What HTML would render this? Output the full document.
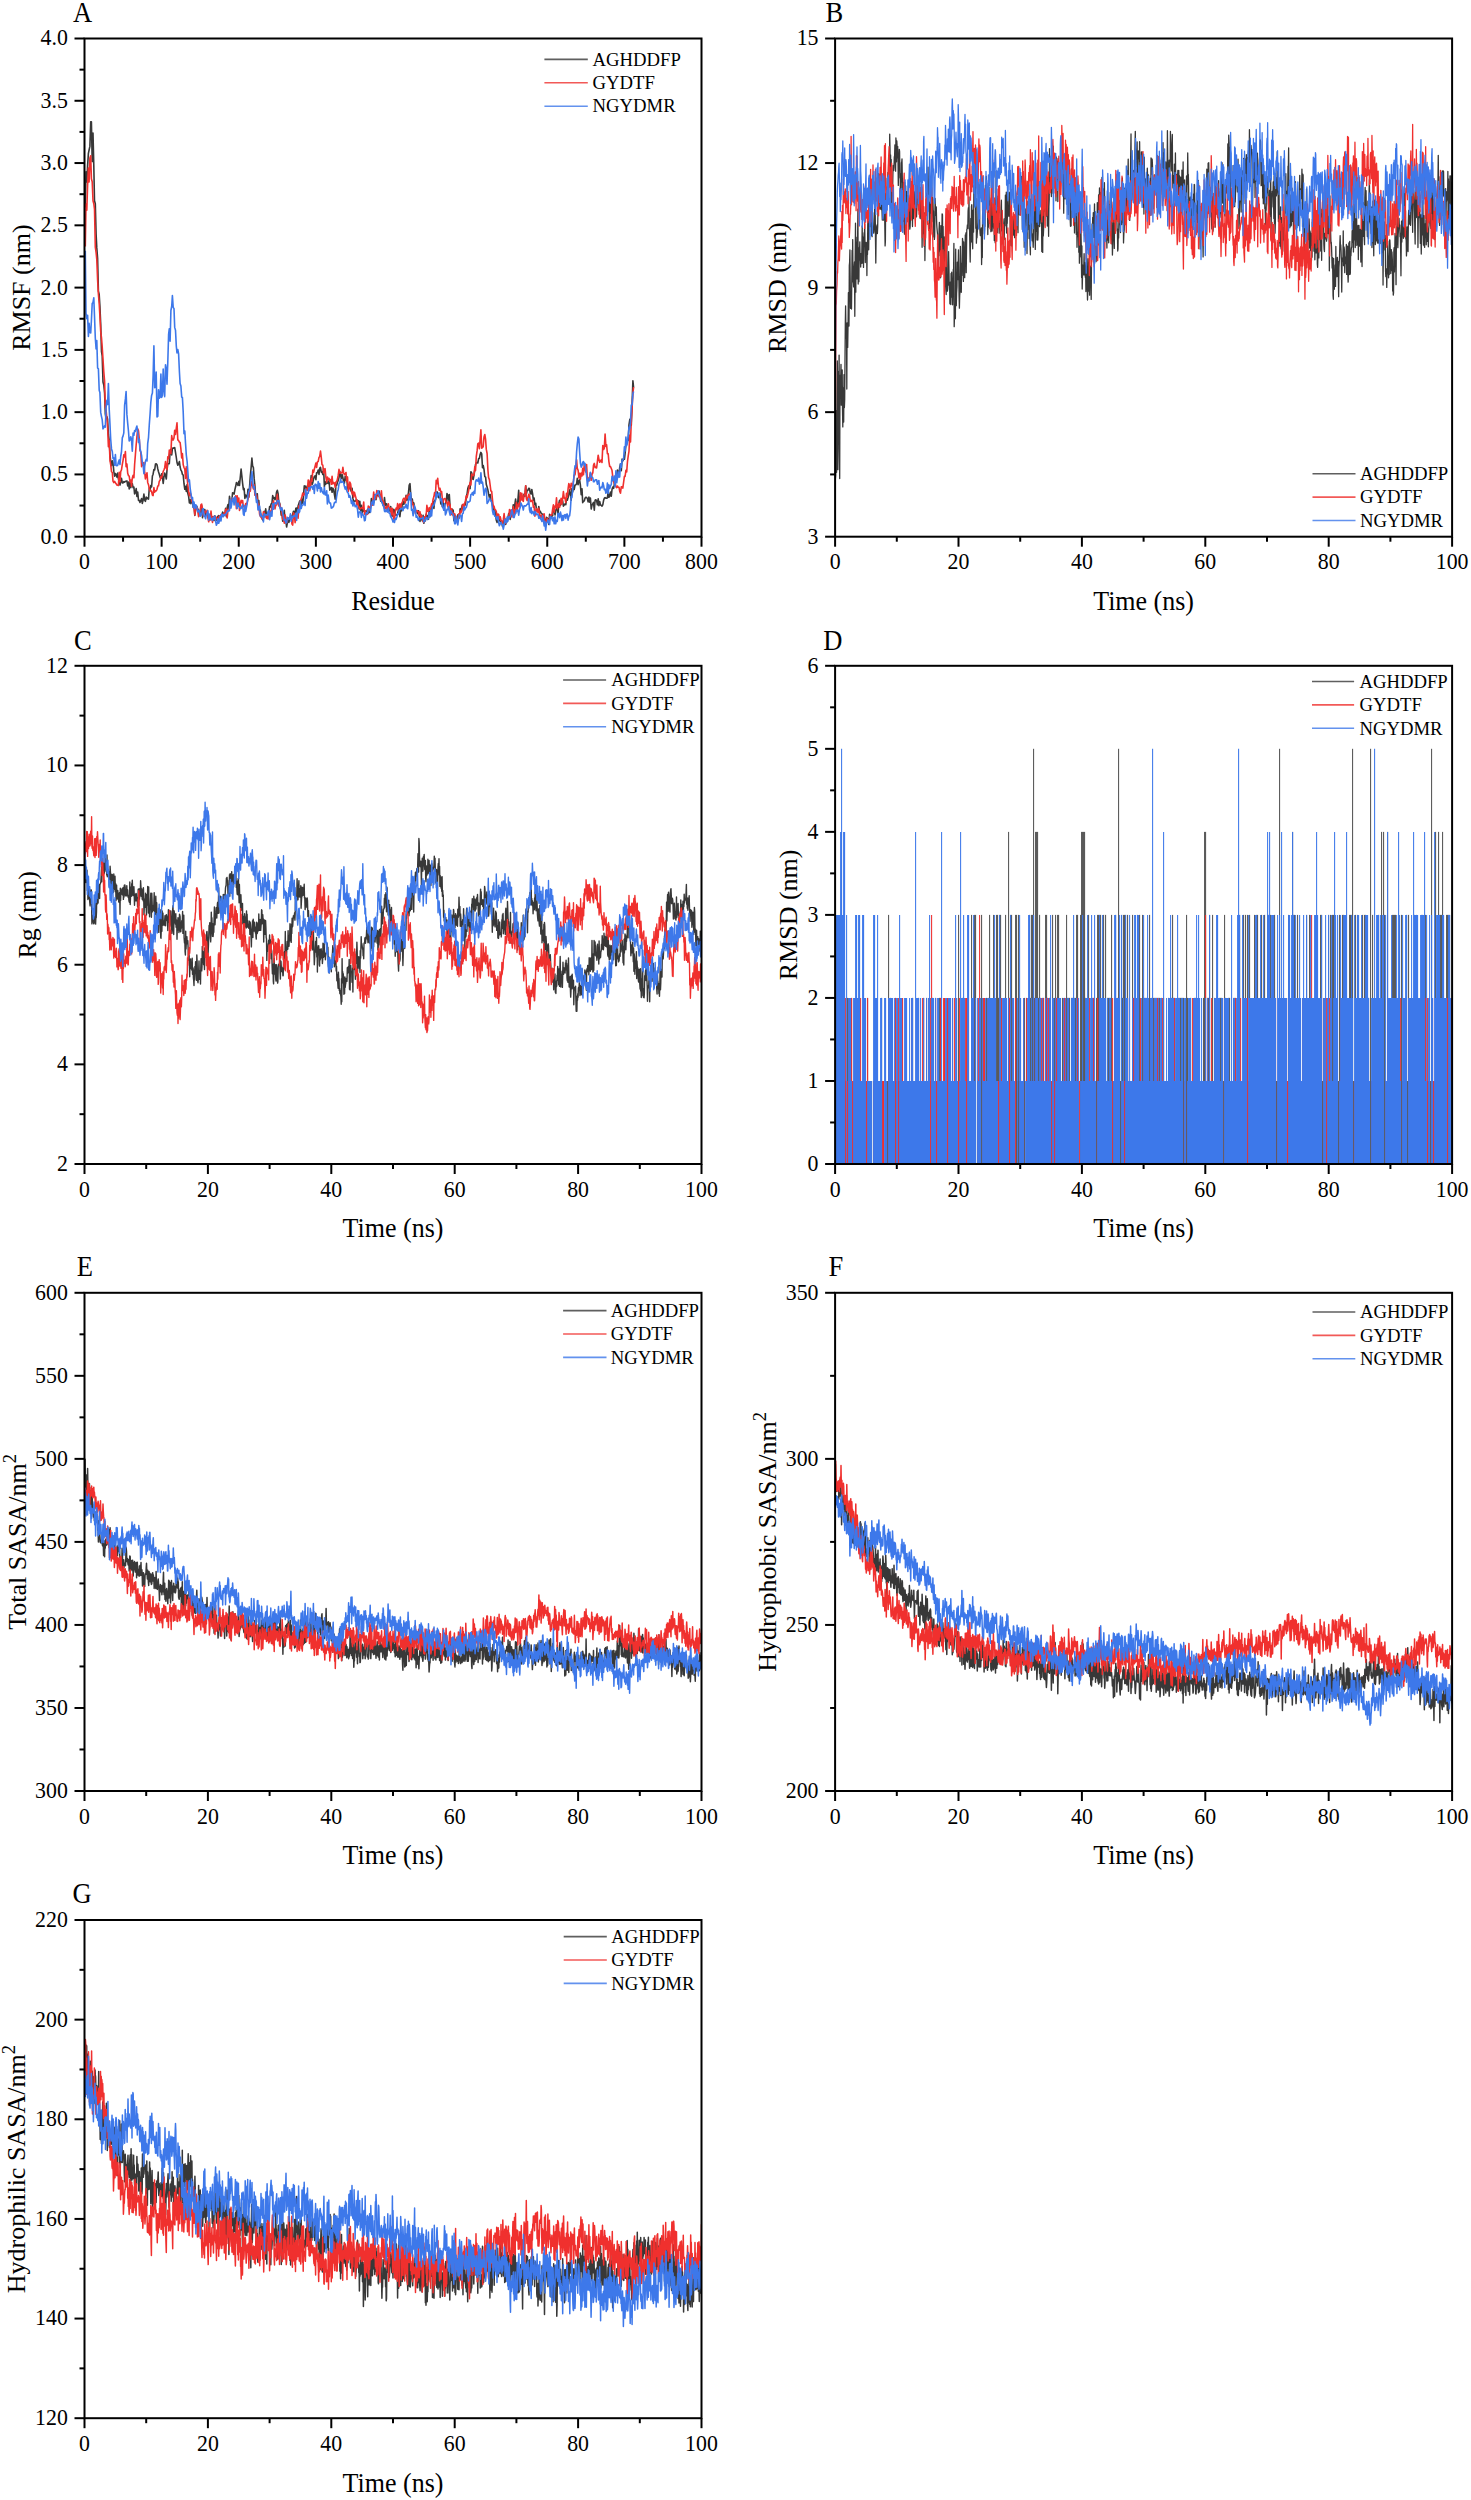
<!DOCTYPE html><html><head><meta charset="utf-8"><style>html,body{margin:0;padding:0;background:#fff;}svg{display:block;}</style></head><body><svg width="1471" height="2500" viewBox="0 0 1471 2500" font-family="Liberation Serif">
<rect width="1471" height="2500" fill="#ffffff"/>
<defs><clipPath id="cA"><rect x="84.5" y="38.5" width="617.0" height="498.2"/></clipPath><clipPath id="cB"><rect x="835.1" y="38.5" width="617.0" height="498.2"/></clipPath><clipPath id="cC"><rect x="84.5" y="665.8" width="617.0" height="498.2"/></clipPath><clipPath id="cD"><rect x="835.1" y="665.8" width="617.0" height="498.2"/></clipPath><clipPath id="cE"><rect x="84.5" y="1292.8" width="617.0" height="498.2"/></clipPath><clipPath id="cF"><rect x="835.1" y="1292.8" width="617.0" height="498.2"/></clipPath><clipPath id="cG"><rect x="84.5" y="1920.0" width="617.0" height="498.2"/></clipPath></defs>
<path d="M85.3 207.5l.7-35.8.8 10.2.8-16.3.8-12.2.7-3.4.8-3.6.8-24.5.7-.1.8 39.8.8-28.5.8 32.7.7 34.9.8 3.1.8 30.5.7 13.6.8 10.3.8 32.9.8 3.4.7 11.5.8 18.1.8 27.6.7 4.2.8 26.2.8 2.9.8 8.2.7 20.6.8 5 .8-2.1.7 2.5.8 15 .8 6.3.8 14.1.7 7.3.8 3.7.8-4.9.7 2.1.8 8.4.8 5 .8-2.7.7.9.8 2.7.8-4.1.7 6.1.8 1 .8 4.9.7-3.4.8-3.3.8 4.6.8 0 .7-1.3.8.6.8-.9.7-.1.8-.3.8 5.1.8-3.9.7 6.8.8-6.7.8 5.4.7-3.2.8-.8.8 4.1.8-.7.7 7 .8-1.7.8-3.7.7 7.9.8-4.5.8 8.4.8 0 .7 2.1.8-1.9.8-2.1.7 4.9.8-3.2.8-6.1.8 6 .7 1.3.8-4.3.8 1.7.7-.9.8 1.2.8-11.3.8 2.3.7-4.5.8 1.3.8-10.9.7-1.8.8-4.7.8.4.8-6 .7-.2.8 1 .8 4.2.7 2.9.8 2.5.8 2.9.8 1.2.7-4.5.8 2.7.8 6.9.7-6.4.8-4.1.8 2.5.8 3.5.7-9.1.8-6 .8-.2.7 0 .8-11.7.8-2.8.8 5.7.7-6.3.8-.7.8.4.7-.7.8 4.8.8 5.1.7 5 .8 2.7.8-1.1.8-2.5.7 5.4.8 3.1.8 1.3.7 2.9.8.7.8 8.7.8 5.6.7-2.9.8 5.1.8-6.9.7 8.7.8 2.9.8 6.8.8-3.3.7 4 .8-4.5.8 2 .7 6.2.8-2.6.8 10.7.8-5.2.7-4.8.8 1.7.8 2.1.7.8.8 4.5.8 0 .8-4.5.7-4.3.8 12 .8-8.1.7.3.8-.5.8 5.9.8-.5.7-1.3.8 3.7.8 1.1.7-.5.8-1.9.8-.8.8 1.6.7.3.8 2.7.8.6.7-4.7.8 3.9.8.6.8-2.3.7-1.5.8-.8.8 1.9.7.7.8-1.6.8-.3.8-4.2.7 2.6.8-1.7.8 1.4.7-6.1.8 8.4.8-9.2.8-3 .7 4.1.8-12.3.8 5.4.7-1.8.8 1.1.8-8.3.8.4.7 1 .8-4.5.8-3.3.7-3.7.8 1 .8 1.8.8-4 .7 4 .8-8.2.8-8.1.7 6.6.8 7.6.8 6.3.7-1.1.8 9.9.8-3.3.8.4.7 2.3.8-8.6.8 8.1.7-9.3.8-12 .8-8.1.8-9.9.7 7.9.8 1.7.8 11.3.7 6.8.8 10.1.8.8.8-2.9.7 10.9.8-4.1.8 10.3.7-.6.8 6.8.8.5.8 2.5.7-2.5.8-6.2.8 5.3.7-7.7.8 6.7.8 1.5.8-4.3.7.8.8-7.1.8.6.7-3.1.8-.5.8-7.9.8 3.2.7-1.3.8 2.3.8-1.8.7-5.7.8-2 .8 3.3.8 10.3.7-1 .8 4.7.8 7.5.7-3.4.8 9.6.8-6 .8-4.9.7 11.4.8-1.5.8 6.7.7-3.9.8-5 .8 4.3.8-3.6.7.1.8-.7.8-2.4.7-1.6.8-2.9.8.3.8 3.4.7-6.7.8-.2.8 6.5.7-8.7.8-2.4.8-2.4.7-.6.8 4 .8-5.2.8 4 .7-8.2.8-9.2.8 2.6.7-2.5.8 2.8.8-.2.8-1.6.7-5.2.8 2.5.8-1.5.7-7.3.8 9.3.8-2.1.8-3.8.7-2.4.8-.7.8 3.8.7-6.9.8.1.8-2.8.8 4.4.7-6.1.8-1 .8 4.8.7-.3.8 2.6.8-5.8.8 18.1.7-4.9.8 2.3.8-3.5.7 2.5.8.3.8-2.8.8 9.6.7-1.6.8-.9.8 4.6.7-4.2.8 1.4.8 4.8.8 4.8.7-14.6.8.7.8-2.9.7-1.9.8-2.8.8-6.3.8 4.1.7 3.1.8-4 .8 3.3.7 3.9.8 1.4.8-6.7.8 3.6.7-3.2.8 10.5.8 2.3.7-2.3.8-1.8.8 4.3.8 2 .7-3.5.8 10.1.8 3 .7-.3.8 0 .8-.8.8-.7.7 3.3.8-2.1.8 8.2.7-7.6.8 9.1.8-5.2.8 7.3.7-3.1.8 1.7.8-.5.7.1.8 1.9.8-1.3.7-1.9.8 3.8.8-2.7.8 1.8.7-5.9.8-7.9.8 2.8.7 3.2.8-2.4.8-7.3.8 2.9.7 1.9.8-3.8.8-1.7.7 1.3.8-4.4.8 3.5.8 6.5.7-1.7.8 3.3.8 1.6.7 2.3.8-9.1.8 7.8.8-1.5.7.3.8 5.1.8-1.5.7 1.2.8 2.2.8-4.5.8 6.8.7 2.8.8-3.1.8-3.9.7 1.7.8 3.8.8.5.8-.3.7-1.4.8-3.7.8-1.9.7 8.8.8-7.3.8 1.5.8-7.3.7-2.6.8 3.5.8-2.8.7-.2.8-6.2.8 4.9.8-3.4.7-3.3.8-8.3.8-1.5.7 10.6.8 6.6.8-1.8.8 5.5.7-1.7.8 7.3.8.2.7 1.4.8-.7.8 2.7.8-3.1.7 4.2.8 6.5.8-7 .7 4.3.8 2 .8-5.3.7 7.9.8-3.9.8 1.4.8-6.8.7 4.1.8-2.6.8 3.8.7-9.1.8 6.5.8-6.7.8-1.5.7-2.8.8-4.2.8 6.9.7-7.2.8-1.5.8-3.3.8-4.6.7.9.8 4.9.8-.6.7-3.6.8 10.6.8-2.2.8 5.1.7-4.8.8 7.7.8-4.9.7-1.6.8-1.7.8-8 .8 1.6.7 7.5.8-8.1.8 12.7.7 4.2.8.9.8-3.1.8 1.1.7 10.3.8-5.7.8 4.2.7-.7.8 1.6.8-5.2.8-.5.7 3.6.8-9.2.8 2.1.7-3.1.8-3.1.8 5.4.8-4.3.7-.1.8-2.1.8-6.4.7-2.7.8-5.9.8-2.7.8 2.3.7.4.8-16.9.8 1.2.7 5.8.8.7.8-4.2.8-5 .7-5.6.8-1.7.8-.3.7.4.8-4.2.8-.5.8-4.1.7-1.8.8 1.5.8 13.8.7-2.2.8 3.8.8 7.3.8.5.7 7.4.8 2.6.8 2.9.7 4 .8 3.5.8-3 .7 5.4.8 2.2.8 2.7.8 5.3.7 3.1.8-2.7.8 4.6.7 5.1.8 2.2.8-6 .8 3.7.7-.9.8 2.4.8.5.7.4.8 3.9.8-4.2.8-3.7.7 0 .8 6 .8-2 .7-.9.8-3.9.8-4.1.8.7.7 5.2.8-6.1.8-3.1.7 2.8.8-8.4.8 6.3.8-7 .7-5 .8 9.9.8-4.4.7-4.2.8-9.9.8 14.7.8-8.6.7-.2.8 1.3.8.4.7-2.1.8-1.8.8 2.3.8-10.7.7 8.1.8-3.4.8-.2.7-1.9.8.3.8 5 .8.3.7-4.4.8 4.3.8 6.5.7-2.3.8 6.9.8-1.6.8 6.7.7.6.8.7.8-4.8.7 4.6.8.1.8 2.1.8.4.7.9.8 0 .8 2.7.7 4.1.8.6.8-4.7.7.5.8 1.4.8 5.2.8-10.1.7 2.5.8.2.8-1.3.7.2.8-7.3.8-.8.8 7.2.7-3.7.8-2.6.8-4 .7 10.3.8-11.4.8-3.4.8 5.2.7-1.5.8-4.8.8 2.2.7 4.8.8-1.1.8-1.1.8.7.7-5.2.8.8.8-2.7.7-3.1.8-4.5.8 4.3.8 6.1.7-11.8.8 3.3.8-6.1.7 3.8.8-4.4.8-.2.8-1.1.7-5.4.8 6.2.8-3.7.7-1 .8 5.3.8 9.4.8-5.7.7 13.8.8-1.5.8-.3.7-2.6.8-1.1.8.3.8 1.1.7 3.3.8-4.8.8 5.1.7-4.2.8 11 .8-3.9.8-1.1.7-1.6.8 7.7.8-10 .7-.4.8.8.8 4.3.8-5.9.7 6.8.8-4.2.8 3.5.7.3.8.8.8-1.3.8-4.5.7-1.9.8-.9.8.7.7-.1.8-.2.8-6.1.7 5.5.8-1.1.8-4.1.8 4.1.7-6.7.8-2.4.8 1.3.7-3.8.8-6.7.8 1.2.8-3.3.7-5.8.8 4 .8-.1.7-6.2.8-3.8.8 6.9.8-11.7.7 1.9.8-1.6.8-.1.7-5.9.8-8 .8-1.4.8-4.5.7 1 .8-15.6.8-5.4.7-.5.8 6.3.8-21.7.8-22.7.7 6.7" fill="none" stroke="#383838" stroke-width="1.6" stroke-linejoin="round" clip-path="url(#cA)"/>
<path d="M85.3 246.5l.7-42.4.8 6.2.8-24.9.8-17.3.7 13.9.8-23.9.8-2.4.7 23 .8 3.1.8 18.9.8 3 .7 5.5.8 37.9.8 5.5.7 7 .8 20.4.8 14.3.8 9.3.7 12.3.8 15.5.8 6.4.7 9.1.8 12.5.8 12.5.8 9.3.7 25.6.8 3.4.8 8.5.7 8.5.8 19.5.8-6.4.8 20.3.7 4.1.8 7 .8.8.7 8.6.8 1.5.8-1.2.8 1.3.7 1 .8 1.3.8.2.7.3.8-13.3.8 9.4.7-9.8.8-2 .8-5.4.8-4.3.7-5.2.8 2.1.8-5.4.7 15 .8-2.6.8 9.2.8 2.5.7.5.8 5.7.8-1.8.7 6.2.8-8.1.8-2.9.8 2.4.7-12.9.8-10.2.8-10.1.7-7.8.8-7.8.8 2 .8 8.4.7 11.3.8 1.5.8 14.6.7-3.9.8 2.5.8-2.7.8 10.1.7 6.2.8-3.4.8-2.8.7 9.7.8 2.3.8 3.8.8 2.5.7-.7.8 1.3.8 3.5.7.5.8-8 .8 4.5.8-1.3.7.1.8-1.6.8-3.3.7-.2.8-4.6.8-.9.8-3.8.7 1.4.8-2.8.8-3.7.7-1.4.8-2.3.8-6.2.8 6.7.7 1.4.8-12.7.8 1.8.7-8.6.8 2.4.8 1.1.8-18 .7 4.2.8.2.8-2.1.7-7.5.8 4.1.8-6.5.7-5.2.8 17.1.8.6.8 1.6.7.3.8 6.5.8 9.1.7-4.5.8 11.1.8 2.9.8 1.7.7 9.3.8-11.6.8 10.7.7 7.2.8 6.5.8 4.5.8-2.7.7 1.4.8 6.1.8 1.8.7.1.8 4.5.8 7.9.8-7.4.7 1.5.8-1.3.8 4.7.7 4.3.8-2.4.8-4.5.8-5.1.7-.6.8 6.3.8 5.5.7-3.1.8-1.7.8.6.8 1.7.7-3.1.8 7.2.8 4.3.7-3.1.8 1.4.8-9.1.8 7.5.7 3.9.8-5.4.8-.8.7 3.1.8-.1.8-1.9.8 1.7.7 2.8.8-4.3.8-1.7.7 1 .8-2.2.8.2.8 1.7.7-.9.8-2.9.8 2.7.7-5.7.8-.9.8 9.1.8-7.7.7.3.8-2.1.8-4.2.7-.8.8-4.1.8-1 .8.1.7 4.1.8-1.1.8-5.5.7 12.9.8-13.1.8 7.6.8-5.2.7 12.3.8-6.5.8-3.6.7 2.5.8-2.3.8 6.3.7-.6.8.7.8-3.3.8.5.7-1.7.8-3.1.8-3.4.7-4.9.8.1.8-6.7.8-3.2.7 4.5.8 3.2.8-4 .7 10.3.8-.3.8 0 .8 4.7.7 5 .8-.4.8 10.1.7 2 .8.2.8 2.1.8-.7.7-6 .8.1.8 4.6.7-1.2.8 3 .8-3.9.8 4.5.7-8.5.8 5.3.8-4.7.7 4.1.8-9.6.8.8.8-5.6.7 4.3.8 3.8.8-4.1.7.1.8-10.7.8 9.2.8 2.5.7-2.2.8 3.1.8 1.4.7 5.1.8 6.1.8-.3.8 4 .7-8.3.8 2.7.8 5.3.7-3.4.8-.7.8-.5.8-.3.7-1.5.8 1.7.8 6 .7 1 .8-12.2.8 1.4.8 8.5.7-8.5.8 2.6.8-3 .7 4.3.8-12.3.8.7.7-4.9.8-2.8.8-2.7.8-3.2.7 2.4.8-1.8.8.9.7-5.9.8.6.8 1.3.8-10.4.7.1.8 10.6.8-4.5.7-7.6.8 2.6.8-11.2.8 2.2.7-3.1.8-3 .8-3.2.7 4.4.8-5.5.8-.4.8-4.1.7-.9.8-5.4.8 6.6.7 6.9.8.6.8 7.7.8-2.7.7-1.5.8 8.7.8 4.7.7-5.1.8 2.3.8-1 .8 2.9.7-1.7.8 4.8.8-8.1.7 7.7.8-1.4.8.4.8 4.5.7-5.3.8-.6.8-2.4.7-3.9.8-5.8.8 3.6.8-.5.7.5.8 0 .8-5.7.7 5.4.8 1.9.8-.8.8-1.3.7 8.9.8-4.4.8 14.2.7-3 .8-6.2.8 1.9.8 6.3.7 3.7.8-2.5.8 5.7.7-4.8.8 2.8.8 3 .8 6.8.7-4.2.8 5.5.8.9.7 1.6.8 0 .8-.9.8-.1.7 1 .8-6.7.8 12.2.7-3.5.8 4.3.8-2.5.7 1.8.8-8.2.8 1.7.8-.7.7-.3.8-4.3.8 2.7.7-4.6.8-8.5.8 6.8.8-.1.7-.4.8-7.8.8.8.7 4 .8 1.5.8-1.7.8 4.7.7-9 .8 8.8.8 1.2.7 1 .8 6.7.8 0 .8-2.2.7.2.8 5 .8-7.7.7 5 .8-1.2.8 1.6.8 5.4.7-6.5.8 5.8.8 5.1.7.4.8-7.9.8-3.5.8 1.5.7-6 .8 5.3.8-3.5.7-1.5.8 4.6.8-5 .8-.9.7-3.2.8-1.1.8-.1.7 4.8.8-5.6.8-1.9.8 2.5.7-3.1.8-.9.8.4.7 5.3.8.4.8 2.5.8 2.1.7 3.8.8.8.8 4 .7-1.1.8-1.8.8 1.1.8.5.7 3.4.8-3.5.8 6.2.7-2.6.8 1.9.8 4.2.7.7.8-5.6.8.5.8-2.2.7-9.7.8 5.8.8-.1.7-3.4.8 2.6.8-2.8.8-3.5.7.9.8-5.6.8-2.6.7-4.1.8 3.3.8-15.4.8 3.4.7-5.4.8 8.3.8 3.6.7-2 .8 3.9.8-.6.8 7.8.7 2.9.8-3.4.8-.3.7.2.8 3.9.8 0 .8 4.2.7-5.7.8 2.1.8 1.6.7 9.8.8-6 .8 6.3.8-2.1.7 1.7.8-.8.8 5.5.7 2 .8.4.8-1 .8-6.6.7 2.9.8-6.2.8 1.7.7-.9.8-6.2.8-1.2.8 4.2.7-5 .8-3 .8-4.7.7 2.1.8-3.5.8-3.5.8-5.3.7-3.2.8 2.6.8-10.8.7.9.8.7.8-1 .8-7.9.7 3.7.8-14.2.8-5.4.7-7 .8-.8.8 5.6.8-10.3.7-8.5.8 18.2.8-.6.7-.8.8-9.8.8-2.4.8 5 .7 9.9.8 4.1.8 16.2.7 7.9.8 2 .8 5.9.7 5.5.8.5.8 8.3.8 7.4.7-1.1.8 3.4.8.5.7 1.5.8 5.7.8-3.2.8.4.7 4.6.8-2.2.8 3.4.7 1 .8 2.1.8-3.4.8-6.4.7 6.7.8 3.2.8-3.3.7.4.8-3.3.8.7.8-8.4.7 4.5.8-3.9.8 6.8.7-2.2.8-8.1.8 9.8.8-6.9.7 3.8.8-10.8.8 7.7.7-4.8.8-1.8.8 3.4.8-14.3.7 7.4.8-6.9.8 6.6.7 1.5.8-6.6.8.1.8-9 .7 13.1.8 1.7.8-2.8.7-3.4.8.9.8 5.9.8.4.7-1.2.8-.1.8 7 .7-1.2.8 10 .8-4.4.8-3.2.7 2.4.8 1.6.8-4.2.7 6.7.8 3.1.8-3 .8.7.7 4.7.8-5.5.8-1.2.7 7.3.8 1.5.8-1.5.7-2.9.8 3.8.8-.8.8-1.6.7-3.6.8-1.2.8-.1.7-5.3.8-4.5.8 7.3.8-6.2.7 1.3.8-9.5.8 10.9.7-2.7.8-2.5.8 3.8.8-4.9.7-4.1.8 5.9.8-6.2.7-6.5.8 6.7.8-.1.8 4.4.7-9.2.8 3.9.8-8.6.7-5 .8 2.5.8 3.4.8-6.3.7 2.7.8-.3.8-4.9.7-5.4.8-.5.8-6.1.8-8.9.7 8.4.8 2 .8 7.8.7-4.8.8 6 .8-6.1.8 2.9.7-7.6.8 6.4.8-11.5.7 5 .8 3.7.8-7.4.8 15.5.7-2.1.8 3.1.8-4.6.7-3.8.8 7.6.8-6 .8-1.4.7-7.5.8-2 .8 4.2.7-.5.8.9.8-6.5.8-6.3.7 3.9.8 3.1.8-.7.7-1.7.8 2.7.8-17 .8 4 .7-1.3.8-14.1.8 12.4.7-1.7.8 8.8.8.2.7 7.8.8 4.9.8.1.8 1.9.7 1.8.8 6.5.8 4.7.7 1.9.8-1 .8 4.3.8.9.7-1.6.8 1.3.8-.1.7 3.9.8 2 .8-6.4.8.2.7 1.3.8-5.8.8-6.1.7.1.8-6 .8 1.5.8-10.6.7-5.2.8-5 .8-16 .7 6.8.8-21.2.8-12.5.8-15 .7-6" fill="none" stroke="#f0302e" stroke-width="1.6" stroke-linejoin="round" clip-path="url(#cA)"/>
<path d="M85.3 250.7l.7 62.5.8 5.4.8-3.3.8 21.1.7-13 .8 8.9.8.7.7-12.2.8-17.3.8-1 .8-4.6.7 18.1.8 22 .8 11 .7-8.4.8 27.4.8.9.8 21.3.7 2.2.8 20 .8 4.2.7 3 .8 9.3.8-1.3.8-1.7.7 1.2.8-19.4.8-7.3.7 4 .8-20.8.8 25.3.8 15.8.7 14.6.8 9.6.8 2.6.7 6.9.8-.5.8 7.4.8-10.8.7 11 .8.3.8-.4.7-3.2.8-2.3.8 4.6.7-8 .8-5 .8-13.6.8-2 .7-3 .8-27.5.8-6.5.7-7.3.8 22.8.8 9 .8 8.1.7 9.4.8-.9.8-3.3.7 2.9.8 11.7.8-18.2.8 2.2.7-4.8.8.9.8-3.3.7-2.1.8 5.8.8 10.7.8-3.4.7 9.3.8 3.2.8 4 .7 6.4.8 2.8.8 8.8.8-7.4.7-4.5.8-2.4.8 1.7.7-17.3.8-6 .8-13.2.8-11 .7-10.9.8-7.2.8-2.3.7-17 .8-30.2.8 41.9.8-.9.7-14.9.8 45 .8-.7.7-26.6.8 8.4.8-.8.8-23.3.7 23.5.8-2 .8-26.5.7 20.4.8 7.3.8-32 .8 4.5.7 15.1.8-22.3.8-27.6.7-5.7.8 12.6.8-30.8.8-4 .7-11 .8 11.8.8 1.3.7 18.8.8 2.9.8 15.8.7 6.8.8-3.4.8 4.4.8 17.6.7 12 .8 2.5.8 11.1.7.3.8 14.3.8 22 .8-2.6.7 11.8.8 12.1.8 6.3.7 9.7.8 10.8.8-1.9.8 8.7.7 4.6.8 5.5.8-1.2.7 9.6.8-5.1.8 6.6.8-3.8.7.7.8 3.2.8 3.3.7-1.7.8.2.8 5.8.8-2.9.7 1.5.8-5.7.8-.5.7 7.6.8-.2.8 2.7.8-4.3.7-1.2.8-2.5.8 9.3.7-6 .8 3.5.8 2 .8-.7.7 1.6.8-3.1.8 1.6.7-3 .8 5.2.8 4.1.8-2.1.7-4.4.8 4.5.8-2.8.7-4.3.8 4.8.8-7 .8.7.7 2.1.8-2.3.8.7.7-1 .8-.8.8-1.7.8-1.1.7.5.8-.7.8-10.8.7 8.4.8-4.3.8-5.8.8 1.2.7 5.9.8-8.2.8 1.3.7 7 .8 3.3.8-5.3.8 3 .7.7.8 1.9.8-.2.7-2 .8-1.9.8 9.5.7 1.3.8-9.9.8 5.9.8-4.3.7-3.2.8-8.7.8-4 .7-1 .8-5.3.8-6.7.8-6.6.7 9.2.8 7.2.8-1.6.7 4.7.8 4.5.8 6.9.8-2.5.7 10 .8-1.2.8-2.8.7 9.9.8-1.8.8 2.6.8-.4.7 5.7.8-8.1.8 2.1.7-1.4.8.2.8.3.8-3.7.7-1 .8 9.2.8-4.6.7-3.3.8 4.6.8-12.6.8 5.4.7-5.6.8-.5.8-.1.7 1.1.8-3.6.8.6.8-.1.7 5.2.8 2.6.8 1.7.7-2.6.8 4.7.8 4.5.8 3.3.7-.8.8 3.1.8.2.7-5.5.8 1.3.8.7.8-1.1.7-4.3.8 7.5.8-5 .7 1.2.8-1.5.8-.4.8.6.7-3.1.8 7.3.8-8.6.7-2.6.8 3.5.8-1.3.7-10.2.8 7.2.8-3 .8-.2.7-1.9.8-1.2.8 3.3.7-16 .8 8.7.8-5.1.8.2.7-5.5.8 1.6.8-2.1.7-.8.8.5.8 2.1.8-3.6.7 8 .8-9.2.8 0 .7 1.2.8 5.5.8-9.5.8 6.8.7-4.8.8 8.5.8-4.3.7 3.1.8 1.9.8 1.2.8-6.7.7 7.6.8.3.8-4.3.7 13.1.8-8.9.8 6.7.8 1.4.7-.1.8 5.1.8-.3.7-.6.8-1.2.8-3.4.8-.5.7.4.8-6.5.8-4.4.7-1.9.8-5.8.8-1.2.8-3.6.7 3.3.8-.4.8-.2.7.9.8 3.6.8 2.8.8-2.4.7 3.8.8 2 .8.7.7 4.1.8-1.6.8 2.3.8 5.4.7-2.8.8 5.4.8-4 .7 1.6.8 3.2.8-1.5.8.9.7 3 .8 8 .8-5.2.7.5.8-1 .8 5.9.8-4.2.7 1.7.8.5.8 5.4.7-.4.8-7.2.8-.7.7 1.1.8-5.1.8.9.8.5.7 2 .8-9.5.8 1.6.7-3.3.8 4.5.8-6 .8-4.8.7-.2.8-.3.8-.7.7-2.5.8 3.9.8 2 .8 1.8.7 3.2.8 1 .8 2.9.7 0 .8 5.7.8.5.8-2.1.7 2 .8.4.8-4 .7 5.1.8.3.8 3.4.8 1.1.7 1.4.8 2.6.8-1.7.7 2.2.8-4 .8.9.8-2.3.7-3.2.8.6.8-4.2.7-.6.8-.8.8-.5.8.9.7 1.4.8-3.8.8 1.2.7-1 .8-2.8.8 3.7.8.8.7-7 .8-5.5.8 3.5.7-6.8.8 17.4.8-1 .8 6.4.7-3 .8-6.8.8 2.3.7 9 .8-1.2.8 2.2.8 2.2.7-2.4.8 1 .8-.5.7.3.8-.5.8-1.1.7 4.8.8-.7.8-1.6.8-2.2.7.6.8 1.5.8-2.3.7-4.7.8 4.2.8-6.4.8 5.5.7-8.3.8-2.3.8.1.7-2.9.8-1.6.8-8.6.8 4.6.7-1.4.8-1.9.8-.5.7 4.3.8 3.3.8-1.9.8 7.4.7 1.8.8 2.2.8-6.5.7 11.2.8-1.9.8-3.7.8.4.7-3 .8 4.8.8 3.7.7-4.4.8 1.9.8.8.8 1.2.7 2.6.8 6.5.8-.1.7-7.4.8 4.3.8 4.3.8-6.3.7-3.6.8.7.8 0 .7 5.8.8-7.9.8-.4.8-6.4.7 3.1.8-1.7.8-.7.7-2.8.8-3.1.8.6.8-.6.7-.7.8-6.3.8-.3.7-1.7.8 2.6.8-4 .8 2.2.7-11.4.8-2.3.8 1.1.7.3.8-3 .8 6.1.8-1.5.7-10 .8 10.5.8-1.1.7 4.7.8 8.5.8-4 .8-3 .7.5.8 14.7.8-1.1.7-1.2.8-2.9.8 1.3.7 1 .8 1.7.8 8.5.8 3.7.7-3.7.8 5.5.8 0 .7 2 .8 1 .8-2.8.8 6.3.7 2.9.8-2.1.8-1.3.7 2 .8.4.8 4.4.8-3.7.7-6.1.8 2.8.8.8.7-5.8.8 4.1.8-4.4.8.9.7-1.2.8-2.5.8-4.2.7 2.1.8 5.5.8.1.8-3 .7-1.1.8-3.3.8 1.3.7-1.2.8 5 .8-5.6.8-2.4.7-4.2.8 2.2.8 1.5.7 3.3.8-4.3.8 0 .8.4.7-.9.8-1.1.8.2.7-5.5.8 11 .8 2.8.8-5 .7 6 .8-2.1.8.7.7 2.9.8-3.9.8 1.2.8 2.3.7-.6.8 0 .8 4.2.7-1.8.8 1.9.8 1 .8 2 .7-5.6.8 4.6.8 5.5.7-4.7.8 9 .8-7.1.7-.8.8-2.4.8 2.7.8 1.9.7-8 .8 1.9.8-1.3.7 3.7.8-3.1.8 6.1.8-7 .7 7 .8-3.4.8.9.7-7.9.8.3.8 4 .8-5.7.7 3 .8 5.6.8-5 .7 4.4.8-4.9.8-.4.8 3.7.7-4.1.8-.2.8 6 .7-3.8.8-.5.8-6.3.8-13 .7.9.8-7.9.8-7.8.7-9.2.8-6.6.8.9.8-15.1.7-7.9.8-6.8.8 2.1.7 12.4.8 11.7.8 3.9.8-1.5.7-3.2.8-.8.8 3.5.7-1.7.8 5.7.8 6.9.8 10 .7-5.7.8-2 .8 2.1.7-8.2.8 4.1.8.9.8.7.7 3.9.8-.1.8-1.7.7-.3.8.1.8 4.4.8-2.9.7-.8.8 9.8.8-2.7.7-.5.8.8.8-5.4.8 3 .7 4.1.8-.4.8 4.1.7-1.8.8-8.4.8 10.3.7-8.6.8 3.6.8-2.4.8-1.7.7-8 .8 4.3.8-1.7.7-2.9.8 10.8.8-16 .8 12 .7-4.6.8-6.3.8 5.2.7-.1.8-13.2.8 3.6.8-7 .7-.3.8-1.4.8-11.9.7 4.1.8-13.9.8 8.5.8-3.5.7-5.7.8-9.2.8 1.6.7-6.9.8-16.8.8 0 .8-11.3.7-2.2" fill="none" stroke="#3d78ea" stroke-width="1.6" stroke-linejoin="round" clip-path="url(#cA)"/>
<g stroke="#000" stroke-width="2" fill="#000"><line x1="84.50" y1="536.70" x2="84.50" y2="546.70"/>
<text stroke="none" transform="translate(84.50,569.30) scale(0.93,1)" text-anchor="middle" font-size="23.5">0</text>
<line x1="123.06" y1="536.70" x2="123.06" y2="541.70"/>
<line x1="161.62" y1="536.70" x2="161.62" y2="546.70"/>
<text stroke="none" transform="translate(161.62,569.30) scale(0.93,1)" text-anchor="middle" font-size="23.5">100</text>
<line x1="200.19" y1="536.70" x2="200.19" y2="541.70"/>
<line x1="238.75" y1="536.70" x2="238.75" y2="546.70"/>
<text stroke="none" transform="translate(238.75,569.30) scale(0.93,1)" text-anchor="middle" font-size="23.5">200</text>
<line x1="277.31" y1="536.70" x2="277.31" y2="541.70"/>
<line x1="315.88" y1="536.70" x2="315.88" y2="546.70"/>
<text stroke="none" transform="translate(315.88,569.30) scale(0.93,1)" text-anchor="middle" font-size="23.5">300</text>
<line x1="354.44" y1="536.70" x2="354.44" y2="541.70"/>
<line x1="393.00" y1="536.70" x2="393.00" y2="546.70"/>
<text stroke="none" transform="translate(393.00,569.30) scale(0.93,1)" text-anchor="middle" font-size="23.5">400</text>
<line x1="431.56" y1="536.70" x2="431.56" y2="541.70"/>
<line x1="470.12" y1="536.70" x2="470.12" y2="546.70"/>
<text stroke="none" transform="translate(470.12,569.30) scale(0.93,1)" text-anchor="middle" font-size="23.5">500</text>
<line x1="508.69" y1="536.70" x2="508.69" y2="541.70"/>
<line x1="547.25" y1="536.70" x2="547.25" y2="546.70"/>
<text stroke="none" transform="translate(547.25,569.30) scale(0.93,1)" text-anchor="middle" font-size="23.5">600</text>
<line x1="585.81" y1="536.70" x2="585.81" y2="541.70"/>
<line x1="624.38" y1="536.70" x2="624.38" y2="546.70"/>
<text stroke="none" transform="translate(624.38,569.30) scale(0.93,1)" text-anchor="middle" font-size="23.5">700</text>
<line x1="662.94" y1="536.70" x2="662.94" y2="541.70"/>
<line x1="701.50" y1="536.70" x2="701.50" y2="546.70"/>
<text stroke="none" transform="translate(701.50,569.30) scale(0.93,1)" text-anchor="middle" font-size="23.5">800</text>
<line x1="74.50" y1="536.70" x2="84.50" y2="536.70"/>
<text stroke="none" transform="translate(67.90,543.60) scale(0.93,1)" text-anchor="end" font-size="23.5">0.0</text>
<line x1="79.50" y1="505.56" x2="84.50" y2="505.56"/>
<line x1="74.50" y1="474.43" x2="84.50" y2="474.43"/>
<text stroke="none" transform="translate(67.90,481.33) scale(0.93,1)" text-anchor="end" font-size="23.5">0.5</text>
<line x1="79.50" y1="443.29" x2="84.50" y2="443.29"/>
<line x1="74.50" y1="412.15" x2="84.50" y2="412.15"/>
<text stroke="none" transform="translate(67.90,419.05) scale(0.93,1)" text-anchor="end" font-size="23.5">1.0</text>
<line x1="79.50" y1="381.01" x2="84.50" y2="381.01"/>
<line x1="74.50" y1="349.88" x2="84.50" y2="349.88"/>
<text stroke="none" transform="translate(67.90,356.78) scale(0.93,1)" text-anchor="end" font-size="23.5">1.5</text>
<line x1="79.50" y1="318.74" x2="84.50" y2="318.74"/>
<line x1="74.50" y1="287.60" x2="84.50" y2="287.60"/>
<text stroke="none" transform="translate(67.90,294.50) scale(0.93,1)" text-anchor="end" font-size="23.5">2.0</text>
<line x1="79.50" y1="256.46" x2="84.50" y2="256.46"/>
<line x1="74.50" y1="225.33" x2="84.50" y2="225.33"/>
<text stroke="none" transform="translate(67.90,232.23) scale(0.93,1)" text-anchor="end" font-size="23.5">2.5</text>
<line x1="79.50" y1="194.19" x2="84.50" y2="194.19"/>
<line x1="74.50" y1="163.05" x2="84.50" y2="163.05"/>
<text stroke="none" transform="translate(67.90,169.95) scale(0.93,1)" text-anchor="end" font-size="23.5">3.0</text>
<line x1="79.50" y1="131.91" x2="84.50" y2="131.91"/>
<line x1="74.50" y1="100.78" x2="84.50" y2="100.78"/>
<text stroke="none" transform="translate(67.90,107.68) scale(0.93,1)" text-anchor="end" font-size="23.5">3.5</text>
<line x1="79.50" y1="69.64" x2="84.50" y2="69.64"/>
<line x1="74.50" y1="38.50" x2="84.50" y2="38.50"/>
<text stroke="none" transform="translate(67.90,45.40) scale(0.93,1)" text-anchor="end" font-size="23.5">4.0</text>
<rect x="84.50" y="38.50" width="617.00" height="498.20" fill="none"/>
<text stroke="none" transform="translate(393.00,610.00) scale(0.945,1)" text-anchor="middle" font-size="27.5">Residue</text>
<text stroke="none" transform="translate(29.90,287.60) rotate(-90)" text-anchor="middle" font-size="26">RMSF (nm)</text></g>
<line x1="544.4" y1="59.40" x2="587.8" y2="59.40" stroke="#383838" stroke-width="1.6" opacity="0.8"/>
<text x="592.6" y="65.60" font-size="18.7">AGHDDFP</text>
<line x1="544.4" y1="82.80" x2="587.8" y2="82.80" stroke="#f0302e" stroke-width="1.6" opacity="0.8"/>
<text x="592.6" y="89.00" font-size="18.7">GYDTF</text>
<line x1="544.4" y1="106.20" x2="587.8" y2="106.20" stroke="#3d78ea" stroke-width="1.6" opacity="0.8"/>
<text x="592.6" y="112.40" font-size="18.7">NGYDMR</text>
<text transform="translate(72.9,22.4) scale(0.9,1)" font-size="29.5">A</text>
<path d="M835.1 478.6l.3 0 .3-3.5.3-32.3.3-32.5.3 62 .4-77.8.3-33.5.3 25.5.3 83.2.3-21.6.3-76.8.3 35.7.3-51.9.3 65.2.3 58.3.3-102.6.3-.9.4 3.3.3-14.1.3 40.9.3-25.3.3 24.6.3-34.5.3 39.6.3 17.3.3-38.9.3 20 .3 14 .3-47.4.4 33 .3-8.4.3-37.6.3-36.9.3-18.7.3 22.5.3 9.6.3-9.9.3 60.9.3-66.3.3 10.9.3 13.7.4-26.4.3-28.3.3 17.8.3 15.6.3-60.6.3-2.9.3-12.6.3 29.3.3 29 .3-10.7.3-5.6.4 17 .3-30.4.3-28.1.3 22.1.3-33 .3 42.5.3-1.1.3 5.9.3-8.9.3-11.7.3-4.3.3 54.3.4-58.2.3-34.9.3 69 .3-55.1.3 30.7.3-25.6.3 36.7.3-28.8.3-11.5.3-29.5.3 74.9.3-33.5.4 31.2.3-34.1.3 6.1.3-11.9.3 18.4.3-2.7.3 9.5.3-8.6.3-5.1.3 10 .3-15.7.3-21.8.4 37.3.3-22.4.3-3.4.3 30.1.3-28.2.3-6.5.3 5.2.3-14.1.3 21 .3 17.7.3-20.1.4 9 .3-8.9.3 2.8.3 30.3.3-29.6.3 8.6.3-35.9.3 29.6.3-13 .3 14.5.3-25.2.3-3.7.4 1.1.3-.8.3 5.5.3-36.8.3 25.2.3 3.8.3 16.7.3-13.6.3 14.7.3-11.5.3-12.6.3 13.2.4 4.7.3 2.6.3-1.8.3-4.2.3-12.3.3-20 .3 15.2.3 30.3.3 22.8.3-25.7.3-8 .3-2.8.4-1.7.3 8.6.3-6.7.3-18.6.3 4 .3-38.6.3 10.6.3 5.2.3 5.1.3 14.6.3-27.1.3 21.6.4-27.7.3 33.6.3-16.2.3 1.4.3 16.6.3 8.8.3-16.5.3 15.4.3-3.6.3 4.7.3-47.2.4 16.8.3-15 .3 49.8.3 21.4.3-4.6.3-43.6.3-4.2.3 4.7.3 3.4.3.2.3-23.4.3 16.8.4-22.8.3 29.2.3-31.6.3-14.2.3 11.1.3 14.1.3-46.9.3 14 .3 22.9.3-16.1.3 23.1.3-18.5.4 45.2.3 1.6.3-12.2.3 2.2.3-16.4.3-14.4.3 4.6.3.4.3-3.2.3-10.6.3-.4.3-11.5.4 11.6.3 14.8.3-33.2.3 4.9.3 18.9.3-20.9.3 5.3.3 11.6.3-11.5.3 11.2.3 27.9.4-30.2.3 3.8.3-9.7.3 2.4.3 26.2.3-4.3.3 30.8.3-11.9.3 5.9.3-35.7.3-.3.3-3.4.4 23 .3.7.3 38.8.3-6.6.3-20.4.3-12.1.3 49 .3 2.8.3-51.6.3 11.3.3 13.3.3-21.4.4 27.2.3 9 .3-30.4.3 16.7.3 11.9.3-16.8.3-7.8.3 19.3.3 5.1.3 2.6.3-18.4.3 15.3.4 9.6.3-1.7.3-8.3.3-19 .3 7.5.3 9.5.3-4.6.3-18 .3 16.9.3 15.1.3-23.3.4-17.7.3 33.1.3-25.8.3-1 .3 3.5.3 9.9.3-13.4.3 13.9.3-20.4.3 16.9.3 12 .3 2.7.4-9.5.3-3.9.3-14 .3-14.3.3 2.7.3 12.5.3 3.9.3-2.6.3 12.8.3-11.8.3 13.3.3 12.6.4-6.5.3-4.5.3-7.1.3-3.4.3-10.3.3 60.5.3-24.3.3-5.6.3 16.2.3-22.5.3 11.6.3 11.5.4 12.2.3-33.6.3 47.8.3-22.9.3 0 .3-19.3.3-19.5.3.3.3-6.4.3 4.7.3-16.5.3 16.7.4-30.6.3 15.5.3 23.6.3-4.2.3 2.5.3 14.4.3 21.2.3-17.7.3-35.8.3 26.6.3-16.2.4-6.3.3-16.2.3 47.2.3-8.4.3-15.7.3 2 .3 10.5.3 1.3.3 25.5.3-16.2.3 18.7.3-3.2.4-37.7.3 7.9.3 9 .3-1.3.3-7.2.3 15 .3 5.3.3 3.4.3 3.1.3 26.7.3 7.8.3-16.1.4 3.6.3-26.5.3-6.9.3 25.1.3 4.2.3-15.7.3 41.9.3-52.1.3 40.1.3-25.6.3 5.9.3-32.3.4.9.3 38.7.3-26.9.3 21 .3 22.7.3-3.8.3-29.6.3 38 .3-6.3.3-1.4.3 16.7.4 6.4.3 4.3.3-30.4.3-36.2.3 56.3.3 6.9.3-2.1.3-6.2.3-2.2.3-29 .3 13.8.3 19.9.4.1.3 18.4.3-18.8.3-3.1.3 22.7.3-31.1.3 23.5.3-24.8.3 14.3.3 2.4.3 15.9.3-14.1.4-21.2.3.4.3-26.6.3 83.4.3-9.7.3-12.3.3 1 .3 13 .3-69.6.3 47.5.3 9.1.3-12.4.4-7.1.3-24.1.3 8 .3 9.6.3-14.9.3-15 .3 25.9.3 19.9.3 12.6.3-12.8.3-3.2.4-45.8.3 20.9.3-3.9.3 28.9.3-29.2.3 12.3.3-16.1.3-20.8.3 2.4.3 20.3.3 20.2.3-39.4.4 17.6.3 16.5.3 1.6.3-22.6.3-20.2.3 15.7.3-17.8.3 39.9.3-21.2.3-22.1.3-.3.3-4.2.4 3.5.3-17.4.3-3.3.3 13.2.3-23.9.3 31.9.3 1.7.3 18.7.3 12.8.3-27.3.3-16.5.3 23.8.4-35.5.3-1.9.3 8.5.3 29.3.3 6.3.3-38.4.3 16.9.3 4.7.3-46.3.3 19.8.3.6.4-2.6.3-31.9.3 7.1.3 49.6.3-29.8.3 44.7.3-9.2.3 3.8.3-5.6.3-5.1.3-5 .3-23.3.4 16.6.3-31.2.3.6.3 16.1.3 26.6.3 5.6.3 2.5.3-1.8.3-.9.3-4.9.3 36.5.3-18.3.4 11.3.3-42.8.3-5 .3-7 .3-17.8.3 16 .3 18.8.3 14.2.3-7.1.3-.4.3-30.5.3-10.8.4 3.1.3-11.8.3 12.7.3 14.1.3-5.9.3 6.6.3 30.7.3-24 .3 16.6.3-5.7.3-34.2.4 32.2.3-18.7.3 6.9.3 11.8.3 4.8.3 7.3.3-2.9.3-56.7.3 55.9.3 3.1.3-5.5.3-27.4.4-1.5.3 12 .3 19.7.3-11.7.3 24 .3-40.8.3 18.1.3 24.9.3-32.5.3 21.3.3-60.5.3 57.6.4-5 .3-27.6.3 36.6.3-24.9.3-4.8.3-4.4.3 27.2.3-5.1.3 12.5.3-8 .3-3.4.3 4.5.4-8.1.3 1.3.3-13.2.3-6.1.3 30.7.3-11.4.3 23.3.3-20 .3-3.9.3 3.7.3 29.2.3-22.7.4 10.5.3-11.5.3-9.6.3 7.3.3-30.6.3 12.1.3 7.7.3-22.9.3 40.9.3-10.2.3.6.4-16.9.3-13.8.3 21.9.3-1.1.3 2.8.3-.2.3-11.1.3-12.8.3 18.4.3 23.5.3 5.8.3 5.6.4-3 .3-25.9.3 29.4.3-12.5.3-10.9.3 12.7.3-13.7.3 13.5.3-14.6.3-3.5.3 5.5.3 15.2.4-9 .3-6.9.3 8.9.3-37.8.3 22 .3 15 .3-27.5.3 9.2.3-.7.3-7.8.3 29.6.3-31.9.4 4.1.3-15.5.3 24.8.3-7.3.3 8.2.3-9.4.3-20.7.3 19.4.3-19.6.3-8.4.3 2.7.4 2.7.3 47.7.3-14.7.3-9.9.3 27.3.3-4.7.3-33.4.3 53.2.3-10.7.3-4 .3-6 .3-6.2.4-11.4.3 6.5.3 1.1.3-10.7.3 47.7.3-29.8.3 6 .3-28.6.3 3.1.3 16.8.3-21.7.3 39.1.4-13.5.3 8.2.3 12.3.3 9.3.3-55.7.3 25 .3.7.3-16.8.3 28 .3 4.8.3-7 .3 4.1.4 9.4.3-9.9.3-20.3.3-.8.3-3.4.3-14 .3 24.5.3 26 .3-24.5.3 15.1.3-47.3.4 38.7.3-3.3.3-31.8.3 43.7.3.1.3-7.3.3-48.3.3 27.2.3-7.5.3 19.1.3 3.3.3-10.9.4-.7.3 3.7.3-8.2.3 13.1.3-7.7.3 35.6.3-14.6.3-4.1.3 19.6.3-48.1.3 31.6.3-6.6.4-35.8.3 18.2.3-4.7.3-31.9.3 27.2.3-15.7.3 28.2.3-27.6.3 28.9.3-31.3.3-5.4.3 46.6.4-48.3.3 25.3.3 7.2.3 26.1.3-30.2.3-6.4.3-51.1.3 24 .3-13.1.3 11.4.3-5.5.3 23.5.4 7.6.3-6.4.3 3.2.3-10.9.3-3.6.3-13.5.3-19.2.3 9.1.3 25.2.3 7.8.3-10.9.4 4.5.3-8.1.3-2.7.3-14.9.3 44.7.3-43.6.3 10.2.3-6.3.3 23.3.3-13.6.3 30.7.3-43 .4 9.2.3-3.8.3 11 .3 1.7.3 3.2.3-6.9.3.9.3-13.5.3 16.4.3-6.2.3-9.9.3 3.5.4-12.5.3 21.6.3 8.3.3-14.2.3 3.8.3 42.1.3-28.5.3 4.5.3-19.5.3 10.2.3 19 .3-14 .4-24.5.3 7.5.3 26.5.3-26.2.3 17.3.3 3.8.3-7.2.3 21 .3 11.3.3-25.6.3-2.9.4.7.3-2.5.3 2.6.3 32.8.3 6.8.3-10.2.3 9.8.3-56.9.3 37.2.3-24.2.3 24 .3-2.3.4-15.5.3 9.1.3 17.1.3-10 .3-12.1.3 40.6.3-24.4.3-4.3.3 4.4.3-23.4.3 32.1.3 17.1.4-22.6.3 35.5.3-12.9.3-.1.3-2.2.3 4.5.3-25 .3 40.7.3-30.7.3 41.6.3-19.3.3 13 .4-24.4.3 15.1.3-15.7.3 16.9.3 28.7.3-31.6.3 43.1.3-12.5.3-11.4.3 9.9.3-.7.4-8.8.3-11.8.3 21.2.3-12.6.3 3.3.3 11.7.3-10.5.3 24.7.3-19.1.3-18.8.3 17 .3 13.3.4 16.1.3-8.7.3-32.6.3 5.2.3 27.1.3-16.1.3 1.2.3 19.1.3-27 .3-2.1.3 3.8.3 4.7.4 24.8.3-39.3.3-12.5.3-23.8.3 5.8.3-12.2.3 12.7.3-17.4.3 24.7.3-3.5.3-12.9.3-17.1.4 36.7.3 2.4.3-9.7.3 14 .3 14.3.3-5.8.3-10.9.3-13.1.3-29.1.3 13.2.3 11.8.4-7.7.3-25.2.3 6.8.3.5.3-14.2.3 9.5.3 15.9.3-20.8.3 8.3.3 16.7.3 1.7.3-29.4.4-12.5.3 4.6.3 17.6.3 1.5.3-12 .3 4.8.3 10.6.3-2.6.3-19.1.3 23.9.3 19.9.3-11.4.4 18 .3-19.2.3 22.1.3-3.8.3 15.8.3-23.5.3-19.2.3 34.9.3-23.5.3-4.1.3 30.2.3-13 .4-6.4.3-18.9.3.5.3-12.5.3 0 .3 17.5.3-16.3.3 39.9.3 10.3.3-21.2.3 32.4.4-12.8.3-8.8.3-4.2.3-29.2.3 32.5.3 15.8.3-38.2.3 7.5.3 3.5.3-21.4.3 15.1.3-15.6.4 20 .3-4.2.3 16 .3-2.3.3 22.2.3-2 .3-19.3.3 8.3.3-17.6.3-6 .3-14.1.3 18 .4 6.8.3 7.4.3-37.2.3 21.5.3-2.8.3 10.6.3-32.5.3-14.3.3 7.6.3 37.4.3-28.2.3 48.3.4-10.4.3-2.6.3-41.8.3 14.8.3-8.4.3-3.8.3 23.2.3-3.4.3-8.6.3 3.8.3-35.1.3 18.1.4-2.3.3-13.6.3-13.7.3 41.4.3-13.5.3 12.1.3-.3.3 21.6.3-9.8.3-19.3.3-30.6.4-26.8.3 59.4.3-21.1.3 28 .3-8.1.3-18.9.3 0 .3 11.7.3-14.4.3 16 .3-2.7.3 13.3.4-27.1.3-24.4.3-14.3.3 33.7.3-11.4.3-3.2.3 16.1.3-14.1.3-10.6.3 35.6.3-26.3.3 7.4.4-7.6.3 3.9.3 3.9.3 16.9.3-33.9.3 26.3.3-6.2.3 22.8.3 15.4.3-16.7.3-31.5.3 11.2.4-11.2.3 18.3.3 2.7.3 26.2.3 8.2.3-18.6.3 25.5.3-57 .3 19.9.3 6.7.3 10.5.4-15.3.3 9.3.3 24 .3-12.7.3-14.3.3-9.4.3-7.6.3 9.2.3 2.2.3 13.9.3-18.5.3 15.5.4-5.1.3 8 .3-10.4.3 7 .3-11.9.3 36.9.3-57.1.3 16.5.3-15.6.3.1.3.9.3 6.7.4 30.2.3 0 .3 12 .3-13.3.3-13.2.3-7.4.3 7.4.3 3.7.3 5.7.3-2.4.3-11.6.3 1.8.4 3.6.3 15.6.3-43.2.3 39.6.3-18.7.3-.5.3 17.3.3-2.7.3 9.7.3-10.7.3-21.7.4-3.3.3 17.2.3 12.8.3-12.1.3-16.1.3-8.7.3 5.3.3 22 .3 6.3.3 9.9.3-58.4.3 32 .4-22 .3 34.8.3-17.3.3.7.3 13.9.3 1.1.3 9.9.3-33.9.3 14 .3-11.7.3 5.5.3 16.2.4-55.1.3 26.3.3 12.2.3 2.8.3 22.9.3-21.5.3-13.3.3 30.2.3-17.9.3-3.6.3-37.3.3 13.4.4 16.7.3-4.8.3 14.1.3-28.2.3-8.3.3 44.5.3 9 .3-12.5.3 14 .3-7.1.3 4.3.3-22.5.4 7.7.3 23.1.3-42 .3 27.5.3 19.8.3-11.8.3 8.8.3-22.9.3.7.3 7.9.3-12.5.4 10.8.3 13.3.3-24.1.3 21.1.3-15.8.3 29.6.3-26.3.3-1.2.3-.7.3 10.3.3-2.4.3 27.8.4-42.7.3 29.2.3-25.1.3 14.4.3-26.7.3 31.4.3-12.8.3 1.2.3 23.3.3-25.1.3 25.2.3-1.4.4-.3.3-6.9.3 23.1.3-43.6.3 22.3.3-16.2.3 2.1.3-31.3.3 21.8.3-.5.3 12.6.3 30.4.4-19.1.3 10.6.3 10.4.3-22.2.3 26 .3-22.9.3 10 .3-12.8.3 6.1.3 24.4.3-21.9.4-6.1.3 13.5.3 15.9.3-35.2.3 10.7.3-20.1.3.2.3 36.7.3-6.5.3 12.3.3-10.5.3-7.1.4 3.2.3-7.7.3 14.4.3-19.4.3 30 .3-46.6.3-3.2.3 3.3.3 35.9.3-20.4.3 2.1.3 18.4.4 29.4.3-34.2.3-5.1.3-3.3.3 14.1.3 2.6.3-14.2.3-5.9.3 21 .3 14.5.3 18.4.3-35.8.4-2.5.3-5.5.3-19.7.3 9.6.3-3.9.3-.7.3-1.8.3 5.3.3-3.9.3 20.2.3-49 .4 29.8.3-16.2.3 24.3.3-43.9.3 25.8.3-26.4.3 21.4.3 6.5.3 26 .3-26.2.3 16.3.3-7.5.4-11.9.3 7 .3 25.7.3 9 .3-4.1.3-40 .3 36.4.3 9.9.3-4.3.3-14.3.3.7.3 10 .4-4.5.3-7.5.3 15.8.3-27.6.3-20.4.3 18.1.3 16.8.3-3.2.3-2.9.3-3.5.3.7.3-.3.4 5.6.3-29.6.3 22.5.3-7 .3 17.9.3-22.2.3 11.3.3 9.3.3-.6.3 5.4.3-45.6.4-.3.3-8.7.3 16.2.3 24.1.3-25.2.3 6.2.3 8.9.3 18.6.3-26.3.3 9.2.3 21.4.3.3.4-23.6.3-4.8.3 1.5.3-.3.3 4.1.3-19.9.3 10.5.3-5.8.3-34 .3 33.6.3 7 .3-49.3.4 7.4.3 37.6.3-25.4.3 4.6.3-12.1.3 40.8.3 28.5.3-20.8.3 13.8.3-11.2.3 4.3.3-12 .4 17.2.3-42.4.3 14 .3-11.9.3 7.8.3 7.3.3 24 .3-7 .3 2.5.3-9.2.3-24.7.4.8.3 1.5.3 4.5.3 10.3.3 6.6.3-13.8.3-18.9.3 24.6.3 11.1.3 33.5.3-5.1.3-17.4.4-9.3.3-12.7.3 1.8.3-7.2.3 33.5.3-30.9.3-6.9.3 4.6.3-8 .3 23.7.3-17.2.3 11.7.4-30.6.3 22.8.3-3 .3-1 .3-4.3.3 30.6.3-14.8.3-30 .3 21.7.3-25.8.3 30.7.3-26.2.4 24.4.3-26 .3 19.5.3-23.1.3-3.5.3.8.3 22.8.3-44.3.3 22.4.3 9.9.3 1.6.3-15.8.4-2.3.3 5.1.3-1.1.3 7.1.3 23.7.3 30.7.3-27.5.3-31.4.3 9.9.3 20.7.3-31.1.4 25.2.3-26.9.3 47.5.3-19.7.3-2.6.3-10.9.3 4.8.3 12.5.3-6.1.3-7.5.3-14.8.3 21.7.4-7.7.3 5.9.3-1.4.3 2.4.3-13.6.3-3.9.3-13.1.3-3.6.3 1.7.3 23 .3 21.2.3-5 .4 4.6.3-30 .3 4.6.3 38.2.3-28.6.3 34.3.3-29.7.3 2.6.3 6.4.3 2 .3 23.3.3-1.2.4 17.9.3-16.9.3 2.5.3-15.2.3-5 .3-14.2.3 16.2.3-10.4.3 7 .3 14.1.3 3.2.4 18 .3-8.9.3-25.1.3 26 .3-2.7.3-30.4.3-4.8.3 54.4.3-19.1.3-20.3.3 13.4.3-15.6.4 2.6.3 2 .3-14 .3 17.9.3 18.8.3-42.9.3 48 .3-12.6.3 22.1.3-10.8.3-45.1.3 7.4.4 11.1.3-1.8.3-4.1.3-38.3.3 17.4.3 9.6.3 17.7.3 25.3.3-19.7.3-20.9.3 61.8.3-17.6.4 21 .3-21.4.3-18 .3 40.1.3 1.9.3-31.1.3 17.8.3-11.5.3 6.7.3 20.5.3-14.1.4 2.9.3-19.2.3-2 .3 12.8.3-10.8.3-3.8.3-40.6.3 28.8.3-31.5.3 39.4.3-16.9.3-4.8.4 33.5.3-20 .3-17.5.3-21.3.3 2.7.3-20.8.3 37.4.3-3.3.3 13.2.3 32.5.3-33 .3 30.4.4 1 .3-2.2.3 1.2.3-13.8.3-23.3.3 28.9.3 4.4.3-12.1.3.6.3 27.6.3-32.1.3-1.6.4 17.2.3-11 .3-17.3.3-11.1.3 13 .3 34.6.3-23.7.3 13.4.3 6 .3-2.4.3-19.3.3 20.2.4 2.1.3-21.5.3 11.8.3-4.7.3-18.5.3-17.3.3 22.7.3 15.4.3-23.1.3-1.4.3 9.6.4-9.8.3-19.5.3 18.9.3 38.5.3-52.5.3 1.4.3 29.4.3 12 .3 21.3.3 7.4.3 7.4.3-27.4.4-5.9.3-11.7.3-6 .3 10 .3-23 .3 35.2.3 34.8.3-16.7.3 13.7.3-25 .3 8.6.3-7 .4-13.8.3 6.4.3 22.9.3-17.1.3 1.3.3 18.3.3-17.5.3 8 .3 19.7.3-13.9.3 10.4.3-35.2.4 24 .3-17.4.3-1 .3 4.6.3 18.9.3-15 .3-10.4.3 34 .3-13.8.3-10.4.3 9.3.4 8 .3-5.6.3-2.8.3-33.6.3 53.3.3 3.2.3-12.5.3 1.9.3-8.8.3 9.9.3-47.3.3 29 .4-4.1.3 1.5.3-29.6.3 43.7.3-20.8.3-16.7.3 46.7.3-51.2.3 12 .3-19.1.3 5.5.3 16.3.4-14.2.3 34.3.3 5.6.3 2 .3-18.1.3 5.8.3-5.1.3 2.5.3-22.7.3 18.6.3 8.7.3-3.2.4-20.2.3-13.5.3 14.7.3 14.6.3-14.9.3-2.3.3 2.2.3 52.2.3-44.4.3-30.5.3 30 .4 6.2.3 11.1.3-1.1.3 5.1.3 9.5.3 11.4.3-10.8.3 14.5.3 23.8.3 3.7.3-40.9.3 31 .4-.2.3-16.3.3.2.3-8.1.3 21.4.3-40 .3 30.8.3-1.1.3-14.2.3 7.4.3-12 .3 19.3.4-15.1.3 16.5.3 18.7.3-28.9.3-5.6.3-5 .3-13.5.3-8.1.3 9.9.3-.7.3 5.3.3 10.3.4 31.7.3-29.1.3-5.1.3 3.1.3-3.5.3-26.5.3 34.7.3-19.1.3.9.3 3.2.3 22 .4-15.7.3.6.3 6.1.3-5.4.3-13.8.3 29.9.3-17.6.3-10.7.3.2.3 28.7.3 7.1.3-10 .4-29.3.3 31.7.3-28.3.3-4.9.3 33.1.3-1.4.3-21.6.3 4.4.3-6.7.3-2 .3.1.3-16.6.4 11.7.3-18.6.3-.2.3 28.4.3-38.6.3-9.9.3-14.4.3 50.8.3-13 .3 20.8.3-8.7.3-20.4.4 16.4.3-35.2.3 45.7.3-1 .3-15.4.3 2.1.3-5.6.3 34.1.3-27.2.3-7.1.3 7.8.4 13.1.3-7.5.3-9.2.3 11.8.3 20.7.3-5.3.3-43.3.3 15.9.3 37.3.3-36.9.3-10.3.3 17 .4-33.8.3 11.8.3 6.6.3 18.1.3 5.6.3-46.7.3-10.5.3 18.9.3 7.4.3-23.1.3 21 .3 2 .4 7.1.3 15.6.3-9.3.3-25.9.3 36.3.3 1.2.3-19.4.3-30.4.3-9.3.3 42 .3-28.7.3 29.5.4 2.4.3 8.6.3.5.3-27 .3 40.6.3-9.3.3 4.3.3-41.4.3 37.5.3-3 .3 20.2.3-33.4.4-22.3.3 12.1.3-2.9.3 35.2.3-29.8.3 6.9.3 19.3.3-2.3.3-1.6.3-28.1.3 34.1.4-11.2.3 3.1.3-.9.3 9.2.3-4.5.3-14.4.3-21.3.3 27.8.3-11.3.3-23.1.3 47.1.3-6.6.4 1.3.3-2.2.3-22.1.3 38.8.3-10.3.3 42.7.3-39 .3-14.5.3 7.9.3-13.4.3-4.2.3 28.2.4-14.6.3 35.6.3 5.6.3-.7.3-7 .3 18.4.3-16 .3 2.5.3-32.8.3 11.2.3 7.6.3 17.9.4-19.6.3 16.4.3-34.6.3 0 .3 6.4.3 10.7.3 16.5.3-15.2.3-8.8.3 21.1.3-18.8.4 7.7.3 31.5.3-24.5.3 28.5.3-2.3.3-41.7.3-3.5.3 24.3.3-18.6.3-19.9.3 9.8.3 6.8.4 34.7.3-37.4.3-20.6.3 8.8.3-24.9.3 30.6.3 6.5.3-13 .3-4.3.3-5.1.3-6.9.3 8.5.4-1.9.3 11.8.3-3.7.3 17.8.3 24.9.3-32.9.3-21.7.3 20.9.3-14.3.3-7.3.3-9.2.3 17.9.4 9.1.3-28.8.3-15.7.3-6.5.3 49.4.3-8.8.3 8.4.3-25.7.3 28.3.3-1.7.3 18.7.4-8.3.3-20.6.3 19.2.3-15.3.3 20.7.3-29.9.3-11.2.3 11.8.3 1.9.3-20.2.3 17.6.3-3 .4 6.8.3-7.8.3-27.3.3 5.3.3-12.2.3 18.6.3 9.8.3 20.5.3-29.9.3-22.3.3 8.1.3 4.4.4 11.7.3 10.3.3 17.1.3 12.3.3-40 .3-30.6.3 37.3.3 6.9.3-17.8.3 7.4.3-6.8.3-7.9.4 55.1.3-27.5.3-11.3.3-9.6.3 18.4.3-.2.3-7.5.3 13.4.3 20.1.3-28.6.3 21.5.3 17.8.4-21.4.3-18.3.3 20.4.3-10.5.3-23.9.3 22.1.3 22.6.3-9.4.3-20.1.3 30.2.3 1.5.4-23.4.3 13.7.3-.2.3-17.8.3 25.2.3-15 .3-26 .3 37.6.3-12.9.3 12.9.3-10.3.3 15.7.4-18.7.3-2.9.3-29.4.3 4.7.3 7.8.3-3.5.3 18.6.3 5 .3-41 .3 19.2.3-10.6.3 10.4.4 23.3.3-32.7.3-9.8.3 6.4.3 9.8.3 19.5.3-28.8.3 9 .3 36.5.3-16.5.3-7.8.3 11.4.4-12.7.3-15.8.3-3 .3-2.6.3-6 .3 6.5.3-11.2.3-26.6.3 32.1.3 21.9.3 9.4.4 6.7.3-23.8.3-24.9.3 15.9.3-12.7.3-7.2.3 36 .3-.8.3 1.7.3-38.8.3 26.7.3-18.1.4-8.6.3.7.3 24.5.3-6.8.3 1.7.3 3.2.3-3.5.3 5.8.3-7.8.3 34 .3-22 .3.5.4-9.5.3 8.2.3-1.3.3-27.1.3 48.5.3-41.1.3 19.9.3 18.8.3-35.9.3 15.4.3-21 .3 39.7.4-30 .3-9.9.3 45 .3-34.2.3-4.2.3 21.3" fill="none" stroke="#383838" stroke-width="1.3" stroke-linejoin="round" clip-path="url(#cB)"/>
<path d="M835.1 466.7l.3-50.8.3-54.3.3-55.9.3-2.4.3-12.4.4-6.6.3-12.8.3 1.5.3-10.7.3-3.8.3-10.6.3-11.9.3 3.8.3 21 .3-9.2.3-3.8.3-3.3.4-8.8.3-7.2.3 9.5.3 11 .3-37.7.3 31.3.3-37.3.3 15.1.3-11.2.3-30.2.3 23.3.3-5.5.4-4.8.3 0 .3 11.1.3-14.3.3 10 .3 14.7.3-15.1.3 9.1.3-.4.3-7.8.3-22.1.3 36.7.4-22.6.3 10.9.3 20.6.3-3.6.3 18.2.3-5.7.3-6.2.3-11.5.3.2.3-10.1.3-67.8.4 68.5.3-28.9.3-5.5.3 14 .3 4.8.3 12.3.3.6.3-20 .3 19.9.3-7.1.3 8.8.3-25.3.4-6.6.3 10.7.3-4.2.3 32.4.3-55.1.3.5.3.1.3 37.9.3 7.1.3-12.8.3 22.8.3-29.6.4 23.7.3 20.7.3-23.7.3 10.3.3-12 .3 3.1.3-19.8.3 22.6.3 5.2.3-1 .3 8.7.3-20 .4 7.7.3-4 .3-3.5.3 1.7.3-.8.3-1.5.3 6.3.3 23.1.3-22.7.3-19.7.3 36.2.4-15.4.3 5.5.3 4.7.3 1.2.3-7.5.3 6.9.3 5.2.3-12.9.3 4.1.3-17.6.3 23.6.3-1.2.4 4.1.3.3.3-33.7.3-20.2.3 28.2.3 24.4.3-39.6.3-3.1.3 29.2.3-3.1.3-17 .3-23.3.4 32 .3-1.9.3-13.2.3 5.4.3 11.1.3-4.2.3-9.2.3-15.5.3 31.8.3-1 .3-15.4.3 10.1.4-13.6.3 30.1.3-33.3.3 16.4.3 16.6.3 4.6.3-18.7.3-.3.3-22.7.3 10.7.3-17.3.3 28 .4-20.1.3-18.5.3 20.8.3 24.7.3-25.4.3 21 .3-18.5.3 7.6.3-12.7.3 2.6.3-14 .4 9 .3-26.4.3 40 .3-12.9.3-29 .3 44 .3 14.5.3 8.7.3 10.4.3-34.5.3 19 .3-25.5.4 9.7.3-19 .3-11.2.3-7.1.3-6.1.3 35.9.3 5.1.3-20.5.3 38.3.3-5.2.3-11 .3-1.1.4-25 .3 7 .3 21.5.3-7.3.3 2.3.3 19.6.3-21 .3 32.7.3-4.3.3-10.1.3 11.8.3 22.5.4-13 .3 27.7.3-25.6.3-5.8.3 14.8.3 2.8.3-2.6.3-10.5.3-27.8.3 10.5.3 27 .4-25.4.3 28.3.3-15 .3-8 .3-24.3.3-1.3.3 41.8.3-9.4.3-.6.3 1.7.3-5.5.3 13.4.4-31.1.3 28 .3-27.6.3 15.1.3-25.7.3-10.6.3-6 .3 44.1.3-25.6.3 8.1.3 32 .3 7.4.4 22.3.3-42.9.3-7.7.3 10.8.3-5 .3-3.2.3-16.6.3 44.3.3-34 .3 4.4.3-1.4.3-6.9.4-7.2.3-2.1.3-15.3.3 24.2.3 8.7.3 8.5.3-38.7.3 12.6.3-28.7.3 37.8.3 4.9.4-7.4.3-15.9.3 14.6.3 9.6.3-3.8.3 4.1.3 10.2.3 7.1.3-16.4.3-21.7.3-4.1.3-27.5.4 19.8.3 12.8.3 8.8.3-6.3.3-1.1.3 19.5.3-5.9.3 10 .3-23.1.3 26 .3-5.9.3-9.6.4-14.4.3 8 .3-11.2.3 6.8.3 28.9.3 17.8.3-22.5.3 4.7.3-35.1.3 27.3.3-.9.3-4.4.4 39 .3-18.1.3-13.8.3 13.3.3 12.1.3-38 .3-4.8.3 14.1.3-7.6.3 12.5.3-22.8.3 31.7.4-4 .3 4.9.3 5.2.3-6.5.3 25 .3-17.3.3-2 .3 20.5.3-18.8.3 3.8.3-15.5.4 3.6.3-35.4.3 30 .3 16.3.3-1.2.3 14 .3 15.3.3-14.8.3 22 .3-17.2.3 27.6.3 2.5.4 14.9.3-5.3.3-33.4.3 14.7.3 26.6.3 1.1.3 17.3.3-32.8.3-37.1.3-13.4.3 21 .3 22.5.4 1.8.3-1.8.3-11.2.3 10.3.3-9.4.3-17.1.3 7.4.3 18.2.3-28.9.3-9.1.3 25.3.3 10.4.4-4.4.3-4.1.3-15.8.3 11.5.3.5.3 22.7.3 29.9.3-35 .3-27.8.3-1.1.3-23.7.4-18.4.3 58.1.3-28.9.3 10.4.3-43.4.3 6.4.3-.7.3 8.9.3 15.6.3 10 .3-41.3.3 20 .4 3.6.3 1.1.3 5.2.3-35.2.3 6.6.3-8.4.3 5.8.3 6.1.3-22.1.3 8.6.3-.1.3-7.3.4 20.8.3 2.8.3-5.3.3-29.6.3 24.4.3 3.2.3-1.3.3-5.8.3 14.2.3-.7.3-23 .3 19.3.4.8.3-1.6.3 2.6.3 29.3.3-36.9.3-14.1.3 4.1.3-1.3.3 25.4.3-39.3.3 23 .4-18.1.3 11 .3 12.4.3-6.3.3 7.2.3-13.7.3 3.2.3 2.8.3 9.2.3-4.9.3-21.7.3 25.2.4-25.1.3 12 .3-11.1.3 2 .3-5.5.3 4.1.3.5.3-10.2.3-13.1.3 36.4.3-2.2.3 1.3.4-11.2.3 21 .3-21 .3-12.9.3-1.2.3 15.5.3-39.2.3 18 .3 21.2.3 16 .3-22.2.3-3.4.4 3.5.3 13.6.3-25.6.3 21 .3-39.2.3-16.3.3 32.5.3 14.8.3-6.1.3-21 .3-3.5.4 37.9.3-18.9.3-22.3.3 22.1.3 4.1.3-21.6.3 26.5.3 11.9.3-21.5.3 4.2.3 23 .3-16.2.4-21.9.3-16.8.3 23 .3-11.9.3-4.7.3 2.7.3 11.5.3 14.8.3 7.7.3.9.3-11.2.3 8.6.4 7.1.3 24 .3-20.5.3-15.1.3 43.6.3-29.6.3.2.3 26.4.3-11.6.3-16 .3 18.8.3 5.3.4-15.6.3 11.9.3-3 .3-22.7.3 8.1.3 4 .3 17.2.3 4.7.3-1.6.3 3.4.3-5.7.4 9.9.3-17.5.3 22.9.3-28.3.3 1.1.3-3.7.3 1.3.3-13.9.3 18.7.3 11.3.3-13.3.3-42.2.4 28.6.3-14.4.3 48.7.3-17.9.3 29.6.3-29.2.3-7.3.3 21.2.3-13.8.3 45.7.3-35.4.3-1.6.4 27.2.3-22 .3-11.8.3 6.9.3-25.4.3 38.6.3-41.3.3 4.3.3 12.2.3-17 .3 36.7.3-8.4.4 29.3.3 17.2.3 7.5.3-30.9.3 6.8.3-.5.3-32.9.3 17.7.3 23.4.3-15.7.3-11.3.3 35.6.4 2.2.3-15.4.3 10.1.3 8.5.3-27.5.3 19 .3-5.4.3 18.6.3-6 .3 19.9.3-10.7.4-38.1.3-7.5.3 39.7.3-15.7.3-10.6.3 22.9.3-7.7.3-16.5.3 17.3.3-28.5.3-22.1.3 4.4.4-21.5.3 22.8.3 38.7.3 8.5.3-35.2.3-7.7.3.7.3-4.7.3 4.4.3-2.8.3 4.7.3 10 .4-12.9.3.1.3-18.2.3 52.2.3-20.3.3 5.5.3-30.3.3-14.2.3 3.7.3-27.9.3 18.4.3-4.6.4-14 .3 23.8.3 4.3.3 15.1.3-11.1.3 5 .3 11.6.3-32.3.3 26.4.3-3.9.3-14.9.4-10.6.3 19 .3-38 .3 41.9.3-31.5.3 19.2.3 3.1.3 12 .3-18.8.3-7.1.3-19.8.3 7.2.4 31.4.3-17.5.3 10.9.3 21.3.3-21.5.3 6.5.3-16.8.3 4.7.3 10.4.3-14.7.3-9.5.3 11.3.4-15.1.3-3.2.3 15.3.3-31 .3 26.7.3 12.4.3 23.1.3 4.2.3-21.6.3-41.7.3 27.3.3-8.2.4-1.6.3-9.4.3 27.5.3-.4.3 3.1.3 19.8.3-20 .3-18 .3-.2.3-9.5.3 21.7.4 17.1.3-8.4.3 7.7.3-13.9.3-27.1.3 41.6.3-15.3.3-50.5.3 67.9.3-1.7.3-19.2.3-1.2.4 5 .3 4 .3-28.4.3 33.9.3 12.2.3 13.4.3-24.8.3-27.1.3 23.4.3 22.1.3-6.4.3-16 .4-10.3.3 26.1.3-15.6.3 31.5.3 2.7.3-45.8.3-9.2.3 14.5.3 6.3.3-23.7.3 46 .3-5.7.4-6.8.3-20.7.3-10.6.3 17.1.3-6.5.3 3.3.3 7.6.3-6.4.3.3.3 5.3.3-15.3.3-2.8.4-10.9.3 25.3.3-13.6.3-22.8.3-7.3.3-5.6.3 15.4.3 19.7.3-22.2.3 18.6.3 16.4.4-33.7.3 39.3.3-26.3.3.1.3 29.8.3-15.6.3-14 .3-7.8.3 19.4.3-10.2.3-3 .3 12.5.4-14 .3-7.7.3 17.8.3 4 .3 31.1.3-22.4.3.7.3-25 .3 32 .3-9.4.3-10.8.3-48.8.4 13.9.3 4.8.3 17.6.3-28.3.3 40.2.3-19.1.3 12.6.3-.1.3 13.2.3-6.6.3 23 .3-56.4.4 30.2.3-25.9.3 15 .3 6.1.3 24.3.3-42.7.3 12.8.3 2.9.3-8.3.3 19.1.3-1 .4-12.9.3 3.4.3 19.3.3 19.4.3-11.2.3-2.3.3 9.7.3-28.2.3 9.8.3-22.3.3 29.4.3-6.7.4-25.2.3 39.5.3 30.9.3-46.6.3 4.7.3-13.6.3 21.6.3-3.4.3-10.3.3 5.1.3 11.5.3 7.9.4 7.1.3-10.9.3-15.5.3 10.3.3-17.2.3 6.8.3 20.1.3-12.9.3 14.9.3 40.1.3-33.5.3-1.9.4 1.8.3-17.4.3-1.3.3 3.2.3 36.7.3-21 .3-.8.3-34.9.3-9.2.3 29.8.3-9.2.4 10.5.3 18.4.3 19.5.3-44.4.3 31.9.3 10.1.3 7.4.3 5.9.3 12.5.3.1.3-46.9.3-.2.4 30.4.3 7.1.3-22.8.3-1.4.3 7.9.3 7.7.3 34.5.3-22.9.3-15.4.3-.1.3 19.8.3-26.9.4 36.7.3-30.9.3 10.5.3-9.8.3 8.5.3 2.4.3 7.8.3 6.7.3-8.4.3 7.8.3 5.5.3-17.8.4-10.4.3.3.3 0 .3-4.9.3 4.8.3-11.9.3-10.9.3 22.6.3 15.3.3 6.8.3-4.5.4-41.5.3 30.2.3-14.8.3-26.5.3-8.4.3 21.4.3 13.5.3.4.3-16.9.3-33.9.3 17.1.3 6.5.4 6.7.3 20.2.3-32.9.3-6.1.3 15.7.3 9.4.3-5 .3 27.4.3-18.6.3 37.8.3-23 .3-25.9.4 30.4.3-1.1.3-16.9.3 16.2.3-22.2.3-11.9.3-2.6.3 9.9.3 8.4.3-9.3.3-8.9.3 23.6.4-2.7.3 10.6.3-11.6.3 2.5.3 10.4.3 9.7.3-28.6.3-6.4.3 11.1.3-5.6.3 7.4.4-15.6.3-3.8.3 14 .3-19 .3 25 .3-18.1.3 9.1.3 2.1.3 15.1.3 3.1.3-62.8.3 43.6.4-39.7.3 21.4.3-7.5.3 33 .3-37 .3-.3.3-3.7.3 34.2.3 8.3.3-4.3.3-12 .3 8.4.4-27.6.3 20.8.3 12.4.3-2.1.3 1.3.3-23.4.3-20.2.3 22.6.3-10.6.3 10.5.3 10.9.3-3.3.4-13.9.3 16.8.3 2.8.3-2.5.3 15.2.3-27.3.3 9.6.3 15.6.3 10 .3-19.8.3 2.5.3-2.6.4-8.6.3-20.7.3 19.1.3 12 .3-30.1.3 35.4.3-5.8.3-9 .3-9.1.3 21 .3-36 .4 32.8.3-4.2.3-11.4.3-20.4.3 8.3.3 6.9.3-20.3.3 12.9.3-5.3.3-7.1.3 29.8.3-14.6.4 27.9.3-28.7.3-1.5.3-8.6.3 35.6.3-43.9.3 43.8.3-12 .3-3.4.3 33.3.3-7.5.3-14.4.4-8 .3-16.8.3 17.7.3-6.3.3-15.4.3 6.6.3 13.6.3-11.4.3 12.4.3-6.7.3-7.3.3-13.1.4-.1.3.2.3 3.8.3-26.4.3 19 .3 21.8.3 10.5.3.7.3-21.4.3 8.8.3 16.9.4-8.5.3 33.8.3-40.8.3-9 .3 7.1.3 9.6.3-8 .3 20.2.3 15.7.3-33.6.3 18.9.3-5.1.4-7.3.3 23.8.3-43 .3 16.2.3 5.6.3.6.3 11.1.3-14.1.3 6.2.3 6.9.3-21.7.3-21.6.4 16.3.3 3.4.3 12.5.3-8.4.3 18.3.3-31.1.3-6.4.3 18.9.3-2.7.3-13.9.3 3.2.3-6 .4 32.5.3-27.8.3 13.9.3 25.6.3-33.9.3 2.8.3-31.6.3 24.6.3-.8.3 8.1.3-14.7.4 7.1.3-15.9.3-.6.3 3.9.3 3.6.3 12 .3.7.3 13.4.3 7.8.3-18.5.3.6.3 12.1.4-30.2.3 25.5.3-3.7.3-6.5.3 0 .3 20.5.3-5.3.3-3.8.3-26.4.3 18.2.3 1.1.3 21.4.4-8.2.3-4.1.3-1.3.3-20.1.3 8.6.3 34.4.3 9.1.3-19.6.3 16.6.3-29.5.3-9.8.3-12 .4 31.8.3-14 .3 41.4.3-10.1.3-12.4.3 7.7.3-14.8.3 20.9.3-21.7.3 6.2.3 23.8.3-29.7.4 2.1.3-14 .3 12.3.3 1.3.3-.1.3-30.4.3 22.8.3 36.4.3 10.4.3-2.6.3-1.9.4-14.8.3-21.2.3-6 .3-6.2.3-4.5.3 54.2.3-23.5.3-18.8.3 32.3.3-16.3.3-24.8.3 19.4.4-23 .3 19.9.3 17.5.3-1.5.3 27 .3 19.1.3-44.2.3-9.6.3-7.7.3 10.8.3 18 .3-13.3.4 6.7.3 6.9.3-17 .3-5.7.3 31.7.3-8.6.3-15.4.3-2.1.3 13.5.3-21.6.3-7.2.3 18.3.4-2.2.3-19 .3 29.1.3-11.3.3 16.3.3-6.7.3-12.3.3 32.3.3-12.2.3 11.5.3 6.6.4-29.2.3 15.2.3 17.9.3-18 .3-3.3.3 5.5.3 14.3.3-29.6.3.3.3-6.2.3 8.6.3-17.2.4 21.7.3-5.3.3.4.3-.8.3-5.5.3 9.1.3-18.3.3 34.5.3-15 .3-17.7.3-30.1.3 24.5.4-.1.3-2.5.3 31.5.3-2 .3-33.6.3 14.3.3-13 .3 25.3.3-12.9.3-7.8.3 35.9.3-13.4.4-9.3.3-42.8.3 28.8.3-.3.3-18.2.3 27.1.3-3.9.3 23.1.3-23.5.3 17.3.3 3.9.4-23 .3 6.3.3-23.3.3-3.8.3-10.2.3 33.2.3-21.7.3 17.4.3 23 .3-22.1.3-18.6.3 18.7.4 1.7.3-56.2.3 13.4.3 30.8.3 11 .3 23.7.3-2.5.3-7.2.3 1.2.3-32.7.3 27 .3-8.4.4-6.4.3 21.7.3-21 .3 0 .3-9.6.3 7 .3-16.4.3 27.2.3-8.5.3 10.6.3 1.2.3-34.4.4 40.9.3 4.3.3 7.8.3-5.7.3-13.1.3 8.5.3-4.1.3 16.2.3-1.1.3 19.4.3-18 .4-31.5.3 19 .3-20.3.3 11.4.3-5.4.3 30.9.3-10.6.3 5.8.3-6.2.3-8.2.3 6.3.3-16 .4 30.3.3 11.9.3-25.6.3 12.9.3-33.3.3 14.9.3-41.9.3 28.3.3 11.7.3-9.5.3 13.8.3-16.3.4 2.9.3 26.5.3-2.1.3-13.7.3 8.9.3-16.7.3 15.6.3-12.8.3-8.9.3-22.5.3 7.1.3-10 .4 51.9.3 8.1.3-8.9.3 25.3.3 3.9.3-11.7.3-12.4.3-2.8.3 18.9.3-22 .3 9 .4-2.2.3-21.8.3 21 .3 11.6.3-38.4.3 24 .3 1.5.3-3.6.3 4.5.3-9.4.3 7 .3-11.3.4 2.5.3-2.5.3-2.5.3-1.9.3-2.3.3-3.2.3 1.8.3-2.4.3 7.3.3-13 .3-1.4.3 38.1.4-32.2.3 36.8.3 4.4.3 5.2.3-44.1.3 7.4.3 20.6.3-18.9.3-27.4.3 8.5.3 31.7.3-11.3.4 11.5.3 10.8.3-25.7.3 16.5.3-14.3.3 23.9.3-27.7.3-9.3.3-13.5.3 42 .3-11.9.3-25.9.4 33.8.3-18.7.3 1.3.3-20.5.3 11.1.3-7 .3 2.2.3 13.9.3-8.5.3-5.2.3 23.3.4 10 .3-15.4.3-17.5.3 15.8.3 5.8.3-21.1.3-9.2.3-11.8.3 6.2.3 22.5.3-20.6.3 51.4.4-40 .3-.2.3-9.1.3 9 .3-2.5.3 12.2.3-6 .3.8.3 32 .3-13.7.3-.4.3-9.7.4 3 .3-.6.3 7.7.3-19.6.3 17.3.3 7.1.3-7.9.3 16 .3-14.4.3-4.3.3 2.3.3 7.2.4-6.3.3 3.3.3-.4.3-16.7.3.8.3 7.4.3 31 .3-1.8.3 3.2.3-27 .3-29.8.4 12.7.3 18.4.3-12.7.3 10.6.3-1.8.3 1.2.3 14.5.3 1.3.3-7.4.3 8.6.3 25.3.3-45.1.4 27.1.3-21.3.3-3.5.3 14.8.3-14.8.3 17.8.3-9.6.3 20.2.3-13.9.3 3.7.3 15.3.3-9.9.4 10.9.3-4.8.3 4.3.3-18.3.3 26.1.3 1.5.3-13.9.3-11.4.3-.9.3-22.5.3 22.5.3-26.4.4 14.2.3-8.8.3-.3.3 10.4.3-7.3.3 29.2.3 4.4.3-12.6.3 10 .3-13.8.3-46.3.4 21.2.3 10.7.3-15 .3 20.2.3 33 .3 2.9.3-22.5.3-2 .3-16.7.3-10.1.3 62.8.3-52.2.4 10.9.3-21.7.3 46.5.3-23.5.3 27.2.3 0 .3 2.5.3-4.9.3 14.2.3-14.9.3-5.3.3-7.2.4 7.7.3-12.2.3 20.3.3 1.2.3-17.7.3-14.4.3 23 .3.5.3-23.6.3 2.2.3 17.8.3-16.7.4-35 .3 66.6.3-10 .3 5.6.3-18.3.3 23.1.3-18.4.3-16.7.3 12 .3 13.9.3-1.9.3-22.9.4 12.5.3 42.7.3-43.6.3 21.1.3 10.4.3-26.3.3 17.2.3-23.7.3 2.1.3 16.9.3-19 .4-12.6.3 41.1.3-28.4.3 19.2.3-.5.3-5.4.3-7.9.3-19.2.3 22.8.3.9.3 3.4.3 38.9.4-54.9.3 33.1.3-5.5.3-25.8.3-7.6.3 29.3.3-7.7.3-56.1.3 11.9.3 29.3.3 17.3.3 18.8.4-22.3.3-6.1.3-2.2.3 18.4.3-10.7.3 7.9.3-1.8.3 6.5.3-15.4.3-9.3.3 2.4.3-29.4.4 21.2.3-6.5.3 13 .3-31.4.3-25.9.3-.2.3 17.7.3 35.9.3-46.8.3 19 .3 13.9.4 18.8.3-37.3.3 18.3.3-12.5.3-4 .3-14.6.3 41.3.3-9.6.3-14.2.3 36.6.3-39.3.3 5.4.4-22.5.3 17.4.3-14.6.3 26.3.3 14.8.3-14 .3-7.4.3 20.5.3-1.9.3-28 .3-22.6.3 20.9.4 18.4.3 1.8.3-6.5.3-4 .3-13.5.3-21.1.3 23.9.3 30.7.3-47.3.3 33 .3.3.3 15.2.4-28.3.3-19 .3-35.3.3 19.5.3 16.3.3-14.6.3 35.7.3 5.8.3 37.9.3-33.1.3 1 .4-4.3.3-10.7.3-2.3.3 2.1.3 22.5.3-37.9.3 2.9.3-2.3.3 15.6.3-19.2.3-6 .3-14.4.4 6.1.3 9.9.3-18.3.3 26.1.3-33.9.3 18.4.3 24.8.3-26.5.3 5 .3-10.8.3 7.6.3 8.3.4 38.5.3-47.9.3-8.9.3 57.9.3-11 .3-49.4.3 17.7.3-5.2.3 8 .3 6.4.3-2.2.3-16.5.4 8.6.3 16.1.3-14.1.3-12 .3 42 .3-49.4.3-8.2.3 41.7.3-34.8.3-5.5.3-6.4.4.5.3 26.5.3 4.9.3 5 .3-8.2.3 25.9.3-34.5.3-2 .3-33.5.3.1.3 33.9.3-33 .4 76.2.3-25.8.3-3 .3-.9.3 9.1.3-13.9.3-14.2.3 1.9.3.3.3 46.2.3-13.3.3-.7.4-11.3.3-25.3.3 5 .3-12 .3 48.9.3-12.1.3-30 .3 14.2.3-34.6.3 28.3.3-11.6.3 32.6.4-32.9.3 2.7.3 11.8.3 10 .3-5.5.3 18.6.3 3.1.3-6.3.3-1.8.3 6.5.3-20.5.4 20.6.3-1.4.3-7.1.3 10.8.3-8.9.3-9.6.3 47.6.3-49.3.3 17.8.3-46.1.3 43.5.3-25.4.4 14.4.3-40.6.3 25.9.3 11.6.3-12.5.3-14 .3 21.9.3-7.9.3 4.4.3-3.4.3 1.7.3 14.5.4-29.6.3 19.7.3-2.8.3-34.7.3 29.1.3 6.5.3 1.6.3-4.5.3 13.7.3-15.1.3 13.9.3-29 .4-2 .3 2.6.3 12.8.3 10.8.3-43.2.3 19.1.3 24.6.3 13.1.3-41.4.3 54.9.3 7.4.3-19.2.4-32.2.3-5 .3 21.7.3-10.7.3 18 .3-21.8.3 17.8.3-18.6.3 8.2.3 6.3.3 30.7.4-10.9.3-26.4.3 28.5.3 14.8.3.1.3-17.8.3 12.6.3-5.2.3 9.9.3 1 .3-24.7.3 14.4.4 13.8.3-14.4.3 22.9.3-27.6.3-2.2.3 6.6.3 4 .3 33.4.3-33.7.3 1.3.3 1 .3 7.8.4-16.5.3-.9.3 23.1.3 14.1.3-4.6.3 14.5.3-22.7.3 20.4.3-32.9.3-5.8.3 18.1.3 6.4.4 4.5.3-9.6.3.7.3-9.9.3 10.2.3-22 .3-10.2.3 24.3.3 6.7.3 9.3.3-13.9.4 8.4.3-25.5.3 30.9.3-6.8.3-14.9.3 4.7.3-16.2.3 26.3.3-23.3.3 20.1.3-17.9.3-7.8.4 36.1.3-54.8.3 24.8.3-8.9.3 20.6.3-11.1.3 17.1.3 4.1.3-30.8.3 7.7.3-23.3.3 6.3.4 22.4.3 2.5.3-9 .3-21.2.3-9.1.3 19.5.3-2 .3 9.2.3 4 .3 1.2.3-4.8.3 20.4.4-5 .3-7.1.3 19.3.3-20.3.3 4.9.3 10.6.3 14.6.3-39.2.3-9.5.3 4.1.3-2.5.4-9.2.3 8.8.3 10.4.3-13.8.3-22 .3 17.9.3-6.8.3-9.8.3 9.6.3-7.8.3 20.2.3-14.7.4-12.8.3-8.8.3 24.2.3-12.6.3 1.6.3-1.2.3 3 .3-41.4.3 78.5.3-13.7.3-7.1.3-6.7.4-2.2.3-14.5.3 22.7.3 6.1.3-.6.3-2.1.3 14.3.3-49.7.3 29 .3-15.4.3 10.8.3 18.5.4 6.6.3 16.4.3.2.3-23.6.3 10.9.3-13.3.3 6.8.3 15 .3-15.3.3 6.4.3-5.7.3-3.8.4-2.9.3-13 .3-1.7.3-23.2.3 23.1.3-22.5.3 36.8.3.6.3-4.7.3 13.3.3-35.6.4 24.1.3 31.1.3-71.7.3 52.4.3-8.1.3 17.4.3-4.8.3 22.2.3 6.1.3-35.5.3-13.1.3 31.9.4 7.4.3-19.9.3 18.4.3-17.2.3 7.9.3-.3.3-15.4.3 7.3.3 41.8.3.9.3-31.5.3 17.9.4-11.9.3 17.6.3-14.5.3 12 .3 3.2.3-33.1.3-26.9.3 10.8.3 39.1.3 18.2.3-39.2.3.8.4 9.6.3 5.1.3-27 .3 17.7.3-8.7.3-20 .3 11.3.3 14.8.3-6.5.3.4.3 17.1.4-7.3.3-3.7.3 7.9.3-48.9.3 18.7.3 15.6.3 19.5.3-20.5.3.9.3-9.5.3 4.2.3 7 .4 18.2.3-23.2.3 20.6.3 3.8.3-11.1.3 34 .3-20.5.3-9.9.3 20.1.3 5.1.3 14 .3-14.1.4-15.4.3-5.5.3-11.2.3 26 .3 3 .3-18 .3 7.7.3-2.1.3-5.9.3-3.6.3 4.7.3 5.2.4 6.4.3-12.8.3 12.9.3 3.3.3-4.7.3-24.3" fill="none" stroke="#f0302e" stroke-width="1.3" stroke-linejoin="round" clip-path="url(#cB)"/>
<path d="M835.1 465.1l.3-92.6.3-77.5.3-27.4.3-17.9.3-26.3.4-16.1.3-15.2.3-7.1.3-3.6.3-6.2.3-2.5.3-6.3.3-3.2.3 15.5.3 17.9.3-13.7.3 28.6.4-12.4.3.6.3-8.9.3-13.4.3-22.9.3-2.2.3 8.8.3-20.1.3 17.9.3 35.6.3-18.6.3 8.6.4-16.9.3-19.6.3 27.2.3-1.7.3 2.9.3-16.7.3 2.3.3 8.5.3 21.2.3-.5.3 8.7.3-25.2.4 4.1.3 6.3.3-25.4.3 4 .3 18.9.3-38.1.3 20.3.3 23.1.3 15.8.3-48.5.3 10.8.4 18.3.3-3.5.3-12.2.3 3 .3 6.6.3 22.6.3-26.7.3-39.5.3 23.5.3 47.7.3-19.9.3-8.4.4-2.5.3 23.7.3-19.7.3-4.8.3-6.3.3-2.3.3-18.7.3 35 .3-13.5.3 6 .3 19.8.3-7.2.4 6.5.3 11 .3 20.9.3-22.5.3-28 .3-29.5.3 25.6.3 6.2.3 13.6.3 3.9.3 9.2.3 23.3.4-5.2.3-2 .3 0 .3-36.2.3 21.7.3-17.7.3.5.3 33.5.3-24.6.3 4.2.3-13.7.4-23.8.3 47.1.3-16.7.3 10.7.3-2.4.3-14.4.3 19.3.3-19.9.3 16.6.3-25.7.3-1.5.3-1.8.4 47.6.3 16.6.3-34.1.3 5.4.3-21.4.3 6.2.3.7.3.1.3 26 .3 13.3.3-60.1.3 28.4.4-21.6.3 14.2.3-25.1.3 24 .3 13 .3-3.1.3 1.1.3-4.3.3 12.4.3-46.7.3 28.6.3-14.8.4-3.6.3 28.2.3-39.9.3-3.2.3 18.6.3 12.4.3-8.2.3 10.6.3 5.9.3-2.3.3-24.3.3 30.5.4-25.1.3 13.9.3-11.9.3 21.1.3-16 .3-14.6.3 18 .3 27.5.3-2.2.3-3.2.3-37.8.4 7.5.3 14.7.3 15.2.3-6.1.3-6.7.3 8.2.3 4.1.3-3.6.3-11.4.3-7.6.3 19.8.3-32.9.4 11.5.3 15.7.3-29.2.3 22.7.3 1.3.3 5.3.3-4.2.3 15.8.3-28.5.3 17.1.3 2.8.3-4 .4 9.4.3 10 .3-19.8.3 4.8.3-3.1.3-17.7.3 41.6.3-22.5.3 45.7.3-32 .3 20.5.3-9 .4-7.9.3-21.2.3 36.7.3-18.4.3-8.4.3-4.3.3-2.5.3 20 .3 10.8.3 12.3.3-11.4.4-17.5.3 19.5.3-40.7.3 18.1.3-28 .3 3.2.3 3.9.3 2.8.3 26.3.3-19.3.3-16.9.3 42.4.4-40.2.3 41.7.3-15.7.3 2.7.3-16.6.3 10.6.3-11.9.3-.8.3-5.5.3-15.4.3 16.9.3 27.3.4-17.6.3-3.6.3 8.3.3 5.6.3-14 .3 5.8.3-28.6.3 17.7.3-14.2.3 1.7.3-10.2.3-10.7.4 23.3.3-10 .3-12.3.3-14.7.3 6.8.3 13.9.3-13.5.3 3.3.3-.8.3 14.9.3-14.7.4 8.4.3-12.8.3 28.4.3-18.4.3-2 .3 5.4.3 22.2.3 2.9.3 4.3.3 8.9.3-15.1.3-29.2.4 14.7.3 6.6.3-16.3.3 17.8.3 7.8.3 9.5.3-21.8.3-5 .3-5.9.3-3.2.3 24 .3-14.3.4 4 .3-17.8.3-7.5.3 24.3.3 19.2.3-29.9.3 12.8.3-13.8.3-8.7.3 20.1.3-39 .3-4.6.4 44.3.3-1.6.3 1.9.3.3.3-7.4.3 23.2.3-12.9.3 3.7.3-21 .3-18 .3 42.9.3 28.7.4-23.8.3 14.8.3-16.4.3 2.8.3-15.9.3-25.3.3 24.1.3-.4.3 22.8.3-22.3.3-2.1.4-19.3.3 11.3.3 25.5.3-23.2.3-17.3.3 5.4.3 7.9.3-.2.3 7.3.3 24 .3-9.6.3 12.8.4-24.7.3-9.3.3-18.3.3 7.8.3 13.8.3-13.2.3-5.2.3-6.9.3-19.7.3 8.9.3 1 .3 39.7.4-11.7.3-10.2.3 2.4.3-14.5.3 18.7.3 16.5.3-8.7.3 13.4.3-15.5.3-8.1.3 7.2.3 1.6.4-4.6.3 27.2.3-29.1.3 18.3.3-8.3.3-2.8.3-3.2.3-1.2.3-19.7.3 7.7.3-27.4.4 13.4.3 20.5.3-13.3.3 10.4.3 8.9.3-26.2.3 4.2.3 8.3.3-22.4.3 8.6.3 10.7.3 3.7.4-31.9.3-3.4.3 6.7.3 29.2.3-8 .3 15.1.3-20.3.3-4.3.3-26.7.3-9.6.3 10.1.3 20.1.4-18.4.3 14.2.3-10.9.3 16.8.3 32.5.3-2.3.3-1.8.3-14.2.3-3.4.3-9.4.3 11.1.3 4.4.4 5.3.3 3.8.3-13.3.3 3.5.3-42.4.3 11.3.3 24.9.3 26.6.3-32.3.3-12.9.3 49.3.4-29.3.3 7.2.3 14.6.3-30.4.3 33.7.3-7.5.3 6.3.3-9.2.3 5.7.3-17.5.3-6.4.3 14.6.4-6.6.3-7.2.3-13.9.3-11.3.3 15.3.3-5.5.3 27.1.3 3 .3 22.5.3-13.6.3-.3.3 6.2.4-49.1.3 19.2.3 9.9.3-3.1.3-17.8.3-5.2.3 32.6.3 7.8.3-27.6.3 1 .3 24.4.3-23.1.4 12.2.3 6.4.3-.7.3 9.2.3 10 .3-22.7.3 11.7.3 15 .3 13.9.3-4.8.3-24.1.4 43.4.3-3.5.3-3.5.3 1.2.3 4.2.3-40.8.3 4.8.3-21.9.3 6.7.3 29.3.3 29.2.3-31 .4 46.7.3-29.3.3-.7.3 20 .3-39.4.3 16.3.3 2.1.3-22.2.3 18.7.3 7.3.3-13.6.3-5.8.4 12.1.3 5.3.3 24.2.3-39.1.3-8.2.3 27.9.3 8 .3 26.5.3-10.5.3-27.7.3 5.9.3 2.2.4-37.4.3 20.5.3-11.8.3 9.1.3 7.4.3 14.1.3-23.8.3 5.2.3-17.3.3 34.7.3-32.3.4 8.5.3-37.1.3-10.8.3 6 .3-6.2.3 41.6.3 8.3.3-.4.3-15.1.3 3.9.3 3.3.3-35.7.4 59.4.3-29 .3 18.7.3-29.8.3 14.4.3-8.5.3-12.4.3-6.7.3 1.4.3 11.8.3 9.9.3 37.2.4-39.1.3 15.7.3-10.7.3 2.5.3-5.6.3-4.7.3 9.3.3-.5.3 1.5.3-1.4.3-22.6.3 6.4.4 13.5.3-14.6.3 3.1.3 9.8.3-35.4.3 10.8.3-7.9.3 7 .3-6.2.3-2.4.3 27.6.3-5.8.4-2.3.3-.2.3 6.4.3 11.6.3-45.4.3 26.6.3 13.4.3-6.9.3 21.7.3-.1.3-5 .4 13.1.3 7.4.3-11 .3-19 .3 12.9.3-20.8.3 14 .3-20.8.3 34.2.3-20 .3 29.1.3-5.6.4 4.8.3 5.9.3-16.6.3-22.5.3 9.6.3 3.5.3 20 .3 4.3.3-29.1.3 33.8.3-8 .3 11.4.4-5.3.3 4.8.3-25.1.3 22.7.3 7.2.3-10.1.3 5.7.3 14.9.3-28.9.3 7.7.3-1.6.3-14.9.4 2.7.3 7.2.3 6.8.3 9.6.3-46 .3 1 .3 26.5.3-23.1.3 32.1.3-19.4.3 21.3.4 6.2.3 14.4.3 4.3.3-29.3.3 15.5.3 16.7.3-.6.3 7.3.3-44.1.3 16.7.3 41.4.3-26.2.4 21.4.3-6.9.3-4.5.3-12.7.3 5.9.3-24.9.3-1.3.3 7.8.3-1.1.3-7.3.3-8.8.3 1.8.4 25.9.3-39.7.3 25.8.3 35.9.3-9.4.3-13.4.3 0 .3-10.7.3-18.2.3 18.1.3 7.3.3 1.7.4 7.2.3-44 .3 10.6.3-22.4.3 11 .3 10.8.3-28.9.3-15.3.3 13.8.3 23 .3 18.6.4-18.8.3 35.1.3-8.4.3-1.5.3 7.4.3-17.7.3 22.6.3-13.2.3-25.1.3 24.4.3-29 .3 13.6.4 11.6.3-4.2.3-23.6.3 4.2.3-3.7.3-42.1.3 18.1.3 24.2.3-13.5.3-3.4.3-1.7.3 21.7.4-30.3.3 33.1.3-32.5.3 9.1.3 21.6.3-20.9.3-12.7.3-6.8.3 31.5.3-9.7.3 7.6.3-20.7.4 8.8.3 1.2.3-7.5.3.7.3 5.5.3 1.5.3-3 .3-1.3.3 3.8.3 14.7.3-20.7.3 9 .4-37.6.3 13.1.3 6.8.3 27.8.3-8.9.3 21.2.3-.5.3 35.9.3-57.4.3-5.8.3 12.3.4 4.6.3-11.5.3-4.7.3-6.9.3 17.7.3 9.9.3-.7.3 7.7.3-5.5.3 8 .3-2.8.3-7.8.4-17 .3.1.3 8.9.3-9.2.3 14.5.3 3.6.3-35.9.3-7.1.3-2.1.3 33.1.3-6.6.3 20.2.4-5.3.3-6.8.3 25.8.3-26 .3-7.2.3-3.5.3 8.1.3-14 .3 15.8.3 28.5.3-17.9.3 11.3.4-20.4.3 18.8.3 14.8.3-15.3.3 29.9.3-24.6.3-20.3.3-5.6.3-3 .3 22 .3 32.2.4-30.2.3 8.5.3-12.5.3 4.2.3-6 .3-3 .3 22.2.3-27.2.3 34.7.3-3.5.3 10.7.3-38.9.4-.4.3 18.3.3 20.9.3-30.2.3 9.1.3 3 .3-6.6.3 29.1.3-16.5.3 7.2.3-12.5.3-5.7.4-35.5.3 56.9.3-21.1.3 18.6.3-27.5.3 18.6.3 5 .3 2.3.3-26.7.3 17.4.3.4.3-3.1.4-7.9.3 41.4.3-27.6.3 4.7.3 7.4.3-44.8.3-23.6.3 35.1.3 37.3.3-11.5.3 20.3.4-5.1.3 16.5.3-7.8.3-30.7.3 28.4.3-7.8.3-6.4.3 14.4.3 41.3.3-49 .3-28.4.3 57.5.4-21.2.3.7.3-13.3.3 19 .3 15.8.3-14.6.3 7.7.3-5.5.3-36.9.3 23 .3 6.1.3 8.8.4-4.7.3-8 .3 7.1.3 22.3.3-6.8.3-28.7.3 11.7.3 8.8.3 11 .3 3.5.3 24.1.3-32.7.4 12.6.3-40.8.3-10.7.3 15.9.3 17.5.3-7.9.3-10.3.3 28.7.3-34.4.3-7.6.3 11.5.4 6.2.3 11.7.3-32.2.3 28.4.3.7.3 17.9.3-23.1.3-.4.3 35.9.3-40.1.3-15.8.3 14.3.4-4.6.3-18.6.3-35.3.3 9.1.3 50 .3 29.5.3-18 .3-13.6.3-15.8.3-8.4.3-6.4.3 45.1.4-11.9.3 4.8.3.1.3-22 .3 2.4.3-24.1.3 8.8.3-26.2.3 9.6.3 31.7.3 11.2.3 9.7.4-24.6.3 19.5.3-25.4.3 11.7.3-42.5.3 38.4.3-18.6.3 2.9.3-9.9.3 10.5.3-18.1.4 4 .3 4.1.3 1.7.3 27.8.3 2.3.3-21.7.3 8.4.3-19.6.3 3.5.3 21 .3-24.5.3-5.7.4 6.7.3-1 .3-15.4.3 8.6.3 8.7.3-18.5.3 3.8.3 9.3.3 4.8.3-2.3.3-13.2.3 23.6.4 3.5.3 31.8.3-39.7.3-1 .3 7 .3-.2.3 14.7.3-30.1.3 25.3.3-23.3.3 47.9.3-48.1.4 6.5.3-1 .3 7 .3 14.9.3-20.6.3.4.3-7.3.3 13.9.3-31.5.3.5.3 11 .3 8.1.4 4.1.3 10 .3-24.4.3 21.8.3-19.9.3 29.5.3-3.8.3 8.5.3-28.4.3 24.1.3-9.8.4-10.8.3 12.7.3-30.7.3-5.2.3-12.7.3 14.2.3-4.6.3 41.8.3.8.3-29.4.3 2.2.3-2.4.4 3.8.3-12.5.3-10.2.3-15.9.3 22 .3 5 .3 28.3.3-20.9.3 32.3.3-8.1.3-23.5.3 6.8.4 4.7.3-19.5.3 9.2.3 4 .3 24.6.3-19.2.3-21.7.3 11.1.3-18.3.3 3.3.3 37.4.3 3.8.4 7.7.3-9.9.3-32.2.3 5.3.3 15 .3-31.4.3 20 .3 4.8.3 9.2.3 16.7.3-4.1.4 8.8.3-18.2.3-11 .3-7.9.3 39.8.3-9.4.3 18.3.3-19.7.3-14 .3 0 .3-11.4.3 22.5.4-15.6.3 27.2.3-15.2.3 7.3.3-16.9.3 13.3.3 16.3.3-26.2.3 9.7.3-8.6.3-22.3.3 19.2.4 35.1.3-41.3.3.3.3 9.1.3-12.8.3 3.5.3 5 .3-1.7.3 11.1.3-5.2.3-24.7.3 26.7.4-43.2.3-6.7.3 74.6.3-26.5.3 13.9.3-27.9.3 36 .3-28.2.3 30.2.3-63 .3 23 .4 11.3.3 29.9.3 2.4.3-24.1.3-33.7.3 8 .3-37.1.3 40 .3-2.4.3 30.2.3 11.7.3-16.3.4-22 .3 24.7.3-45.5.3-2.3.3 38.7.3 10.8.3-28.9.3 13.5.3-3 .3 8.7.3-5.5.3 3.3.4 4.5.3 34.9.3-33.7.3 6.8.3-20.1.3 18.6.3-29.7.3 18.2.3-10.2.3 4.1.3-6.2.3 26.3.4 4.7.3-13.2.3 4.2.3 26.5.3-12.6.3.3.3-4.8.3.1.3-21.1.3 21.3.3-8.1.3 2.8.4-8.8.3-18.8.3 19.1.3 14.2.3-11 .3-2.3.3 13.2.3-3.7.3-16.6.3 19 .3 1 .4 5.4.3-14.4.3 16.6.3-3.3.3-2.7.3 4.4.3-23 .3 4.3.3 8 .3-14.6.3 16.1.3-16 .4 25.2.3-12.1.3-4.4.3 20 .3-24.4.3 16.1.3-22.7.3 14.1.3 12 .3-16.9.3-7.1.3 47.8.4-25.1.3-5.9.3 5.1.3-7.5.3-7.5.3 17.9.3-11.6.3 12.2.3 26.4.3-29.3.3 19.6.3-15.2.4 14.4.3-15.1.3-.2.3 6 .3-10.6.3.7.3-15.5.3 1.1.3-9.7.3 18.5.3 16.8.4 6.3.3-24.6.3 28.4.3-11.5.3 1.8.3-3.2.3 3.8.3-17.3.3 34.2.3-19 .3 14.8.3-27 .4-13.2.3 7.2.3-15.6.3-13.3.3 2.2.3 26.7.3-18.5.3 54.8.3-20.9.3-11.7.3.2.3-17.5.4 36.3.3 13.6.3-15.4.3 38.6.3-34.7.3-2.3.3-10.9.3 19.3.3-10.1.3-30.3.3 39.3.3-28.7.4 2.2.3-28.9.3 25.7.3-2.4.3 13.1.3 44.8.3-56.5.3-17.1.3-4.1.3 53.9.3-34.4.4 11.4.3 2.1.3-28.7.3-4.2.3-5.1.3 31.7.3 1.1.3-19 .3 21.8.3 8.7.3-12.4.3.2.4-7.6.3-28.3.3 31.1.3-3.8.3-17.9.3 17.2.3-22.9.3.2.3 6.2.3-8.6.3 7.8.3 5.8.4 20.3.3-9 .3-18.2.3-7.3.3 8 .3 7.1.3-5.6.3-13.4.3 12.8.3 14.2.3-8.8.3 24.3.4-11.4.3 5 .3 13.9.3-8.4.3 18.3.3-37.4.3 5.8.3-22.5.3 39.4.3-28.4.3-21.1.4 10.2.3-5.8.3 6.3.3 11.1.3-8.2.3-10.7.3 17.3.3-15.1.3 32.6.3 13.9.3-22.8.3 7.7.4-18.7.3 5 .3.2.3-10.6.3 9.8.3-2.8.3-10 .3 26.8.3-27 .3-4.2.3 33.4.3-7.5.4-17.7.3 21.7.3 17.4.3-51.1.3-6.3.3-24.2.3 17.5.3 3 .3 28.4.3 5.2.3-14.9.3 19.4.4 5.9.3-9.1.3-22.2.3 40.4.3-.7.3-8.2.3-50.4.3 9.3.3-8.2.3 30.5.3-9.5.4 16 .3-30.1.3 17.7.3 13.4.3-24.9.3 6.9.3-4 .3 44 .3-13 .3-5.5.3-21.3.3-3.1.4 35.1.3 0 .3-10.9.3-19.5.3-2.3.3 5.7.3-23.4.3 26.7.3-.8.3 4.4.3 55.6.3-24.7.4-51.3.3 5.4.3 6.1.3-19.9.3 16 .3 29.9.3 2.3.3-25 .3 37.2.3-23.6.3 9.9.3-16.3.4 8.3.3-29.9.3 3.2.3-22.4.3 41.4.3-19.2.3.6.3 27.8.3-14.3.3 9.3.3-48.3.3 44.9.4 2.3.3 6.2.3 25.9.3-14.2.3 3.2.3-18.6.3-38.3.3 28.7.3-39.7.3 23.3.3-16.1.4 10.1.3-12.9.3 4.8.3 32.3.3-4 .3-30.7.3-15.9.3 29.5.3 27.5.3 20.7.3-11.8.3-19 .4 17.1.3-25.5.3-2.8.3 11.4.3 7.3.3-19.4.3-41.2.3 32 .3-3.9.3-1.1.3 11.3.3-4.5.4 3.7.3-28.1.3 41.2.3-18.9.3 17.6.3-13.9.3 13.8.3-7 .3 12.5.3 6.1.3-5.8.3-6.5.4 31 .3-21.9.3-2 .3 17.2.3-51.3.3-6.6.3 31.1.3-46.5.3 30.7.3 34 .3-4.1.4-11.6.3-.5.3-12 .3 22.7.3-21.4.3 14.7.3-2.5.3-2.9.3 10 .3-39.6.3 4.3.3 22 .4-36.8.3 29 .3-18.1.3 34.1.3-7.1.3 2 .3 4.5.3 11.4.3-11.3.3-.4.3 14.8.3-27.7.4.1.3-3.9.3 12.9.3-9.3.3-10.1.3 19.1.3 11.5.3 8.8.3-26.9.3 31.4.3-10.7.3-5.8.4 1 .3 7 .3-1.6.3-28.1.3 17.1.3 14.1.3-6.9.3 29.9.3-16.6.3 4.3.3-9.3.4-29.9.3 1.9.3 14.6.3-24.8.3 11.2.3 19 .3 17.3.3 4.8.3 2.7.3 9.2.3.6.3-20.8.4 5.1.3 2.8.3 1.3.3 15.4.3-32.3.3 44 .3-35.6.3 28 .3-42.9.3 5.6.3 4.5.3-27.1.4 14.8.3 34.4.3-13.4.3-22.8.3 26.2.3-.6.3 8.4.3-18.6.3 18.8.3-4.7.3-4.8.3-5 .4-19.9.3 23.1.3 24.8.3-40.8.3 22.6.3-10.2.3 10.7.3 32.2.3-36.8.3 25.9.3-32 .3-13.9.4 18.5.3 5.2.3-1.4.3 3.4.3 17.2.3 6 .3-26.2.3-14.2.3 16.9.3-5.2.3 13.4.4-.5.3 2.8.3-7.6.3 1.6.3 24.5.3-19.9.3-4.9.3-28.5.3 33.5.3-8.1.3 19.3.3-14.8.4-11.2.3 23.9.3 16.1.3-16.9.3-12.9.3-25.1.3 20.3.3 10.5.3 14.6.3-19.2.3.9.3-3.1.4-6.4.3-7.8.3-10.5.3 25.5.3-15.4.3-3.7.3 8 .3 1.6.3-23.7.3-2 .3 23.8.3 26.3.4-34.7.3-18.4.3-16.2.3 11.6.3-10.8.3.8.3 40.3.3-18.9.3-.3.3-27.3.3 1.7.4 29.3.3 6.8.3-8.4.3-2.1.3-4.8.3 2.7.3 6.4.3-11.8.3 41.3.3-32.6.3-7.1.3-.1.4 50.8.3-25.4.3-1 .3-25.6.3 20.3.3-9.2.3-.1.3-1.1.3-10.8.3 28.1.3-15.2.3 24.2.4-9.9.3-6 .3 28.5.3-34.1.3-17.2.3 2.4.3 3.8.3 7.4.3 24.8.3-15.2.3 11.3.3-16.6.4-18.6.3 27.7.3-11.8.3 11.9.3-10.1.3-7.7.3 22.2.3 26 .3-30.1.3-34.2.3 11.1.4-19.2.3 18.1.3 8 .3-7.5.3 19.4.3-10.2.3 14.9.3-12.6.3-5.1.3 4.5.3 24 .3 4.1.4-10.1.3-11.7.3-23.6.3 14.1.3 18.9.3-21 .3 30.4.3-17.2.3 13 .3-8.6.3-8.8.3 15.8.4-20.4.3-18.1.3 17.4.3 7.3.3 6.8.3 15.7.3-21.4.3-3.4.3 17.9.3.3.3-16 .3-18.3.4 47.8.3-6.5.3.4.3-5.7.3 9.8.3-17.4.3 14.7.3-27 .3 21.1.3-9.7.3-33.4.4 28.2.3-17.1.3-25.7.3 28.4.3.4.3-25.7.3 49.7.3.7.3-12.5.3 26.1.3-14.9.3 7 .4-23.4.3-12.9.3-8.6.3 24.6.3 19.6.3-17 .3 2.7.3 19 .3.7.3-6.9.3 10.1.3 10.8.4-23.3.3 14.7.3-34.5.3 17.2.3-31.5.3 21.8.3 1.9.3 4 .3 13 .3-16.4.3-20 .3 33.8.4 7.8.3-8.3.3-27.6.3 9.8.3 2.4.3-14.6.3 18.6.3-30.5.3 50.5.3-42.7.3 34.3.4-19.4.3 4 .3-6.5.3 7.5.3 19.2.3-24.2.3-15.3.3 32.4.3-10.1.3-3.7.3 13.2.3-30.2.4 43.8.3-5.7.3-9.3.3 5.5.3 0 .3-4.3.3 6.7.3 2.7.3.1.3 14.1.3-17.3.3-6.6.4 7.6.3 6.7.3-.7.3-2.6.3 26.7.3-43.5.3 8.8.3-16.4.3 11.7.3-9.6.3 19.9.3-19 .4-1.5.3 50.9.3-9.3.3-19.6.3-8 .3 33.3.3-28.1.3 5.3.3-25.1.3 17.5.3-5.4.3 1.6.4 7.9.3-.4.3-8.1.3 8.3.3-19.4.3 5.5.3 18.8.3-18.8.3 6.6.3 3.7.3-7.4.4 23.1.3-13.9.3 9.3.3 16.4.3-15.9.3 19.9.3 10.7.3-45.8.3 3.9.3-17.8.3 15.8.3 26.7.4 6.2.3 22.6.3-54.3.3 7 .3 16.4.3 4.4.3-48.1.3 43 .3 4.7.3-40.1.3 4.8.3 8 .4-21.3.3-20.4.3-4.1.3 10.2.3 20 .3-.9.3-22.9.3 15.7.3 11.8.3 35.7.3-8.7.3-41.7.4 38 .3-30 .3-18.4.3 20.3.3 3.6.3 2.2.3-20.5.3 3.1.3-18.3.3 21.1.3 15.3.4-8.4.3-18 .3 20.5.3-29.6.3-2.8.3 15.7.3-18.3.3 11.3.3-1.5.3 5.9.3 27.4.3-54.7.4 12.3.3-17.1.3.9.3 20 .3 11.6.3 8.4.3-19.4.3 43.5.3-4.9.3-17 .3 17.8.3 10.5.4-8.7.3-37.4.3 13.8.3-27.1.3 5.3.3-5.1.3 8.2.3-.2.3 1.5.3 53.2.3-1.9.3-7.5.4 16.8.3-32.9.3-6.6.3 6.1.3-5.4.3-21.4.3 16 .3 2.9.3-24.2.3 12.6.3 8 .4-1 .3-1.3.3 15.2.3-3.5.3 1.4.3-12.7.3 11.2.3-3.2.3 23.8.3 3.5.3-34.9.3 32 .4-11 .3 4.3.3-22.3.3-19 .3-2 .3 34.1.3-15.8.3 11.1.3 1.1.3-20.5.3 9.4.3 12.1.4-22.9.3-3.5.3 10.6.3-6.2.3-3.8.3 24 .3-26.3.3 20.7.3-.6.3-13.7.3 5.1.3 18.9.4-18.1.3 27.2.3-13 .3-14.9.3-12.1.3 25.2.3-18.2.3 35.8.3-55.9.3 11.3.3-23.1.3 50.7.4-16.5.3 43.2.3-23 .3-4.1.3-17.9.3-8.4.3 33.6.3 6.9.3-30.6.3-.1.3-9.5.4-8.7.3 22.4.3 18.9.3-14.7.3-3.5.3-13.7.3 13 .3-15.2.3 19.2.3 6.6.3 11.7.3-32.9.4 46 .3-39.2.3 35.1.3-34.7.3-4.3.3 28.2.3-14.8.3-8.1.3 21.8.3-31.2.3-11.2.3-5.9.4 43.4.3-29.7.3 15.2.3 14 .3 6.5.3-19.4.3 31.6.3-16.5.3-4.8.3-4.8.3 12.1.3-15.7.4 17.1.3 9.5.3 24 .3-5.1.3-26.9.3 10 .3 5.3.3-26.5.3-6.6.3 36.8.3-9.4.4-10.5.3 13.8.3-21.9.3 9.7.3-14.6.3 30.1.3 18 .3-37.5.3-23.4.3 23.5.3 19.3.3-13 .4 25.2.3 5.4.3 3 .3-19.3.3-6.5.3-20.6.3 27.1.3-.6.3 8.8.3 6.5.3-10.5.3 2.6.4 3.4.3 8.9.3 32.5.3-32.8.3-15.9.3 13.9.3-8.2.3 2.9.3-12.6.3.6.3-12 .3 31.5.4-29.9.3 14.6.3 24.3.3-35 .3 41 .3 30.2" fill="none" stroke="#3d78ea" stroke-width="1.3" stroke-linejoin="round" clip-path="url(#cB)"/>
<g stroke="#000" stroke-width="2" fill="#000"><line x1="835.10" y1="536.70" x2="835.10" y2="546.70"/>
<text stroke="none" transform="translate(835.10,569.30) scale(0.93,1)" text-anchor="middle" font-size="23.5">0</text>
<line x1="896.80" y1="536.70" x2="896.80" y2="541.70"/>
<line x1="958.50" y1="536.70" x2="958.50" y2="546.70"/>
<text stroke="none" transform="translate(958.50,569.30) scale(0.93,1)" text-anchor="middle" font-size="23.5">20</text>
<line x1="1020.20" y1="536.70" x2="1020.20" y2="541.70"/>
<line x1="1081.90" y1="536.70" x2="1081.90" y2="546.70"/>
<text stroke="none" transform="translate(1081.90,569.30) scale(0.93,1)" text-anchor="middle" font-size="23.5">40</text>
<line x1="1143.60" y1="536.70" x2="1143.60" y2="541.70"/>
<line x1="1205.30" y1="536.70" x2="1205.30" y2="546.70"/>
<text stroke="none" transform="translate(1205.30,569.30) scale(0.93,1)" text-anchor="middle" font-size="23.5">60</text>
<line x1="1267.00" y1="536.70" x2="1267.00" y2="541.70"/>
<line x1="1328.70" y1="536.70" x2="1328.70" y2="546.70"/>
<text stroke="none" transform="translate(1328.70,569.30) scale(0.93,1)" text-anchor="middle" font-size="23.5">80</text>
<line x1="1390.40" y1="536.70" x2="1390.40" y2="541.70"/>
<line x1="1452.10" y1="536.70" x2="1452.10" y2="546.70"/>
<text stroke="none" transform="translate(1452.10,569.30) scale(0.93,1)" text-anchor="middle" font-size="23.5">100</text>
<line x1="825.10" y1="536.70" x2="835.10" y2="536.70"/>
<text stroke="none" transform="translate(818.50,543.60) scale(0.93,1)" text-anchor="end" font-size="23.5">3</text>
<line x1="830.10" y1="474.43" x2="835.10" y2="474.43"/>
<line x1="825.10" y1="412.15" x2="835.10" y2="412.15"/>
<text stroke="none" transform="translate(818.50,419.05) scale(0.93,1)" text-anchor="end" font-size="23.5">6</text>
<line x1="830.10" y1="349.88" x2="835.10" y2="349.88"/>
<line x1="825.10" y1="287.60" x2="835.10" y2="287.60"/>
<text stroke="none" transform="translate(818.50,294.50) scale(0.93,1)" text-anchor="end" font-size="23.5">9</text>
<line x1="830.10" y1="225.33" x2="835.10" y2="225.33"/>
<line x1="825.10" y1="163.05" x2="835.10" y2="163.05"/>
<text stroke="none" transform="translate(818.50,169.95) scale(0.93,1)" text-anchor="end" font-size="23.5">12</text>
<line x1="830.10" y1="100.78" x2="835.10" y2="100.78"/>
<line x1="825.10" y1="38.50" x2="835.10" y2="38.50"/>
<text stroke="none" transform="translate(818.50,45.40) scale(0.93,1)" text-anchor="end" font-size="23.5">15</text>
<rect x="835.10" y="38.50" width="617.00" height="498.20" fill="none"/>
<text stroke="none" transform="translate(1143.60,610.00) scale(0.945,1)" text-anchor="middle" font-size="27.5">Time (ns)</text>
<text stroke="none" transform="translate(786.10,287.60) rotate(-90)" text-anchor="middle" font-size="26">RMSD (nm)</text></g>
<line x1="1312.5" y1="473.70" x2="1355.5" y2="473.70" stroke="#383838" stroke-width="1.6" opacity="0.8"/>
<text x="1360.0" y="479.90" font-size="18.7">AGHDDFP</text>
<line x1="1312.5" y1="497.10" x2="1355.5" y2="497.10" stroke="#f0302e" stroke-width="1.6" opacity="0.8"/>
<text x="1360.0" y="503.30" font-size="18.7">GYDTF</text>
<line x1="1312.5" y1="520.50" x2="1355.5" y2="520.50" stroke="#3d78ea" stroke-width="1.6" opacity="0.8"/>
<text x="1360.0" y="526.70" font-size="18.7">NGYDMR</text>
<text transform="translate(825.4,22.4) scale(0.9,1)" font-size="29.5">B</text>
<path d="M84.5 874.5l.3.8.3-13.7.3 4.8.3 16.2.3-.5.4-2.2.3-4.3.3-5.5.3 20.3.3-13.5.3 22.6.3-19.1.3 16.5.3 1.4.3-8 .3 6 .3 5.5.4 4.1.3-14.7.3-1.3.3 9.2.3-9.1.3 15.2.3 18.7.3-2.2.3-3.7.3-.9.3-2 .3 6.4.4 2.4.3-7.3.3 6.3.3-24 .3 1.5.3 7.1.3 16.6.3-7.8.3 1.4.3-5.7.3-20 .3 12.2.4-4.5.3-5.2.3 8.5.3-17.3.3 7.3.3-2.6.3-5.7.3 13.8.3-13.5.3-1.1.3-.6.4-1.7.3-6.8.3-7.8.3 14.7.3-13.9.3-7.9.3 11.4.3-2.8.3-.9.3-4.9.3 2.9.3 8.1.4-4.4.3 2 .3-13 .3 3.2.3 8.1.3-6.9.3 3.4.3 8.9.3-20 .3 21.7.3-4.6.3-1.7.4 4.1.3-3.3.3 3.7.3 9.7.3 2 .3-7.9.3-12.5.3 5.2.3 4.3.3-1.8.3 23.1.3-17.4.4 5.7.3-10.8.3 1.8.3 12.2.3 4 .3-.5.3-18 .3 15.5.3-8.5.3-.7.3-4.1.4 15.6.3-8.1.3 17.1.3-10.9.3-4.8.3 13.7.3.2.3-.9.3-7.6.3 6.5.3-1.8.3 6.8.4-7.1.3-2.1.3 2.6.3 18.8.3-26 .3 12.2.3-9 .3 2.7.3-4.3.3-.1.3-1.1.3 6.1.4.4.3-7.7.3 12 .3-4.2.3 1.8.3-11.7.3.7.3-1 .3 2.4.3 8.4.3-5.3.3 3.7.4 1.7.3-10.3.3 9.3.3-3.7.3-1.2.3 6.9.3.3.3-1.7.3 4.9.3 1.5.3.4.3-20.3.4 22.5.3-7.4.3-10 .3.3.3 8.8.3-12.4.3 2 .3-5.6.3 8.8.3 6.6.3-7 .4 2.9.3-4.9.3 7.6.3 11 .3-11 .3 3.4.3 1.4.3 1.8.3-7.4.3.4.3 6.9.3-2.9.4 0 .3 9.1.3-2.5.3-15.2.3 3.8.3 12.4.3-16.6.3 10.4.3-3.1.3-6.5.3 5.5.3-14.3.4 7 .3 8.6.3-2.4.3-5 .3 10.3.3-1.5.3-5.6.3 8.5.3-12.9.3 7.7.3 19.3.3-8.8.4-6.9.3 8.2.3-4.2.3-9.8.3 10.8.3 3.8.3 7.2.3-20.4.3 7.3.3 3.1.3-18.7.4 11.5.3 15.1.3-26.1.3 21.4.3.7.3 7.8.3-9.9.3 2.3.3-7.4.3-8.5.3 10.1.3 13.9.4-24 .3 8.3.3 10.3.3-6.2.3 5 .3 0 .3-1.3.3-6.9.3-9.8.3 12.9.3 9 .3-16.5.4 15.1.3-16.9.3 10.7.3 18.1.3-22.3.3 14.4.3-.3.3-1.4.3 2.4.3 3.7.3 1.6.3 9.2.4-15.2.3-3 .3.9.3-5.4.3 7.1.3 20.6.3.9.3-10.5.3-14.3.3 17.7.3-20.3.4 14.4.3-12.4.3 8.9.3 2.4.3-.4.3 1.7.3-4.8.3-.4.3-4.6.3 5.3.3 4.7.3-7.8.4-3.2.3.5.3 3.9.3 1.6.3-3.4.3 13.2.3-6.2.3-14.5.3 12.4.3-3.8.3-6.1.3-1.9.4 15.7.3-2.1.3-6.7.3-6.3.3 10.6.3-2 .3 13.8.3-11.7.3-3.4.3-8.7.3-3.9.3 25.1.4 3.7.3-23.9.3 1.4.3 10.9.3-5.9.3-.4.3 7.5.3-10.4.3 13.6.3-3.7.3-3.3.3 18.9.4-16.3.3 1.3.3-6.4.3 12.2.3-11.1.3 13.7.3-6.5.3-11.8.3.7.3 1.7.3 14.9.4.2.3-7.1.3 3.4.3-7.5.3 4.5.3-3.2.3-10.5.3 22 .3-6.3.3-7.8.3-4.1.3 22.8.4 4.9.3-4.1.3 13.2.3 3 .3-23.7.3 17.6.3-5.9.3-2.8.3-3.6.3 7.1.3-1.4.3-1.5.4 9.4.3 10 .3-5.9.3.5.3 9.9.3 12.1.3-12.7.3-1 .3-4.1.3 8.9.3.7.3-.2.4 1.8.3-11.9.3 15.9.3-2.3.3-4 .3 9.7.3 3.1.3 4.8.3-15.5.3 9.9.3-13.5.4 2.8.3-7.5.3 5.8.3 6.7.3 6.1.3-25.4.3 5.8.3 15.7.3 4.7.3 1.6.3-3.3.3-5.7.4-12.7.3 16.5.3 1.8.3-5.7.3-3.1.3 13.6.3-16 .3-9.3.3 10.8.3 1.3.3-4.1.3-20.4.4 15.4.3-6.3.3 4.7.3 4.4.3-13.5.3 11.4.3 7.1.3-21.7.3 2.8.3 1.4.3-9.2.3-3.2.4.5.3-8.3.3-.3.3 6.3.3 6.8.3 10.5.3-3.8.3-7.4.3-9.1.3-9.4.3 1.2.4-4.1.3 3.6.3 12.1.3 3.6.3-9.1.3-20.7.3 15 .3-9.3.3 10.8.3 7.8.3-12.8.3 12.9.4-5 .3.7.3-14.6.3-10.7.3 17.2.3.7.3-6.1.3-4.3.3-2 .3-4.6.3 8.8.3 1.4.4-10.6.3-4.6.3-.5.3 11.1.3-8.6.3-17.1.3 25.4.3-12.4.3 0 .3-.8.3.6.3-4.3.4 1.7.3.5.3 3.6.3.8.3 1 .3 3.1.3-1.5.3-3 .3-8 .3 2.9.3-2.7.4 18.5.3-14.3.3 2.3.3-7.5.3-5.5.3-2.1.3.1.3-7.9.3-.3.3-.5.3 3.6.3-.6.4 14.6.3.8.3-7.9.3.3.3-2.4.3-11.1.3 21.5.3-22.6.3.8.3 3.5.3 9.4.3 5.3.4-21 .3 9.2.3-1.8.3-4 .3 1.4.3 9 .3-8.6.3-2.3.3 3.8.3-1.5.3 3.4.3-12.8.4 8.3.3-6 .3 8.8.3 8.9.3-5 .3 7.5.3 4.3.3-13.2.3 13.8.3-16.1.3-.4.4 13.7.3 10.8.3-18.3.3 12.2.3-1.8.3 6 .3 9 .3-15.2.3 8.1.3 6.1.3 1.5.3-3 .4-3.9.3 20.3.3-7.4.3.6.3 11.3.3-12 .3 1.4.3-3.9.3 3.3.3 9.8.3-9.9.3 5.5.4 5.6.3-17.2.3 8.3.3-4.9.3 12.8.3-6.6.3 6.4.3-2.5.3 3.2.3.8.3-1.8.3-5.5.4 13.3.3-12.1.3 3.4.3 4 .3 9.4.3 7.8.3-16.3.3 4.6.3-11 .3-3.6.3 16.9.3-18.4.4 5.8.3 6.2.3 0 .3-8.8.3 5.1.3-.6.3 6.2.3-3.4.3 7.4.3 2.1.3-16.9.4 10.1.3 1.2.3-2 .3-6.4.3-2.5.3 8.2.3-16.8.3 12.9.3 3.5.3-10.8.3.3.3-.4.4 10.9.3-4.1.3-3.6.3-12.9.3.5.3 13.4.3-1.4.3-7.6.3 7.4.3-3.2.3 23.2.3-14 .4 1.4.3-9.5.3 14.4.3-2.7.3-11.1.3 6.9.3 10 .3 1.3.3 21.6.3-13.4.3 2 .3 2.3.4-7 .3-1.4.3-2.8.3 1.9.3 3 .3-10 .3 10.6.3-6.1.3 3.1.3.5.3 15.6.4-9 .3 1.6.3 14.2.3 8.3.3-5.9.3-3.4.3 16.6.3 2.7.3-19.6.3-6 .3 15.8.3-7.6.4-1.6.3 9.5.3 5.5.3 1.2.3-16.3.3 2.6.3 4.6.3 4.5.3 6.7.3-1.6.3-14.3.3-2.8.4-.2.3.9.3-.8.3-6.1.3 14.6.3 6.3.3-18.2.3.4.3 5.7.3 4.5.3-4.2.3 3.9.4-1.1.3 5.7.3-.2.3-11.4.3-11.6.3 12 .3-13.2.3 13.2.3-9 .3-24.1.3 27.3.4-10.8.3 12 .3-6.1.3-7.2.3-5.3.3 7.2.3.6.3-18.6.3 11.7.3-3.7.3 7.7.3-8 .4-3.6.3-10.9.3 16.9.3-1.6.3-10.5.3 13.8.3-18.1.3 9.1.3-15.1.3 8.6.3-.8.3-5.2.4-5.1.3 1.6.3-2.2.3 2.5.3-4.9.3 7.3.3-6.8.3-16.7.3.4.3 5.7.3-2.4.3.5.4-22 .3 11.1.3-1.8.3 11.7.3-9.2.3-3.4.3-6.5.3 16.2.3-8.5.3 8.7.3-8.3.3 4.8.4-7.8.3 22.5.3-6 .3-5.6.3-9.4.3 8.7.3-7.3.3-.9.3 7.5.3-4.9.3-1.7.4-4.5.3 13.8.3.5.3 11.1.3-3.9.3-7.7.3 2.1.3-.1.3 5.5.3 2 .3-9.6.3 2.9.4 15.8.3-3.5.3-2.5.3 10.6.3-2.6.3 13 .3-10 .3-1.5.3 17.9.3-5.9.3-1.3.3 4.1.4-18.8.3 4.6.3 13.7.3 15.5.3-9.1.3-2.1.3-7.4.3 12.3.3 9.6.3 11.6.3-5.5.3-6.4.4-2.9.3-8.6.3 10.6.3-1.9.3-12.6.3 19.5.3-11.4.3 26.4.3-24.2.3 7 .3-3.8.4-5.4.3 5.2.3 14.1.3 1.1.3-16.6.3 10.4.3-2.1.3.4.3-9.4.3 1.8.3 5.1.3-2 .4 9.9.3-4.4.3-16 .3 10.4.3 3.7.3-8.5.3-5.1.3 12.7.3-3.7.3 1.6.3 5.5.3-5.1.4-1.2.3-.1.3-3.8.3 1.7.3-7.4.3 12.3.3-8.8.3 13.1.3 6.5.3-9.9.3 15.9.3-11.9.4 1.6.3 4.6.3.9.3.4.3-4.1.3 7.4.3-8.5.3 3.1.3-11.2.3-3 .3-6.4.4 11.6.3-.2.3-9 .3 6.8.3 11.7.3-4.1.3 0 .3-1.9.3 1.8.3-.8.3 9.2.3-4.8.4 14.7.3-6.6.3 4.8.3 4.5.3 4.8.3-16.2.3 6.2.3.2.3 12 .3-2 .3 5.1.3-3.2.4 3.4.3 3.1.3 7.3.3-25.4.3 22.9.3-43.1.3 24.4.3-11.4.3 10.6.3-8.5.3 6.1.3 14.5.4-5.2.3 4.4.3-16.6.3 10.5.3-2.8.3-1.4.3-4.8.3 1.8.3.2.3.9.3-13.5.4 5.6.3-1 .3-5.8.3.8.3 1.7.3-9.7.3 29.9.3-19.3.3 20 .3-22.3.3-2.6.3 5.5.4 1.7.3-.9.3 10.9.3-2.6.3-11.6.3 23.9.3-30.8.3 1.1.3 1.4.3-3.4.3 9.3.3-18 .4 18.9.3 8.7.3-22.8.3-.9.3 7.8.3-7.7.3-13.3.3 8.6.3 22.3.3-12.2.3-3.9.3 2 .4-2.3.3 11.4.3-9 .3 8 .3 5.3.3-21.9.3 7.6.3-9.9.3-11.5.3 9.8.3-3.1.4 2.7.3 3 .3-1.2.3 7.8.3-7.2.3 10.1.3-14.8.3-1.2.3.4.3-4.8.3-.8.3 5.8.4-4.5.3.3.3-5.7.3-6 .3 5.9.3-2.8.3 8.8.3 3.5.3-1.2.3-5.6.3 4.9.3-12.5.4 14.6.3-7.9.3 2.2.3 5.4.3 8 .3-15.5.3-8.1.3 12.9.3 8.1.3-20.1.3 15.3.3 7.2.4-16.1.3 12.4.3-16.2.3 10.8.3-2.9.3-1.6.3 5.1.3-6.7.3-5.5.3 4.4.3-1.2.3 1 .4 8.4.3.9.3-12.9.3 19.7.3-1.8.3-11.5.3-5.5.3 7 .3-8.7.3 12.1.3 3.2.4-16.2.3 10.9.3-7.1.3-8 .3-18.4.3 7.7.3 2 .3 7.9.3-10.9.3 5.9.3-9.4.3-.5.4-.1.3-10.4.3 9 .3-12.6.3 8 .3-1.7.3-8.4.3 8.7.3 10.4.3-24.5.3.8.3 16 .4-2.3.3 13.4.3-6.4.3-8.5.3 14.3.3-6.6.3-3.2.3 15.1.3 7.5.3-14.5.3-3.1.3 4.3.4-6.6.3 21.4.3 4.7.3-7.3.3 6.5.3-2.1.3 2.7.3-13.1.3 4 .3 19.9.3-17.8.4 9.4.3 20.5.3-8.7.3 3.1.3-4.3.3-1.7.3 7.3.3-4.2.3-6.5.3 5.2.3 10.1.3 7.5.4 7.1.3-17.9.3 1.6.3-1.9.3 8.3.3-2.3.3-26.9.3 10.1.3 9.5.3-8.6.3-1.9.3-1.7.4 8.5.3 3.9.3 13.7.3-10.3.3-19.6.3-13.3.3 12.2.3 11 .3 3 .3-23.8.3 5.5.3.2.4-.1.3-19 .3 6.9.3-10.8.3-5.2.3-5.4.3 16.1.3-1.3.3-9.8.3 2.3.3 11.6.4-6.1.3.7.3-2.1.3 2.5.3-2.9.3-6.2.3-10.4.3-.1.3 18.3.3-18.5.3 2.1.3 1.1.4-6.5.3 4.9.3 19.6.3-21.1.3 0 .3-11.2.3 4.4.3-7.4.3-4.7.3 8.5.3-6.1.3 1.6.4-7.4.3 1.7.3 2.6.3-7.4.3-12 .3 16.2.3 2.3.3-33.6.3 3.7.3 14.2.3 9.6.3-3.4.4 4.1.3-5.6.3 7 .3 16.4.3-17.3.3-4.1.3-4.8.3 12.2.3.7.3-6 .3-8.9.3 7.4.4-9.3.3 10.2.3 5 .3-1.7.3-7.5.3 17.8.3 3.6.3-7.1.3-8.8.3 9.4.3-8.1.4 6.7.3-14.6.3 9.9.3-.6.3 4.5.3-12.7.3 13.5.3-5.7.3-2.9.3 9.2.3-4.9.3 15.9.4-20.4.3-1.7.3.6.3 16.8.3-1.4.3-11 .3 1.3.3-2.5.3 1.1.3-3.8.3-8.4.3 10.8.4-8.8.3 11.3.3 13.5.3-8 .3 4 .3-9.4.3 2.1.3 16.2.3 2.6.3-12.4.3-10.4.3-4.1.4 5 .3-9.7.3 16.3.3-8.6.3 19.9.3-10.9.3 6.9.3 3 .3 2.7.3-11 .3 14.1.4-14.6.3 19.7.3-5.9.3 5.3.3-.5.3 22 .3-7 .3 10.8.3-3.4.3 6.3.3-6.3.3 4.5.4-4.7.3 12.5.3-2.7.3-3.8.3-3.5.3 12.6.3 13.3.3-2.5.3-2.3.3-4.4.3-3.9.3-4.2.4 8.9.3-4.2.3-15.2.3 7.8.3 15.3.3-11.8.3 2.4.3-6.1.3-10.6.3 2.9.3 1.9.3 3.4.4 2.4.3-16.2.3 1.4.3 10.2.3-1.5.3-3.9.3 12.1.3-8.1.3-6 .3 11.1.3-9.7.4 6.1.3 4.3.3-9.5.3 10.3.3-16.9.3 7.4.3.5.3-4.7.3-15.4.3 9 .3 9.4.3-9.1.4 19.8.3-12.3.3 5 .3 6.4.3-.3.3 10.2.3-13.8.3 2.6.3-4.3.3 1.3.3 3.6.3-15.8.4 20.5.3 8.2.3-6.6.3 17.9.3-24.2.3 10.7.3 1.7.3-1.3.3-21.9.3-5.7.3 23.3.3-18.7.4 3.7.3 1.9.3 7.6.3-9.9.3-.6.3 12.5.3 12.5.3-26.1.3 3.2.3-6.3.3 18.8.4-15.8.3 16.5.3-26.6.3 2.3.3-7.6.3 7.9.3-.2.3.1.3 14.6.3-24.9.3 7.8.3 2 .4-6.8.3 11.7.3-1.8.3-3.1.3 3 .3-10.4.3 4.7.3-6.3.3 8.3.3-10.9.3 7.8.3 3.1.4 10.7.3-13.1.3 10.6.3-9 .3 6.8.3 3.5.3-17.5.3-8.3.3 15.7.3-13.1.3 12.7.3-1.4.4-3.3.3 1.2.3 5.5.3-3.4.3-3.1.3 16.8.3-4.9.3-13.8.3-11.6.3 2.2.3 5.7.4 7.6.3 2.5.3-9.2.3 6.3.3-9.5.3 11.1.3-8.2.3 8.1.3 7.3.3-9.4.3 15.2.3-2.9.4-12.5.3 5.6.3-8.6.3 8.9.3-10.1.3 8.8.3.3.3 6.2.3-9.2.3 13.8.3 15.9.3-15.9.4 9.6.3-1 .3-16.9.3 11.8.3 3.9.3-4.3.3 5.7.3 1.7.3-10.2.3-5.4.3 11.7.3-10.3.4 17.7.3-4.4.3 4.1.3-4.7.3 12.7.3-18.3.3 18.6.3-4.3.3 1.1.3-6.9.3-6.4.3 11.1.4 1.2.3-.5.3-1.3.3 4.5.3-9 .3-8.2.3 2.4.3-7.4.3 13.6.3-14.8.3 20.2.4-4.9.3-4.9.3-2.7.3 2.5.3.3.3 10.6.3-22.8.3-3.6.3 11.4.3 5.7.3-1 .3 5.1.4-28 .3 8.8.3 9.2.3 4 .3-1.8.3 7.2.3-2.4.3 14.2.3-13.7.3 13.3.3-27.8.3 30.7.4-4.9.3.9.3-7.2.3.5.3-1.6.3 0 .3-7 .3-.2.3 14.9.3-15.9.3 21.1.3-11.7.4-5.8.3 11.2.3-6.8.3 7.6.3-.7.3-6.1.3-1 .3-.9.3-5.8.3 26.2.3-26.9.4 12.5.3 4 .3 2.3.3 4.8.3-7.9.3 4 .3 8.9.3-19.1.3-1.2.3 2.5.3-11.1.3 10.8.4-.9.3 1.5.3 1.6.3 1.2.3-21.7.3 25.4.3-15 .3 13.7.3-8 .3-4.7.3-1.9.3-7 .4-.7.3-7.7.3 3.7.3 4.9.3-6.8.3 1.4.3 20.2.3-21.6.3 1.2.3-10.9.3 2.3.3-6.3.4 1.3.3 3 .3-9.3.3 3.5.3 8.7.3-6.7.3-10.5.3 17 .3-5.9.3 7 .3-4.9.4 3.2.3 10 .3-9.6.3-.2.3-1.7.3 7.5.3-11.9.3 4.1.3-9.8.3 14.5.3 2 .3 2 .4-.8.3-14.2.3 8 .3 10.4.3 3.9.3 2.9.3-10.6.3-1.3.3 8.9.3 5.2.3 3 .3-20.7.4 17.8.3-.5.3 11.4.3-15.5.3 3.8.3-10.8.3 31.1.3-8.9.3 2.3.3-6 .3.8.3 10.1.4-16.8.3 29.5.3-31.2.3 4 .3 23.1.3-6.5.3 5.3.3-12 .3 5 .3 20.7.3-15.8.3 10.2.4-10.5.3-1.6.3-.6.3 1.8.3 7.9.3 9 .3 2 .3-.7.3-6 .3-3.2.3 7.2.4 6.9.3 4.2.3 1.4.3 5.4.3 2.4.3-13.5.3 3 .3-2.8.3 7.8.3 13.2.3-11.4.3 3 .4 2.6.3-10 .3 18.3.3-8 .3 9.3.3-12.4.3 5.5.3-1.1.3-10.3.3 5.1.3-14 .3 3.7.4 5.6.3 9.1.3-8.8.3-7.4.3 17.8.3-16.2.3-13.8.3 22.5.3 8.1.3-10.2.3-2.4.3 3.3.4-6.4.3 16.1.3-12.1.3-13.1.3 10.7.3 1.4.3-6.6.3 2.1.3-.1.3-1.7.3 5 .4-10.1.3 4.1.3-6.8.3 9.7.3-6.4.3 14.4.3 2.8.3-15.1.3 16.6.3-14.5.3-9.8.3 17.3.4 11.8.3-6.5.3-3 .3-.9.3 13 .3 7.5.3-6.2.3-15.3.3 3.8.3 9.5.3-14.8.3 7.7.4 1 .3 5.4.3-7.9.3 24.5.3-12.4.3-4.9.3 2 .3.3.3-.1.3-3.5.3 14.1.3 10.9.4-14 .3 14.1.3-15.3.3 4.4.3-6.8.3 3.7.3-9.3.3-.8.3 3.1.3-7.6.3 2.9.4 9.9.3-9.9.3 4.7.3-4.8.3 2.8.3 6.5.3-20.1.3-5.8.3 5.4.3 12.4.3 2 .3-1.9.4-2.8.3-8.4.3 4 .3-2.3.3-7.4.3 1.3.3 14.2.3-13.3.3 12.8.3 5.3.3-19 .3-2.6.4 3.2.3-6.4.3 0 .3 5.1.3-3.3.3 7.6.3-17 .3 4.7.3 1.9.3-1.8.3 8.6.3-13 .4-.2.3 11.5.3-1.5.3-27.5.3 25.4.3-6.6.3 12.7.3-.2.3-18.1.3 16.5.3-29.8.4 9.1.3 5.6.3-13.2.3 10.4.3-6.5.3 10.2.3-3.4.3 2.5.3 5.2.3-3.1.3-13.1.3 9.2.4-3.1.3 3.9.3 10 .3-23.2.3 9.3.3 8.5.3-3.9.3.8.3 1.6.3-6.3.3.2.3-6.9.4 5.4.3-13.9.3 3.9.3 3.8.3 1.5.3 4.8.3-3.8.3-12.6.3 10.3.3 1.6.3-8.7.3 9 .4.8.3-9.1.3.9.3-4.7.3 13.6.3-12.2.3 9.1.3 10.7.3 1.4.3-18.3.3 19.2.3-1.4.4 4.4.3-.2.3-14.6.3 14 .3-11.6.3 7.5.3-5.2.3-4 .3 7.2.3-3.2.3 6 .4-1.1.3-10.7.3 2.8.3 12.9.3-11.8.3-8.4.3 8.5.3-11.7.3 6.4.3 4.9.3 18.2.3-6.6.4 6.3.3-21.6.3 10.3.3-7.4.3 1.7.3 10.5.3-1 .3 3.9.3-6 .3 5 .3-5.3.3-1.9.4 2.5.3-15.7.3 11.4.3 0 .3-2.5.3-4.4.3 3 .3-7.5.3 7.5.3 3.4.3 11.3.3-16.4.4 18.8.3-25.9.3 13.8.3-8.6.3-10.4.3 7.8.3-6.9.3 14.8.3-11.2.3 2.9.3-3.9.4-2.2.3-11.4.3 3.5.3 10.3.3-17.3.3 5.6.3-2.3.3 1.3.3-5 .3 18.1.3-10 .3 13.2.4 14.4.3-4.5.3-6.2.3 7.9.3-2 .3 1.4.3-9.8.3 8.5.3 10.7.3-13.6.3 23.1.3-17.4.4 4.6.3 15.9.3-12.5.3 6.6.3-2.4.3-6.3.3-8.1.3 26.9.3-17.6.3 5.4.3 2.6.3-.9.4 12 .3 2 .3-6.7.3-5.8.3 4.5.3 9.7.3 5.3.3-20.4.3 22.3.3-4.2.3 10.9.4-19 .3 3.3.3-12.9.3-9.4.3 36.2.3-7.4.3 9 .3-1.5.3 1.8.3-4.9.3-17.1.3 3.6.4-6.9.3-3.1.3 11.2.3-1.5.3-10.4.3 9.4.3 8.6.3 14.6.3-13.4.3-1.8.3 1 .3.9.4-13.2.3 6.8.3 20.3.3-17.7.3 4.3.3-21.6.3-.9.3 8.1.3-4.9.3 5.7.3 6.6.3-12.8.4 2.4.3 1.8.3-9.3.3 13 .3-8.6.3 7.5.3 3.8.3 0 .3 4.7.3-9.8.3 4.9.4 1 .3 1.4.3 8.2.3 4.4.3-20.2.3 6.9.3 1.1.3 7.1.3-5.4.3 10.1.3-1.6.3 4.3.4-15.3.3-17 .3 25.7.3-6.9.3-13.3.3 7.1.3-4.4.3 4.9.3-23.8.3 4.2.3-.3.3 1.7.4-7.1.3-6.3.3 3.2.3-12.7.3-.6.3-6.2.3 1.4.3.6.3 3.9.3-14.1.3-18.8.3 18.8.4-15.5.3-11.1.3.2.3 16.6.3-19 .3 4.2.3 4.7.3-2.8.3 12.6.3 1.2.3-18.7.3-2.9.4-1.8.3 6.8.3 8.1.3-3.4.3-2 .3.5.3 1.8.3 6.2.3 12.3.3-7.7.3-6.1.4-1.9.3 6.2.3 9.3.3-2.4.3-4.7.3 8.4.3-6.6.3-16.5.3 20.6.3-2 .3-8.7.3 1.8.4-5.2.3 10.7.3 1.4.3.6.3 9.6.3-3 .3-7 .3-4.1.3 6.6.3-18.4.3 13.8.3-7.7.4-1.6.3 9.9.3 7.2.3-10.3.3-9.9.3 13.6.3-11.3.3 3 .3-12.5.3 8.7.3-2.5.3.2.4-1.9.3-.2.3-6.4.3-7.5.3 19.7.3-6.7.3 10.8.3-3.7.3 5.7.3-10.5.3-1.9.4 2.6.3-4.7.3 11.9.3 6.9.3 6.6.3-9.5.3-2 .3 1.3.3.6.3-.8.3 16.5.3-8.9.4-.6.3-5.7.3 12.4.3-.9.3 11 .3-17.3.3-9.9.3 4.2.3 20.1.3.7.3-3.2.3 16.7.4-15.3.3-.2.3 11.1.3 5 .3 2.3.3-12.2.3 8.6.3-5.6.3-1 .3 3.8.3 1.1.3.9.4 6.7.3-20 .3 0 .3 14.7.3-4.4.3 11" fill="none" stroke="#383838" stroke-width="1.4" stroke-linejoin="round" clip-path="url(#cC)"/>
<path d="M84.5 861.8l.3-1.9.3-12.3.3 6.1.3-9.8.3-2.4.4 10.1.3-20.1.3 14.5.3-14.2.3 24.6.3-19.6.3 10.7.3 1 .3-8.5.3-5.7.3 7.1.3 4.6.4-.4.3-8.5.3-5.9.3 12.5.3-2.8.3-24.1.3 29.4.3 2.2.3-12.5.3 14.4.3-3.8.3 4.5.4 4.8.3-6.5.3 6.5.3-17.1.3 18.8.3-11.7.3-7.4.3 6.3.3 10.7.3-9.5.3-9.5.3 4.6.4-9.4.3 5.7.3 6 .3 5 .3 8.9.3-9.1.3-1.8.3-2.2.3 7.7.3-11.8.3 20 .4-4.3.3-8.5.3 17.4.3-4.3.3 15.1.3-16.5.3-.5.3 12.8.3.9.3 20 .3-18.6.3 8 .4-1 .3 14.7.3-.7.3 15.2.3 2.4.3-17.2.3 8.4.3 16.1.3-5.8.3 2.5.3 18 .3-10 .4 4.7.3-1.5.3.8.3 11.7.3-.9.3 11.2.3-9.8.3-8.2.3 5.6.3 1.1.3 10.9.3-10.3.4.2.3 5.1.3 1 .3-8.2.3.7.3 11.9.3 8 .3-8.6.3-10.3.3 17.2.3-3.5.4 3.6.3 1 .3-5.8.3-3.6.3 3.4.3 15.4.3-8.8.3 5.2.3 1.4.3 5.1.3-1 .3-17.2.4-2.8.3 7.5.3 9.7.3-18.3.3 8.4.3 3.2.3 8.9.3-1.9.3-6.4.3-.5.3 20.2.3-11.5.4 14.3.3-23.2.3 9.2.3-14.6.3 9.5.3-2.2.3-.1.3-.9.3 6.7.3-3.6.3-6.9.3 5.6.4 1.3.3-14.4.3-14.4.3 11.1.3 15.4.3 4.1.3-.6.3-12.7.3-.5.3 1.7.3 2.7.3-11.5.4 1.1.3-5.9.3-1.2.3 7.8.3 3.8.3 4.2.3-7.8.3-5 .3-15.6.3-2.1.3 12.5.4-19.3.3 16.5.3-4.2.3-3.2.3 4.7.3-4.6.3-3 .3-9.3.3 2.4.3 7.8.3-14.6.3 5.8.4-2.2.3-1.1.3 1.6.3-13.6.3 2.8.3-11.6.3 21 .3 10.7.3-1 .3 0 .3 24 .3-10.3.4-6 .3 2.3.3-8 .3 6.5.3-21.2.3 20 .3-8.6.3 17 .3-11 .3-3.5.3 9.9.3-1.2.4-17.5.3 9.2.3-1.1.3 10.9.3-17.5.3 20.5.3-5 .3 2.2.3-7.4.3 11.8.3-5.2.4 6.1.3-3.1.3 7.4.3 2 .3-3.5.3 6.8.3-9.2.3-8.2.3 10.7.3 2.3.3 10.9.3 5.8.4-10 .3-8.1.3 9.3.3 10.8.3-4.9.3-2.6.3-5.2.3 10.7.3-7 .3 9.3.3 12.8.3-22.7.4 15.4.3-14.4.3 5.1.3 17.5.3 1 .3-11.7.3 1.9.3-5.7.3-.2.3 22.8.3-2 .3-16.9.4-5.9.3 10.1.3 1.1.3-8.2.3 9.5.3 21 .3-8 .3-9.1.3-2.4.3 8.8.3-5.4.4 10.9.3-15.9.3 22.6.3-18.2.3 2.5.3-11.1.3-1.2.3-.4.3 3.9.3-9.4.3-16 .3 11.4.4 16.5.3-8.7.3-7.4.3 2.6.3-8 .3 1.7.3-5 .3.4.3 3.1.3-15.7.3-3.5.3-21.7.4 14.3.3 14.8.3-9.4.3 7.7.3 24.8.3-2.2.3 3.2.3 6.7.3-4.9.3 6.2.3-6.9.3 17.5.4-6.6.3 11.4.3-15.6.3 6.1.3 2.5.3 11.1.3 3.8.3 13.5.3-13.6.3-4.1.3 12.4.3 9.7.4 2.5.3-11.2.3 19.4.3-16.5.3 11.3.3-15.1.3 2.9.3-1.5.3-4.4.3 19.4.3-7.3.4-14.1.3-.8.3 9.4.3-9.2.3-22.3.3 15.3.3-5.1.3 1.1.3.4.3-1 .3 9.5.3-14.8.4-.5.3 9.2.3 3.9.3-2.6.3-11.2.3 9.7.3-9.6.3.8.3-6.4.3 2.9.3-19.2.3 7.6.4-8.7.3-5.9.3 4.4.3-7.5.3 3.4.3 2.2.3-5 .3-16.7.3 9 .3-4.8.3 1.6.3-3.8.4-6.3.3 6.4.3-3 .3 10.1.3-9.2.3-2.9.3.2.3-3.1.3-3.3.3-2.8.3.9.4-7 .3-1.6.3-12.4.3 1.4.3-12.4.3-.9.3.5.3 1.1.3 5.1.3-3.4.3 3.4.3-1.3.4.7.3 3.1.3 17.7.3 5 .3-14.3.3 7.1.3-13.7.3 22.1.3 5.8.3 4.3.3 3.8.3 1.8.4.4.3 13.1.3-18.2.3-1.7.3 15.2.3-12.3.3 8.5.3-5.8.3-.8.3 22.6.3-17.5.3 16.2.4 9.5.3-23.9.3 4.9.3 22.3.3 6.6.3-9.9.3-12.1.3 9 .3 2.8.3 4 .3-12.1.4 13 .3-6.8.3-7 .3 17.4.3 16.4.3-16.4.3 12.2.3-14.5.3.4.3 11.3.3 7.3.3-5.5.4-4.5.3.9.3-13.7.3 4.4.3 11.6.3 11.2.3-7.7.3 13.2.3-9 .3-.9.3-6.8.3 2.3.4 3.3.3-17.1.3 7 .3-13 .3-12.3.3 12.4.3-13.7.3 13.1.3.6.3-11 .3 17.8.3-19 .4-8.8.3-1.5.3-10.6.3-1.8.3-.6.3-1.4.3.1.3-6.9.3 11.9.3-11.3.3 3.6.4-3.2.3 5.5.3-2.9.3 9.7.3-10.6.3 12.7.3-14.3.3 4.7.3 1 .3-1.5.3-4.3.3-2.5.4-1.7.3 3 .3.5.3-3.8.3-5.3.3 7.3.3-4.8.3-10.9.3 7.4.3 11.7.3-19.9.3 12.8.4-1.5.3-6.9.3-5.1.3.1.3 16 .3-3.2.3 16.4.3-12.7.3 4.6.3-11.1.3-.2.3-7.7.4 4.5.3 16.6.3-5.6.3-10.9.3 27.6.3-18.7.3-5.8.3 8.6.3.8.3.2.3 10.6.4-11.4.3 15 .3-5.7.3 3.9.3 3.5.3-5.1.3-25.8.3 19.5.3-13.6.3 32.5.3-12 .3 6.4.4 4.9.3-1.8.3-11.3.3-9.4.3 13.8.3 13.6.3-15.4.3-11.9.3 17.3.3-5.5.3 3.9.3 4.2.4 10.1.3-4.2.3-4.9.3 3.4.3 5.7.3-.4.3-4.1.3 6.9.3 8.7.3-12.5.3-15.3.3 39.5.4-4.9.3-2.5.3 6.2.3-4.9.3-3.6.3-3.4.3-2.3.3 14.4.3-4.3.3-9.6.3 6.4.3 3.2.4-1 .3 6.3.3-5.7.3-16.7.3 20.9.3.3.3 1.2.3-11.5.3 15.1.3-9.1.3-1.7.4-2.1.3 8.7.3-2.8.3 9.5.3 4.2.3 5.7.3-13.4.3 4.5.3-7 .3 20.7.3-15.4.3 6.7.4-5.1.3.3.3-19.1.3 11.4.3-4.4.3 3.1.3-1.7.3-16 .3 11.5.3 7.5.3-6.7.3 9.2.4-.3.3 7.1.3 12.8.3-8.4.3-11.6.3-11 .3 3.9.3 14.3.3-17.7.3 1 .3 4 .3 1.1.4-3.5.3.8.3 8.8.3-34.9.3 16.9.3 1.4.3-16 .3-3.1.3 3.4.3-.5.3 5.7.4-11.3.3 2.6.3-9.7.3 2.6.3.3.3-1.1.3 7.9.3-5.2.3 23.5.3-8 .3-.3.3-3.5.4-5.8.3-2.4.3.7.3 12.3.3-6.2.3 10.5.3-15.9.3 10.1.3-8.8.3-1.2.3-5.2.3 13.7.4-4.3.3-8.1.3 25.2.3-15 .3 6.2.3-.1.3 1.6.3-11 .3 5.4.3-1.6.3-6 .3 10.7.4-11 .3 6.7.3 8.3.3-6.6.3 14.2.3-1.5.3-6 .3 9.7.3-4.5.3 6.1.3-12.5.4-6.5.3 1.9.3 4.5.3-1.5.3 6 .3 9.4.3-3.6.3-7.4.3 8.4.3 9.1.3-4.6.3-3.6.4 7.2.3 8.6.3-1.6.3 8.1.3-14.5.3-2.3.3 8.7.3 13.6.3-11.7.3 3.9.3.7.3-1.8.4-7.2.3-7.8.3 2 .3 4 .3-5.9.3.5.3-6 .3-7.3.3 2.8.3.1.3 1.5.3 1.9.4-1.3.3-2.4.3-3.3.3-.7.3-12.8.3 7.8.3-22.8.3 10.1.3 14.1.3-8.2.3 14.5.3-16.9.4 18.6.3-13.7.3 21.3.3-22.2.3 21.7.3-16.6.3-3.7.3 1.9.3-.9.3 7.7.3.7.4-.8.3-10.9.3 9.6.3-10.4.3 7.5.3 1.8.3-15 .3 0 .3 9.4.3 30.2.3-18.9.3 4.4.4-2.2.3 4.2.3-2.5.3-2.8.3-3.9.3 1.5.3-16.6.3 4.5.3-11.9.3 12.5.3-5.5.3 3.6.4-12.7.3-.3.3 4.4.3-8.5.3-3 .3-1.9.3-10.1.3 14.8.3-8.7.3-13.7.3-1.5.3 15.3.4-7.2.3-5.2.3-4.3.3 11.2.3-17.6.3-1.4.3-6.2.3-6.6.3 24 .3-15.5.3-2.9.4-4.5.3-2.3.3 14.6.3 12.2.3-8.9.3-5.6.3-21.6.3 26.8.3-5.1.3 22.1.3-2 .3-17 .4 3.9.3-6.9.3 14.1.3-15.9.3-7.6.3 7.3.3-5.8.3 6 .3 20.2.3 8.7.3-21.9.3 8.7.4 7.6.3-6.7.3 3.4.3-1.2.3 3.2.3-1.3.3.3.3-14.3.3-5.5.3 17.2.3-3.6.3 1.8.4 2.9.3-.9.3-1.9.3 21.2.3 5.1.3-4.5.3-16.9.3-2.1.3 17.3.3-3.7.3 11.7.4-5.8.3 6.3.3-6 .3 10.8.3 1 .3 4.8.3-6 .3 3.5.3 1.5.3 10.5.3-4.8.3 7.3.4-7.5.3-9.5.3 15.5.3-3.2.3-6.1.3-.3.3-6.9.3-.3.3-4.1.3 17 .3-12.2.3.3.4-2 .3 5.2.3-13.6.3 4.3.3-1.9.3 4.9.3-8.5.3-2.1.3 12.3.3-4.9.3 8.1.3-4.2.4-8.1.3 12.2.3-3 .3-6.9.3 6 .3-16.1.3 16.3.3-7.5.3 2.8.3-5 .3 22.6.4-25.6.3 6.6.3-3.6.3 1.3.3 6.4.3-4.1.3 12 .3-2.2.3 6.5.3-20.1.3 30.3.3-1.2.4-13.5.3 6.1.3-28.3.3 7.9.3 11 .3 19.3.3-13.1.3 16.9.3-12.3.3 11 .3-7.1.3-11.6.4 14.5.3-9.1.3 20.5.3-8.2.3 9.1.3-4.1.3 1.5.3-4 .3 19.1.3-6.1.3 3.4.3-11.6.4 10.2.3-1.6.3 8.2.3-7.3.3-1.5.3 16.8.3-3 .3-20.9.3 16.3.3-21.1.3 11.9.4-2.6.3-1.3.3 23.7.3.2.3-15.3.3-15.8.3 32 .3-17.6.3 2.5.3-2.4.3 5.6.3 3.9.4-14.4.3-6.1.3 2.6.3 29.9.3-22.6.3 8.6.3 1.4.3-16.3.3 2.1.3-.1.3 17.5.3-20.7.4 13.3.3-1.8.3.6.3-1.8.3-2.6.3 1.7.3-26.6.3 9.5.3-12.6.3 18.2.3-11.2.3 9.5.4 4.2.3-3.4.3-5 .3 15.4.3-.7.3-21.3.3 7.4.3-3.6.3 7.9.3 6.5.3-13.9.3 6.5.4 2.1.3-22.6.3 20.2.3-14 .3-8.1.3-2 .3 8.1.3.4.3 1 .3-5.2.3 5.8.4-21.5.3 15.9.3-5.9.3-5.3.3-5.5.3 23.1.3-25.1.3 3 .3-3.5.3 10.7.3-18.2.3 10.2.4-16.3.3-3.1.3 5.3.3 25.4.3-18.1.3-7.7.3 8.3.3-5.7.3 5.2.3 13.3.3-9.1.3-.2.4.3.3-6.6.3 5.2.3-12.7.3 4.3.3 7.7.3 4.2.3-12.3.3 1.3.3-3.5.3 11.5.3 1.7.4 0 .3-13.7.3 1.5.3 6.5.3-.1.3-13.8.3.2.3.7.3 12.7.3-9.1.3 19 .4-5.7.3-2.7.3-6.8.3 16.1.3-3.3.3-.5.3 4.9.3-2.7.3-1.3.3-1.4.3 6.7.3 2.1.4-1.7.3-.3.3 21.8.3-21.4.3-.9.3-.1.3-3.8.3.2.3-4.8.3-6.4.3 3.5.3-9.3.4-2 .3-6.2.3 3.2.3 2.4.3-2.3.3 8.2.3-16.4.3-2.2.3 5.8.3-7.2.3 2.5.3-5.2.4-2.6.3-1.3.3 10 .3-.2.3 2.3.3 4.9.3-.6.3 2.1.3 23.9.3-4.9.3 3.1.4-13.3.3 1.8.3 1.5.3-5.6.3 12.5.3 6.2.3 6.2.3-13.6.3 8.2.3 1.5.3 24 .3-26.9.4 10.1.3-2.3.3 13.1.3 12.6.3-7 .3 13.6.3.3.3 4.8.3-2.8.3 6.3.3 12.2.3-9.6.4-7.1.3 7.1.3 5.9.3 5.4.3-10.1.3-14.8.3 27.2.3-1 .3-4.2.3 4 .3-20.8.3 17.7.4-9.3.3 15.4.3-23.7.3 8.2.3 11.3.3-1.6.3 2.4.3 18.6.3-8.9.3 4.3.3-13.9.3 1 .4 10.4.3-19.5.3 19.6.3 6.4.3 5.7.3-13.2.3 15.2.3-8.9.3-2.9.3 14.5.3-1.2.4-1 .3-12.2.3-1.4.3 3.6.3 3.6.3-6.6.3-22.4.3 11.8.3 5.5.3-.1.3-12.2.3 17.3.4-14.9.3-6.1.3 14.2.3-20.3.3 9.8.3-4.1.3 5 .3 4.8.3 14.8.3-23.7.3-1.3.3 7.2.4-13.7.3.9.3 0 .3-10.1.3 7.2.3-12.4.3-2 .3 4.7.3-10.3.3 4.9.3 5.4.3-15.5.4 8.4.3-2.8.3-19.7.3 2.8.3 6.1.3-5 .3 7.1.3-4.5.3 4.8.3-17.2.3 3 .4.5.3-10.9.3-8.4.3 1 .3 10 .3-1.5.3 14.2.3-11.5.3-1.2.3 1 .3 13.2.3-10.5.4 10.1.3-19.1.3.1.3 12.1.3-9 .3 23.9.3-8.6.3.1.3-12.4.3-10.6.3 4.9.3 14.2.4 8 .3-7 .3-3.5.3-5.6.3 15 .3-15.4.3 17.9.3-13.3.3 26.9.3-17 .3 13.9.3-9.3.4 1.8.3-9.7.3-1.1.3-3.3.3 15.6.3-18.9.3 24 .3-5.1.3-17.8.3 19 .3 4.9.4-6.8.3 10.8.3-10.6.3 14.9.3-12.3.3 6.6.3 4.6.3-7.9.3 11.1.3-14.7.3.3.3-.2.4-.4.3 5.3.3 8.4.3-1.9.3-17.4.3-4.2.3 4.9.3-5.7.3 12.8.3-19.1.3 16.5.3-7.8.4-5.5.3 9.5.3 1.1.3-4.9.3.5.3-5.7.3-2.9.3 15 .3-19.1.3 2.5.3-4.7.3 7.2.4 1.4.3-3.9.3-5.3.3-3.2.3 2.5.3 2.3.3-1.1.3-11.1.3 15.5.3 11.1.3-4.5.4-7.5.3.2.3 10.9.3 2.7.3-7.7.3 16.4.3-15.1.3-2.8.3 5.8.3 23.8.3-23.9.3-9.4.4 16.7.3 5.7.3-1 .3-3.3.3-2.3.3 6.9.3 4.6.3-13.1.3 11.7.3 12.9.3-6.1.3-12.7.4-1.1.3-1.6.3-2.9.3 11.9.3-4.1.3 11.3.3.9.3-4.1.3-17.4.3-13.2.3 15.4.3.2.4 11.8.3-12.3.3 1.9.3-17.2.3 5 .3 4.2.3 9.6.3-4.7.3 3.4.3-3.5.3-4.3.4 11.1.3-17.3.3 10.2.3 3.6.3.9.3-4.8.3 11.6.3-12.9.3 13.5.3-2.8.3 10 .3-11.6.4-.5.3-1.8.3 3.8.3-6.6.3 3.2.3 3.4.3 11.2.3-1.7.3.7.3 1.1.3-6.2.3 1.4.4.3.3-1.2.3 6.7.3 6.2.3-13.4.3 3.7.3 21.9.3-21.1.3 10.8.3-7.6.3 19.2.3-12.5.4-.1.3-5.5.3 4.9.3 13.8.3-22 .3 20 .3-2 .3 8.9.3-9.4.3 2.9.3-5.9.3-19.3.4 5.8.3 8.1.3-5.3.3-3.6.3-1.2.3-12.9.3 11.6.3-3.8.3-.4.3-2.5.3-8.2.4-1 .3-2.7.3-1.6.3-1.7.3-5.6.3-10.1.3.1.3 7.2.3-6.2.3 5.3.3-14.4.3 4.8.4-13.8.3 17.4.3-9.1.3 12.4.3-2.8.3-3.1.3 9 .3-1 .3-8.4.3 4.9.3-3.6.3 2.7.4 5.5.3-5.8.3 3.4.3 4.9.3 2.1.3-6.8.3 2.5.3-15 .3.2.3 6.3.3-22.6.3 24.6.4 11.7.3-12.1.3-11.7.3 10.5.3 2.4.3.6.3 1.5.3 12.5.3-10.3.3 3.4.3-6.8.4 4.2.3-2.7.3-7.4.3 12.4.3 8.8.3.2.3-8.1.3 2.3.3-17.5.3 23.3.3 6.5.3-9 .4-2.2.3-5.2.3 2 .3 8.3.3 1.7.3 16.6.3 7.8.3-10.4.3 3.7.3-2.2.3-4.9.3 4.1.4-1.1.3 4.4.3 6.2.3 12.3.3-5.5.3 2.4.3 6 .3-5.9.3 5.9.3 1.7.3 5.7.3-17.4.4 10.2.3 11.9.3 1.4.3-5.5.3-8 .3-5.8.3 6.7.3-.6.3-4.5.3 1.4.3-5.3.4-1.8.3-3.1.3 13.9.3-17.3.3 1.8.3 19.4.3 0 .3-7.8.3-8.2.3-7.9.3-12.2.3-3.7.4 6.5.3 2.2.3-13.2.3 6.6.3-1.1.3 5.9.3 3.6.3-11.6.3.3.3 2.6.3 3.6.3-6.4.4 3.2.3-6.2.3 2.9.3 6.3.3-16.8.3 4.8.3 12.2.3-2.4.3 1.4.3-3 .3-5.9.3-3 .4-9.8.3 24.8.3-12.6.3 16.7.3-20.9.3 4.7.3 3 .3 21.9.3-19.2.3-3 .3 5.6.3-12.7.4 1.5.3 9.5.3 4.5.3 6.8.3 10.9.3-25.8.3 0 .3 6.3.3-.9.3-3 .3 10 .4 9.8.3 3.1.3-15.3.3 12.8.3-1.4.3-12.6.3 6 .3-4.2.3 8.8.3-2.5.3-4 .3-1.8.4-16.3.3 11.6.3-17.3.3 6 .3.2.3-.6.3-5.9.3 5.8.3-1.9.3-4.4.3-3.4.3-1.8.4-1.9.3-11.8.3 12.3.3-10.8.3-2 .3 9.7.3-7 .3-4.8.3-4.2.3 23.1.3-19 .3 14.7.4-.6.3-3.9.3 4.8.3-8.8.3-2.8.3-17.4.3.1.3-3 .3-12.2.3 5.8.3 20 .4-.4.3-7.6.3 2.5.3-6 .3 3.2.3 4.5.3-12.4.3 1.4.3-1 .3.3.3 15.2.3-14.4.4-4.2.3-.9.3 9.7.3 3.7.3 3.5.3 2.9.3 6.2.3-12.4.3 5.4.3-11.8.3 2.7.3-3.2.4 5.2.3 11.8.3-23.9.3 28.2.3-11 .3-2.1.3 6.2.3-2.7.3 6.5.3-9.5.3-5 .3 7 .4-15.5.3 13.2.3 11.9.3-8.1.3-15.6.3 24.3.3-9.4.3-7.5.3-6.2.3 1.7.3 0 .4 7.1.3 8.7.3-26.1.3 17.5.3-2.4.3 6.3.3-12.1.3 21.4.3-14.3.3 4.5.3-9.8.3-7.2.4 13.1.3-22.2.3 14.6.3-19.2.3 7 .3-1.4.3-3.5.3 2.5.3-13.8.3 6.3.3-1.3.3 13.8.4 2.4.3-14.4.3-1.9.3 5.5.3 2.1.3 8 .3-12.5.3-3.4.3 8 .3 10.4.3-13.2.3-1.4.4 6.4.3-5.7.3 7.2.3-4.2.3.6.3 5.5.3.4.3 2.5.3 1.8.3-3.5.3-21 .4.5.3 11.5.3 2.8.3-12.8.3 18.4.3-7.2.3-.7.3 9.4.3-15.1.3 11.6.3 7.9.3 3.3.4-2.7.3-1.8.3 2.9.3 8.8.3-9.7.3 7.7.3-7.1.3-19.6.3 15.9.3 5.5.3 5.6.3 2.6.4 3.3.3-3.2.3 9.1.3-5.1.3 2.9.3 7.2.3-8.4.3-8.9.3 9.3.3 2.1.3-5.2.3.9.4 5.4.3-2.6.3-5.5.3 18.6.3-9.7.3 4.3.3-4.8.3.1.3-2.1.3 16 .3-17.1.3 2 .4 12.3.3-10.4.3 9.1.3-2.5.3-1.3.3 8 .3 0 .3-2.8.3-4.2.3-1.1.3-2.3.4 11.6.3 8.8.3-17.7.3-.4.3 3.9.3-2.4.3 1.1.3 1.1.3 1.6.3-9.4.3 5.6.3 4.6.4-7.7.3-4.2.3 4 .3 6.9.3-7.8.3 16.3.3.4.3-8.8.3-11.5.3 3.2.3 3.7.3 2.6.4 7.5.3-4.8.3.2.3-2.5.3 0 .3 5.3.3-8.1.3-4 .3-8.4.3 8.3.3-3.8.3 2.1.4 3.4.3-2.2.3-3.5.3 4.8.3-2.3.3-7.2.3-1.6.3 11.4.3-5.3.3-12.9.3 5 .4-.4.3 6.5.3-13 .3 12.9.3 5.2.3-13.7.3-18.3.3 22.4.3 1.4.3-8.8.3-3.9.3 1.9.4-.5.3 4.9.3-6.7.3-2.8.3 10.6.3-4.1.3 6.2.3-9.2.3-4.1.3 1.3.3-5.6.3 18.1.4-11.8.3-9.2.3 5.5.3 1.1.3 8.5.3 11 .3-11.4.3 14 .3-20.1.3-.9.3 23.1.3-10.6.4-4.7.3 4.7.3 7.6.3-.4.3-10.7.3 13.4.3 12.2.3-2.2.3-1.9.3-12.4.3 7.3.4 19.1.3-11.6.3 3.2.3-.6.3-4.6.3-2.2.3 1.5.3-2.4.3 13.9.3-4.8.3 15.2.3-8.2.4 17.6.3-18.3.3-9.3.3 5.7.3 15.4.3-10.6.3-2.1.3 15.9.3 2.1.3.7.3-13.8.3 12.1.4 1.2.3 1.6.3-18.1.3 17 .3-3.2.3 1.6.3-2.1.3-6.8.3-1 .3 2.9.3-4.9.3-11.4.4 7.4.3-1.7.3 10.7.3-15.1.3-9.2.3 17 .3-6.1.3 2.3.3-2.9.3-4 .3-9.3.4-1.1.3 12.9.3-16.2.3 7.8.3 9.2.3 1.9.3-13 .3 7.6.3-6.9.3-1.4.3-11.7.3 8.8.4-9 .3 12.6.3-14.4.3-2.2.3 8.4.3-15.3.3 10.7.3 4.5.3 9.4.3-20.4.3 12.1.3-5.4.4 1.5.3 5.7.3 2.3.3-4.4.3 4 .3 7.1.3-6.1.3-6.7.3 18.1.3 3.2.3 1.5.3-11.6.4-.8.3.1.3 2 .3 3.8.3 16 .3-12.8.3 4.8.3 14.3.3-10 .3-1.7.3 8.1.3-3.7.4 2.8.3 3.7.3-1.5.3 3.9.3 6.9.3 8.3.3-15.3.3 15.7.3-19.7.3-4.4.3-11.8.4 2.4.3 6.9.3-.3.3 2.5.3-9.3.3 3 .3-9.8.3-.6.3 14.1.3-6 .3 1.3.3 6.3.4-13.3.3-1.5.3-18.1.3 7.2.3 1 .3-12.4.3 9 .3-8.9.3 2.2.3-2.7.3-5.5.3-.1.4 15.5.3-12.8.3 25.7.3-17.4.3 11 .3 5.9.3-2 .3 8.4.3-4.6.3 22.5.3-6 .3-16.7.4 7.6.3 9.9.3-1.3.3 6.5.3-4.3.3-2.6.3 5.3.3 2.5.3 1.1.3-5 .3-2.2.4-2.6.3 9.3.3 1.1.3 22.2.3-6.9.3 20.2.3-9.2.3-1.2.3-5.5.3-4.2.3 2.3.3 5.4.4-7 .3-5.9.3 15.4.3-14.8.3 7.7.3-15.2.3-.1.3-8.5.3 9.9.3 11 .3-18.6.3 23.7.4-5.1.3 6.6.3-9 .3-13.4.3 8.2.3 13.6.3 5.9.3-17.7.3-1 .3-.1.3 1.4.3 5.1.4-4.1.3 8 .3-17.9.3 7 .3-6.9.3 8.2" fill="none" stroke="#f0302e" stroke-width="1.4" stroke-linejoin="round" clip-path="url(#cC)"/>
<path d="M84.5 852.9l.3-.7.3 11.9.3 4 .3-8.2.3 18.8.4-11.8.3 7.6.3-1.9.3 21.9.3-19.5.3 3.5.3 3.1.3-5.2.3 11.2.3 4.3.3 4.2.3-9.5.4 7.7.3.7.3 2.9.3-3.6.3-1.9.3 11.1.3-11.9.3 18.1.3-1.4.3 1.1.3 6 .3 3.6.4-1.8.3-22.2.3 20.8.3-9.4.3-3.2.3-11.2.3 1.8.3 2.3.3 6.3.3-22 .3 10.2.3 8 .4-19.4.3 8.4.3 5 .3-17.3.3-2.8.3 7.3.3-11.8.3-7.1.3 5.8.3-6.3.3-9.5.4 7.7.3.8.3.8.3-14.3.3 15.3.3-12.6.3 2.9.3 1.9.3-20 .3 0 .3 28.8.3-10.2.4-1.8.3 4.2.3 3 .3-10 .3-5 .3 22.3.3 5.4.3-8.1.3 10 .3 1.6.3-11.1.3-2.4.4 11.1.3-1.8.3 17.6.3.8.3-2.5.3-4.8.3 19.8.3-16.2.3.3.3 10.1.3 7.7.3-14.8.4 5.8.3-11.4.3 10.1.3-2.4.3 15.1.3-5 .3 1.2.3 22.1.3-13 .3 2.9.3-15.2.4 24.9.3-19.9.3 14.6.3 8.1.3-5.3.3 7.8.3-7.7.3 23.4.3-3.9.3-13.5.3-2.5.3 5.5.4 9.3.3-.5.3 9.4.3 5 .3-6.9.3 15.9.3-22 .3 6.2.3 11.7.3 1.8.3-12.6.3-3.4.4 23.6.3-17.2.3 3.2.3-23.3.3-2.8.3 21.4.3.3.3 1.3.3-20.5.3 3.8.3 0 .3 14.6.4-9.4.3-14.1.3 5.7.3 8.6.3-7.7.3 1.5.3 2.4.3-14.4.3-3.7.3 14.9.3 4.1.3 4.6.4-3.7.3-1.6.3 20.5.3-14.9.3 1.5.3 1.5.3 8.9.3-5.4.3-13 .3 2.7.3 8.9.4-2.5.3.6.3-4.9.3-4.3.3-3.5.3 1.9.3 4.3.3-.2.3 8 .3-9.9.3 8.6.3 0 .4-8.3.3-5 .3 18.7.3 2.6.3-6.1.3-7.1.3 7.2.3 5.2.3.6.3 4.1.3-5.5.3-17.2.4 17.7.3-2 .3-3.2.3 1.2.3-3 .3-14.8.3 27.1.3-2.8.3-3.3.3 5.6.3 8.2.3-13.6.4-5.2.3 10.3.3-3.7.3 4.6.3 4.4.3 6.4.3-15.5.3 2.4.3 14.7.3-17.7.3 1.9.4-9.9.3 4.6.3 22.8.3-7.9.3 3.6.3 4.7.3-7.5.3-5.7.3-4.8.3-18.9.3 28.8.3-21 .4 4.8.3-11.2.3 14.9.3 6.2.3-13.4.3-.1.3-16.8.3-.9.3 14.3.3-26.4.3 15.5.3 13.9.4-7.6.3-4.4.3-5.6.3-8.4.3 9.9.3-12 .3 19.3.3-13.7.3-2.6.3-8.3.3 15.9.3-6.4.4-13.9.3 14.2.3-5.2.3 2.7.3.3.3 1 .3 1.6.3-4.7.3-4.5.3-9.5.3 6.3.4-6 .3.3.3-2.4.3-5.7.3-10 .3 14 .3 8.1.3-6.2.3-8.8.3 1.5.3-8.9.3-9.9.4 3.9.3-6.4.3-1.7.3 9.2.3 6.2.3-4.3.3 11.1.3-13.7.3 2 .3 1 .3 1.5.3-9.6.4-2.3.3 13.1.3-14.3.3 18.1.3-4.7.3-4.2.3 7.7.3-4.5.3 7.8.3-16.9.3 11.9.3 23.9.4-11.1.3-5.6.3 9.8.3-12.4.3 13.6.3-15.4.3 7 .3-9.2.3 10.7.3 2.2.3-2 .3 1.8.4 3.3.3-7.3.3-2.9.3 10.7.3 11.1.3-17.9.3 8.7.3-6.5.3 13.1.3-8.1.3 4 .4 4.9.3-21.5.3 17 .3.9.3 2.8.3-5.5.3-16.1.3-5.2.3 3.5.3 1.9.3 1.7.3 7.5.4-.8.3-11.9.3-10.5.3 3.8.3 1.1.3 9.2.3-2.9.3-3.9.3 3.3.3.5.3-4 .3-14.4.4 13.6.3-22.8.3 11.2.3-10.6.3-2.3.3-4 .3 9.2.3 17.3.3-10.8.3-9.3.3-14.6.3 9.9.4-2.1.3-1.4.3-11.9.3 3 .3-13.3.3 18.2.3 7.3.3-15.7.3 2.1.3-7.7.3 10.6.4-9.9.3 18.3.3-10.7.3-3.5.3-4.6.3 4.2.3 2.8.3-10.5.3 7.5.3 4.3.3-7.9.3 26.2.4-29 .3 6.7.3.6.3 3.8.3-4.4.3 2.3.3-16.8.3 29.3.3-5.9.3-16.8.3 8.5.3-10.1.4-1 .3 3 .3-9.1.3 23.8.3-14.6.3-17.2.3 15.2.3-.9.3-23.4.3 14.2.3 4.6.3-9.9.4 1 .3 2.3.3-6.9.3 11.8.3 10.8.3-19.3.3.7.3 2.8.3 1.5.3 16.7.3-.3.4 12.8.3-11.8.3 9.5.3-7.8.3 9.9.3 6.7.3 5.2.3 6.6.3-3.4.3-27.9.3 38.4.3 4.9.4 2.9.3-20.1.3 8.5.3 6.3.3-9.2.3 6.7.3 2.1.3-2.4.3 13.7.3 6.2.3-7.4.3 4.2.4-6.3.3 11.3.3-1.6.3-.2.3-5.7.3 10.7.3.8.3 11.2.3-9.2.3 11.6.3-3.1.3-1.3.4 14.9.3-21.3.3 11.4.3-13.4.3 5.2.3 16.1.3.9.3 10.2.3-14.6.3-14.7.3 6.7.4-10.5.3 17 .3-4.4.3-3.5.3 8.9.3-10 .3-8.8.3 1.4.3 10.4.3-7.6.3-5.1.3 14.3.4 12.2.3-5.3.3-20.7.3 2.5.3-11.5.3 2.3.3 3.7.3-9.2.3-3 .3 7.8.3 6.1.3-3.5.4 1.8.3-9.3.3 13.4.3 2.6.3.9.3-10.6.3-3.3.3 1.4.3-3.6.3.2.3-17.2.3 4.6.4 12.7.3-19.8.3 10.4.3-7.2.3 3.3.3-11.7.3.3.3 8.5.3 4.3.3-7.8.3 5.7.4 9.3.3-9.4.3-6.2.3 3.1.3-19.8.3 17.4.3 6.2.3-12.4.3-2.4.3-1.1.3 3.4.3 5.5.4-15.5.3 1.6.3 6.3.3-15.5.3 3 .3 3.9.3 11.1.3-24.2.3.9.3 8.6.3-3.3.3 10.5.4.4.3-12.6.3 24.3.3-3.9.3-11.4.3 15.5.3-4.9.3 2.3.3-3.5.3 9.4.3-1.9.3-5.3.4 3.2.3-3 .3-5.8.3 10.9.3.6.3 4.7.3 1.4.3-18.9.3-2.3.3 6.6.3 1.1.3 17.2.4-12.7.3 9.6.3 4 .3.4.3-3 .3 8.6.3-15.2.3-.4.3-5.6.3 6.3.3-6.2.4 15.5.3 3.5.3-3 .3-.3.3 19.5.3-22.3.3 7.7.3 1.6.3-11.7.3 6.7.3 7.3.3-4.7.4 8 .3 8.3.3-8.2.3 7 .3-3 .3-9 .3 6.6.3-12.2.3 9.9.3 8.7.3 4 .3-12.5.4-1.4.3-12.8.3 6.2.3-5.2.3 12.2.3-2 .3 7.5.3 7.5.3-17.1.3-.7.3 7.5.3-3.6.4-12.9.3 17.1.3-8.1.3 9.5.3-10.9.3 10.3.3 17.8.3-9.2.3-.2.3-7.9.3 7.3.4-9.6.3 5.7.3 6.4.3-8.8.3.2.3 5.8.3-7.5.3 5.8.3-.2.3 7.1.3-22.4.3.5.4 13.2.3 2.9.3.6.3-5.5.3-16.5.3-12.8.3 26.2.3-19.2.3 12.5.3-18.7.3-7.7.3 13.9.4-3.8.3-7.6.3 8.2.3 11.2.3-14.1.3 15.1.3-15.1.3 5 .3-5.4.3 4.5.3 1.5.3 4.8.4-1.7.3-3.4.3 4.4.3-18.4.3 42.4.3-9.7.3 6.7.3-1.4.3-2.9.3.4.3 1.1.4 11.8.3-11.8.3 5.6.3-4.7.3 16.9.3 11.6.3-23.9.3 3.7.3-1.5.3-8 .3-4.7.3 8.9.4-10.8.3-3.7.3 12.7.3 5.1.3-25 .3 9.5.3 7.3.3-20.4.3 1.4.3 3.3.3 6.5.3 3.4.4 9.6.3-2.9.3-.6.3-11.4.3 9.5.3 9.1.3-11.3.3 21.8.3.8.3-10.9.3-2 .3 11.4.4 11.4.3-.1.3 5.1.3-3.2.3-5.8.3-7.3.3 9.7.3-10.4.3 9.9.3-2.2.3 19.6.3-3 .4 1.7.3-2 .3-4.8.3 9.3.3 5.3.3.9.3.8.3-22.6.3 7.6.3-17.4.3 15.5.4-7.1.3 2.5.3-.3.3-3 .3 11.1.3-5.3.3 3.4.3 6.7.3-2.4.3-.4.3 9.4.3-18.9.4 10.2.3 3.5.3-.1.3-18.6.3 10.8.3-1.2.3.1.3 8.5.3-8.2.3-12.5.3-.5.3 7.3.4 5.2.3 3.9.3-12 .3 11.6.3-3.8.3-15.9.3 10.2.3 9 .3-5.1.3-2.9.3 6.4.3-1.8.4 5.7.3-10.5.3 6.8.3-9.8.3-3 .3 8.5.3 6.4.3 4.9.3-1.3.3-5.6.3-1.4.4 3.5.3 6.9.3-5.1.3-16.7.3 17.9.3.7.3-7 .3-12.5.3 9.1.3 2.3.3 7.2.3-13.4.4 9.3.3-3.5.3 3.7.3-8 .3 12.2.3 1.2.3-5.4.3 13.1.3-9.7.3-6.1.3 2.3.3 8.9.4 5.8.3 1.1.3 8.2.3-10.7.3 11.7.3-3.5.3 11.9.3 3.6.3 6.1.3-10.8.3-3.7.3 15.2.4-15.4.3 10.9.3.2.3-3 .3-5.8.3 9.2.3-7.7.3-1.7.3 1.2.3 6.4.3-13.9.4 9.5.3.4.3-10.6.3 3.2.3-13.8.3 13.3.3-16.1.3.1.3-7.3.3-6.9.3 2.6.3-5.8.4-3.2.3 12.7.3-17.1.3 2.4.3-4.2.3-13.4.3 12.6.3-12.8.3-9 .3 16.7.3-11.9.3 5.3.4-8.9.3-3.4.3-9.6.3-8.5.3 3.8.3 9.2.3.6.3 1 .3-7.1.3.6.3 21.5.3-32.6.4 19.5.3 7.2.3 7.3.3-2.2.3-4.4.3 9.5.3-10.4.3 11.2.3-5 .3-14.7.3 10.5.4 12 .3.2.3-5.5.3-4.9.3-3.5.3 19 .3-3.2.3-4.9.3 4.6.3-11.2.3 2.1.3 20 .4-15.6.3 16.3.3-8 .3 3.1.3-5.6.3 4.2.3 4.9.3-8.1.3 4.4.3 7.8.3-20.7.3-3.7.4 22.8.3-21.8.3 7.3.3-3 .3 16.4.3-9.3.3-2.9.3-8.8.3-.1.3-8.7.3 12.3.3-1.3.4 2.6.3-8.8.3-6.9.3-4.9.3-1.8.3-1.1.3 7.4.3-2.5.3-4.7.3-1.3.3 8.3.4 6.8.3-6.7.3-24.6.3 22 .3 4.9.3 9.6.3 4.8.3-3.8.3-6.3.3 19.1.3-1.7.3-4 .4 13.6.3-4.8.3 5.8.3 3.9.3 2.6.3-1 .3.4.3 4.3.3-9.9.3-1 .3 2.2.3 8.3.4 2.6.3-14.6.3 22.8.3 19.6.3 8.5.3-10.6.3-4.2.3-1.7.3 1.5.3 6 .3-31.6.3 9.6.4 19 .3-21 .3 1.6.3-21.3.3 9.5.3 5.5.3 2.7.3-19.2.3 17.6.3-1.8.3-10 .3-1.1.4-.6.3-8.8.3 2.8.3-22.6.3 8.1.3-6.8.3-2.5.3 6.4.3 2 .3 9.2.3-5.9.4 9.2.3-6.5.3-10.6.3-8.9.3-12.2.3.8.3-1.6.3 8.8.3-3 .3 1.7.3-14.6.3 15.1.4-12.7.3 2.6.3 9.5.3-9.7.3 12.6.3-2.9.3-2.1.3 11.7.3-4 .3 6.7.3-1.2.3 5.8.4 5.6.3 3.5.3 3.1.3 4.8.3 2.1.3 11.3.3 9.3.3 3.5.3-12.4.3 2.6.3-7.7.3 6.2.4-7.7.3 2.9.3 6.6.3-.9.3 18.3.3-13.4.3-1.6.3-3.7.3-5.9.3 12.9.3 2.3.4-10.4.3 4.3.3-3.1.3 21 .3-12.2.3-11.8.3 12.7.3-16.5.3 9.4.3 17.3.3-15.3.3 2.2.4 11.4.3-18.6.3 9.7.3-1 .3 14.5.3-9.6.3-4.6.3.2.3-12.6.3-.9.3-4.6.3 10.5.4-15.8.3 24.8.3-8.3.3 1.5.3-17.5.3 31.7.3-21.5.3 11.1.3.2.3 9.3.3-22.7.3-3.5.4-6.3.3-.8.3-7.8.3 5.4.3-8.2.3-12.1.3-5.4.3 24.9.3-13.4.3-3.3.3-5.8.4 18.4.3-4.7.3-7.5.3-7.5.3-3 .3 13.5.3-17.7.3-8.9.3 13.6.3-5.2.3 13.3.3-15.8.4 10.4.3-5.9.3 13.9.3-15.1.3-3.5.3 16.1.3-9.8.3 8.1.3-.3.3 2.5.3-5.3.3-2 .4-.8.3-6.7.3-9.8.3 13.3.3 8.9.3 7.2.3 2.6.3-8.3.3-3.6.3 1.3.3 12.3.3-10.6.4-1.1.3-4.9.3 8.8.3-3.1.3-4.5.3 3.5.3-10.2.3 14.5.3-15.7.3 27.4.3-8.5.3-4.6.4-12.4.3 8.4.3-3.2.3 2.3.3 2.4.3.3.3.3.3 12.4.3-10.9.3 1 .3-8.7.4-5.6.3 12.1.3-4.5.3 2.6.3-1.1.3-10.1.3 9.6.3-15.5.3 19.2.3-16 .3 4.2.3-4.1.4 7.4.3-13.8.3-8.5.3 21.5.3-5.9.3-4.3.3 15.8.3-9.7.3-6.1.3 12.1.3-13.3.3-2.2.4.3.3 4.6.3-.9.3 6.7.3 8.3.3-1.4.3 12.2.3-4.3.3-12 .3 9.7.3 20.8.3-9.6.4-1.1.3-1 .3 1.6.3 11 .3 1.6.3-6 .3 7.4.3 11.4.3-2.9.3.3.3 10.3.4-1.9.3-8.2.3 16.3.3-4.7.3 1.9.3 2.8.3-14.1.3 9.6.3-18.3.3-5.7.3.8.3 14.9.4-5.5.3 4.5.3-.1.3-5 .3 7 .3-8.4.3 7.9.3-1.7.3-2.7.3 3.5.3-18.2.3-2 .4 18.6.3-11.4.3 19.1.3-11.5.3-13.1.3 13.3.3-4.8.3 4 .3 8.6.3-6.5.3 2.4.3 8.7.4 1 .3-5.6.3-12.7.3 7.9.3 1.1.3 4.4.3 5.7.3-8.2.3 15.9.3-15.4.3 12.1.4 3 .3.9.3-4.6.3 13.5.3 11.1.3-23.6.3 8.8.3 8.5.3 4.2.3-8.8.3 11.6.3-9.4.4 1.7.3-1.5.3-5.7.3-.5.3-23.5.3 17.3.3-5.9.3-12 .3 9.1.3-2.3.3 6.8.3-5.3.4-12.8.3-3.3.3-4.1.3 5 .3 2.1.3-.9.3-3.9.3 1.4.3 9.8.3-12.4.3-2.6.3-5.6.4 6.4.3-1.7.3.8.3 4.9.3-2.3.3 1.5.3-10.4.3 3.8.3 10.3.3-3.2.3-5 .4 7.7.3 2.3.3 10.3.3-5.6.3-3 .3-1.1.3 5.8.3-18.9.3 15.2.3.2.3 7.9.3-4.6.4 14.8.3-15.7.3-.5.3-6.4.3 11 .3-14.6.3-5 .3 14.9.3-4.4.3 8.4.3-6 .3 4.3.4 7.5.3-1 .3-20.5.3 14.3.3-9.8.3 12.1.3-6.4.3-15.4.3 14.6.3-8.6.3 7.9.3 5 .4-9.5.3-.2.3 4.4.3-15 .3 11.9.3-8.2.3 2.6.3 6.6.3-14 .3 7.7.3-17.5.4 9.7.3-1.8.3 1.2.3 10.7.3-10.8.3.2.3 8.7.3-15.8.3-7.5.3-15.1.3 16.4.3 10.3.4-13.7.3 6.4.3 2.2.3 3 .3-7.9.3 7.6.3 11.5.3-10.5.3 16.1.3-28.4.3-.8.3 9.1.4-13.6.3 2.7.3 7.5.3-13.5.3 17.3.3-1.2.3-.1.3-.3.3.9.3-5.3.3 2.2.3-22.2.4 15.9.3 15.5.3 2.1.3-12.7.3-1.7.3 7.5.3-14.7.3-.6.3 12.6.3-8 .3-.9.3-1.5.4 1.5.3 6.3.3 7.3.3-13 .3-7.5.3 4.9.3 1.6.3-1 .3 11.5.3-18.1.3 6.6.4-6.2.3 9.3.3 5.4.3-7.3.3-14.9.3 16.3.3-.9.3-2.5.3-2.7.3 11 .3 3.3.3-10.1.4 9 .3-3.1.3-6.8.3-10 .3 13.1.3-2.9.3 7.6.3-13.2.3.3.3 4.5.3 4.7.3 3.2.4 9.2.3-16.7.3 15.7.3 4.3.3-8.3.3 5.3.3 8.4.3-14.2.3 7.1.3 4.1.3 10.5.3 12.5.4-9 .3-10.5.3 6.5.3 2.9.3 9.1.3-8.2.3-11.1.3 16.2.3-3.8.3 2.1.3-4.7.4 8.9.3-3.8.3 9.5.3 8.1.3-7.4.3-1.5.3 9.4.3 1.8.3.2.3-8.1.3 2.6.3-8.2.4-3.1.3-3.6.3 10.6.3 9.6.3-11.7.3-11.5.3-8.8.3 11.1.3-.5.3-.9.3-1.6.3 13.7.4-11.8.3-5.1.3-11.3.3 10.4.3-20.4.3 2.9.3-.8.3 2.3.3 1.2.3-2.8.3-3.8.3 10.4.4-12.8.3 4.3.3 5.8.3-22.3.3-9 .3-.9.3 16.2.3-4.3.3-9.1.3.2.3-12.9.4 10.2.3-.2.3-1.1.3 12.2.3-8.2.3 4.3.3-8.4.3 21.4.3-12.8.3 12.9.3-8.4.3-5.1.4-3.3.3 23.4.3-9.7.3-1.6.3-3 .3 15 .3-6.3.3-.9.3 9.7.3-.1.3-16.7.3 10.7.4-5.7.3 22.2.3-15.9.3-6.6.3 17.8.3-14.9.3 26.3.3-19.3.3 14.7.3-28.6.3 24.8.3-1.9.4 1.4.3-11.3.3 11.1.3-6.6.3 4.1.3-9.5.3-9 .3 17.6.3-17.9.3 2.2.3-2.4.3 2.1.4 5.4.3-2.8.3 13.1.3-27.1.3 25.6.3-9.7.3 2 .3-3.8.3 8.9.3-14.7.3 11 .4 0 .3-1.9.3-8.4.3 10.6.3-1.9.3 8.4.3-10.8.3 10.1.3-3.2.3 8.8.3 2.8.3-4.2.4-4.7.3 3.4.3-1.1.3 12.2.3-5.2.3 10.6.3 14.5.3-23.5.3-2.2.3.2.3 19.5.3-7.6.4-4.5.3-3.2.3 18.4.3-1.5.3-1.8.3 6.6.3-11.4.3 8.1.3-10 .3 2.6.3 3.7.3-4.8.4 7.6.3-6.6.3-2.5.3 10.6.3 6.5.3 4.5.3-6.8.3 3.2.3-21 .3 13.2.3-1.4.4-2.4.3 13.8.3-4.3.3-8.9.3 10.8.3-21.9.3 15.1.3-4.7.3 10 .3-2.9.3-4.4.3-16.3.4 8.8.3 13.5.3-21.4.3 23.8.3-9.3.3 10.2.3 4.8.3-30.9.3 25.6.3 1 .3-5.5.3 4.8.4 5.4.3-17.7.3-8 .3 21.3.3 16.1.3 4.2.3 2.4.3-2.9.3 6.7.3 1.7.3.5.3 2.2.4-10.2.3 15 .3-10.1.3-.7.3 11.1.3-23 .3 1.5.3 19.1.3-22.5.3 24.8.3-6.3.4-9.4.3 9.5.3-10.8.3 15.6.3 1.9.3 2.8.3-7.4.3-9.6.3 4.1.3 22.9.3 2.9.3-16.6.4 4.7.3-3.6.3-5.9.3-2.7.3 2.9.3-1.5.3 5.9.3 6 .3-4.8.3 6.8.3-.9.3-5.9.4 7.8.3 11.6.3-12.4.3-7.1.3 3.6.3-2.9.3 9 .3-.1.3-16.4.3 2.4.3 4.5.3-7.7.4 12.3.3 9 .3.8.3 3.2.3 5.2.3-15.5.3-13.4.3 3.9.3 18.5.3-5.6.3-5.3.4-.9.3-14.4.3 8.6.3 11 .3-18.3.3 4.8.3-5.1.3 12.1.3 2.7.3-17.7.3 10.7.3 2 .4-7.1.3 5.4.3-5.8.3-1.8.3 18.1.3-13.7.3 1.9.3-2.9.3 2 .3 11.4.3-3.4.3 2.3.4-14.4.3 7.3.3-.5.3-6.7.3-1 .3-2.3.3 15 .3-17.9.3 12.5.3-13.3.3 10.1.3-11.4.4 1.8.3 14.1.3-2.2.3-.8.3 4.7.3 12.3.3.4.3-11.8.3 8.9.3-8.5.3 7.5.3-19.4.4-13 .3.6.3 5.8.3 3.1.3 12.4.3-20.2.3 11.2.3 3.4.3-12.3.3-12 .3 2.6.4 8 .3-11.6.3-12.9.3-2.7.3 6.9.3-2.3.3 9.7.3 1.7.3-28.2.3 14.3.3 10.1.3-12.8.4 4.4.3 6.5.3-3.4.3-6.3.3 10.8.3-4.6.3-6.9.3-7.8.3 14.6.3-8.5.3-10.6.3-9.5.4 11.2.3-9 .3 22.2.3-12.4.3-4.2.3 2.8.3-3 .3-3.1.3-.5.3-.3.3 15.1.3-26.4.4 3.3.3 4.9.3-1.2.3-10.1.3 9 .3-3.5.3 4.9.3-9.1.3 5.6.3 13.2.3-18.7.4 18.1.3 1.6.3-3.6.3 3.9.3-9.2.3 6.1.3.9.3-6.9.3 3.5.3 11.2.3 10.1.3-13.1.4 10.1.3-10.7.3-11.8.3 4.6.3 19.4.3-20.8.3 22.1.3-3.2.3.4.3 2.3.3-12.4.3 15.8.4-.5.3 3.2.3-3.2.3-4.6.3 3.2.3-7.9.3-5 .3 11.5.3.9.3 3.9.3-10.4.3 7.2.4 5.8.3 1.7.3 5.2.3 1.3.3-4.6.3 3.7.3-9.9.3 2.6.3-.5.3-.9.3 1.7.4-6.3.3 3.9.3 11.3.3 13.5.3-20.4.3 21.7.3-9.2.3-5.2.3-.6.3 10.5.3-4.2.3 2.2.4-.7.3 4.4.3-6.1.3 3 .3-12.4.3 12.9.3-1.5.3 9.9.3-10.6.3 7.1.3-7.9.3 16.4.4-8.1.3.5.3 3.4.3 3.1.3 12.4.3-25.9.3 21.8.3-10.2.3-3.4.3-14.3.3 18.6.3-20.8.4 10.7.3 7.4.3-2.1.3 16.7.3-3.4.3 1.9.3-16.3.3 11.4.3-20.8.3 14.3.3-5.8.4 11.5.3 3 .3-1.1.3-3 .3-10.6.3 2.4.3-6 .3 5.6.3-.4.3-16.8.3 8.9.3-6.8.4 3.4.3 1.8.3-5.1.3 12.8.3-14.8.3-4.1.3 3.7.3-6.3.3 1.7.3 2 .3-7.3.3-2.2.4 7.5.3-.8.3-11.5.3 8.1.3-6.1.3-8.6.3 11.1.3-.6.3 8.3.3-4.3.3-2.7.3 4.2.4 1.1.3-4.7.3 12.7.3-6.7.3-19.7.3 21.9.3-12.6.3 1.2.3.1.3-12.4.3-1.1.3 11.9.4 7.6.3-4.3.3-16.2.3 19.8.3-19 .3 4.8.3-4.1.3 12.8.3-4.3.3 10.6.3-3.5.4-7.1.3-13.9.3 20.6.3-6.5.3-1.9.3 11.5.3-1.3.3 4.2.3-24.3.3 6.9.3 7.6.3 1.7.4-7.2.3-12.9.3 16.9.3-11.7.3 11.2.3-14.5.3 2 .3.6.3 11.2.3-7.3.3-12.2.3 1 .4 9.5.3-5.4.3-4.2.3 16.2.3-15.1.3-7.5.3-1.7.3 8.1.3 1.6.3.2.3-6.5.3 17 .4-3.4.3-6.4.3 4.9.3 4.6.3-2.6.3 2.2.3-6.5.3 4 .3-4.5.3-5.1.3 14.5.4-19.2.3 27.6.3-3.2.3 3.9.3 1.6.3-10.6.3 3.4.3 1.8.3 4.2.3-8.9.3 11 .3 5.9.4-9.7.3-9.2.3 14 .3 7.5.3-.7.3-3.5.3-2.3.3-3.3.3 21.2.3-15.3.3 3.4.3 0 .4-5.1.3 14.5.3-3.8.3.7.3-17.2.3 14.5.3-2.8.3 2.3.3-5.6.3-3.7.3 1.4.3-1.8.4 1.9.3-5.5.3 15.2.3-15.1.3 6.1.3-11.5" fill="none" stroke="#3d78ea" stroke-width="1.4" stroke-linejoin="round" clip-path="url(#cC)"/>
<g stroke="#000" stroke-width="2" fill="#000"><line x1="84.50" y1="1164.00" x2="84.50" y2="1174.00"/>
<text stroke="none" transform="translate(84.50,1196.60) scale(0.93,1)" text-anchor="middle" font-size="23.5">0</text>
<line x1="146.20" y1="1164.00" x2="146.20" y2="1169.00"/>
<line x1="207.90" y1="1164.00" x2="207.90" y2="1174.00"/>
<text stroke="none" transform="translate(207.90,1196.60) scale(0.93,1)" text-anchor="middle" font-size="23.5">20</text>
<line x1="269.60" y1="1164.00" x2="269.60" y2="1169.00"/>
<line x1="331.30" y1="1164.00" x2="331.30" y2="1174.00"/>
<text stroke="none" transform="translate(331.30,1196.60) scale(0.93,1)" text-anchor="middle" font-size="23.5">40</text>
<line x1="393.00" y1="1164.00" x2="393.00" y2="1169.00"/>
<line x1="454.70" y1="1164.00" x2="454.70" y2="1174.00"/>
<text stroke="none" transform="translate(454.70,1196.60) scale(0.93,1)" text-anchor="middle" font-size="23.5">60</text>
<line x1="516.40" y1="1164.00" x2="516.40" y2="1169.00"/>
<line x1="578.10" y1="1164.00" x2="578.10" y2="1174.00"/>
<text stroke="none" transform="translate(578.10,1196.60) scale(0.93,1)" text-anchor="middle" font-size="23.5">80</text>
<line x1="639.80" y1="1164.00" x2="639.80" y2="1169.00"/>
<line x1="701.50" y1="1164.00" x2="701.50" y2="1174.00"/>
<text stroke="none" transform="translate(701.50,1196.60) scale(0.93,1)" text-anchor="middle" font-size="23.5">100</text>
<line x1="74.50" y1="1164.00" x2="84.50" y2="1164.00"/>
<text stroke="none" transform="translate(67.90,1170.90) scale(0.93,1)" text-anchor="end" font-size="23.5">2</text>
<line x1="79.50" y1="1114.18" x2="84.50" y2="1114.18"/>
<line x1="74.50" y1="1064.36" x2="84.50" y2="1064.36"/>
<text stroke="none" transform="translate(67.90,1071.26) scale(0.93,1)" text-anchor="end" font-size="23.5">4</text>
<line x1="79.50" y1="1014.54" x2="84.50" y2="1014.54"/>
<line x1="74.50" y1="964.72" x2="84.50" y2="964.72"/>
<text stroke="none" transform="translate(67.90,971.62) scale(0.93,1)" text-anchor="end" font-size="23.5">6</text>
<line x1="79.50" y1="914.90" x2="84.50" y2="914.90"/>
<line x1="74.50" y1="865.08" x2="84.50" y2="865.08"/>
<text stroke="none" transform="translate(67.90,871.98) scale(0.93,1)" text-anchor="end" font-size="23.5">8</text>
<line x1="79.50" y1="815.26" x2="84.50" y2="815.26"/>
<line x1="74.50" y1="765.44" x2="84.50" y2="765.44"/>
<text stroke="none" transform="translate(67.90,772.34) scale(0.93,1)" text-anchor="end" font-size="23.5">10</text>
<line x1="79.50" y1="715.62" x2="84.50" y2="715.62"/>
<line x1="74.50" y1="665.80" x2="84.50" y2="665.80"/>
<text stroke="none" transform="translate(67.90,672.70) scale(0.93,1)" text-anchor="end" font-size="23.5">12</text>
<rect x="84.50" y="665.80" width="617.00" height="498.20" fill="none"/>
<text stroke="none" transform="translate(393.00,1237.30) scale(0.945,1)" text-anchor="middle" font-size="27.5">Time (ns)</text>
<text stroke="none" transform="translate(35.60,914.90) rotate(-90)" text-anchor="middle" font-size="26">Rg (nm)</text></g>
<line x1="563.1" y1="680.00" x2="606.1" y2="680.00" stroke="#383838" stroke-width="1.6" opacity="0.8"/>
<text x="611.3000000000001" y="686.20" font-size="18.7">AGHDDFP</text>
<line x1="563.1" y1="703.40" x2="606.1" y2="703.40" stroke="#f0302e" stroke-width="1.6" opacity="0.8"/>
<text x="611.3000000000001" y="709.60" font-size="18.7">GYDTF</text>
<line x1="563.1" y1="726.80" x2="606.1" y2="726.80" stroke="#3d78ea" stroke-width="1.6" opacity="0.8"/>
<text x="611.3000000000001" y="733.00" font-size="18.7">NGYDMR</text>
<text transform="translate(73.9,649.6) scale(0.9,1)" font-size="29.5">C</text>
<path d="M835.6 1164.0V1081.0M837.6 1164.0V1081.0M838.6 1164.0V1081.0M839.6 1164.0V1081.0M840.6 1164.0V1081.0M842.6 1164.0V1081.0M843.6 1164.0V1081.0M844.6 1164.0V1081.0M845.6 1164.0V1081.0M846.6 1164.0V1081.0M847.6 1164.0V997.9M848.6 1164.0V1081.0M849.6 1164.0V1081.0M851.6 1164.0V997.9M852.6 1164.0V1081.0M853.6 1164.0V1081.0M854.6 1164.0V1081.0M855.6 1164.0V997.9M857.6 1164.0V1081.0M858.6 1164.0V1081.0M859.6 1164.0V997.9M860.6 1164.0V1081.0M861.6 1164.0V1081.0M862.6 1164.0V1081.0M863.6 1164.0V1081.0M864.6 1164.0V1081.0M865.6 1164.0V1081.0M866.6 1164.0V1081.0M867.6 1164.0V997.9M868.6 1164.0V1081.0M869.6 1164.0V1081.0M870.6 1164.0V1081.0M871.6 1164.0V1081.0M873.6 1164.0V1081.0M874.6 1164.0V1081.0M875.6 1164.0V1081.0M876.6 1164.0V1081.0M877.6 1164.0V1081.0M878.6 1164.0V1081.0M880.6 1164.0V1081.0M881.6 1164.0V997.9M882.6 1164.0V1081.0M883.6 1164.0V1081.0M885.6 1164.0V1081.0M886.6 1164.0V1081.0M887.6 1164.0V1081.0M888.6 1164.0V914.9M889.6 1164.0V1081.0M890.6 1164.0V997.9M891.6 1164.0V1081.0M893.6 1164.0V1081.0M894.6 1164.0V1081.0M895.6 1164.0V997.9M896.6 1164.0V1081.0M897.6 1164.0V1081.0M898.6 1164.0V1081.0M899.6 1164.0V1081.0M900.6 1164.0V1081.0M901.6 1164.0V1081.0M902.6 1164.0V1081.0M903.6 1164.0V1081.0M905.6 1164.0V1081.0M906.6 1164.0V1081.0M907.6 1164.0V1081.0M908.6 1164.0V1081.0M909.6 1164.0V1081.0M910.6 1164.0V1081.0M911.6 1164.0V1081.0M912.6 1164.0V997.9M913.6 1164.0V1081.0M914.6 1164.0V1081.0M915.6 1164.0V1081.0M916.6 1164.0V1081.0M917.6 1164.0V1081.0M918.6 1164.0V997.9M919.6 1164.0V1081.0M920.6 1164.0V1081.0M921.6 1164.0V1081.0M922.6 1164.0V1081.0M923.6 1164.0V997.9M924.6 1164.0V1081.0M925.6 1164.0V1081.0M926.6 1164.0V997.9M927.6 1164.0V1081.0M929.6 1164.0V1081.0M930.6 1164.0V1081.0M931.6 1164.0V997.9M932.6 1164.0V997.9M933.6 1164.0V1081.0M934.6 1164.0V1081.0M935.6 1164.0V997.9M937.6 1164.0V1081.0M938.6 1164.0V1081.0M939.6 1164.0V997.9M940.6 1164.0V997.9M941.6 1164.0V1081.0M942.6 1164.0V1081.0M943.6 1164.0V1081.0M945.6 1164.0V1081.0M946.6 1164.0V1081.0M948.6 1164.0V1081.0M949.6 1164.0V1081.0M950.6 1164.0V1081.0M952.6 1164.0V1081.0M953.6 1164.0V1081.0M954.6 1164.0V1081.0M955.6 1164.0V1081.0M956.6 1164.0V1081.0M957.6 1164.0V1081.0M958.6 1164.0V914.9M959.6 1164.0V1081.0M960.6 1164.0V1081.0M961.6 1164.0V1081.0M962.6 1164.0V997.9M963.6 1164.0V997.9M964.6 1164.0V1081.0M966.6 1164.0V1081.0M967.6 1164.0V1081.0M968.6 1164.0V1081.0M969.6 1164.0V1081.0M970.6 1164.0V1081.0M971.6 1164.0V914.9M972.6 1164.0V1081.0M974.6 1164.0V914.9M975.6 1164.0V914.9M977.6 1164.0V1081.0M978.6 1164.0V1081.0M979.6 1164.0V1081.0M980.6 1164.0V1081.0M981.6 1164.0V914.9M982.6 1164.0V1081.0M983.6 1164.0V1081.0M986.6 1164.0V997.9M987.6 1164.0V1081.0M988.6 1164.0V997.9M989.6 1164.0V914.9M992.6 1164.0V1081.0M993.6 1164.0V914.9M994.6 1164.0V1081.0M995.6 1164.0V1081.0M996.6 1164.0V914.9M997.6 1164.0V914.9M998.6 1164.0V997.9M999.6 1164.0V914.9M1000.6 1164.0V914.9M1001.6 1164.0V1081.0M1002.6 1164.0V1081.0M1003.6 1164.0V1081.0M1004.6 1164.0V997.9M1005.6 1164.0V914.9M1006.6 1164.0V1081.0M1008.6 1164.0V831.9M1009.6 1164.0V997.9M1010.6 1164.0V914.9M1011.6 1164.0V914.9M1012.6 1164.0V1081.0M1013.6 1164.0V1081.0M1014.6 1164.0V1081.0M1015.6 1164.0V914.9M1016.6 1164.0V914.9M1017.6 1164.0V1081.0M1018.6 1164.0V914.9M1019.6 1164.0V1081.0M1020.6 1164.0V1081.0M1021.6 1164.0V1081.0M1022.6 1164.0V1081.0M1023.6 1164.0V1081.0M1024.6 1164.0V997.9M1026.6 1164.0V997.9M1028.6 1164.0V997.9M1029.6 1164.0V914.9M1030.6 1164.0V997.9M1031.6 1164.0V914.9M1032.6 1164.0V914.9M1033.6 1164.0V748.8M1034.6 1164.0V997.9M1035.6 1164.0V831.9M1036.6 1164.0V831.9M1037.6 1164.0V831.9M1038.6 1164.0V997.9M1039.6 1164.0V914.9M1040.6 1164.0V997.9M1042.6 1164.0V997.9M1043.6 1164.0V997.9M1044.6 1164.0V1081.0M1045.6 1164.0V914.9M1046.6 1164.0V914.9M1047.6 1164.0V997.9M1048.6 1164.0V1081.0M1049.6 1164.0V997.9M1050.6 1164.0V1081.0M1051.6 1164.0V1081.0M1052.6 1164.0V914.9M1054.6 1164.0V997.9M1055.6 1164.0V914.9M1056.6 1164.0V997.9M1057.6 1164.0V914.9M1058.6 1164.0V914.9M1060.6 1164.0V1081.0M1062.6 1164.0V997.9M1063.6 1164.0V1081.0M1064.6 1164.0V997.9M1065.6 1164.0V1081.0M1066.6 1164.0V914.9M1067.6 1164.0V997.9M1068.6 1164.0V997.9M1069.6 1164.0V997.9M1070.6 1164.0V1081.0M1071.6 1164.0V997.9M1072.6 1164.0V997.9M1073.6 1164.0V997.9M1074.6 1164.0V997.9M1075.6 1164.0V997.9M1076.6 1164.0V914.9M1077.6 1164.0V914.9M1078.6 1164.0V1081.0M1080.6 1164.0V914.9M1081.6 1164.0V831.9M1082.6 1164.0V831.9M1083.6 1164.0V831.9M1084.6 1164.0V831.9M1085.6 1164.0V997.9M1086.6 1164.0V1081.0M1088.6 1164.0V914.9M1089.6 1164.0V1081.0M1090.6 1164.0V1081.0M1091.6 1164.0V1081.0M1092.6 1164.0V997.9M1093.6 1164.0V997.9M1094.6 1164.0V1081.0M1095.6 1164.0V1081.0M1096.6 1164.0V997.9M1097.6 1164.0V914.9M1098.6 1164.0V914.9M1099.6 1164.0V914.9M1100.6 1164.0V914.9M1101.6 1164.0V1081.0M1102.6 1164.0V997.9M1103.6 1164.0V914.9M1104.6 1164.0V1081.0M1105.6 1164.0V914.9M1107.6 1164.0V997.9M1108.6 1164.0V997.9M1109.6 1164.0V997.9M1110.6 1164.0V997.9M1111.6 1164.0V914.9M1112.6 1164.0V1081.0M1113.6 1164.0V1081.0M1114.6 1164.0V997.9M1115.6 1164.0V914.9M1116.6 1164.0V1081.0M1117.6 1164.0V997.9M1118.6 1164.0V748.8M1119.6 1164.0V997.9M1120.6 1164.0V1081.0M1121.6 1164.0V914.9M1122.6 1164.0V997.9M1123.6 1164.0V914.9M1124.6 1164.0V914.9M1125.6 1164.0V914.9M1126.6 1164.0V1081.0M1127.6 1164.0V914.9M1130.6 1164.0V1081.0M1131.6 1164.0V1081.0M1132.6 1164.0V914.9M1133.6 1164.0V997.9M1134.6 1164.0V1081.0M1135.6 1164.0V997.9M1136.6 1164.0V1081.0M1137.6 1164.0V914.9M1139.6 1164.0V914.9M1140.6 1164.0V1081.0M1141.6 1164.0V1081.0M1142.6 1164.0V914.9M1143.6 1164.0V997.9M1144.6 1164.0V997.9M1145.6 1164.0V997.9M1146.6 1164.0V997.9M1147.6 1164.0V1081.0M1148.6 1164.0V1081.0M1149.6 1164.0V914.9M1150.6 1164.0V1081.0M1151.6 1164.0V997.9M1152.6 1164.0V1081.0M1153.6 1164.0V997.9M1154.6 1164.0V997.9M1155.6 1164.0V997.9M1156.6 1164.0V997.9M1157.6 1164.0V997.9M1158.6 1164.0V997.9M1159.6 1164.0V997.9M1160.6 1164.0V1081.0M1161.6 1164.0V997.9M1163.6 1164.0V997.9M1164.6 1164.0V1081.0M1165.6 1164.0V1081.0M1167.6 1164.0V1081.0M1168.6 1164.0V997.9M1169.6 1164.0V1081.0M1170.6 1164.0V1081.0M1171.6 1164.0V997.9M1172.6 1164.0V914.9M1173.6 1164.0V997.9M1174.6 1164.0V997.9M1175.6 1164.0V1081.0M1176.6 1164.0V1081.0M1177.6 1164.0V1081.0M1178.6 1164.0V997.9M1179.6 1164.0V997.9M1180.6 1164.0V997.9M1181.6 1164.0V997.9M1182.6 1164.0V997.9M1183.6 1164.0V997.9M1185.6 1164.0V1081.0M1186.6 1164.0V914.9M1187.6 1164.0V997.9M1189.6 1164.0V1081.0M1190.6 1164.0V997.9M1192.6 1164.0V1081.0M1193.6 1164.0V1081.0M1194.6 1164.0V997.9M1195.6 1164.0V997.9M1196.6 1164.0V997.9M1197.6 1164.0V1081.0M1199.6 1164.0V1081.0M1200.6 1164.0V1081.0M1201.6 1164.0V1081.0M1202.6 1164.0V1081.0M1203.6 1164.0V997.9M1204.6 1164.0V831.9M1205.6 1164.0V831.9M1206.6 1164.0V1081.0M1207.6 1164.0V997.9M1208.6 1164.0V997.9M1209.6 1164.0V914.9M1210.6 1164.0V1081.0M1211.6 1164.0V1081.0M1212.6 1164.0V914.9M1214.6 1164.0V997.9M1215.6 1164.0V1081.0M1216.6 1164.0V997.9M1217.6 1164.0V1081.0M1219.6 1164.0V997.9M1220.6 1164.0V997.9M1221.6 1164.0V997.9M1223.6 1164.0V1081.0M1224.6 1164.0V914.9M1225.6 1164.0V997.9M1227.6 1164.0V1081.0M1228.6 1164.0V997.9M1229.6 1164.0V997.9M1230.6 1164.0V1081.0M1231.6 1164.0V1081.0M1232.6 1164.0V1081.0M1233.6 1164.0V997.9M1234.6 1164.0V997.9M1235.6 1164.0V997.9M1236.6 1164.0V1081.0M1237.6 1164.0V1081.0M1239.6 1164.0V914.9M1240.6 1164.0V1081.0M1242.6 1164.0V1081.0M1243.6 1164.0V914.9M1244.6 1164.0V1081.0M1245.6 1164.0V914.9M1247.6 1164.0V914.9M1248.6 1164.0V1081.0M1249.6 1164.0V914.9M1250.6 1164.0V1081.0M1251.6 1164.0V1081.0M1252.6 1164.0V1081.0M1253.6 1164.0V1081.0M1254.6 1164.0V914.9M1255.6 1164.0V1081.0M1256.6 1164.0V914.9M1257.6 1164.0V914.9M1258.6 1164.0V1081.0M1259.6 1164.0V1081.0M1261.6 1164.0V914.9M1262.6 1164.0V1081.0M1263.6 1164.0V1081.0M1264.6 1164.0V914.9M1265.6 1164.0V1081.0M1266.6 1164.0V1081.0M1267.6 1164.0V914.9M1268.6 1164.0V914.9M1269.6 1164.0V1081.0M1270.6 1164.0V914.9M1271.6 1164.0V1081.0M1272.6 1164.0V997.9M1274.6 1164.0V914.9M1275.6 1164.0V1081.0M1276.6 1164.0V1081.0M1277.6 1164.0V1081.0M1278.6 1164.0V1081.0M1279.6 1164.0V748.8M1280.6 1164.0V1081.0M1281.6 1164.0V1081.0M1282.6 1164.0V1081.0M1283.6 1164.0V1081.0M1284.6 1164.0V1081.0M1285.6 1164.0V1081.0M1286.6 1164.0V1081.0M1287.6 1164.0V1081.0M1288.6 1164.0V914.9M1289.6 1164.0V1081.0M1290.6 1164.0V1081.0M1292.6 1164.0V831.9M1293.6 1164.0V914.9M1294.6 1164.0V914.9M1295.6 1164.0V1081.0M1297.6 1164.0V914.9M1298.6 1164.0V1081.0M1300.6 1164.0V1081.0M1301.6 1164.0V1081.0M1302.6 1164.0V1081.0M1304.6 1164.0V1081.0M1305.6 1164.0V1081.0M1306.6 1164.0V914.9M1307.6 1164.0V1081.0M1308.6 1164.0V1081.0M1309.6 1164.0V914.9M1311.6 1164.0V1081.0M1313.6 1164.0V1081.0M1314.6 1164.0V1081.0M1316.6 1164.0V914.9M1318.6 1164.0V1081.0M1319.6 1164.0V1081.0M1320.6 1164.0V914.9M1321.6 1164.0V914.9M1322.6 1164.0V1081.0M1323.6 1164.0V1081.0M1324.6 1164.0V1081.0M1326.6 1164.0V1081.0M1328.6 1164.0V914.9M1329.6 1164.0V1081.0M1330.6 1164.0V914.9M1331.6 1164.0V1081.0M1332.6 1164.0V914.9M1333.6 1164.0V914.9M1334.6 1164.0V914.9M1335.6 1164.0V1081.0M1336.6 1164.0V1081.0M1337.6 1164.0V1081.0M1338.6 1164.0V1081.0M1339.6 1164.0V914.9M1340.6 1164.0V1081.0M1342.6 1164.0V914.9M1343.6 1164.0V914.9M1344.6 1164.0V1081.0M1345.6 1164.0V1081.0M1346.6 1164.0V1081.0M1348.6 1164.0V1081.0M1349.6 1164.0V914.9M1350.6 1164.0V914.9M1351.6 1164.0V914.9M1352.6 1164.0V748.8M1353.6 1164.0V1081.0M1354.6 1164.0V1081.0M1355.6 1164.0V914.9M1357.6 1164.0V914.9M1358.6 1164.0V1081.0M1359.6 1164.0V1081.0M1360.6 1164.0V1081.0M1361.6 1164.0V1081.0M1362.6 1164.0V914.9M1363.6 1164.0V1081.0M1364.6 1164.0V914.9M1365.6 1164.0V914.9M1366.6 1164.0V1081.0M1367.6 1164.0V1081.0M1368.6 1164.0V997.9M1369.6 1164.0V1081.0M1370.6 1164.0V748.8M1371.6 1164.0V1081.0M1372.6 1164.0V914.9M1373.6 1164.0V1081.0M1374.6 1164.0V1081.0M1376.6 1164.0V1081.0M1377.6 1164.0V1081.0M1378.6 1164.0V914.9M1379.6 1164.0V1081.0M1380.6 1164.0V1081.0M1381.6 1164.0V831.9M1382.6 1164.0V1081.0M1383.6 1164.0V831.9M1384.6 1164.0V914.9M1385.6 1164.0V1081.0M1386.6 1164.0V1081.0M1387.6 1164.0V831.9M1388.6 1164.0V1081.0M1391.6 1164.0V1081.0M1392.6 1164.0V914.9M1393.6 1164.0V914.9M1394.6 1164.0V914.9M1395.6 1164.0V914.9M1396.6 1164.0V1081.0M1397.6 1164.0V1081.0M1398.6 1164.0V1081.0M1399.6 1164.0V1081.0M1401.6 1164.0V914.9M1402.6 1164.0V1081.0M1403.6 1164.0V1081.0M1404.6 1164.0V1081.0M1405.6 1164.0V1081.0M1406.6 1164.0V914.9M1407.6 1164.0V1081.0M1408.6 1164.0V914.9M1409.6 1164.0V1081.0M1410.6 1164.0V1081.0M1411.6 1164.0V1081.0M1412.6 1164.0V1081.0M1413.6 1164.0V1081.0M1414.6 1164.0V914.9M1415.6 1164.0V1081.0M1416.6 1164.0V914.9M1417.6 1164.0V997.9M1419.6 1164.0V1081.0M1420.6 1164.0V1081.0M1421.6 1164.0V914.9M1422.6 1164.0V914.9M1423.6 1164.0V1081.0M1424.6 1164.0V1081.0M1425.6 1164.0V914.9M1426.6 1164.0V1081.0M1427.6 1164.0V1081.0M1428.6 1164.0V1081.0M1429.6 1164.0V1081.0M1430.6 1164.0V1081.0M1431.6 1164.0V748.8M1432.6 1164.0V1081.0M1433.6 1164.0V1081.0M1434.6 1164.0V1081.0M1435.6 1164.0V831.9M1436.6 1164.0V1081.0M1437.6 1164.0V1081.0M1438.6 1164.0V831.9M1439.6 1164.0V914.9M1440.6 1164.0V914.9M1441.6 1164.0V914.9M1442.6 1164.0V831.9M1443.6 1164.0V1081.0M1444.6 1164.0V1081.0M1445.6 1164.0V1081.0M1446.6 1164.0V914.9M1447.6 1164.0V914.9M1448.6 1164.0V914.9M1449.6 1164.0V914.9M1450.6 1164.0V1081.0M1451.6 1164.0V1081.0" stroke="#383838" stroke-width="0.9" fill="none"/>
<path d="M835.6 1164.0V1081.0M836.6 1164.0V1081.0M839.6 1164.0V1081.0M841.6 1164.0V1081.0M842.6 1164.0V1081.0M844.6 1164.0V1081.0M845.6 1164.0V997.9M846.6 1164.0V1081.0M847.6 1164.0V1081.0M848.6 1164.0V997.9M850.6 1164.0V997.9M851.6 1164.0V997.9M852.6 1164.0V1081.0M853.6 1164.0V1081.0M854.6 1164.0V997.9M855.6 1164.0V1081.0M856.6 1164.0V997.9M860.6 1164.0V997.9M862.6 1164.0V1081.0M863.6 1164.0V997.9M864.6 1164.0V1081.0M865.6 1164.0V1081.0M866.6 1164.0V1081.0M867.6 1164.0V997.9M868.6 1164.0V1081.0M873.6 1164.0V1081.0M875.6 1164.0V1081.0M877.6 1164.0V1081.0M879.6 1164.0V1081.0M881.6 1164.0V1081.0M882.6 1164.0V1081.0M883.6 1164.0V1081.0M886.6 1164.0V1081.0M888.6 1164.0V997.9M890.6 1164.0V1081.0M891.6 1164.0V997.9M895.6 1164.0V997.9M896.6 1164.0V1081.0M898.6 1164.0V997.9M899.6 1164.0V1081.0M900.6 1164.0V1081.0M901.6 1164.0V997.9M902.6 1164.0V997.9M909.6 1164.0V1081.0M910.6 1164.0V1081.0M911.6 1164.0V997.9M913.6 1164.0V1081.0M914.6 1164.0V1081.0M916.6 1164.0V997.9M917.6 1164.0V1081.0M919.6 1164.0V1081.0M921.6 1164.0V1081.0M922.6 1164.0V997.9M923.6 1164.0V997.9M927.6 1164.0V1081.0M928.6 1164.0V997.9M929.6 1164.0V1081.0M930.6 1164.0V997.9M931.6 1164.0V914.9M932.6 1164.0V1081.0M934.6 1164.0V1081.0M935.6 1164.0V997.9M936.6 1164.0V1081.0M937.6 1164.0V1081.0M940.6 1164.0V997.9M943.6 1164.0V997.9M944.6 1164.0V997.9M946.6 1164.0V997.9M947.6 1164.0V997.9M948.6 1164.0V997.9M952.6 1164.0V997.9M954.6 1164.0V997.9M956.6 1164.0V997.9M957.6 1164.0V1081.0M958.6 1164.0V1081.0M959.6 1164.0V997.9M961.6 1164.0V1081.0M962.6 1164.0V997.9M965.6 1164.0V997.9M966.6 1164.0V997.9M967.6 1164.0V997.9M968.6 1164.0V1081.0M970.6 1164.0V1081.0M971.6 1164.0V1081.0M972.6 1164.0V1081.0M973.6 1164.0V997.9M974.6 1164.0V1081.0M977.6 1164.0V1081.0M978.6 1164.0V997.9M979.6 1164.0V914.9M982.6 1164.0V997.9M983.6 1164.0V997.9M984.6 1164.0V997.9M987.6 1164.0V997.9M988.6 1164.0V997.9M989.6 1164.0V1081.0M991.6 1164.0V1081.0M992.6 1164.0V997.9M994.6 1164.0V1081.0M996.6 1164.0V1081.0M997.6 1164.0V1081.0M998.6 1164.0V1081.0M999.6 1164.0V997.9M1000.6 1164.0V997.9M1001.6 1164.0V997.9M1003.6 1164.0V997.9M1004.6 1164.0V1081.0M1005.6 1164.0V1081.0M1008.6 1164.0V997.9M1009.6 1164.0V997.9M1010.6 1164.0V1081.0M1012.6 1164.0V997.9M1014.6 1164.0V1081.0M1015.6 1164.0V997.9M1019.6 1164.0V1081.0M1021.6 1164.0V1081.0M1023.6 1164.0V997.9M1026.6 1164.0V997.9M1027.6 1164.0V1081.0M1028.6 1164.0V997.9M1030.6 1164.0V1081.0M1032.6 1164.0V1081.0M1033.6 1164.0V997.9M1035.6 1164.0V997.9M1038.6 1164.0V1081.0M1039.6 1164.0V1081.0M1041.6 1164.0V997.9M1043.6 1164.0V997.9M1045.6 1164.0V997.9M1046.6 1164.0V997.9M1048.6 1164.0V997.9M1051.6 1164.0V1081.0M1054.6 1164.0V1081.0M1055.6 1164.0V997.9M1056.6 1164.0V997.9M1058.6 1164.0V997.9M1059.6 1164.0V1081.0M1060.6 1164.0V1081.0M1061.6 1164.0V1081.0M1062.6 1164.0V1081.0M1063.6 1164.0V997.9M1064.6 1164.0V997.9M1065.6 1164.0V997.9M1066.6 1164.0V1081.0M1067.6 1164.0V1081.0M1068.6 1164.0V1081.0M1070.6 1164.0V1081.0M1076.6 1164.0V1081.0M1077.6 1164.0V997.9M1079.6 1164.0V1081.0M1084.6 1164.0V1081.0M1085.6 1164.0V1081.0M1087.6 1164.0V1081.0M1089.6 1164.0V997.9M1093.6 1164.0V997.9M1094.6 1164.0V1081.0M1095.6 1164.0V1081.0M1097.6 1164.0V997.9M1098.6 1164.0V1081.0M1100.6 1164.0V997.9M1102.6 1164.0V997.9M1104.6 1164.0V997.9M1105.6 1164.0V1081.0M1107.6 1164.0V1081.0M1108.6 1164.0V1081.0M1110.6 1164.0V997.9M1112.6 1164.0V997.9M1114.6 1164.0V997.9M1115.6 1164.0V997.9M1116.6 1164.0V1081.0M1121.6 1164.0V1081.0M1122.6 1164.0V1081.0M1124.6 1164.0V1081.0M1125.6 1164.0V1081.0M1126.6 1164.0V1081.0M1127.6 1164.0V997.9M1128.6 1164.0V1081.0M1130.6 1164.0V1081.0M1133.6 1164.0V997.9M1134.6 1164.0V997.9M1135.6 1164.0V997.9M1137.6 1164.0V1081.0M1138.6 1164.0V1081.0M1140.6 1164.0V997.9M1142.6 1164.0V1081.0M1143.6 1164.0V997.9M1145.6 1164.0V997.9M1147.6 1164.0V1081.0M1150.6 1164.0V997.9M1151.6 1164.0V1081.0M1152.6 1164.0V997.9M1154.6 1164.0V997.9M1155.6 1164.0V1081.0M1156.6 1164.0V1081.0M1157.6 1164.0V997.9M1158.6 1164.0V997.9M1160.6 1164.0V1081.0M1161.6 1164.0V1081.0M1162.6 1164.0V997.9M1163.6 1164.0V1081.0M1167.6 1164.0V1081.0M1171.6 1164.0V1081.0M1174.6 1164.0V997.9M1175.6 1164.0V1081.0M1176.6 1164.0V1081.0M1177.6 1164.0V1081.0M1180.6 1164.0V1081.0M1182.6 1164.0V1081.0M1184.6 1164.0V1081.0M1185.6 1164.0V1081.0M1189.6 1164.0V997.9M1192.6 1164.0V997.9M1193.6 1164.0V997.9M1196.6 1164.0V1081.0M1197.6 1164.0V1081.0M1199.6 1164.0V1081.0M1200.6 1164.0V1081.0M1202.6 1164.0V1081.0M1203.6 1164.0V1081.0M1204.6 1164.0V1081.0M1205.6 1164.0V914.9M1206.6 1164.0V1081.0M1207.6 1164.0V997.9M1208.6 1164.0V1081.0M1211.6 1164.0V997.9M1212.6 1164.0V1081.0M1214.6 1164.0V1081.0M1215.6 1164.0V997.9M1216.6 1164.0V1081.0M1217.6 1164.0V1081.0M1218.6 1164.0V1081.0M1221.6 1164.0V1081.0M1222.6 1164.0V997.9M1226.6 1164.0V1081.0M1228.6 1164.0V1081.0M1229.6 1164.0V1081.0M1230.6 1164.0V1081.0M1231.6 1164.0V1081.0M1233.6 1164.0V1081.0M1234.6 1164.0V997.9M1235.6 1164.0V997.9M1237.6 1164.0V997.9M1238.6 1164.0V1081.0M1239.6 1164.0V1081.0M1240.6 1164.0V997.9M1241.6 1164.0V1081.0M1243.6 1164.0V997.9M1245.6 1164.0V997.9M1247.6 1164.0V997.9M1248.6 1164.0V1081.0M1250.6 1164.0V1081.0M1253.6 1164.0V997.9M1258.6 1164.0V1081.0M1261.6 1164.0V1081.0M1262.6 1164.0V1081.0M1263.6 1164.0V997.9M1265.6 1164.0V997.9M1269.6 1164.0V997.9M1270.6 1164.0V1081.0M1271.6 1164.0V997.9M1272.6 1164.0V1081.0M1274.6 1164.0V1081.0M1275.6 1164.0V997.9M1279.6 1164.0V1081.0M1281.6 1164.0V1081.0M1285.6 1164.0V1081.0M1286.6 1164.0V997.9M1287.6 1164.0V1081.0M1288.6 1164.0V1081.0M1289.6 1164.0V1081.0M1290.6 1164.0V1081.0M1292.6 1164.0V997.9M1293.6 1164.0V1081.0M1294.6 1164.0V1081.0M1296.6 1164.0V1081.0M1298.6 1164.0V997.9M1301.6 1164.0V1081.0M1302.6 1164.0V997.9M1303.6 1164.0V1081.0M1304.6 1164.0V997.9M1306.6 1164.0V1081.0M1307.6 1164.0V1081.0M1308.6 1164.0V997.9M1309.6 1164.0V1081.0M1310.6 1164.0V997.9M1311.6 1164.0V914.9M1312.6 1164.0V1081.0M1314.6 1164.0V1081.0M1315.6 1164.0V1081.0M1316.6 1164.0V997.9M1320.6 1164.0V1081.0M1321.6 1164.0V997.9M1323.6 1164.0V997.9M1324.6 1164.0V1081.0M1326.6 1164.0V997.9M1327.6 1164.0V997.9M1329.6 1164.0V997.9M1330.6 1164.0V997.9M1331.6 1164.0V1081.0M1332.6 1164.0V1081.0M1333.6 1164.0V1081.0M1334.6 1164.0V1081.0M1339.6 1164.0V1081.0M1340.6 1164.0V997.9M1341.6 1164.0V997.9M1342.6 1164.0V997.9M1343.6 1164.0V1081.0M1344.6 1164.0V1081.0M1346.6 1164.0V997.9M1347.6 1164.0V997.9M1349.6 1164.0V997.9M1350.6 1164.0V997.9M1352.6 1164.0V1081.0M1354.6 1164.0V1081.0M1355.6 1164.0V997.9M1356.6 1164.0V1081.0M1357.6 1164.0V997.9M1364.6 1164.0V997.9M1367.6 1164.0V1081.0M1371.6 1164.0V1081.0M1372.6 1164.0V997.9M1373.6 1164.0V1081.0M1374.6 1164.0V997.9M1375.6 1164.0V997.9M1376.6 1164.0V997.9M1377.6 1164.0V1081.0M1379.6 1164.0V1081.0M1380.6 1164.0V1081.0M1381.6 1164.0V997.9M1385.6 1164.0V1081.0M1386.6 1164.0V1081.0M1387.6 1164.0V997.9M1388.6 1164.0V1081.0M1389.6 1164.0V997.9M1390.6 1164.0V1081.0M1392.6 1164.0V1081.0M1395.6 1164.0V997.9M1396.6 1164.0V997.9M1398.6 1164.0V1081.0M1399.6 1164.0V1081.0M1400.6 1164.0V997.9M1403.6 1164.0V997.9M1408.6 1164.0V997.9M1409.6 1164.0V1081.0M1410.6 1164.0V1081.0M1411.6 1164.0V997.9M1412.6 1164.0V1081.0M1414.6 1164.0V997.9M1415.6 1164.0V1081.0M1418.6 1164.0V997.9M1419.6 1164.0V997.9M1420.6 1164.0V997.9M1421.6 1164.0V1081.0M1422.6 1164.0V997.9M1423.6 1164.0V1081.0M1424.6 1164.0V997.9M1425.6 1164.0V997.9M1426.6 1164.0V1081.0M1427.6 1164.0V997.9M1429.6 1164.0V1081.0M1431.6 1164.0V1081.0M1432.6 1164.0V997.9M1433.6 1164.0V1081.0M1434.6 1164.0V1081.0M1436.6 1164.0V997.9M1437.6 1164.0V1081.0M1438.6 1164.0V997.9M1440.6 1164.0V1081.0M1444.6 1164.0V997.9M1447.6 1164.0V997.9M1449.6 1164.0V997.9M1450.6 1164.0V1081.0M1451.6 1164.0V997.9" stroke="#f0302e" stroke-width="1.05" fill="none"/>
<path d="M835.6 1164.0V914.9M836.6 1164.0V914.9M837.6 1164.0V914.9M838.6 1164.0V914.9M839.6 1164.0V914.9M840.6 1164.0V831.9M841.6 1164.0V748.8M842.6 1164.0V914.9M843.6 1164.0V831.9M844.6 1164.0V831.9M846.6 1164.0V914.9M848.6 1164.0V997.9M849.6 1164.0V997.9M850.6 1164.0V997.9M851.6 1164.0V1081.0M853.6 1164.0V997.9M854.6 1164.0V997.9M855.6 1164.0V914.9M856.6 1164.0V914.9M857.6 1164.0V997.9M858.6 1164.0V914.9M859.6 1164.0V914.9M860.6 1164.0V1081.0M861.6 1164.0V1081.0M862.6 1164.0V914.9M863.6 1164.0V914.9M864.6 1164.0V997.9M865.6 1164.0V997.9M867.6 1164.0V1081.0M868.6 1164.0V1081.0M869.6 1164.0V1081.0M870.6 1164.0V1081.0M871.6 1164.0V1081.0M873.6 1164.0V914.9M874.6 1164.0V914.9M875.6 1164.0V997.9M876.6 1164.0V997.9M877.6 1164.0V914.9M878.6 1164.0V1081.0M879.6 1164.0V1081.0M880.6 1164.0V997.9M881.6 1164.0V997.9M884.6 1164.0V997.9M885.6 1164.0V997.9M886.6 1164.0V1081.0M888.6 1164.0V997.9M889.6 1164.0V997.9M890.6 1164.0V997.9M891.6 1164.0V997.9M892.6 1164.0V997.9M893.6 1164.0V1081.0M894.6 1164.0V997.9M896.6 1164.0V997.9M897.6 1164.0V997.9M899.6 1164.0V914.9M900.6 1164.0V997.9M901.6 1164.0V997.9M902.6 1164.0V1081.0M903.6 1164.0V1081.0M904.6 1164.0V997.9M905.6 1164.0V997.9M906.6 1164.0V997.9M907.6 1164.0V1081.0M908.6 1164.0V1081.0M909.6 1164.0V997.9M910.6 1164.0V1081.0M911.6 1164.0V997.9M912.6 1164.0V997.9M913.6 1164.0V1081.0M914.6 1164.0V1081.0M915.6 1164.0V831.9M916.6 1164.0V997.9M917.6 1164.0V997.9M918.6 1164.0V997.9M919.6 1164.0V1081.0M920.6 1164.0V997.9M921.6 1164.0V1081.0M922.6 1164.0V1081.0M923.6 1164.0V997.9M924.6 1164.0V1081.0M925.6 1164.0V1081.0M926.6 1164.0V997.9M927.6 1164.0V1081.0M928.6 1164.0V997.9M929.6 1164.0V914.9M931.6 1164.0V997.9M932.6 1164.0V997.9M933.6 1164.0V997.9M934.6 1164.0V1081.0M935.6 1164.0V997.9M937.6 1164.0V997.9M938.6 1164.0V997.9M939.6 1164.0V1081.0M940.6 1164.0V1081.0M941.6 1164.0V831.9M942.6 1164.0V1081.0M943.6 1164.0V1081.0M944.6 1164.0V1081.0M945.6 1164.0V997.9M946.6 1164.0V997.9M948.6 1164.0V997.9M949.6 1164.0V997.9M950.6 1164.0V997.9M951.6 1164.0V1081.0M952.6 1164.0V997.9M953.6 1164.0V1081.0M954.6 1164.0V1081.0M955.6 1164.0V914.9M956.6 1164.0V997.9M957.6 1164.0V1081.0M959.6 1164.0V1081.0M960.6 1164.0V831.9M961.6 1164.0V997.9M962.6 1164.0V997.9M963.6 1164.0V914.9M964.6 1164.0V997.9M965.6 1164.0V1081.0M967.6 1164.0V914.9M968.6 1164.0V914.9M969.6 1164.0V1081.0M970.6 1164.0V1081.0M971.6 1164.0V997.9M972.6 1164.0V997.9M973.6 1164.0V914.9M974.6 1164.0V1081.0M975.6 1164.0V997.9M977.6 1164.0V997.9M978.6 1164.0V1081.0M979.6 1164.0V997.9M980.6 1164.0V997.9M982.6 1164.0V997.9M983.6 1164.0V1081.0M984.6 1164.0V1081.0M985.6 1164.0V997.9M986.6 1164.0V1081.0M987.6 1164.0V997.9M988.6 1164.0V997.9M989.6 1164.0V997.9M990.6 1164.0V997.9M991.6 1164.0V997.9M992.6 1164.0V997.9M993.6 1164.0V997.9M994.6 1164.0V914.9M995.6 1164.0V997.9M996.6 1164.0V1081.0M997.6 1164.0V1081.0M999.6 1164.0V914.9M1000.6 1164.0V997.9M1001.6 1164.0V1081.0M1002.6 1164.0V997.9M1003.6 1164.0V997.9M1004.6 1164.0V997.9M1005.6 1164.0V997.9M1006.6 1164.0V997.9M1007.6 1164.0V1081.0M1008.6 1164.0V997.9M1010.6 1164.0V914.9M1011.6 1164.0V1081.0M1012.6 1164.0V997.9M1013.6 1164.0V997.9M1014.6 1164.0V1081.0M1017.6 1164.0V997.9M1019.6 1164.0V914.9M1020.6 1164.0V997.9M1021.6 1164.0V1081.0M1022.6 1164.0V1081.0M1023.6 1164.0V997.9M1025.6 1164.0V1081.0M1026.6 1164.0V1081.0M1027.6 1164.0V997.9M1028.6 1164.0V914.9M1029.6 1164.0V914.9M1030.6 1164.0V1081.0M1031.6 1164.0V997.9M1032.6 1164.0V1081.0M1033.6 1164.0V914.9M1034.6 1164.0V1081.0M1035.6 1164.0V997.9M1036.6 1164.0V997.9M1037.6 1164.0V997.9M1038.6 1164.0V1081.0M1039.6 1164.0V997.9M1040.6 1164.0V997.9M1041.6 1164.0V1081.0M1042.6 1164.0V997.9M1043.6 1164.0V1081.0M1044.6 1164.0V1081.0M1045.6 1164.0V997.9M1046.6 1164.0V1081.0M1047.6 1164.0V997.9M1048.6 1164.0V1081.0M1049.6 1164.0V997.9M1050.6 1164.0V914.9M1052.6 1164.0V997.9M1053.6 1164.0V997.9M1055.6 1164.0V997.9M1056.6 1164.0V1081.0M1057.6 1164.0V997.9M1058.6 1164.0V997.9M1059.6 1164.0V997.9M1060.6 1164.0V997.9M1061.6 1164.0V1081.0M1062.6 1164.0V1081.0M1063.6 1164.0V997.9M1064.6 1164.0V1081.0M1065.6 1164.0V997.9M1066.6 1164.0V1081.0M1067.6 1164.0V997.9M1068.6 1164.0V997.9M1069.6 1164.0V1081.0M1070.6 1164.0V1081.0M1071.6 1164.0V997.9M1072.6 1164.0V997.9M1073.6 1164.0V914.9M1074.6 1164.0V997.9M1075.6 1164.0V1081.0M1076.6 1164.0V997.9M1077.6 1164.0V1081.0M1078.6 1164.0V997.9M1080.6 1164.0V1081.0M1081.6 1164.0V1081.0M1082.6 1164.0V914.9M1083.6 1164.0V1081.0M1084.6 1164.0V1081.0M1085.6 1164.0V997.9M1086.6 1164.0V997.9M1087.6 1164.0V914.9M1088.6 1164.0V997.9M1089.6 1164.0V1081.0M1090.6 1164.0V997.9M1091.6 1164.0V914.9M1092.6 1164.0V997.9M1093.6 1164.0V1081.0M1094.6 1164.0V914.9M1095.6 1164.0V1081.0M1097.6 1164.0V1081.0M1098.6 1164.0V1081.0M1099.6 1164.0V914.9M1100.6 1164.0V997.9M1101.6 1164.0V997.9M1102.6 1164.0V914.9M1103.6 1164.0V997.9M1104.6 1164.0V997.9M1105.6 1164.0V997.9M1106.6 1164.0V1081.0M1107.6 1164.0V997.9M1108.6 1164.0V1081.0M1109.6 1164.0V997.9M1110.6 1164.0V997.9M1111.6 1164.0V1081.0M1113.6 1164.0V1081.0M1114.6 1164.0V914.9M1115.6 1164.0V914.9M1116.6 1164.0V997.9M1117.6 1164.0V997.9M1118.6 1164.0V997.9M1119.6 1164.0V914.9M1121.6 1164.0V914.9M1122.6 1164.0V1081.0M1123.6 1164.0V997.9M1125.6 1164.0V914.9M1126.6 1164.0V997.9M1127.6 1164.0V997.9M1128.6 1164.0V1081.0M1129.6 1164.0V914.9M1130.6 1164.0V1081.0M1131.6 1164.0V1081.0M1132.6 1164.0V997.9M1133.6 1164.0V1081.0M1134.6 1164.0V914.9M1135.6 1164.0V914.9M1136.6 1164.0V997.9M1137.6 1164.0V914.9M1138.6 1164.0V914.9M1139.6 1164.0V1081.0M1140.6 1164.0V1081.0M1141.6 1164.0V997.9M1142.6 1164.0V1081.0M1143.6 1164.0V914.9M1144.6 1164.0V997.9M1145.6 1164.0V997.9M1146.6 1164.0V997.9M1147.6 1164.0V914.9M1148.6 1164.0V997.9M1149.6 1164.0V1081.0M1150.6 1164.0V997.9M1151.6 1164.0V997.9M1152.6 1164.0V748.8M1153.6 1164.0V1081.0M1154.6 1164.0V997.9M1155.6 1164.0V997.9M1156.6 1164.0V997.9M1157.6 1164.0V1081.0M1158.6 1164.0V997.9M1159.6 1164.0V1081.0M1160.6 1164.0V997.9M1161.6 1164.0V997.9M1162.6 1164.0V1081.0M1163.6 1164.0V831.9M1164.6 1164.0V1081.0M1165.6 1164.0V1081.0M1166.6 1164.0V997.9M1167.6 1164.0V1081.0M1168.6 1164.0V997.9M1169.6 1164.0V997.9M1170.6 1164.0V914.9M1171.6 1164.0V997.9M1172.6 1164.0V997.9M1173.6 1164.0V997.9M1174.6 1164.0V1081.0M1175.6 1164.0V997.9M1176.6 1164.0V997.9M1177.6 1164.0V914.9M1178.6 1164.0V997.9M1179.6 1164.0V997.9M1180.6 1164.0V1081.0M1181.6 1164.0V997.9M1182.6 1164.0V997.9M1184.6 1164.0V997.9M1185.6 1164.0V997.9M1187.6 1164.0V1081.0M1188.6 1164.0V997.9M1189.6 1164.0V997.9M1190.6 1164.0V997.9M1191.6 1164.0V1081.0M1192.6 1164.0V1081.0M1193.6 1164.0V997.9M1194.6 1164.0V997.9M1195.6 1164.0V997.9M1196.6 1164.0V914.9M1197.6 1164.0V997.9M1198.6 1164.0V914.9M1199.6 1164.0V997.9M1200.6 1164.0V1081.0M1201.6 1164.0V997.9M1202.6 1164.0V1081.0M1203.6 1164.0V1081.0M1204.6 1164.0V1081.0M1205.6 1164.0V997.9M1206.6 1164.0V1081.0M1207.6 1164.0V997.9M1208.6 1164.0V1081.0M1209.6 1164.0V914.9M1210.6 1164.0V1081.0M1211.6 1164.0V1081.0M1212.6 1164.0V1081.0M1213.6 1164.0V1081.0M1214.6 1164.0V997.9M1215.6 1164.0V997.9M1216.6 1164.0V914.9M1217.6 1164.0V914.9M1218.6 1164.0V997.9M1219.6 1164.0V997.9M1220.6 1164.0V1081.0M1221.6 1164.0V997.9M1222.6 1164.0V997.9M1224.6 1164.0V997.9M1225.6 1164.0V997.9M1226.6 1164.0V997.9M1227.6 1164.0V997.9M1228.6 1164.0V997.9M1229.6 1164.0V1081.0M1230.6 1164.0V1081.0M1231.6 1164.0V914.9M1232.6 1164.0V1081.0M1233.6 1164.0V997.9M1234.6 1164.0V997.9M1235.6 1164.0V1081.0M1236.6 1164.0V997.9M1237.6 1164.0V914.9M1238.6 1164.0V748.8M1239.6 1164.0V914.9M1240.6 1164.0V1081.0M1241.6 1164.0V1081.0M1242.6 1164.0V914.9M1243.6 1164.0V997.9M1244.6 1164.0V997.9M1245.6 1164.0V997.9M1246.6 1164.0V997.9M1248.6 1164.0V914.9M1249.6 1164.0V997.9M1250.6 1164.0V997.9M1251.6 1164.0V997.9M1252.6 1164.0V997.9M1253.6 1164.0V997.9M1254.6 1164.0V997.9M1255.6 1164.0V914.9M1256.6 1164.0V914.9M1257.6 1164.0V997.9M1258.6 1164.0V997.9M1259.6 1164.0V997.9M1260.6 1164.0V914.9M1261.6 1164.0V997.9M1262.6 1164.0V997.9M1263.6 1164.0V914.9M1264.6 1164.0V997.9M1265.6 1164.0V997.9M1266.6 1164.0V997.9M1267.6 1164.0V831.9M1268.6 1164.0V914.9M1269.6 1164.0V831.9M1270.6 1164.0V997.9M1271.6 1164.0V914.9M1272.6 1164.0V914.9M1273.6 1164.0V914.9M1274.6 1164.0V997.9M1275.6 1164.0V997.9M1277.6 1164.0V914.9M1278.6 1164.0V997.9M1279.6 1164.0V914.9M1280.6 1164.0V997.9M1281.6 1164.0V831.9M1282.6 1164.0V997.9M1283.6 1164.0V914.9M1284.6 1164.0V997.9M1285.6 1164.0V997.9M1286.6 1164.0V997.9M1288.6 1164.0V914.9M1289.6 1164.0V914.9M1290.6 1164.0V997.9M1291.6 1164.0V914.9M1292.6 1164.0V831.9M1293.6 1164.0V914.9M1294.6 1164.0V997.9M1295.6 1164.0V914.9M1296.6 1164.0V997.9M1297.6 1164.0V997.9M1298.6 1164.0V997.9M1299.6 1164.0V914.9M1300.6 1164.0V997.9M1301.6 1164.0V1081.0M1302.6 1164.0V997.9M1303.6 1164.0V914.9M1304.6 1164.0V997.9M1305.6 1164.0V997.9M1306.6 1164.0V914.9M1307.6 1164.0V997.9M1308.6 1164.0V997.9M1309.6 1164.0V997.9M1310.6 1164.0V914.9M1311.6 1164.0V997.9M1312.6 1164.0V997.9M1313.6 1164.0V997.9M1314.6 1164.0V914.9M1315.6 1164.0V914.9M1316.6 1164.0V831.9M1317.6 1164.0V914.9M1318.6 1164.0V997.9M1319.6 1164.0V997.9M1320.6 1164.0V997.9M1321.6 1164.0V914.9M1323.6 1164.0V997.9M1324.6 1164.0V997.9M1325.6 1164.0V914.9M1327.6 1164.0V997.9M1328.6 1164.0V914.9M1329.6 1164.0V1081.0M1330.6 1164.0V997.9M1331.6 1164.0V914.9M1332.6 1164.0V1081.0M1333.6 1164.0V997.9M1334.6 1164.0V831.9M1335.6 1164.0V914.9M1336.6 1164.0V997.9M1337.6 1164.0V914.9M1339.6 1164.0V1081.0M1340.6 1164.0V914.9M1341.6 1164.0V997.9M1342.6 1164.0V997.9M1343.6 1164.0V914.9M1344.6 1164.0V914.9M1345.6 1164.0V914.9M1346.6 1164.0V831.9M1347.6 1164.0V997.9M1348.6 1164.0V997.9M1349.6 1164.0V997.9M1350.6 1164.0V997.9M1351.6 1164.0V914.9M1352.6 1164.0V997.9M1354.6 1164.0V914.9M1355.6 1164.0V997.9M1356.6 1164.0V997.9M1357.6 1164.0V914.9M1358.6 1164.0V914.9M1359.6 1164.0V997.9M1360.6 1164.0V997.9M1361.6 1164.0V914.9M1362.6 1164.0V997.9M1363.6 1164.0V997.9M1364.6 1164.0V997.9M1365.6 1164.0V914.9M1366.6 1164.0V914.9M1367.6 1164.0V914.9M1368.6 1164.0V997.9M1369.6 1164.0V1081.0M1371.6 1164.0V997.9M1372.6 1164.0V997.9M1373.6 1164.0V997.9M1374.6 1164.0V748.8M1375.6 1164.0V997.9M1376.6 1164.0V914.9M1377.6 1164.0V914.9M1378.6 1164.0V914.9M1379.6 1164.0V997.9M1380.6 1164.0V914.9M1381.6 1164.0V997.9M1382.6 1164.0V914.9M1383.6 1164.0V914.9M1385.6 1164.0V914.9M1386.6 1164.0V1081.0M1387.6 1164.0V831.9M1388.6 1164.0V997.9M1389.6 1164.0V997.9M1390.6 1164.0V997.9M1391.6 1164.0V914.9M1392.6 1164.0V997.9M1393.6 1164.0V997.9M1394.6 1164.0V997.9M1395.6 1164.0V997.9M1396.6 1164.0V914.9M1397.6 1164.0V997.9M1398.6 1164.0V831.9M1399.6 1164.0V914.9M1400.6 1164.0V1081.0M1402.6 1164.0V914.9M1403.6 1164.0V997.9M1404.6 1164.0V997.9M1405.6 1164.0V914.9M1406.6 1164.0V914.9M1408.6 1164.0V997.9M1409.6 1164.0V997.9M1410.6 1164.0V997.9M1411.6 1164.0V914.9M1412.6 1164.0V997.9M1413.6 1164.0V831.9M1414.6 1164.0V914.9M1415.6 1164.0V914.9M1416.6 1164.0V914.9M1417.6 1164.0V914.9M1418.6 1164.0V997.9M1419.6 1164.0V997.9M1420.6 1164.0V914.9M1421.6 1164.0V914.9M1422.6 1164.0V914.9M1423.6 1164.0V914.9M1424.6 1164.0V831.9M1425.6 1164.0V1081.0M1426.6 1164.0V914.9M1428.6 1164.0V997.9M1429.6 1164.0V914.9M1431.6 1164.0V914.9M1432.6 1164.0V997.9M1434.6 1164.0V831.9M1435.6 1164.0V997.9M1436.6 1164.0V914.9M1437.6 1164.0V914.9M1438.6 1164.0V914.9M1439.6 1164.0V914.9M1440.6 1164.0V997.9M1441.6 1164.0V997.9M1442.6 1164.0V914.9M1443.6 1164.0V914.9M1444.6 1164.0V997.9M1445.6 1164.0V997.9M1446.6 1164.0V997.9M1448.6 1164.0V914.9M1449.6 1164.0V914.9M1450.6 1164.0V997.9M1451.6 1164.0V1081.0" stroke="#3d78ea" stroke-width="1.05" fill="none"/>
<g stroke="#000" stroke-width="2" fill="#000"><line x1="835.10" y1="1164.00" x2="835.10" y2="1174.00"/>
<text stroke="none" transform="translate(835.10,1196.60) scale(0.93,1)" text-anchor="middle" font-size="23.5">0</text>
<line x1="896.80" y1="1164.00" x2="896.80" y2="1169.00"/>
<line x1="958.50" y1="1164.00" x2="958.50" y2="1174.00"/>
<text stroke="none" transform="translate(958.50,1196.60) scale(0.93,1)" text-anchor="middle" font-size="23.5">20</text>
<line x1="1020.20" y1="1164.00" x2="1020.20" y2="1169.00"/>
<line x1="1081.90" y1="1164.00" x2="1081.90" y2="1174.00"/>
<text stroke="none" transform="translate(1081.90,1196.60) scale(0.93,1)" text-anchor="middle" font-size="23.5">40</text>
<line x1="1143.60" y1="1164.00" x2="1143.60" y2="1169.00"/>
<line x1="1205.30" y1="1164.00" x2="1205.30" y2="1174.00"/>
<text stroke="none" transform="translate(1205.30,1196.60) scale(0.93,1)" text-anchor="middle" font-size="23.5">60</text>
<line x1="1267.00" y1="1164.00" x2="1267.00" y2="1169.00"/>
<line x1="1328.70" y1="1164.00" x2="1328.70" y2="1174.00"/>
<text stroke="none" transform="translate(1328.70,1196.60) scale(0.93,1)" text-anchor="middle" font-size="23.5">80</text>
<line x1="1390.40" y1="1164.00" x2="1390.40" y2="1169.00"/>
<line x1="1452.10" y1="1164.00" x2="1452.10" y2="1174.00"/>
<text stroke="none" transform="translate(1452.10,1196.60) scale(0.93,1)" text-anchor="middle" font-size="23.5">100</text>
<line x1="825.10" y1="1164.00" x2="835.10" y2="1164.00"/>
<text stroke="none" transform="translate(818.50,1170.90) scale(0.93,1)" text-anchor="end" font-size="23.5">0</text>
<line x1="830.10" y1="1122.48" x2="835.10" y2="1122.48"/>
<line x1="825.10" y1="1080.97" x2="835.10" y2="1080.97"/>
<text stroke="none" transform="translate(818.50,1087.87) scale(0.93,1)" text-anchor="end" font-size="23.5">1</text>
<line x1="830.10" y1="1039.45" x2="835.10" y2="1039.45"/>
<line x1="825.10" y1="997.93" x2="835.10" y2="997.93"/>
<text stroke="none" transform="translate(818.50,1004.83) scale(0.93,1)" text-anchor="end" font-size="23.5">2</text>
<line x1="830.10" y1="956.42" x2="835.10" y2="956.42"/>
<line x1="825.10" y1="914.90" x2="835.10" y2="914.90"/>
<text stroke="none" transform="translate(818.50,921.80) scale(0.93,1)" text-anchor="end" font-size="23.5">3</text>
<line x1="830.10" y1="873.38" x2="835.10" y2="873.38"/>
<line x1="825.10" y1="831.87" x2="835.10" y2="831.87"/>
<text stroke="none" transform="translate(818.50,838.77) scale(0.93,1)" text-anchor="end" font-size="23.5">4</text>
<line x1="830.10" y1="790.35" x2="835.10" y2="790.35"/>
<line x1="825.10" y1="748.83" x2="835.10" y2="748.83"/>
<text stroke="none" transform="translate(818.50,755.73) scale(0.93,1)" text-anchor="end" font-size="23.5">5</text>
<line x1="830.10" y1="707.32" x2="835.10" y2="707.32"/>
<line x1="825.10" y1="665.80" x2="835.10" y2="665.80"/>
<text stroke="none" transform="translate(818.50,672.70) scale(0.93,1)" text-anchor="end" font-size="23.5">6</text>
<rect x="835.10" y="665.80" width="617.00" height="498.20" fill="none"/>
<text stroke="none" transform="translate(1143.60,1237.30) scale(0.945,1)" text-anchor="middle" font-size="27.5">Time (ns)</text>
<text stroke="none" transform="translate(796.50,914.90) rotate(-90)" text-anchor="middle" font-size="26">RMSD (nm)</text></g>
<line x1="1312.0" y1="681.50" x2="1354.1" y2="681.50" stroke="#383838" stroke-width="1.6" opacity="0.8"/>
<text x="1359.5" y="687.70" font-size="18.7">AGHDDFP</text>
<line x1="1312.0" y1="704.90" x2="1354.1" y2="704.90" stroke="#f0302e" stroke-width="1.6" opacity="0.8"/>
<text x="1359.5" y="711.10" font-size="18.7">GYDTF</text>
<line x1="1312.0" y1="728.30" x2="1354.1" y2="728.30" stroke="#3d78ea" stroke-width="1.6" opacity="0.8"/>
<text x="1359.5" y="734.50" font-size="18.7">NGYDMR</text>
<text transform="translate(823.2,649.6) scale(0.9,1)" font-size="29.5">D</text>
<path d="M84.5 1462.4l.3 10.3.3-13.5.3 28 .3-3.5.3-5.9.4-2.8.3 17.2.3 1.5.3-4.3.3-20.9.3 17.9.3 1.6.3-.1.3-2 .3 5.1.3-7.6.3 5.4.4 18.3.3-2 .3-14.1.3 18.7.3-5.2.3-8.7.3 10.3.3-11 .3 13.4.3-4.6.3 10.1.3 2.9.4-.4.3-4.7.3 8.9.3-4.6.3 1.8.3-5.9.3 10.4.3-1.1.3-4.6.3-2.3.3 6.3.3 1.8.4-6.4.3 14.4.3-1.6.3 13.1.3-19.5.3-1.7.3 14.8.3-6.7.3 9.8.3 3.5.3-1.5.4 2.2.3-1.1.3-.4.3-7.5.3 8.6.3 2.6.3.3.3.8.3-2.8.3 12 .3-3.5.3-5.4.4 10.2.3-15.9.3 7.4.3-5.9.3-3 .3 6.2.3-2.5.3-7.6.3 9.3.3-2.9.3-3 .3 2.2.4-3 .3-1.5.3 8.6.3-7.3.3-8.2.3 18.9.3-20.7.3 10.7.3 6.4.3-8.1.3 10.9.3-4.8.4 4.2.3 5.1.3-3.4.3 9.8.3-8.5.3-2.5.3 9 .3-10 .3-.5.3-2.3.3 9.4.4 2.5.3-3.8.3-1.6.3 2.6.3-2.3.3-2.2.3-2.5.3 9.8.3-9 .3 5 .3-6.2.3-2.1.4 6 .3-3.6.3 8.2.3 3.7.3 1 .3 11.1.3-4.3.3 3.2.3-5.7.3 2.7.3-17.5.3 3.9.4 22.3.3-8.1.3 4.4.3-11 .3 7.7.3-4.3.3 1.3.3-.2.3 1 .3.4.3-6.7.3-11.7.4 4.2.3 10.1.3-1 .3-1.9.3 2.5.3 3.2.3.8.3-5.6.3 4.1.3 7.4.3-5.4.3-9.6.4.6.3 14.6.3-6.1.3 1.5.3.4.3-6.6.3 9.6.3-.8.3-9 .3 9.7.3 6.1.4-13 .3 6.6.3-2 .3-6 .3 3.7.3 5.2.3 1.6.3-8.4.3-.8.3-.3.3 15.2.3-11.1.4-4.5.3 8.5.3 4.2.3-4.7.3-.7.3 1.8.3 4.9.3-10.1.3 3.2.3-3.7.3 9.8.3-.4.4-12.5.3 11.3.3 1.5.3-5.6.3 5.2.3 11.2.3-9.8.3-2.1.3-1.5.3 6.6.3 5.8.3-8 .4 9.5.3-10.8.3-2.1.3.7.3-.1.3-6.3.3-4.8.3 8.3.3 2.5.3 4.9.3-8.6.4 6.6.3 5.2.3 3.4.3-14.1.3 3.4.3-1.9.3 3.4.3 5.4.3.1.3-7.8.3 7.8.3 2.6.4-.5.3-8.1.3-1.8.3-1.3.3 8.3.3-6.2.3 4.1.3 1.6.3 7.9.3-10.6.3-.2.3 1.3.4 1.8.3 7.7.3-17 .3 13.6.3 1.6.3 1.7.3 1.1.3-3.5.3-5.3.3-1.7.3 4.2.3 4.1.4 4.5.3 8.8.3-14 .3 1.2.3-3.1.3 7.2.3-6.6.3 6 .3-3.2.3 6.8.3-7.7.4-1.9.3 6.6.3-12.1.3-7.5.3 16.6.3 5.8.3-11.7.3.5.3 16 .3-10 .3 6.1.3 5.8.4-10.5.3-2.2.3 1.9.3 3.7.3 4.1.3 5.5.3-11.5.3 1.4.3-13.4.3 17.6.3-16.8.3 5.4.4-4 .3 13.3.3 7.1.3-11.8.3-7.7.3-2.9.3 9.5.3 3.2.3.2.3 7.1.3-14.4.3 4.2.4-7 .3 8.8.3-6.2.3 4.9.3-4.2.3 6.3.3-.5.3-2 .3-6.4.3-6.2.3-2.1.3 8.6.4 3.7.3-9.7.3 3.1.3.6.3 15.3.3 1.1.3.8.3-6.3.3-2.5.3 0 .3-1.7.4 8 .3-9.3.3 22.8.3-22.9.3 16.7.3-22.3.3 23.3.3-10.1.3 2.5.3-5.8.3 18.6.3-5.8.4-9.9.3 10.7.3-18.5.3 6.1.3 12.9.3-10.8.3.5.3 7.7.3-4.8.3.2.3-3.6.3 2.7.4-2.1.3 3.9.3-1.1.3-10 .3 5.9.3.8.3-3 .3 2.7.3 9.8.3-6.6.3-3.3.3 1.2.4-3.3.3 22.8.3-7.2.3 3.8.3-6 .3-4.4.3 11.4.3-6.1.3-4.1.3-2.6.3 4.1.4 9.3.3-16.1.3 3.5.3 10.3.3-14.7.3-6.2.3 11.8.3-.9.3 2 .3 9.7.3-10.1.3 3.5.4-7.6.3 5.9.3-4.6.3 2.9.3 3.1.3-.7.3 3.7.3-9.1.3-1.6.3-1.1.3 1.6.3 3.2.4 8 .3-2.9.3.7.3-3.1.3 10.4.3-7.8.3.1.3-1.5.3 1.4.3-2.9.3 9.7.3-2.8.4.2.3 0 .3-14 .3 12.6.3-1.2.3 3.6.3-3.1.3 6.3.3 1.2.3-6.7.3-2.3.4-.4.3 11.1.3-9.7.3 2.9.3 4.8.3-9.1.3 5.4.3-5 .3 9.5.3-8.7.3-2.1.3 15.4.4.6.3-7.6.3 18.3.3-8.6.3-7.2.3-11.8.3 11.8.3 10.5.3-12 .3 2.7.3-3.5.3 8.6.4.8.3 5.1.3 1.8.3 6.6.3-10.9.3 2.3.3.1.3-9.4.3 1.4.3 7.2.3 2.1.3 5 .4-8.3.3 2.1.3-2.9.3 3.4.3-9.6.3-2 .3 6.6.3-.2.3 2.9.3 2.5.3-9.4.4 5.4.3 12.1.3-16.6.3 4.3.3-8.6.3.5.3-1.5.3 6.5.3 12.9.3-8.1.3-4.3.3-.6.4-5.8.3 14.3.3-6.5.3-4.7.3-14.4.3 11.7.3-2.6.3 11.7.3-5 .3-2.8.3 21 .3-12 .4-5 .3-6.1.3 10 .3-9.1.3-6 .3 10.9.3-4.7.3 1.9.3-1.9.3 8.2.3-8.8.3-3.5.4 2.2.3 14.1.3-7.1.3.6.3-2.6.3 9.4.3 1.7.3-.8.3-11.3.3 6.7.3-15.9.4 19.6.3 6 .3-4.3.3-6 .3 2.3.3.3.3-16 .3.4.3 2.4.3 4.9.3.5.3 6.6.4-2.8.3-2.7.3 4.5.3-1.8.3 6.5.3 1.3.3-4.4.3-.8.3-8.1.3 13.9.3-2.3.3-1.8.4-3.1.3 1.3.3 11.5.3-9.5.3-16.8.3 21.9.3-15.5.3-9.4.3 20.8.3-10.1.3 13.4.3 2.9.4-1.6.3 1.9.3-5.8.3-3.3.3 1.2.3-9.9.3 12.7.3 1.3.3 2.8.3 5.8.3-10.7.3-6.5.4.9.3 1.8.3 5.4.3-9.7.3-2.3.3 12.8.3-12.2.3 6 .3-10.8.3 14.5.3.7.4 8.8.3-4.3.3-5 .3 3.5.3 6.7.3.8.3-14.8.3-4.7.3-7.7.3 10.1.3 2.3.3 5.5.4.4.3 5.9.3-7 .3-5.5.3-6.2.3 11.8.3-14.1.3 9.1.3.6.3 6.8.3-11.4.3-.3.4 1 .3 6.2.3 4.5.3-4.9.3 8.7.3-17.3.3 6 .3-15.6.3 17.4.3 7.3.3 4 .3-1.3.4-1.3.3-16.5.3 9 .3 4.3.3-2.5.3 10.1.3-18.6.3 8.4.3-.1.3 2.5.3-8.8.4 11.9.3-10.6.3-2 .3 8.9.3-2.4.3.7.3-8.7.3 9.8.3 3.9.3-14.9.3 7.4.3 1.7.4-5.2.3.8.3-4.4.3 10.1.3 2.2.3-7.2.3.2.3 2.8.3-3.5.3 12 .3-7.6.3-3.8.4.7.3 1.8.3 9.2.3-21.9.3-3.1.3.4.3 17.6.3 6.1.3-7.1.3-1.4.3 5.6.3.5.4-1.7.3 20.2.3-15.3.3 1.9.3 6.4.3-1.4.3-3.2.3-5 .3-6.3.3 14.8.3-20.3.4 7 .3.7.3-8.8.3-.2.3-.3.3-.6.3 11.1.3-9 .3-6 .3 14 .3-4.9.3.5.4-2.7.3.2.3-6.5.3 19.5.3-14.6.3-.1.3 9.4.3 4.8.3-.2.3-.1.3-5.7.3 1.3.4 6.4.3-14.7.3 12.3.3-1.7.3 11 .3-6.2.3-4.8.3 10 .3-19.7.3 12.7.3 2.4.3-10.9.4-1.8.3 15.1.3-9.4.3 12.4.3-16.6.3 14.4.3-2.6.3-8.6.3-1 .3-6.4.3 11 .3-18 .4 11.5.3 9.1.3-3.2.3 7 .3.7.3-14.2.3.1.3-1.9.3 15.7.3-8.9.3-4.5.4 12.1.3-.4.3-24.3.3 13.3.3 7 .3 3.2.3-20.5.3 13.5.3 0 .3-10 .3 7.5.3 5 .4-13.2.3 0 .3 4.6.3-2.4.3.7.3-4.6.3.1.3 13.7.3-17.9.3 4.8.3 10.3.3-4.3.4 7.5.3-7.4.3 8.5.3-17.6.3 7.2.3 9.6.3-4.7.3-7.1.3.9.3 9.3.3-5.6.3-6.5.4-1.2.3-9.2.3 13.3.3-.5.3.4.3-.6.3 2.6.3-3.3.3 10.4.3-17.4.3 12.1.4-.6.3 2.8.3-4.2.3-9.2.3 2.3.3 7.2.3-8.8.3 15.3.3-11.6.3-3.2.3-5.1.3-1.3.4 16.4.3-2 .3-.8.3 2 .3-8.5.3 3.8.3 5.7.3 8.1.3-5.5.3-12 .3 2.4.3 1.6.4-16.4.3 14.8.3-.6.3-.3.3 7.2.3-.2.3 2.3.3-10 .3 0 .3 10.4.3-.1.3-1.3.4-5.1.3-2.9.3 3.7.3 7.5.3-7 .3 13.7.3-.3.3-9.5.3 8.1.3-1.8.3 15 .4-17.8.3 4.2.3-4.8.3.6.3 6.6.3-1.2.3 1.7.3-3.4.3 2.3.3.6.3 6.7.3-3.5.4 6.5.3-12 .3-1.3.3.3.3 12.7.3 8.2.3-4.9.3-13.5.3-2.1.3-9.3.3 14.2.3-5.9.4-.9.3 3.1.3 4.4.3-3.5.3 20.6.3-16.9.3 13.2.3-2.7.3.7.3-3.1.3-9.1.3 8.4.4-5.1.3-2.1.3 11.4.3-.3.3-9.9.3 5.3.3-6.1.3 3.9.3 9.3.3-10.9.3 9.8.4-7.4.3 6.1.3 1.4.3 2 .3-9.1.3 7.4.3-8.9.3 5.3.3-19.1.3 10.4.3.6.3 4.1.4 6 .3-11.6.3 2.1.3-10.2.3 22.9.3-2.9.3-11.2.3 5.2.3 17.6.3-9.2.3 2.9.3-9 .4-9.4.3 1.1.3 7.2.3 2 .3-6.7.3 11.1.3-10.2.3 5.1.3 11.5.3-16.3.3-2.7.3-5 .4 5.3.3 6.7.3 5.1.3-3.2.3 9 .3-.4.3-4.8.3-6.6.3-5.1.3 4.8.3-5.2.4 5.8.3-6.8.3 14.5.3-8 .3-3.4.3 7.7.3-7.9.3 3.5.3-6.3.3-6.3.3 20.6.3-13 .4-1.3.3-.5.3-5.8.3 2.6.3 14.2.3 2 .3-1 .3-.6.3 3.8.3-.6.3-13.5.3-4.6.4 2.1.3-.6.3 5.7.3 5.1.3 5.9.3-6.6.3-4.4.3-3.3.3-.5.3 1.9.3 6.8.3-3.4.4 3.3.3 2.2.3-11.6.3-1.7.3-4.8.3 17.4.3-11.1.3 2 .3 4.6.3 8.8.3-6.7.3-.5.4-5.2.3-4 .3 13.9.3-9 .3 3.9.3 6.5.3-7.2.3-4.5.3 14.7.3-17 .3-1.7.4 4.7.3 0 .3 5.8.3-2.4.3-5.2.3 1.3.3 2.6.3 3.1.3 6.2.3-3.9.3-14 .3 9.3.4-7.4.3.8.3 16.6.3-18.1.3-5 .3 17.1.3 7 .3-7.3.3-15.2.3 15.7.3 2.9.3-12 .4 4.6.3-3.2.3 3.3.3-5.5.3-5.9.3 13.2.3-3.3.3 3.4.3-4 .3 2.7.3 3.2.3-6.4.4-2.3.3 2.3.3.7.3 3.4.3-1.7.3-9.5.3-2.2.3 11.4.3-3.8.3 2.3.3 6.1.4-5.5.3 9.5.3-17.5.3 5.1.3-3.5.3 14.3.3-5.7.3.3.3-9.1.3 16.2.3-11.5.3 11.9.4-4.5.3 3.7.3-6.7.3-3.1.3 12.6.3-13.5.3 4.3.3 5.9.3 1 .3-2.2.3-.7.3-4.6.4 5.3.3 9.9.3 5.6.3-22.8.3 8.7.3-10.8.3 6.8.3 5.4.3 9.5.3-18.1.3 17.3.3-5.5.4-8.1.3 12.9.3-12.4.3-4 .3-7.7.3 11.6.3-.1.3 1.7.3-9.7.3 5.1.3 11.3.4-2.7.3-5.2.3-.3.3-10.9.3 5.1.3 4.9.3-5.4.3 9.8.3 3.1.3-9.7.3 5.9.3-9.8.4 10.7.3-21.1.3 15.6.3 3.4.3 3.9.3-.6.3-8.5.3 10.3.3-6 .3-4.9.3 18.7.3-11.3.4-1.2.3-9.6.3 12.5.3 6.2.3-7.7.3 0 .3 7.3.3 4.9.3-8.8.3-2.8.3-6.4.3 4.6.4-2.7.3.7.3 2.4.3-6.3.3-4.7.3 13 .3-18.9.3 20.5.3 1.9.3-3.8.3-13 .3 1.4.4 6.1.3 2.1.3 1.2.3-1.8.3 5.6.3-1.9.3-9.9.3 2.9.3-2.6.3-4.7.3 8.8.4 2.1.3 6 .3-5.2.3 6.8.3.8.3 9.8.3-5.1.3-4.3.3.4.3-10.5.3 2.7.3-1.4.4 3.9.3-3.5.3 1.4.3-12.6.3 7.5.3.7.3 9 .3-12.6.3 2 .3-5.2.3 1.5.3 4.4.4 8.3.3-3.5.3-5.1.3 9.9.3-18.6.3 6.1.3 6.4.3-8.5.3 12.1.3-8.4.3 3.6.3-2.1.4-2.7.3 9.8.3-10.7.3 13.6.3-1.8.3-11.3.3 7.1.3 8.8.3-4.7.3-.6.3 4.6.4-16.9.3 4.4.3.2.3 3.6.3-6.8.3 2.7.3.6.3 5.5.3-4.8.3-3.8.3 2.2.3 10.6.4-11.8.3 1.1.3 3.5.3 3.9.3-2.3.3-6.6.3 9.6.3-1.4.3 4.5.3-14.1.3 7.2.3-2.2.4 3.5.3-1.3.3-4 .3-6.8.3 8.3.3-6.2.3-1.7.3 7.1.3.8.3 10.1.3-13.4.3 3.8.4 1.8.3-6.4.3 3 .3 4.4.3 7.2.3 2.1.3 3.1.3-16 .3 5 .3 6.2.3-6.3.4-.5.3.3.3.7.3 5 .3-1.6.3-.9.3 4.7.3-7.4.3 4.2.3-12.5.3 6.7.3 4.2.4 4 .3.9.3-2.4.3 0 .3-4.3.3.4.3 5.3.3-12.3.3 9.8.3-14.8.3 15.8.3-9 .4.9.3 2.3.3-3.4.3 9.3.3-11.2.3 9.8.3-14 .3 7.4.3-9 .3 8.3.3-4.9.3 13.7.4-18.3.3 6.5.3 11.7.3-5.9.3-18.3.3 14 .3-1.4.3 5 .3-8.6.3 10.6.3-12.7.4 11.2.3.6.3 10.6.3 2.3.3-20 .3-1.1.3 4.8.3-9.9.3 18.1.3 4.1.3-12.2.3-4.9.4 14 .3-13 .3 1.8.3 5.2.3-4 .3 8.1.3-5.6.3-5 .3-1.3.3-3.6.3-3.7.3 22 .4-13.8.3 1.7.3 8 .3-5.4.3 2.4.3 3.7.3-15.5.3 5.3.3-2.6.3-2.9.3 6.9.3-.1.4-3.1.3 17.1.3-21.1.3 16.3.3-3.6.3 1.4.3-15.3.3 2.7.3-4.1.3 9.2.3.2.4 9.6.3-9.8.3 7.9.3-10.2.3 13.3.3-3.8.3-9.1.3 4.8.3 3 .3 6.2.3-2.6.3 1.3.4-8.2.3 8.4.3-16.8.3 12.8.3-9.2.3.4.3 12.1.3-8.8.3 19.9.3-3.8.3-11.3.3-1.6.4-9.9.3 10.5.3-4 .3.5.3 10.4.3-8.7.3-1 .3 1 .3.9.3-4.3.3 1.3.3 8.1.4 4.7.3-3.5.3-2.5.3 14 .3-11.4.3 8 .3-10 .3 9.5.3-13.1.3 7.5.3-10.4.3 5.1.4-2.5.3-1.4.3-4.8.3-6.1.3 7.6.3.3.3.1.3-13 .3 21.4.3-3.9.3-5.6.4 3.8.3 7 .3-.3.3-7 .3 2 .3 2.7.3-6.9.3.6.3-.6.3-.9.3-3 .3 3.2.4 1.8.3-1.5.3-9.9.3 21.4.3-16.8.3 8.9.3 3 .3 1.6.3-16.8.3 5.5.3 4.9.3 9.4.4-.1.3-14.4.3 2.4.3 2.5.3 7.4.3-.4.3-8.8.3 6.8.3 3.9.3-6.3.3-4.1.3 7 .4 7.6.3-11.7.3-11.3.3 21.5.3-1.1.3-14.8.3-5 .3 11.4.3 5.7.3-1.8.3 3.9.4-6.4.3.5.3-1.6.3-4.2.3-3.5.3 3.4.3-.1.3-6.9.3 3.5.3 17.3.3-16 .3 16.4.4-9.1.3 4.6.3-3.9.3-.8.3-8 .3 1.8.3 12.5.3-6.8.3-13.5.3 4.1.3 3.4.3-4.9.4-5.7.3 15.7.3 2.7.3-6.3.3 3.4.3-5 .3 4 .3-9.9.3 8.8.3-.1.3-2.6.3-2.9.4 8.3.3-3 .3 1.7.3-.4.3 5.9.3-6.4.3-6.5.3 8.8.3-.3.3 9.3.3 6.8.4-8.8.3-.1.3-1.5.3-2.2.3 6.3.3-3.4.3-2.4.3-9.9.3 4.4.3 13.2.3-13.5.3-7 .4 9.3.3-5.5.3 7.9.3-3.5.3 5.3.3-15.3.3 19.1.3-4.3.3-1.1.3 2.7.3-13.2.3-3.4.4 4.7.3 1.1.3-3.2.3-4.7.3 10.1.3 5.7.3 9.1.3-9.8.3 7.3.3-21.1.3 11.1.3-4.1.4 9.9.3 2.6.3-17.3.3 9.4.3 6.8.3-5.8.3-5.5.3 9.2.3-6.6.3 2.9.3 12.6.3-10.6.4 9 .3-3 .3-5.3.3-2.1.3-6.5.3-8.5.3 16.7.3-2.4.3-1.3.3-4.6.3-9.7.4 17.9.3 14.8.3-13 .3.5.3-9.4.3-.3.3-5.8.3 4.1.3 6.2.3 4.2.3 2.6.3-8.6.4 10.3.3-2.1.3-3.9.3-1.7.3-1.8.3 5 .3 8 .3-4 .3-3.3.3-13.6.3 12.6.3-3 .4 8 .3-5.7.3-3.4.3 10.8.3-15.8.3-5.7.3 9.3.3 12.1.3-18.8.3 15.7.3-1.9.3 4.5.4.1.3 4 .3-7.1.3 3.5.3-16.7.3 14.2.3-1.2.3-2.3.3 1.5.3 16.3.3-7.7.4-17.4.3 24.3.3-14.3.3-4.3.3-6.7.3 12.4.3 8.1.3-13.6.3 6 .3 7.2.3-9.8.3 12.5.4-15.1.3 1 .3-5 .3 8.8.3-2.9.3-5.6.3-4.6.3 21.3.3-11.8.3 6.4.3.4.3 1.3.4-2 .3-.9.3 8.2.3-1.8.3-14.2.3-3.8.3 9 .3-6.5.3 4.2.3 2.4.3-4.7.3 10.2.4-9.9.3 6.6.3 3.9.3-4 .3-4 .3 4.9.3 4 .3-13.1.3 4.5.3 10.4.3-5.2.4-1.9.3-2.1.3 4 .3-8.3.3-4.5.3 7.1.3 7.5.3-9.2.3 1 .3-7.4.3 1.7.3 11 .4-9.9.3 10.3.3-1.9.3-1.9.3-5.3.3 6.1.3 2.6.3-4.8.3-20.2.3 21.6.3 11.8.3-11.7.4 3.7.3-3.6.3-.4.3 6.2.3-3.3.3-7.9.3-1.7.3 1 .3-.5.3 8.1.3-6.7.3 9.7.4-7.3.3-1.6.3.9.3 2.7.3 1.1.3-4.1.3 1.1.3 3.4.3-10.9.3 18.3.3-1.7.4 2.9.3-3.4.3 2.4.3-7.3.3 6.2.3-11.1.3 9.9.3-8.8.3-9.9.3 20.5.3 1.7.3-12.7.4.9.3 11.6.3-17.1.3 5.3.3-1.2.3 10.8.3-18.4.3 8.5.3 9.9.3-4.3.3-6 .3-5.1.4 10.5.3.2.3-.7.3-.6.3 1.2.3-2.4.3-.2.3 7.1.3-3.7.3-10.4.3-4.8.3.4.4-1.4.3 7.5.3-.6.3 4.2.3 1.1.3-13.1.3 7.4.3 7.4.3-4.6.3 2.3.3 7.8.3-11.6.4-2.5.3 1 .3 3.2.3-2.4.3 3.1.3-4 .3-1.2.3 3.2.3.2.3-4.9.3 10.8.4-1.6.3 7.6.3-17.5.3 2.3.3-2.2.3 7.4.3 10 .3-7.2.3-1.3.3-5.5.3-1.2.3-1.6.4 7.7.3-5.6.3 0 .3-12.3.3 11.9.3 4.6.3-.4.3-11.2.3 12.1.3-2.9.3-18.5.3-11.1.4 16.4.3.8.3 3.3.3-11.1.3 20 .3-2.6.3 4.3.3-12.8.3 3 .3 7.9.3.3.3 1.9.4-3.9.3 1 .3-.7.3-5.4.3 9.5.3.2.3.4.3-3 .3-4.8.3-.7.3 5.4.4 2.3.3 5.9.3-19.7.3 1.9.3 6.2.3 17.8.3-8.9.3-3.4.3 8.5.3-19.3.3-7.8.3 8.6.4-4.2.3.7.3 14.9.3-8.8.3-.5.3-3.5.3-2.2.3 10 .3-4.4.3 5.3.3-20.9.3 3.6.4 2.2.3 5.5.3 6 .3-3.2.3 5.7.3 12.1.3-21.6.3 2.2.3 6.1.3 1.7.3-14.9.3 5.9.4 5.7.3-21.6.3 3.3.3 18.5.3-1.9.3-.1.3-1.2.3 4.4.3-11.8.3-3.6.3 7.8.4 2.5.3 5.7.3-5.9.3-12 .3 18.5.3-15.1.3 2.8.3-.3.3.9.3 6.8.3 1.2.3 1 .4-5.9.3 8.9.3-8.2.3 1 .3 3.6.3-3.1.3 2.6.3-3.1.3 1.9.3-3.7.3 2.2.3-2.2.4-.6.3 4.1.3 2.2.3 8.9.3-13.9.3.9.3 2.4.3 9.1.3-3.5.3-1.8.3 2.3.3-3.1.4-9.2.3 6.4.3-5.5.3 6.6.3-5 .3 12.2.3-17.4.3 4.8.3-1.6.3-4.2.3 6.3.4 9.3.3-8.7.3-2.1.3 14.8.3-12.5.3 11 .3-5.7.3-8.2.3 22 .3-29.8.3 13.3.3-.6.4-7.5.3 10.1.3-10.5.3 18.2.3 2.1.3-.5.3-6.5.3 4.5.3-4.5.3-3.5.3 6.2.3-9.5.4 13.4.3-6.3.3-1.8.3.3.3 3.9.3.5.3 4.9.3-6.5.3-15 .3 15.8.3 6.5.3-6.8.4-6.7.3 5 .3 4.1.3.5.3-4.8.3-2.6.3 6.8.3 2.8.3 5 .3-14.9.3 8.5.3 4.6.4-4.3.3-3.3.3 5.9.3 14.9.3-16.1.3 7 .3-2.7.3-2.6.3-.4.3-1.8.3-12.1.4 4.3.3 17 .3-15.9.3 10.2.3.5.3 4.7.3 1.5.3-11.7.3 15.8.3-10.6.3-15.9.3 24.1.4-.8.3-3.5.3-11.2.3-10.2.3 7.4.3 8.2.3.2.3-3.6.3 8.2.3-1 .3 11.2.3-7 .4-13.5.3 5.4.3 7.3.3-3.6.3 9.2.3-1.6.3-7.7.3-3.2.3 13.9.3-6.5.3-2.5.3-10.8.4 8.5.3-8.4.3-.5.3-.6.3 11.4.3-2.3.3 3.3.3-2 .3-1.4.3 14.2.3-3.9.4-9.4.3 4.5.3 4.1.3 3.7.3-5.5.3 10.1.3-6.6.3-16.6.3 3.4.3 4 .3-1 .3 9.2.4-5 .3-4.4.3 1.5.3-7.2.3 3.1.3 13.1.3 0 .3-1.2.3 1.9.3 5.3.3-20.2.3 10.4.4-5 .3-2.9.3 6.5.3-2.3.3-5.3.3-1.9.3 7.4.3-1.6.3-4.4.3 6.9.3 1.8.3-14.4.4-3.5.3 8.1.3 5.4.3-10.4.3 5.4.3 8.6" fill="none" stroke="#383838" stroke-width="1.5" stroke-linejoin="round" clip-path="url(#cE)"/>
<path d="M84.5 1497.4l.3-9.9.3 12.4.3-.9.3-8.3.3 11.1.4-11.4.3 10.9.3-6.2.3-.9.3-13.3.3 8.7.3 16.6.3-5 .3.7.3-18.2.3 15.5.3 6.7.4-9.6.3-5 .3 5.3.3-9.1.3 8.2.3-9.7.3 6.9.3-.4.3-3.7.3 9 .3-.1.3-6.8.4-3.7.3 9.3.3-4.5.3 4.1.3 1.7.3 7.1.3 3.2.3-11 .3 12 .3-6.3.3 1 .3 8.9.4-1.2.3-.9.3-9.3.3 1.8.3 4.5.3.6.3-3 .3 9.9.3 4.8.3.7.3-19.8.4 15.3.3 4.1.3-8.1.3 6.3.3.2.3-1.8.3-4.2.3-8.6.3 7.6.3 4.8.3 1.3.3 6.9.4 3.8.3-7.1.3 13.7.3-3.1.3 4.4.3-7.6.3 4.4.3 10.3.3-.2.3-5.1.3-12.1.3 8.7.4 3.2.3 1.1.3 8.7.3-6 .3 16.1.3-11.9.3-10.9.3 6.5.3-10.9.3 27.3.3 3.2.3-18.1.4 3.4.3 12.3.3-15.1.3 2.7.3 3.9.3.1.3 9.1.3-3.8.3 11.8.3-8 .3-11.7.4-.3.3 15.3.3-15.3.3 4.5.3 9.7.3 2.1.3-5.6.3 15.1.3-16 .3 4.6.3-2.3.3-.8.4 6.5.3 2.9.3-.9.3 2.4.3-12.7.3 13.5.3-14 .3 4.5.3 10 .3-.3.3 6.4.3-1.5.4 1.8.3-10.9.3.5.3 4.3.3-2.1.3 7.5.3 4.4.3-7 .3-5.2.3 6.8.3 1.8.3-2.3.4-3.9.3 6.3.3 4.5.3 11.6.3-19.7.3 10.7.3 1.7.3-.9.3-5.8.3 3 .3-1.5.3-7.5.4-3.6.3 7.8.3 18.3.3-16.3.3 5 .3.1.3 4.2.3-15 .3 18.7.3-1.5.3-5.3.4 2.5.3.9.3-5.2.3-1.7.3 6.5.3-2.8.3 6.9.3-11.3.3 10.1.3 9.9.3 1.4.3-12.9.4 3.1.3-1.3.3-3.3.3 14.5.3-7.2.3 2.6.3 5.8.3-10.2.3 4.6.3 17.2.3-15.9.3-3.9.4 3.2.3 2.2.3 3.6.3 6.9.3-2 .3-6.5.3-4 .3-7.9.3 1.6.3 6.6.3-14.5.3 15.3.4 1.7.3 11.7.3-2.8.3-9 .3 17.9.3-13.5.3-1.5.3-2.6.3 8.1.3-6.2.3 3.9.4-6.5.3-6.7.3 17 .3-6 .3-1.1.3.9.3-11.3.3 8.5.3 14.4.3-5.7.3-.6.3-3.3.4 9.4.3-8.9.3-.6.3-4.1.3-7.5.3 13.4.3 2.4.3-4.2.3 5.4.3-2.4.3 3.2.3-6.8.4 9.5.3.9.3-13.8.3 9.8.3 3 .3 6.9.3-18.2.3 7 .3 3.6.3 2.9.3-15.8.3 17.5.4-12.6.3 7.8.3 6.7.3-6.8.3.2.3-.8.3 5.2.3-7 .3 3.9.3 5.7.3-14.4.4 19.2.3-7.7.3-8.4.3.1.3-6.9.3 3 .3 10.1.3-11.8.3 11 .3-8 .3-2.8.3 3.8.4 7.2.3-5.2.3 9.3.3-3 .3-4.1.3-1.5.3 6.2.3 8.5.3-12.7.3-.7.3-2.4.3-.9.4-6.1.3 4.4.3 12.1.3-7 .3 15.1.3-21.7.3 6.9.3-5.2.3.9.3 3.6.3-8.3.3 15.6.4-2.4.3-15.2.3 3.3.3 4 .3 9.6.3-11.4.3-2.3.3-1.3.3 6.7.3 3.5.3-.4.3 6 .4-4.6.3 4.7.3-11.4.3 4.6.3 3.4.3-7.5.3 5.1.3-1 .3 6.1.3-5.5.3-4.7.4 6.9.3-7.1.3-6.5.3 1.4.3 7.2.3-6.8.3 10.5.3-10.3.3 5.2.3-1.5.3.4.3 5.2.4-1.6.3-3.8.3-14.5.3 1.5.3 21 .3-3.3.3 3 .3-6.9.3 11.4.3-7.1.3 3.9.3 2.1.4-21.3.3 6.1.3-8.8.3 8.8.3 14.7.3-8 .3-.9.3-11.7.3 8.9.3-14 .3-1.2.3 12.2.4 2.1.3 7.5.3 2.1.3 1 .3-11.6.3 11 .3 4.5.3 12.4.3-15.3.3-.3.3.1.4 3.7.3-7.4.3 11.3.3-8.2.3 4.9.3-6.1.3.1.3 8.3.3-12.8.3 1.2.3 3.3.3 5.6.4 1.5.3-9.7.3 4.7.3-10.7.3.1.3 15.5.3 5.6.3-7.6.3.1.3-11.2.3 4.8.3-4.8.4 10 .3 5.6.3-2.5.3-7.8.3 2.4.3 6.6.3 7.5.3-7.3.3-4.3.3-10.6.3 21.5.3-13.9.4 5.5.3-6.9.3-1.8.3-3.8.3 6.7.3-2.6.3-5.3.3 7.9.3 1.8.3 2.2.3 12.8.4-6.5.3-1.4.3-21.7.3.9.3 9.7.3-1.3.3 6.5.3 5.3.3-6.9.3 4.1.3-2.1.3 6.9.4-7.9.3 2.5.3-7.5.3-4.8.3 17.9.3 5.8.3-9.4.3-19.6.3 17.4.3 8.3.3-1.5.3-4.9.4.5.3-2.3.3.9.3 2.5.3 4.6.3-7.4.3-6.2.3 6 .3-11.9.3-3.4.3 8.8.3 6 .4-5.4.3 10.7.3 7.9.3-5.5.3-4.5.3-10.6.3.3.3-6.4.3 7.1.3 15.3.3-7 .4-5.2.3 1.3.3-5.2.3 11.2.3-4 .3 1.3.3-11.7.3 4.5.3 7.5.3-5.4.3-5.1.3 15.8.4-3.7.3 3 .3 3.6.3-7.1.3.6.3 11.8.3-7.7.3-14.1.3-.9.3-2.5.3 16.1.3 12 .4-18.5.3-10.5.3 1.1.3 15 .3-7.6.3.8.3 2.8.3-10.4.3 9.8.3-7.4.3 17.4.3 1.8.4-21.5.3 9.9.3 8.7.3-9.6.3.9.3-7.3.3 17.4.3-.7.3.5.3-5.5.3-7.2.4 2 .3 9.2.3-4.4.3 2.6.3-5.8.3-6.6.3-4.6.3 12.1.3-1.6.3.3.3-3.4.3 3.7.4-14.4.3 5.6.3 13.3.3-5.2.3-8 .3 6.3.3 3 .3-1.7.3 12.6.3 2 .3-1.1.3-10.8.4 1.9.3 5.3.3-18 .3 8 .3 3.6.3 12.8.3-2.4.3-2 .3 9.4.3-7.2.3-9.8.3 7.6.4-8.8.3-2.6.3 2.5.3 8.9.3-2.2.3-6.6.3 5 .3 5.1.3-9.8.3 8.9.3-12.8.3 2.5.4 6.8.3-.1.3 17.9.3-10.8.3-16 .3 16.7.3.4.3.1.3.5.3 1.6.3 2.7.4-20.3.3 11.1.3.9.3-4.3.3 16.3.3-13.7.3 2 .3 10 .3-10.8.3-3.8.3-2.9.3 3.6.4 2.6.3-.2.3 14.6.3-13.5.3-1.6.3-7.7.3 10.3.3 11.2.3-8 .3-2.9.3-.7.3-8.7.4 5.8.3-.3.3 5.2.3-4.2.3 2.7.3-8.4.3 3.4.3 8.8.3-.3.3-3.9.3 3.2.3-1.6.4-1.8.3-8.5.3 14.5.3-3.6.3-2.9.3 4.2.3-8.8.3 2.3.3-7.4.3 5.5.3 8.5.4 2.7.3-13.7.3 13.5.3-8.6.3-14.5.3 5.7.3 18.9.3-1.3.3-12 .3 19.8.3-19.6.3-7.8.4 12.5.3 3.3.3-1 .3-7.9.3 1.4.3 4.7.3-2 .3-3.5.3 9.4.3-.2.3-.1.3-6.7.4-.8.3-4.1.3 15.9.3 1 .3.5.3-1.9.3-5.4.3-7.6.3-.3.3 6 .3-4.1.3-13.5.4 9 .3 3.6.3.9.3 3.4.3-4.6.3.7.3 9.5.3 3.4.3-6.6.3-11.1.3 14.2.4-5.5.3.1.3-.7.3-.1.3 1.7.3-9.6.3 9.5.3-4.6.3-8.9.3 11.7.3-1 .3-3 .4 9 .3 8 .3-3.8.3-8.1.3-.6.3 6.8.3 8.1.3-14.5.3 4.2.3 3.8.3-9.3.3-2.7.4 12.4.3-3.8.3-14.8.3 12.5.3 6.5.3-6.4.3-11.7.3 17.7.3-3.8.3-8.4.3.4.3-4.4.4 22.7.3-15.7.3-3.5.3 10.9.3 3.5.3.6.3 2.7.3-1.6.3 2.2.3-9.1.3 4 .3-1.3.4-11.1.3 10.1.3 5.6.3-16.8.3 4 .3 15.2.3-8.1.3 1.2.3-4.9.3-5.7.3-7.5.4 10.2.3-.5.3 1.6.3-12.2.3 2.6.3 5.8.3 2 .3 4.9.3 1 .3-6 .3-16.1.3 17.4.4-6.7.3 1 .3 5.8.3-3.1.3-4 .3 13.7.3-4.1.3-6.8.3 3.6.3-3.8.3 1.1.3 15.2.4-3.7.3-15.7.3 18.9.3-7.3.3-6.3.3-3.5.3 5.5.3 13 .3-10.4.3 16.2.3-20.5.3-.4.4-4.4.3 15.8.3 1.9.3-5.7.3 12.8.3-11.9.3-1.3.3-1.8.3-5.2.3 20 .3-14.1.4-6 .3 11.5.3 2.1.3-11.6.3 9.4.3-4.7.3-4.1.3 5.6.3-5.9.3 12.8.3-12.3.3 12.8.4-18.6.3.5.3 9.1.3-1.3.3 12.1.3.4.3-7.5.3 8.6.3 6.5.3-14.8.3 4.2.3 4.2.4 0 .3-2.8.3-2.7.3.8.3-7 .3 3 .3 2.9.3 2.5.3-12.4.3 8.7.3 6.4.3-7.6.4 15.5.3-14.6.3 11.1.3-3 .3-2.5.3-1.3.3-3.3.3 2.9.3-7 .3-.8.3 9.8.4-13.9.3 2.8.3 8.6.3-5.5.3 7.4.3 9.7.3-10.2.3 17.4.3-14.5.3-5.6.3-2.6.3-8.4.4 16 .3-15.5.3 5.3.3 2.5.3-1.1.3 8.8.3-8.2.3-2.4.3-4.2.3 18.3.3-16 .3 7.5.4 6.9.3 1 .3-6.7.3 11 .3-11.9.3-.8.3-8.4.3-5.8.3 17.6.3-9.4.3 8 .3 4.6.4-10.4.3-4.8.3 6 .3-3.9.3 3.4.3-8 .3-11.6.3 11 .3-.3.3-2.6.3 5 .4-8.7.3 7.6.3-9.7.3 3.9.3 3.8.3-5.3.3 4.4.3-2.9.3 3.6.3-6.6.3 5.3.3 3.6.4-.9.3-6 .3 10.8.3 3.6.3 1.8.3-4.9.3-14 .3 4.9.3-1.8.3 12.7.3-4.3.3.9.4-3.1.3 2.2.3-4.2.3 7.1.3-4.1.3-15.7.3 27.4.3-13.7.3-1.9.3-2.9.3-1.9.3 8.7.4-6.3.3 9 .3-4.6.3-.9.3-.5.3 10.5.3-.8.3 7.3.3-18.1.3-7.4.3 11.6.4-6.4.3 1.5.3-.9.3 5.5.3 3.4.3-6.4.3-1.7.3 9.8.3-6.5.3.9.3 12 .3-8.6.4-4.5.3 6.4.3-6.3.3 3.8.3 7.1.3-.8.3-6.3.3 2.5.3.9.3.9.3-11.1.3 2.9.4-.1.3-13.4.3 26.8.3-5.3.3-18.3.3 22.8.3-3.5.3-16.7.3 15.6.3 4 .3 1.2.3-7.1.4-1.7.3 5 .3.6.3-21.7.3 7.9.3 8.5.3-8.3.3 12.8.3-4.3.3-7.9.3-6.9.3 6.6.4 6 .3-1.9.3-4.4.3 3.7.3 2.6.3 5.2.3-11.2.3 8.5.3-.5.3 4 .3-8 .4 1.8.3 2.7.3-6.1.3 4.6.3-8.7.3 10.3.3 3.6.3-2.6.3-3.2.3 4.3.3 3.3.3-9.5.4 10.2.3-7.6.3-13.8.3 12.7.3 8.2.3-21.5.3 11.5.3-4 .3 10 .3-6.3.3 7.7.3-21.6.4 5 .3 10.4.3 0 .3.5.3 2.6.3-2.6.3-5.4.3 1.3.3.1.3-3 .3 12.5.3 7.5.4-15 .3 1.7.3-.2.3 2.4.3-.4.3-8.7.3 10.4.3-4.1.3-3.1.3 6.1.3 1.9.4-13.7.3 9.1.3-1.7.3 4.8.3.8.3-3.8.3 4.8.3 3.6.3-9.8.3 14.3.3-10.8.3 2.3.4-10.5.3-.6.3-1.6.3-3 .3 2.4.3 12.1.3 4.4.3 2 .3-3.7.3-3.8.3 7.1.3-8.8.4 6.7.3 4.9.3-17.9.3 10.6.3 6.7.3-20.1.3 16 .3-6.6.3 10.9.3-2.5.3-4.9.3-5.3.4 11.3.3-12.8.3 1.6.3 6.4.3-.4.3 2.2.3 1.6.3-8.8.3-1.4.3 4.9.3 10.2.4-14.5.3 22.3.3-.1.3-14 .3.6.3 11.4.3-10.4.3-5.2.3-1.2.3 6.1.3-13.3.3 10.6.4-1.7.3 2.4.3 8.9.3-21.8.3 5.7.3 9.9.3-21.8.3 14.9.3-14.5.3 7 .3 9.6.3 5 .4-12.1.3-1.5.3 8.6.3-5.4.3-4.4.3 16.4.3-19.9.3 20.4.3-7.6.3-2.7.3 2.9.3-4.5.4-9.5.3 22.8.3-25.8.3 13.8.3 5.8.3-2.4.3-3.5.3-7 .3 14.1.3-1 .3 2.7.3 5.7.4-14.4.3 6.8.3 8.3.3-25.2.3 7 .3 1.1.3 3 .3-9.4.3 13.5.3-4.9.3 8.6.4.7.3-11.5.3 1.9.3-9.6.3 11.3.3-.8.3-9.5.3 11.8.3 3.4.3 7.1.3-7.6.3 9 .4-6.7.3 3.1.3-18.9.3 3.8.3 7.5.3-10.9.3-1.8.3-1.3.3 16.3.3-1.7.3-1.5.3 9 .4 4.9.3-10.4.3-5 .3-5.5.3 5.5.3 8 .3-14.2.3 4.1.3 1.4.3 8.8.3-.6.3-3.5.4-12.6.3 11.7.3 5.9.3-15.8.3 6.8.3-1.1.3-5.6.3 10.3.3-2 .3 1.1.3.7.4 16.1.3-9.8.3-8.9.3-12.7.3 22 .3-16.7.3 4.6.3-5.5.3 3.4.3 10.8.3-11.2.3 6.4.4-6.4.3-7.7.3 10.4.3 2.9.3-4.4.3 4.8.3 3.4.3 14.5.3-8.3.3-9.7.3 6.2.3-5.5.4-9.7.3 6.2.3-7.2.3-.4.3 12.7.3-6.2.3 12.6.3-12.5.3 10.4.3 3.2.3 4.7.3-16.6.4 19.5.3-19.2.3 7.2.3-10.4.3-3.8.3 9.2.3 9.8.3-10 .3-2.3.3-.5.3 1.1.4 6.7.3-9.4.3 1.9.3 2.4.3 10.2.3-9.6.3-10.5.3 1.2.3 4.4.3.4.3-5.6.3 5.6.4-.2.3-10.9.3 11.2.3-4 .3 10.3.3 2.1.3-1.5.3-6.6.3-10.9.3 17.2.3-13.3.3 15.3.4.9.3 1.4.3-8.1.3-7 .3 11.4.3-2 .3-20.1.3 10.8.3 3.6.3 1.8.3 2.5.3 5.1.4-4.2.3 0 .3-3.1.3 5.9.3-12.9.3 9.5.3-8.5.3 17 .3-13.3.3-2.2.3.2.4 6.1.3 4.2.3-13.9.3 5.2.3 5.6.3.5.3-2.9.3-21.1.3 4.1.3 3.9.3.6.3-3.6.4 13.3.3-8.2.3-.7.3 6.4.3 2.1.3 2.9.3-.8.3 3.8.3-1.9.3-2.5.3 7.5.3-9.9.4 8.4.3-1 .3-5.3.3.7.3-1.6.3 4.7.3-12.9.3 4 .3.5.3-1 .3-1.3.3 5.5.4 2.7.3 2.8.3 1.3.3-13.1.3-12.4.3 6.7.3 5.3.3 15.8.3-6.6.3 1.1.3-9.2.4 4.4.3-15.8.3 12.1.3 1.2.3-17.2.3 4.8.3-4.6.3 8 .3 9.2.3 1.6.3 10.9.3-18.8.4 14.8.3-19.3.3 9.7.3-3.4.3-8.3.3-4 .3 5.6.3 4.4.3.4.3-4.7.3 17.4.3-5.9.4-3.9.3 1.3.3-10.3.3.9.3.7.3-5.4.3 10.8.3-1.3.3-1 .3 7.8.3-5.4.3 10.1.4-.4.3-11.2.3-8.9.3 17 .3-9.6.3 9.4.3-4 .3-5.6.3-10.5.3 15 .3-1 .3 4.8.4-14.1.3 1.1.3 9.7.3-8.6.3 5 .3-2.2.3 1 .3 9.4.3-3.3.3 1.3.3-1.1.4-4.9.3 15.3.3-16.8.3 1.2.3-8.1.3-2.3.3 8.8.3-6.7.3 18.6.3-12.4.3 2.6.3 2.1.4-4 .3-4.5.3 2.3.3 12.1.3-6 .3.9.3 6.2.3-12.2.3 5 .3 8 .3-11.6.3 7.3.4 5.4.3 1.5.3 1.1.3-6.9.3-1.8.3.5.3-2.9.3 8.2.3 2.5.3-5 .3 3.3.3-12 .4.5.3-8.6.3 14.6.3 0 .3-5.3.3-.2.3-7.9.3 1.1.3 10.1.3 7.4.3 7.4.4-18 .3 3.9.3-4 .3-5.2.3.9.3 12.4.3 8.6.3-1.8.3-12.4.3-2.7.3 3 .3 8.5.4-17.6.3 7.5.3-1.4.3.5.3-6.1.3-2.5.3 10.7.3-10.2.3 4.7.3 2.7.3 1.9.3-10.1.4 6.4.3 6.5.3 11.7.3-14.2.3 7.2.3-4.8.3-10.2.3 4 .3-6 .3-1.9.3 3.1.3-.9.4-3.8.3 2.8.3 9.4.3-.6.3-10.4.3 9 .3 3.3.3-9.6.3 2 .3 4.7.3 7.7.4-2.5.3-8.5.3 4.8.3-12.1.3 6.1.3-3 .3-5.4.3 1.2.3-4.7.3 9.2.3-2.4.3 10.6.4-7.5.3 7.5.3-4 .3-6.5.3-3.7.3-3.7.3 6.2.3-6.6.3-13.7.3 24.7.3-9.4.3-10.1.4 15.4.3-1.7.3-11.9.3 21 .3-7.6.3-6.4.3-3.7.3-2.7.3 7 .3 1 .3 7.4.3-1.4.4-10.3.3 1.8.3 7.4.3-10.4.3 3.7.3 3.3.3-.4.3 1.6.3-2.6.3 1 .3 4 .3-8.1.4 3.4.3-3.9.3 13.2.3-8.1.3 11.9.3-.7.3-2.7.3-7.1.3 4.6.3 11.6.3 1.2.4-2.2.3-3.9.3 4.3.3-6.7.3-.6.3-1.8.3 2.7.3-2.1.3-1.7.3 11.4.3-2.9.3-1.6.4-19.5.3 22.9.3-1 .3-18.8.3 17.6.3-12.1.3 6.3.3 20 .3-5.6.3 10.6.3-22.5.3-2.7.4 6.7.3 2.2.3-17.6.3 3.4.3 5.5.3 1.2.3 2.5.3-1.7.3 2.1.3-3.3.3-6.5.3 5.8.4 8.4.3 4.9.3-16.3.3 1.8.3 0 .3-7 .3-3.9.3 16.6.3-2.1.3.9.3-14.3.4 12.9.3 3.7.3 7.2.3-14.7.3 10 .3-2.6.3-2.2.3.5.3 1.5.3-2.7.3 9.2.3-1.1.4-1.2.3-12.8.3 6.9.3-2.5.3-3.4.3 6.2.3 2.2.3-10.9.3 1.6.3 13.1.3 1 .3-2.6.4-1.5.3 5.2.3-5.1.3 5.6.3-5.7.3-13 .3 11.6.3 4.7.3 11.1.3-4.9.3-7.1.3.5.4 4 .3-13.7.3 8.5.3 2.1.3-10.4.3 15.7.3-10.3.3 15.2.3-18.6.3 8.2.3-3.4.4.3.3 7.6.3-3.1.3-11.3.3-3.7.3 3 .3 12.8.3 2.7.3-12.2.3 3.5.3-10.4.3 5.2.4 1.8.3 1.3.3-5.7.3-8.5.3 17.4.3-2.4.3 1.7.3-.4.3-19.2.3 17.7.3-4.6.3-6.5.4 2.8.3.3.3-.9.3.4.3 6.1.3-1.3.3-.7.3-3.1.3 8.7.3 4 .3-8.5.3 5.2.4-.2.3-4.8.3-11.2.3 5.3.3 11.3.3-12.3.3 23 .3-5.9.3-1.7.3-10.3.3 5.7.4 2.8.3-12.3.3-.6.3 2.1.3 5.3.3-2.8.3-3.6.3-3.5.3 4.1.3-5.2.3 17.1.3-15.1.4 11.1.3-1.7.3-4.4.3 13.5.3-14 .3-2.6.3 9.4.3 4 .3-3.2.3 4.6.3-15.1.3 14.1.4-14.6.3 1.8.3 4.8.3 2.4.3-1.3.3-4.6.3 6.1.3-1.1.3 4.4.3 11 .3-16.5.3-2.4.4-.2.3 13 .3-10.8.3-4.9.3 3 .3-3.9.3-.6.3 23.5.3-12.6.3 4.6.3-2.5.3 10.9.4-9.2.3-5.4.3-2.8.3-3.7.3-2 .3 5.6.3-7.2.3 14.5.3 1.8.3-3.9.3 10.8.4-1 .3-4 .3 1.7.3 3.2.3-5 .3 2.8.3 0 .3-4.6.3 3.9.3 1.3.3-6.4.3 1.4.4-1.3.3 4.9.3-3.7.3-.8.3 10.1.3-5.5.3-6.1.3 7 .3-12.6.3 4.1.3 8.3.3-3.1.4-2.1.3-1.8.3 4.2.3-.9.3 6.7.3-9.4.3 11.3.3-19.1.3 11.5.3 1.7.3 8.6.3 2.3.4-8.1.3 8.6.3-1.9.3-2.1.3-14.3.3 3.5.3 14.5.3 1.6.3-5.6.3-9.1.3 9.1.4 6.4.3-5.5.3-10.7.3 4.6.3-3.6.3-9.5.3 15.9.3-.2.3-5.4.3 7.8.3-.7.3 9.3.4-15.8.3-3.6.3 2.8.3 8.4.3-3.7.3-1.8.3 2.9.3 3.5.3 5.6.3-7.6.3 13.8.3-.6.4-5.7.3.3.3-14.2.3 17.5.3-11.9.3 7.2.3 10.2.3-10.5.3 3.3.3-14.3.3 4.6.3.8.4 7.6.3-2.6.3-18.8.3-1 .3 9.3.3 1.4.3 7.2.3-9.4.3 15.2.3-4.7.3-.8.4.4.3.4.3-4.7.3 2.9.3-2.9.3-2.1.3 1.5.3 4 .3-.3.3 10.6.3-4.4.3-12.7.4-10.7.3 7.2.3 1.7.3 1.8.3-9.1.3 23.4.3-10.3.3.9.3 2.8.3-1.1.3 8.9.3-22.1.4 10.8.3-4.1.3 13.7.3-7.7.3 5.9.3-13 .3 10.5.3-11.1.3.7.3 3 .3-.8.3-.8.4 3.3.3-3.8.3 2.3.3-.4.3-1.3.3 0 .3 11.6.3-10.5.3 1.8.3-4.7.3 7.1.4 8.1.3-9.8.3-8.1.3 9.6.3.1.3 8.9.3-11.1.3-4 .3-1.8.3-1.9.3 4.3.3 4.1.4 5.2.3 5.4.3-10.3.3-4.4.3-8.3.3 4.8.3 6.2.3-4.1.3 20.4.3-10.7.3-7.3.3-.4.4.7.3 3.6.3-10.7.3 4.4.3 14.2.3-23 .3 12 .3-2.4.3-3.6.3 2.9.3-13.3.3 4 .4-5.4.3 4.3.3 10.2.3-12.6.3-1.8.3 5.3.3 3.4.3-7.9.3-4.5.3 12.1.3-.8.3-4.7.4 10.7.3-21.1.3 13.3.3.4.3-10.4.3.3.3-7.8.3 16.5.3-2 .3-4.9.3 1 .4-3.4.3 1.4.3 10.7.3 3.7.3-1.6.3-7.1.3 3.7.3 8.7.3-12.5.3 6.1.3 8.1.3-11.8.4-.1.3-2 .3-12.8.3 7.1.3-4.1.3 15.6.3-7.2.3-5.6.3 12.1.3-16.6.3 11.6.3-12.6.4 7.1.3 22.2.3-17.7.3 1.1.3-6.4.3 8.3.3-2.5.3 12.7.3-7.9.3 2.2.3.8.3 9.8.4-5.3.3 8.4.3-4.4.3-14.9.3-5 .3 5.6.3 10.1.3 9.6.3-15 .3 17.7.3-11.7.4-3 .3-.5.3 9.3.3-15.7.3 17.5.3 4.9.3-7.6.3-.1.3 2.8.3-6.6.3 2.6.3-1.8.4-13.4.3 15.1.3 3.4.3-4.9.3 7.3.3.6.3-6.1.3 4.9.3 6.1.3-5.3.3-9.6.3 6.5.4 6.2.3-16.8.3-3.8.3 18.9.3 1.2.3-2.9.3-5.7.3-3.9.3 12 .3 3.6.3-14.3.3-10.1.4 4.5.3 9.9.3-5.8.3-4 .3.7.3 7.4" fill="none" stroke="#f0302e" stroke-width="1.5" stroke-linejoin="round" clip-path="url(#cE)"/>
<path d="M84.5 1487.4l.3 1.2.3 5.5.3-1.1.3 2.5.3 20.4.4-12.6.3-6.8.3 0 .3 14.8.3 3.6.3-4.7.3-11.1.3 5 .3-10.2.3 16.1.3-2.5.3.9.4 5.1.3-7.7.3-.4.3 17.2.3-14.7.3 10.6.3-6.2.3-1 .3-2.5.3.2.3-.7.3 4.6.4-.1.3-10.9.3 7.7.3 15.2.3-.3.3-11.4.3 22.8.3-12.1.3-1.5.3-14.6.3.6.3 5.9.4 2.8.3 10.5.3 8.2.3-.9.3-4.3.3-5.4.3 8.8.3-22.7.3 20.2.3 2.7.3-.8.4-8.9.3 9.4.3-.9.3 9.9.3-10.3.3.3.3-.6.3-7.9.3 9.9.3 8.3.3-18.4.3 13.6.4-10.7.3-7.7.3 13 .3 3.7.3-2.9.3 1.3.3.6.3-4.7.3 7.1.3 2.9.3.4.3-13.6.4 1.4.3 8.1.3 4.7.3.5.3 17.9.3-5.6.3-9.4.3.7.3-7.2.3 6.9.3 1.9.3-.1.4-14.4.3 5.6.3 4.2.3-1.1.3 6.3.3-11.7.3 13.2.3-12.7.3.9.3-4.4.3 7.4.4 4.6.3.8.3-3.4.3-14.7.3 12.4.3-3.6.3-8.5.3 8.9.3 2.6.3 3.5.3 3.3.3-7.2.4 1.1.3 13.2.3-7.4.3-7.6.3 10.4.3-10.5.3 2.4.3-4.3.3 7.6.3-12.3.3-4.5.3 6.3.4.2.3 12.8.3 6.2.3-1.5.3 4.3.3-16 .3-.5.3 1.7.3 11.8.3-14.5.3 9.9.3-8.4.4-5.5.3 6.6.3-8.5.3 4.6.3 4.1.3-6.9.3 6.3.3-6.9.3-1.9.3 8.8.3 1.7.3-2.6.4-4.8.3 5.7.3-9.7.3 13.5.3-12.1.3-4.8.3-4.9.3 12.4.3-8.8.3.3.3 10.5.4-7.2.3-3.3.3 8.5.3-9.8.3 7.5.3 7.8.3-10.4.3-.6.3.7.3 4.8.3-3.1.3 4.8.4 3 .3-9 .3-.5.3 9.9.3 5.6.3-19.5.3 5.3.3-2.7.3 10.3.3-3.7.3 6.6.3 18 .4-11.2.3-7.2.3 11.1.3 5.3.3-13 .3-6.1.3 6.5.3.6.3-2.4.3-.5.3.1.3 1.3.4-9 .3 2.3.3-.7.3 9.9.3 1 .3 7 .3-3.7.3-18.7.3 13.7.3 5.3.3-9.9.4-.7.3-3 .3 1.1.3-2.8.3 14.4.3-17.4.3-.4.3 8.6.3 5.2.3 1.7.3 3.5.3 6.1.4-10.1.3-2.3.3 8.5.3-1.7.3-10.4.3-3.6.3 12.3.3-1.8.3 12.5.3-9.6.3 2.2.3-3.7.4-.9.3-1.3.3 7.7.3 1.1.3-3.2.3-.5.3 7.4.3-1.8.3 13.9.3-15 .3-2 .3-5.2.4 9.1.3-2.7.3 2.7.3 3.8.3 9.6.3-13.1.3 7.1.3-15.2.3 2.8.3 7.6.3-3.1.4 11 .3-13.4.3 12.3.3-13.5.3-3.1.3 3.4.3 5.9.3 3.3.3-5.4.3 5.1.3-11.3.3-1 .4 10.5.3 1.3.3-3.4.3-4.7.3 15.4.3 0 .3-11.4.3-14.2.3 15.6.3-10.2.3 10.7.3 1.1.4 1.1.3 5.1.3-9.7.3-.5.3 8.7.3-5.3.3 1.1.3 3.7.3-8.2.3 1.9.3 3 .3-15.3.4 10.2.3 2.9.3-3.8.3 7.2.3 8.6.3-5.4.3 14.2.3-11.9.3 13.4.3-9.6.3 6.7.3-6.8.4-5.3.3 2.1.3 1.3.3-1.4.3 3.1.3-3.3.3 7.9.3.1.3-4.4.3 5.9.3-6 .4 6.4.3-5.1.3.4.3 1.8.3 3 .3-2.7.3-7.7.3-2 .3-1.5.3 4.5.3-4.4.3 6.1.4 4.4.3 13.3.3 3 .3-4.1.3-5.1.3-3 .3 12.1.3-2.5.3-8.3.3-4.2.3-3.1.3 15.3.4 0 .3.2.3-6.9.3-3.2.3 16.4.3-10.8.3 3.3.3 2.7.3 2 .3-8.3.3 9.5.3 9.8.4-8.4.3-2.6.3-4.3.3-1.1.3 2.2.3 9 .3 2.7.3-6.8.3 9.4.3 1.6.3.6.4-11.2.3 5.9.3-2 .3 7.3.3 5.5.3-12.6.3-4.2.3 3.2.3 2.7.3-.6.3-2.4.3 4 .4 10 .3.6.3-2.9.3-.8.3-8.6.3 2.7.3-22 .3 13.6.3 9.4.3.3.3 7.9.3-9.7.4 2.8.3-4.1.3 5.4.3 3.2.3 9.8.3-15.8.3 9.9.3-9.6.3 7.9.3-1.1.3-3.9.3 3.9.4.8.3 6.4.3-2.5.3-9.1.3 7.6.3 2.9.3.1.3-10.8.3 7.6.3-2.1.3-4.5.4 3.7.3-5 .3 2.2.3-6.8.3 3.3.3 2.8.3 1.5.3-4.2.3-.8.3-11 .3 10.9.3-12.2.4 9.7.3-.9.3 6.2.3-.9.3-3.4.3 1.2.3-17.1.3 22.5.3-15.4.3 7.2.3-6.4.3 1.4.4-9 .3 4.5.3 6.5.3 1.8.3 15.5.3-18.4.3-1.3.3-9.6.3-4.8.3 7.5.3-3.9.3 10.1.4 3.2.3.2.3-1.8.3 2.2.3-4.9.3-3.6.3 14 .3-12.9.3 1.5.3-5.2.3 4.4.4-.6.3-1.3.3 0 .3-5.1.3 18.9.3-8.2.3-10.7.3 7 .3 1 .3-.6.3-7.7.3-2 .4-5.8.3 6.2.3-4.9.3 18 .3 0 .3 3.3.3 2.4.3-1.3.3-10.7.3 6 .3-8.3.3 5.1.4-5.7.3 3.6.3 4.1.3-12.6.3 4.8.3 4.7.3 2.8.3-.6.3 2.6.3-6.2.3-1.3.3 14.3.4-.1.3-.7.3 1.5.3-15.2.3 7.8.3.3.3 9.1.3.4.3-8.4.3 17.4.3-23 .4 10.8.3 8.8.3-5.1.3 6.8.3-1.6.3-3 .3-3.5.3 8.2.3-1.4.3-6.9.3 7.2.3-11 .4 4.5.3 5.3.3.1.3-3.1.3-.7.3 2 .3-3.6.3 1.4.3 10.5.3 8.1.3-15.8.3-3 .4 1.6.3-.5.3 1.2.3 8.5.3-10.7.3 14.3.3-11.4.3 3.6.3 1 .3-4.5.3-4.5.3 4.6.4-.7.3 5.1.3 6.9.3-3.6.3 5.5.3-25.9.3 16.2.3-2.1.3 2 .3 6.8.3-10.7.3 10.1.4-4.3.3-17.8.3 8.7.3 8.2.3-1.9.3.3.3 2.4.3 7.9.3-1.4.3-11.3.3-.6.4 6 .3-16.4.3 11.4.3-11.5.3 21.3.3-15.7.3 13.1.3-14 .3 19.8.3 1.1.3-9.4.3-4.1.4.5.3 3.6.3.2.3-10.7.3 6.4.3 11.7.3-11.2.3 6.6.3 2.2.3-.2.3-2.4.3 4 .4 3.6.3-9.8.3 4.3.3-6.5.3-3 .3 6.4.3-2.2.3 1 .3 14.4.3-25.5.3 19.5.3 1.1.4-9.5.3 2.3.3 5.6.3.1.3-3.2.3-5.8.3 1.1.3 5.6.3-3.9.3-10.9.3 17.7.4-6.1.3 10 .3-7.8.3-2.3.3-4.1.3-3.8.3 4.8.3 5.7.3-10.3.3 5.6.3-2.2.3-5.7.4 12.4.3-6.8.3 4.5.3-6 .3 2.9.3 11.4.3-12.4.3 2.8.3 5.3.3-5.8.3-7.6.3-3.7.4 8.3.3 7.9.3-8.3.3 4.8.3-3.1.3-5.1.3 4 .3 1.7.3-1.9.3-4.6.3 2.6.3-6.6.4 10.6.3-6.8.3.4.3 1.7.3 4.2.3-11.2.3 9.8.3-.1.3-.4.3 5.1.3-5.9.4 1.9.3-4 .3 5.4.3-15.2.3 3.4.3 12.7.3-.7.3-7.5.3 1.4.3 9.6.3-14.7.3 7.2.4 5.6.3-6.9.3-3.1.3-3.1.3-14.5.3 20 .3 7.9.3-3.4.3 4.3.3 3.1.3-4.4.3 11.5.4-12.8.3 5.8.3-5.3.3-1.2.3 5.3.3 2.5.3-3.6.3 4 .3 1.8.3 8.3.3-11.3.3-1.8.4 7.7.3 8.8.3-.9.3-1.5.3-16 .3 11.4.3-1.4.3-4.1.3.4.3 1.1.3 0 .3.8.4-3.7.3-11.6.3 12.2.3-8.9.3 9.4.3-4.8.3-9.9.3 9.2.3 10.1.3-3.3.3-3.4.4 1 .3-12.9.3 8.4.3-16.6.3 16.4.3.6.3 2.3.3 3.4.3-10.1.3.9.3-.4.3 4.6.4-13.6.3 28.7.3-9.8.3 2.3.3.1.3 1 .3 1.7.3-15.6.3-7.6.3 1.8.3 12.8.3-8.4.4-2 .3 8.8.3-2.9.3 16.3.3-9.9.3-10.7.3-10.5.3 17.4.3-9.5.3 12.7.3-2.9.3 6.3.4-1.1.3.1.3 2.3.3-15.2.3 7.4.3 3.2.3 7.2.3-2.7.3-12.1.3 11.5.3 1.2.4 8.7.3-19 .3-1.9.3 4.3.3 5.6.3-9.3.3 3.1.3-1.4.3 3.6.3 5.3.3-2.9.3 10.8.4-1.9.3 10.4.3-2.4.3 5.4.3-13.5.3-2.1.3 3.7.3-18.2.3 9.6.3-2.4.3 10 .3-4.4.4 5.9.3 3.9.3-2.7.3-7.8.3-.5.3-3.3.3 3.4.3 8.9.3 3.5.3-2.8.3 8.1.3-10.4.4-2 .3-7.5.3 7.9.3 3.5.3-.9.3-7.7.3 9 .3-5.7.3 1.2.3 8.3.3-14.8.4-5.7.3 13.4.3-1.4.3 4.9.3 7.2.3.4.3-10.4.3 9.5.3-9.1.3-.3.3 14.4.3-12.8.4 2.3.3-3 .3-.5.3 8.3.3 2.4.3-10.1.3-4.1.3 16.9.3-5.3.3-5.6.3 10.9.3-23.6.4 14.2.3 2.4.3-12.4.3-6.8.3 9.6.3-4.5.3-6 .3 17.9.3-10.5.3 6.6.3-5.7.3-7.7.4-2.4.3 4.9.3 2.9.3-11.5.3 10.3.3-15.2.3 5.4.3 4.2.3-4.2.3-.1.3 1.7.4-4.4.3 6.1.3-8.3.3-10.5.3 13.9.3 13.7.3-20.2.3-3.7.3 5.9.3-2.1.3 1.8.3-14.7.4 2.8.3 23.6.3-26.6.3 13.2.3 3.3.3-5.9.3 5.1.3 3.1.3-6 .3.3.3-4.1.3 4.4.4-1.8.3 12.5.3-14.1.3 19.6.3-12.8.3.8.3 4.4.3 5.8.3-9 .3-5.5.3 4.3.3 23.1.4-27 .3 19.1.3-11 .3.6.3-2.4.3.6.3-2.4.3 2.1.3 15.2.3-17.8.3 19.2.4-14.2.3-3.5.3 9 .3 4.2.3 1.3.3-3.1.3-16.7.3 7.2.3 1.5.3-3.7.3.7.3-5.9.4 8.7.3-4.1.3 7.9.3-.8.3 6.6.3 2.4.3.1.3-13.4.3 8.5.3-3.8.3-3.3.3-4.3.4 3.1.3-4.4.3-8.8.3 17.3.3-4 .3-3.3.3 6.6.3 4.6.3-12.2.3 17.1.3-11.6.3 7.5.4-8.1.3-2.2.3 12.1.3-9.5.3 4.2.3 0 .3-5.5.3 0 .3 1.3.3.9.3-1.9.3-1.7.4-1.1.3 5.2.3 8.3.3-6 .3-10.3.3 4.3.3 2.5.3-.3.3 3.9.3 1.1.3 2.9.4 1.1.3-5.4.3-3.6.3 1.9.3-.7.3 7.9.3-8.2.3-6.9.3 6.6.3-12.1.3 2.3.3 18.9.4-6.3.3-6.3.3.7.3 6.5.3-.4.3 3.6.3 8.1.3-10 .3 0 .3 21.7.3-17.1.3-10.2.4-2.9.3-12.4.3 9.4.3 4.9.3 3.9.3-7.3.3 2.7.3-7.8.3 16.6.3-6.4.3 6.2.3-5.6.4 1.9.3 7.8.3-5.7.3-8.5.3 3.6.3 5.5.3-1.2.3-7 .3 1.5.3 1.5.3 9 .4-12.3.3 7.4.3 15.7.3-19.1.3 7.6.3.8.3-5.6.3 6.3.3-4.6.3 5.6.3-1.8.3-6.4.4-2.7.3 3.5.3 7.8.3-3.7.3 2.4.3-8.7.3-4.3.3 18.3.3-3.2.3-8.1.3 9.2.3 2.6.4 3.2.3-9.4.3-2.3.3 10.6.3-8.8.3-8.3.3 11.5.3-8.8.3 3 .3-3.4.3 5.2.3 7.3.4-8.9.3-4.9.3 3.5.3 9.2.3-10.6.3 4.9.3-5.4.3-11.1.3 11 .3 5.3.3-7.5.4 10.6.3 8.9.3-11 .3 1.2.3 0 .3 12.3.3-6.6.3-8.4.3 3.9.3.8.3 4.5.3-3.3.4-3 .3 7.2.3 1.5.3-2.4.3-10.8.3 12.8.3-6.8.3-12.1.3 19.7.3-10.3.3 1.1.3 5 .4 2 .3-2.2.3-4.2.3 5.9.3-4.8.3-.2.3 10.6.3-10 .3 1.1.3-9.4.3 1.6.3-1 .4 6.6.3 1.6.3-10.6.3 4.1.3-2.1.3 4 .3-2.6.3 1.2.3 10 .3-2 .3 3.9.3-6.5.4 12.3.3 3.6.3-11.2.3 13.3.3.2.3-.6.3-5.6.3-7.5.3-8.1.3 7.1.3-5 .4 10.2.3-6.3.3 8.4.3-20 .3 21.6.3 15.1.3-19.4.3-1.2.3-5.8.3 1.1.3 2 .3 3.9.4 4.8.3-13.5.3 10.3.3 1.7.3-12.1.3 17.7.3-10.8.3-1.7.3-.4.3-10.1.3 7 .3 1.1.4 2.9.3-.1.3 1.2.3 2.5.3-10.5.3 16.3.3-5.4.3-.7.3-12.9.3 8.1.3 1.4.3-7.7.4 4.6.3 12 .3-11.5.3 4.9.3 1 .3 5.5.3-1.7.3 9.6.3-5.4.3-3.6.3 1.6.4 0 .3-3.1.3 4.7.3-2.5.3-6.5.3-9.6.3 5.8.3 7.1.3-4.6.3-3.5.3 4.7.3 3.2.4 2.5.3-.7.3 5.2.3-3.2.3-11.1.3 7.4.3 13.5.3-9.4.3 1 .3 2.1.3 5.1.3-10.3.4 3.9.3 3.6.3 4.1.3-10.2.3 2.4.3 16 .3-12.5.3-13.7.3 14.2.3-6.3.3-3.4.3-6.1.4 8 .3-1.7.3-5.2.3 12.6.3 1.9.3-10.8.3-.5.3 1.9.3 1.4.3-1.5.3 5.1.4-.7.3-7.8.3-2.7.3 14.1.3-4.7.3-2.6.3-7.8.3 12.1.3-8 .3 9 .3 6.2.3-15.8.4-9.7.3 24.1.3-7.3.3 8.6.3-8.7.3-3.8.3 6.3.3-4.7.3 9 .3-6 .3 4.2.3-.5.4-14.2.3 17.2.3-12.4.3 2.5.3-6.6.3-.2.3 2.3.3-7.4.3 11.6.3-.7.3 2.7.3 5 .4-.3.3-7.3.3-.7.3-7.6.3 9.2.3 3.1.3-5.9.3 7.1.3-9.1.3 11.5.3-18.3.4 11 .3-10.9.3 3.9.3 14.5.3-11.1.3 5.2.3-9.5.3 13.4.3-4.8.3-8.3.3 12.7.3-9.5.4 7.8.3 6.9.3-4.4.3-10.7.3-1.5.3 3 .3-5.6.3-2.8.3 9 .3-2.7.3-.6.3 14.2.4-10.6.3 2.4.3-12.4.3 6.6.3 2.7.3.9.3-4.6.3-3.2.3 4 .3 9.9.3-10.4.3 5.7.4-12.3.3 10.7.3 2 .3.1.3-4.9.3 8.3.3-4.5.3-9.7.3-2.9.3 10.8.3 5.7.4-15.9.3 13.4.3-10.7.3 7.9.3-4.6.3 9.8.3-3.9.3 1 .3-1.2.3 7.2.3-7 .3-7.5.4 3.7.3 17.2.3-7.8.3-12.6.3-6.5.3 1.6.3 2.6.3-3.7.3 5.3.3-8.1.3 13 .3-15.5.4 8.1.3 5.8.3-4.4.3 17.3.3-5.4.3-1.6.3-12.2.3 11.4.3-.3.3-.9.3.4.3-1 .4 1.7.3 11.6.3 6.6.3-9.3.3-8.9.3-.4.3 2.8.3-8 .3 7.6.3-7.3.3 6.2.3 7.5.4 5.5.3-15.2.3 14.6.3-12.1.3 17.8.3-16.4.3 7.5.3 5.3.3-4.5.3-7.5.3 13.8.4-11.4.3 17 .3-13.9.3 10.3.3-6.6.3 4.3.3 7.6.3-12.8.3 9.3.3 11 .3-16.7.3 4.7.4-2 .3-1.1.3-5.8.3-.4.3 5.3.3 1.3.3 7.6.3-2.2.3-2.5.3-9.5.3 14.3.3-13.3.4 6.7.3 4.7.3-8.3.3-1.1.3 2.9.3 1.9.3 11.8.3-9.1.3 12.1.3-16 .3 1.6.3 9.9.4-6.7.3 3 .3-17.8.3 15.8.3-10.3.3 11.1.3 5.8.3-6 .3-3.3.3-2.9.3 6.9.4-12 .3 2.3.3 2.3.3 3.4.3 8.2.3 3.8.3-9 .3-14.6.3 5.1.3-2.3.3 2.5.3.9.4 4.2.3.2.3-.9.3-4.8.3 8 .3-10.5.3-8.2.3 18.1.3-14.1.3 9.2.3 2.8.3-3.3.4-2.4.3-13.7.3 7.8.3-13.8.3 13.5.3 8.7.3-3.3.3 10 .3 1.9.3-13.9.3-3 .3 13.3.4-19.2.3 10.1.3-1.2.3-1.5.3 1.2.3-.9.3 2.6.3 5.3.3-3.1.3-4.6.3 5.9.4-3.7.3 10 .3-1.7.3-1.9.3-12 .3-3.9.3 13.5.3-7.1.3 3 .3-2.5.3 9.3.3-1.4.4-3.8.3-4 .3 9.5.3-6.1.3-1.7.3-2.8.3 8.2.3-7.1.3 1.3.3-12.2.3 13.4.3-8.6.4 14.3.3-.8.3-15.9.3 5 .3-4.5.3 7.9.3-7.2.3 11.8.3-20.4.3-.9.3 7.8.3 3.9.4 4.3.3-4.4.3 4.9.3 3.3.3.1.3-5.8.3-6.8.3 9.5.3-.9.3 2.1.3-.9.3-13.2.4 7.2.3-.7.3 11.9.3-12.3.3 6.5.3 3.6.3 6.1.3 2.9.3-7.9.3 7.3.3-12.5.4 3.4.3-7.6.3 8.9.3 12 .3-12.4.3-3.7.3 1.5.3-8.7.3-15.6.3 25.4.3 3.5.3-7.6.4 9.1.3-.2.3-3.3.3 9.1.3-1.4.3-3.5.3 2.8.3-14.7.3 11.2.3 1.5.3 10.4.3-10.3.4-5.8.3-4 .3 3.8.3 6.4.3-9.5.3 5.8.3-4 .3 3.4.3 5.4.3-7.4.3-13.2.3 6.2.4 5.5.3-.7.3 10.2.3-6.3.3 11 .3-8.2.3-3.3.3 11.6.3-2.1.3-3 .3 7 .4-1.1.3-14 .3-3.1.3 7.4.3.7.3-6.3.3-16.4.3 12.5.3 5.1.3-11.9.3 4.7.3 7.9.4 5.4.3-3.3.3 2.4.3 3.6.3-6.6.3 7.3.3 2.5.3-1.7.3-10.5.3 9.5.3 5.2.3 1 .4-9.8.3 12.8.3-9.4.3 7 .3 4.6.3-3 .3 9.1.3-14.7.3 5 .3.1.3-5.2.3 21.9.4-35.7.3 1.5.3 11.3.3-9.9.3-8.1.3 17.9.3-.1.3-1.8.3 3.4.3 3.6.3-10.7.4 8.5.3 8.6.3-5.9.3 5 .3-19.1.3-4.4.3 10.9.3-6.8.3 10.4.3-4.4.3-2.9.3.6.4 9.3.3-.4.3-3.9.3-.4.3 1.5.3-.9.3-1.7.3-6.4.3 1.9.3 12 .3 4.5.3-8.8.4 5.9.3-2.4.3-5.9.3 2.9.3 3.9.3-4.6.3-6.3.3 7.9.3-4.3.3-7.8.3 8.8.3 10.2.4-7.1.3-1.5.3 6.8.3-3.7.3-6 .3 5.9.3 15.7.3-19.9.3 1.5.3 4.6.3-8.1.4-4.5.3-1.1.3 1.1.3 4.5.3 9.7.3 2.8.3-6.8.3 10.2.3-1.4.3-7.3.3-1.9.3-4.2.4 12.9.3 3.1.3-22.2.3 17.6.3-3.5.3-7.4.3-15.7.3 18.2.3-12.2.3 4.5.3 12.5.3-5.2.4 10.5.3-22.4.3 25.5.3-15.9.3-1.3.3-.6.3 9.5.3-14.5.3 2.7.3-6.3.3 12.8.3-1.6.4-5.1.3 5.3.3.4.3-6.9.3 6.6.3 4.4.3-20.1.3 21.4.3-7.5.3-11.2.3-2.1.3.8.4 15 .3 1.7.3 2.5.3-8.8.3 5.5.3-17 .3 12.5.3 5.7.3-1.5.3 4.4.3-5.3.4-1.3.3 9 .3-6.4.3.5.3 18.3.3-9.9.3 2 .3-.7.3-6.7.3 3.6.3-2.1.3 5 .4-1.4.3-19.6.3 16.4.3 4 .3-2.3.3 9.8.3-14.4.3 4.9.3 14.4.3-16.1.3-4.6.3 3.6.4 1.6.3 1.3.3-2.9.3 15.7.3-6.2.3 5.3.3-12.3.3-1.6.3 4.3.3-1.6.3 2.2.3-6.9.4-6.3.3 10.3.3 2.1.3 4.9.3-4.4.3.9.3 5.7.3-3 .3-9.1.3 6.3.3-.6.4 3.8.3 3.6.3-11.3.3 15.3.3-1.2.3-10.4.3-6.4.3 9.8.3 12.2.3-14.2.3-15 .3 5.4.4 2.8.3 2 .3 2.7.3-5 .3-2.6.3-4.2.3-.9.3 6.2.3-3.5.3 8.1.3-10.3.3 2.8.4-1.3.3-2.5.3.3.3-.1.3-5.7.3 6.6.3-9.7.3 2.6.3.9.3 2.2.3 11.1.3 9.7.4-16.9.3 4 .3 7.9.3-17 .3 13.4.3-.5.3 7.2.3-9.7.3-1.6.3-3.4.3-4.4.4 3.1.3-2.6.3 4.6.3.6.3-7.1.3.2.3 9.2.3 3 .3-9.6.3-5.4.3-1.9.3-5.1.4 13 .3-5.1.3 4.7.3-6.1.3-.2.3-2.3.3 3.9.3 10.2.3-3.2.3-11.2.3.5.3 2.9.4 1.3.3 4 .3-6.9.3-1 .3.3.3.9.3-8.7.3 2 .3 11.6.3-6.3.3-11.8.3 12.7.4 3.4.3-17.6.3 4.2.3 9.3.3 4.8.3-8.1.3-4.9.3-.1.3 15.7.3-3.7.3 7.4.4-9.8.3 1.6.3 3.2.3-11.7.3 0 .3 8.5.3 1.6.3.4.3 9.8.3-11.6.3-6.8.3 2 .4.8.3 7.2.3 1.8.3-13.6.3 21.7.3-9.5.3-12.9.3 4.4.3 3.2.3 2.3.3 9 .3-10.7.4-2.5.3-5.5.3 6.5.3 3 .3 7.1.3-2.1.3-10.7.3 14.1.3-7.6.3 3.1.3-7.1.3-4.8.4 8 .3 0 .3 5.4.3-1.6.3 7 .3-.6.3-17.8.3-1 .3 5.7.3.4.3 3.3.3 4.8.4-3.8.3-2.5.3-1.2.3 2.3.3.1.3 4.5.3-10.2.3 5.6.3-14.5.3 4.7.3 2.4.4 8.8.3 7.8.3-1 .3-18.3.3 17.6.3-.8.3-2.3.3-4.8.3-11.9.3 2.5.3 8.6.3 6.8.4-3.5.3-.4.3-.2.3-5.3.3-4.9.3 8.5.3 1.6.3-5.8.3 2 .3.6.3 5.2.3-9.1.4 6.8.3 3 .3-14.1.3 9.9.3-3.5.3-1.8.3 13.9.3-7 .3 1.8.3-2.4.3-6.3.3 7.5.4 7.3.3-13.4.3-3 .3 13 .3 2.6.3 6.3.3-.8.3-8.1.3 1 .3-4.8.3 2.6.4-2.4.3-4.2.3 14 .3-13.7.3 4.1.3-7.4.3-5.3.3 4 .3 11.5.3-2.2.3 0 .3-.4.4 5.1.3-3.9.3-4.1.3 11.1.3-10.9.3 5.1.3 10.1.3-7.2.3-7.2.3-2.6.3 6 .3 4.8.4-12.6.3 7.9.3-13 .3 13.5.3 8.1.3-16.4.3 15.5.3 5.9.3-9.4.3-.8.3-3.2.3 5.8.4-3.3.3-1.1.3 4.5.3-6.6.3 1.4.3 7.4" fill="none" stroke="#3d78ea" stroke-width="1.5" stroke-linejoin="round" clip-path="url(#cE)"/>
<g stroke="#000" stroke-width="2" fill="#000"><line x1="84.50" y1="1791.00" x2="84.50" y2="1801.00"/>
<text stroke="none" transform="translate(84.50,1823.60) scale(0.93,1)" text-anchor="middle" font-size="23.5">0</text>
<line x1="146.20" y1="1791.00" x2="146.20" y2="1796.00"/>
<line x1="207.90" y1="1791.00" x2="207.90" y2="1801.00"/>
<text stroke="none" transform="translate(207.90,1823.60) scale(0.93,1)" text-anchor="middle" font-size="23.5">20</text>
<line x1="269.60" y1="1791.00" x2="269.60" y2="1796.00"/>
<line x1="331.30" y1="1791.00" x2="331.30" y2="1801.00"/>
<text stroke="none" transform="translate(331.30,1823.60) scale(0.93,1)" text-anchor="middle" font-size="23.5">40</text>
<line x1="393.00" y1="1791.00" x2="393.00" y2="1796.00"/>
<line x1="454.70" y1="1791.00" x2="454.70" y2="1801.00"/>
<text stroke="none" transform="translate(454.70,1823.60) scale(0.93,1)" text-anchor="middle" font-size="23.5">60</text>
<line x1="516.40" y1="1791.00" x2="516.40" y2="1796.00"/>
<line x1="578.10" y1="1791.00" x2="578.10" y2="1801.00"/>
<text stroke="none" transform="translate(578.10,1823.60) scale(0.93,1)" text-anchor="middle" font-size="23.5">80</text>
<line x1="639.80" y1="1791.00" x2="639.80" y2="1796.00"/>
<line x1="701.50" y1="1791.00" x2="701.50" y2="1801.00"/>
<text stroke="none" transform="translate(701.50,1823.60) scale(0.93,1)" text-anchor="middle" font-size="23.5">100</text>
<line x1="74.50" y1="1791.00" x2="84.50" y2="1791.00"/>
<text stroke="none" transform="translate(67.90,1797.90) scale(0.93,1)" text-anchor="end" font-size="23.5">300</text>
<line x1="79.50" y1="1749.48" x2="84.50" y2="1749.48"/>
<line x1="74.50" y1="1707.97" x2="84.50" y2="1707.97"/>
<text stroke="none" transform="translate(67.90,1714.87) scale(0.93,1)" text-anchor="end" font-size="23.5">350</text>
<line x1="79.50" y1="1666.45" x2="84.50" y2="1666.45"/>
<line x1="74.50" y1="1624.93" x2="84.50" y2="1624.93"/>
<text stroke="none" transform="translate(67.90,1631.83) scale(0.93,1)" text-anchor="end" font-size="23.5">400</text>
<line x1="79.50" y1="1583.42" x2="84.50" y2="1583.42"/>
<line x1="74.50" y1="1541.90" x2="84.50" y2="1541.90"/>
<text stroke="none" transform="translate(67.90,1548.80) scale(0.93,1)" text-anchor="end" font-size="23.5">450</text>
<line x1="79.50" y1="1500.38" x2="84.50" y2="1500.38"/>
<line x1="74.50" y1="1458.87" x2="84.50" y2="1458.87"/>
<text stroke="none" transform="translate(67.90,1465.77) scale(0.93,1)" text-anchor="end" font-size="23.5">500</text>
<line x1="79.50" y1="1417.35" x2="84.50" y2="1417.35"/>
<line x1="74.50" y1="1375.83" x2="84.50" y2="1375.83"/>
<text stroke="none" transform="translate(67.90,1382.73) scale(0.93,1)" text-anchor="end" font-size="23.5">550</text>
<line x1="79.50" y1="1334.32" x2="84.50" y2="1334.32"/>
<line x1="74.50" y1="1292.80" x2="84.50" y2="1292.80"/>
<text stroke="none" transform="translate(67.90,1299.70) scale(0.93,1)" text-anchor="end" font-size="23.5">600</text>
<rect x="84.50" y="1292.80" width="617.00" height="498.20" fill="none"/>
<text stroke="none" transform="translate(393.00,1864.30) scale(0.945,1)" text-anchor="middle" font-size="27.5">Time (ns)</text>
<text stroke="none" transform="translate(25.50,1541.90) rotate(-90)" text-anchor="middle" font-size="26">Total SASA/nm<tspan font-size="18.5" dy="-10">2</tspan></text></g>
<line x1="563.1" y1="1310.60" x2="606.5" y2="1310.60" stroke="#383838" stroke-width="1.6" opacity="0.8"/>
<text x="610.7" y="1316.80" font-size="18.7">AGHDDFP</text>
<line x1="563.1" y1="1334.00" x2="606.5" y2="1334.00" stroke="#f0302e" stroke-width="1.6" opacity="0.8"/>
<text x="610.7" y="1340.20" font-size="18.7">GYDTF</text>
<line x1="563.1" y1="1357.40" x2="606.5" y2="1357.40" stroke="#3d78ea" stroke-width="1.6" opacity="0.8"/>
<text x="610.7" y="1363.60" font-size="18.7">NGYDMR</text>
<text transform="translate(76.8,1276.2) scale(0.9,1)" font-size="29.5">E</text>
<path d="M835.1 1468.9l.3-4.7.3 19 .3-3.9.3 5.3.3 6.9.4-5.1.3-1.9.3-1.1.3-.3.3 3.7.3-5.6.3 18.1.3-5.7.3-8.1.3 4.5.3 6 .3-15.9.4 4.3.3 5.3.3 5.1.3 29.9.3-19.9.3-2.6.3-1.2.3 2.3.3-7.7.3 6.4.3 7.3.3-1.8.4-10.9.3 5.8.3 13.1.3-.9.3 6.2.3-7.5.3-6.1.3-11.9.3 12.1.3 16.7.3-.3.3-7.7.4 1.8.3 2.5.3-7.7.3 13.7.3-4.4.3 7.7.3-7.1.3 2.2.3 6.9.3-16.4.3 9.1.4 4.8.3 4.6.3 1.4.3 7.3.3-9.4.3-3.5.3 14 .3-5.7.3 2.4.3-10.4.3-4.8.3 11.4.4 4.6.3-9.1.3 2.2.3-4.9.3 11.9.3-1.6.3 1.1.3 2.7.3-1.4.3 1.7.3 0 .3-3.3.4 7.5.3-3.1.3-14 .3 12.8.3-3.7.3-18.1.3 9.9.3-8 .3 23.3.3-11.6.3 2.5.3-5.9.4-3.2.3 6.2.3-3.4.3 7.5.3 9.3.3-10 .3-8.1.3 13 .3-20.4.3 18.7.3 13.3.4-.1.3-5.9.3 7.4.3-2 .3-.4.3-.1.3-16 .3 12 .3-6.8.3 2.1.3 3.2.3 16 .4-23.8.3 7.5.3-2.8.3 11.2.3-14.7.3 4.9.3 3.1.3-14.7.3 10.1.3 1.4.3.4.3 2.9.4 6 .3 10.4.3-2.6.3-4.9.3 1.7.3 13.2.3-9.1.3-18.3.3 21 .3-5.6.3.8.3 8.4.4-16.6.3 5.5.3 2.3.3-11.8.3 21.7.3-9.1.3-.4.3 2.4.3 3.2.3-2.9.3-6.1.3 14.8.4-8.3.3 14.7.3-.7.3 2.1.3-14.8.3 11.8.3-11.7.3-10.8.3 4.3.3 11.9.3 4.1.4-12.8.3 5.1.3 9.3.3-12.9.3 14 .3-23.9.3 7.6.3 20.3.3-4.7.3 18.5.3-18.7.3-10.5.4 10.5.3 4.3.3-13.4.3 4.7.3 6.7.3.1.3-2.9.3-8.1.3 7.7.3 4.9.3 5 .3-11 .4 5.6.3-3.8.3-9.2.3 14.3.3-4.3.3 3.3.3-7.1.3 13.2.3-23 .3 13.1.3 10.1.3-12.7.4 7.6.3-8.9.3-.8.3 11.3.3-.2.3 8.3.3 2.4.3-17.1.3 1.9.3-1.2.3-2.3.4 11.1.3-3.6.3 8.6.3-2.7.3 3.3.3-14.7.3 5.8.3 9.9.3-7.3.3 8 .3-1.7.3-13 .4 1.5.3 15.5.3 4.2.3-9.8.3-3.7.3 4.1.3 8 .3-7.5.3 7.7.3-10.4.3 6.3.3 2.6.4 12.6.3-17.1.3 4.6.3-3 .3 2.7.3 6.4.3-4.9.3 5.7.3-12.1.3 1.6.3 6.3.3-16.2.4 9.2.3 7.9.3 1.2.3 3.4.3-2.2.3-3.6.3-11.2.3 6.8.3 1.2.3 1.9.3-4 .4 1.7.3 3 .3-10.5.3 12.1.3 16.2.3-13.2.3-3.8.3.7.3-1.7.3.1.3-.1.3.6.4 2.9.3-12.7.3 12 .3-12.8.3-.4.3 26.1.3-2.1.3 1.6.3-4.5.3-4.4.3 18.1.3-13.3.4-9.4.3 5.4.3-1.9.3 7.2.3 1.8.3-20.6.3 8.6.3 4.2.3 14.1.3-10.4.3 11.9.3-17 .4 2.8.3 3.2.3 17.4.3-1.4.3-4.8.3-26.8.3 24 .3-6.5.3-6.3.3-.1.3-8.3.3 14 .4 6.4.3 1.2.3-8 .3 7 .3-3.8.3 2.4.3-7.7.3.9.3-2.1.3 2 .3 15.8.4-3.7.3-5.7.3 2.4.3 9.3.3-1.1.3.4.3 4.8.3 2.3.3-16.7.3 10.4.3-1.6.3 3.3.4 1.2.3 9 .3-11.6.3.4.3 1.8.3-.1.3-1 .3-6.8.3 17.4.3-15.5.3 5.4.3 14 .4-11.2.3 7.5.3 5 .3-29.7.3 16.2.3-7.1.3-5.2.3 19.7.3 1.2.3-19 .3 9.2.3 2.5.4-9.7.3-1.9.3 6.9.3.5.3 4.6.3 3.4.3-8 .3-1.4.3 2.4.3 6 .3-4.4.4 16.6.3.6.3-12.7.3 17.4.3-23.1.3 10.1.3-1.5.3-3.4.3-13.6.3 12.5.3.8.3-10.9.4 12 .3.9.3-1.2.3 7.6.3-4.5.3-.5.3-1.8.3-6.6.3 7 .3 16.4.3-12.4.3 10.2.4-10.2.3 3.5.3 3.3.3-4.6.3-9 .3.9.3-12.9.3-.1.3.8.3-.3.3 12 .3 15.3.4 1.2.3-14.1.3-1.6.3-5.4.3 25.4.3-5.2.3-3.8.3 2.1.3-12.6.3 9.8.3 14.3.4-24.5.3 13.7.3.5.3-4.7.3-5.3.3 23.9.3-26.3.3 2.2.3 3.8.3 2.4.3 3.3.3 13.8.4-12.2.3 7.5.3 2.4.3 7.3.3-9.7.3-16.8.3 14.3.3-10.1.3 13.8.3-12.1.3 7.4.3 6.1.4-7.7.3 5.1.3-3.3.3-7.3.3 10.4.3-1.3.3 10.3.3-3.7.3-13.7.3 7.8.3-2.9.3 10.7.4-5.7.3-3.5.3-11 .3 19.9.3 1.2.3-1.6.3-2.8.3-15.1.3 5.8.3 2.5.3 12.3.4-18 .3 9.7.3-7.2.3-3.8.3 9.7.3-6 .3-1.3.3 6.5.3 12.8.3-17 .3 13.2.3-7.7.4 3.4.3-2.2.3 3 .3 3.4.3-18.1.3 10.8.3-9.5.3 16.7.3-12.7.3-2.7.3 8.9.3-8 .4 5.2.3-17.8.3 15.5.3.9.3.4.3-3.3.3 18.6.3-20.6.3 10.7.3-9.4.3 10.3.3 5.3.4-2.2.3-6.5.3-7.3.3 7.3.3 7.4.3 3.3.3-7.9.3 3.5.3 1.5.3-8.7.3-10.5.4 5.8.3 4.6.3-8.1.3 10.3.3-6.6.3 15.7.3-6.6.3 7.7.3-.8.3-10.9.3 2.4.3 4.8.4-5.7.3 9 .3-10.4.3 5.6.3 1.3.3 1.9.3-11.7.3.7.3 15.9.3-17 .3 3.5.3 3.1.4 5.6.3-13.9.3 5.3.3 4.8.3-13.1.3 10.1.3-2.8.3-12 .3 12.3.3-5.4.3-3.1.3-.9.4 9 .3-4.6.3 8.5.3-1.7.3-10.6.3 7.6.3-5.1.3 7.3.3-1.1.3-18.7.3 13.2.3-.1.4-6.9.3 9.3.3-7.7.3 5.4.3 12.6.3-4.5.3 5.4.3-25.3.3 11.4.3 1.9.3 2.7.4-4.1.3-4.3.3-.2.3 5.7.3-9.7.3 1.7.3-2 .3 6.7.3-.4.3 7 .3 4.8.3-.5.4-3.9.3.5.3 4.7.3-8.9.3-13.6.3 18.5.3 3 .3-3 .3-4.7.3-1.9.3-8.1.3-1.8.4 6.9.3 11.6.3 5.8.3-21.9.3 9.7.3-3.5.3-5.5.3 5.3.3 29.6.3-9.9.3-20.1.3 15.1.4-10.5.3 8.8.3-12.7.3-6.3.3 13.2.3 1.3.3-6.6.3 1.5.3 5.9.3 13.4.3-15.1.4 1.7.3-13.3.3 14.4.3-9.4.3 12.1.3-3.6.3-3.5.3-14.2.3-5.4.3 8.6.3 3.3.3 20.9.4-3.7.3-14 .3 19.2.3-6.4.3 2.9.3 10.4.3-15.9.3 6.1.3-8.8.3-11 .3 19.3.3-13.1.4-3.3.3 7.8.3.4.3-12.2.3 0 .3 6.2.3 4.5.3 11.3.3-8.7.3.7.3 1.2.3 2.4.4-7.4.3-14 .3 8.2.3 13.1.3-12.3.3 16.5.3-1.5.3-2.2.3-14.8.3 9.4.3 2.2.4 2 .3 14.3.3-8 .3-12.6.3 4 .3 3.8.3-4.9.3 5.5.3-6 .3.7.3 11.6.3-5.2.4 8 .3 3.2.3-16.1.3 4.2.3-1.5.3 11.1.3-10.4.3-19.1.3 1.7.3 21.9.3-10.8.3 16.2.4 1.9.3-6.3.3 7.1.3-9.6.3-3 .3 10.3.3 2.8.3 1.5.3 6.1.3-4.5.3-9.5.3-8.9.4.8.3 6.9.3-10.8.3-4 .3 11.6.3 2.9.3 1.3.3-9.6.3-6.2.3 7.4.3 1.5.3-1.7.4 25.5.3-22 .3-1.4.3-4.4.3-1.8.3 9.6.3 12.9.3-26.1.3 11.4.3-10.9.3-1.7.4 18.1.3-31.3.3 5.8.3 15.1.3-3.1.3 7.1.3-11.7.3 12.4.3-.4.3-1.3.3 27.2.3-15.3.4-17.3.3 9.3.3 2.5.3-3.1.3 1.4.3-1.8.3-2.2.3-7.1.3-2.5.3 17.7.3-16.8.3 9 .4-14.2.3 1.7.3 7.2.3 1.4.3-3.7.3 4.6.3 0 .3-9.5.3 5.2.3 18.6.3-16.5.3 7.5.4-13.6.3 10.4.3-8.5.3-8.6.3 17.3.3 3 .3-7.4.3-1.1.3 16.3.3-8.6.3 2.2.4 9.7.3-21 .3 4.5.3 3.3.3-.7.3-1.4.3-6.4.3 0 .3 6.7.3-7.9.3 4.7.3 11 .4-7.7.3 5.1.3-4 .3-2.7.3.4.3-.3.3-7.9.3 19.4.3-4.8.3-8.8.3 3.6.3-8.6.4 17.8.3-1.9.3-11.2.3 9.8.3-9.4.3 2.1.3 8.8.3-6.1.3 1.1.3 2.8.3-13 .3-5.3.4 17 .3-2.4.3-5.8.3 1 .3-8.1.3 1.1.3-13.4.3 3.8.3 24.4.3-26.6.3 11 .4 14.1.3-6.6.3-3.7.3 4.9.3.2.3.2.3 6.7.3-.8.3-4.4.3-1.4.3-3.7.3 12.3.4-2.1.3-11.8.3 13.6.3.9.3-22.9.3 5.3.3 15.6.3 3.8.3 1.5.3-15.2.3 11.7.3 11.7.4-20.9.3 22.2.3-14.5.3 4.2.3-7.1.3 11.1.3-21.2.3 12.6.3-2 .3-8.3.3 15.5.3-7.8.4 2.4.3-5 .3 16.2.3-8.3.3-8.7.3-1.8.3 14.7.3-24.6.3 19.9.3 2.9.3 4.5.4 1.2.3 1.9.3-16.8.3-11.4.3 10.2.3 16.7.3-10.9.3-2.7.3 5.9.3 2.6.3-8 .3 17.2.4-11.5.3-5.5.3-16 .3 16.9.3-5.5.3 1.6.3.9.3 10.6.3-3 .3 13.1.3-5.2.3-16.9.4-4.8.3 4.8.3 8.3.3-1.8.3 8.3.3-3.4.3-1.1.3 4.2.3-12.8.3-6.2.3 3.3.3-1.8.4 12.3.3-1.3.3-6.4.3 7.8.3-.3.3.6.3-2.4.3-1 .3 3.1.3 3.6.3 6.8.4-6.6.3 4.5.3 13.8.3-7.8.3-3.7.3-10.1.3 20.1.3-19.8.3-6.8.3 2.7.3-9.1.3 13 .4-9.2.3 25.1.3-11.7.3 2.8.3-4.8.3-5.7.3 8.3.3-.3.3-18 .3 11.6.3 6.1.3 9.1.4 5.5.3-14.2.3-1.4.3-.1.3 10.3.3-.5.3-7.8.3-2.8.3-3.3.3-5.4.3 7.9.3-10.4.4 11.9.3-9.9.3 5.6.3 8.7.3-2.1.3 1.9.3-11.1.3 5.4.3 5.1.3-4.8.3 6.9.3-9.2.4-.7.3-5.3.3 11.1.3 10.5.3-17.3.3-14 .3 11.8.3 4.2.3-.3.3 3.6.3-8.5.4 22.6.3-13.2.3 7.6.3-5.4.3-8.4.3-6.5.3 12.5.3-2.2.3-4.1.3-5.2.3 6.3.3 5.8.4.3.3 6.5.3 6.1.3-4 .3-6.4.3-2.1.3-5.3.3-9.2.3 1 .3 8.7.3 5.8.3-10.7.4-1.5.3 6.8.3 6.1.3.9.3 15.1.3-3.7.3-7.1.3 12.2.3-23.5.3-11.7.3 11.9.3 4.5.4-6.1.3-.3.3-1.6.3 3.2.3-5.9.3 2 .3-10.4.3 20.8.3-6 .3 7.7.3-5.3.4-3.6.3-10.2.3 15.3.3-12.7.3 5.5.3 16.8.3-12.1.3-4.6.3-7.1.3 5.3.3-17.4.3 5.9.4 10.1.3-3.3.3-.7.3 18.1.3-12.6.3 16.7.3-22.5.3 24.9.3-8 .3.1.3 1.3.3-4.2.4-11 .3 9.1.3 5.1.3-7.9.3-3.5.3-2.9.3 6.4.3 2.6.3-3.5.3 7.4.3-12.5.3 22.5.4-22 .3 4.8.3 1.7.3-13.1.3 26.4.3-15.1.3 15 .3-5.7.3-12.2.3 7.6.3-4.5.4 21.7.3-4.2.3-13.1.3 7.7.3-7 .3-4.8.3-.5.3-.1.3 13.2.3-15 .3 1 .3 10.6.4 10.6.3-7 .3-5.2.3.7.3-10.6.3 9.1.3 3.7.3 7.1.3-17.9.3-6.7.3 4.8.3 7.5.4 10.2.3-1.8.3-5.5.3-10.7.3 6.9.3 9.5.3 6.8.3-7.8.3-20.1.3 20.1.3-15.4.3 3.8.4 10.5.3-9.1.3 4.2.3 2.7.3 5.4.3-2.3.3-15.6.3 17.2.3-9.3.3 6.5.3-11.4.3 1.5.4 7.9.3-8 .3 7.5.3-5.6.3-1.7.3 15.2.3-6.6.3-4.4.3 4 .3 4.8.3-24.5.4 8.3.3 17 .3-9.4.3-2 .3 8.9.3-4.9.3 2.1.3-8.7.3 13.8.3-2.2.3-7.3.3 6.8.4-4.8.3-6.3.3 16.8.3-27.9.3 37.2.3-32 .3 3.3.3-11.5.3 6.2.3 16.7.3-16.1.3 22.9.4-9.2.3 12.2.3-19.3.3 8.5.3-1.3.3-3.1.3 4.7.3-7.3.3 12.1.3 1.5.3-18.6.3 8 .4.7.3 13.5.3-20.3.3-1.3.3 3.5.3 0 .3 2.7.3 4.3.3-4 .3 2.7.3-3.8.4 6 .3 8.4.3-1.7.3-13.2.3-8.3.3-3.8.3 4.4.3-2 .3 16.4.3-10.1.3 18.8.3.3.4-8.3.3-1.9.3-4.1.3-2.8.3.8.3 11.5.3-18.6.3 22.2.3-24 .3 11.6.3 11.5.3-6.5.4-.8.3-12.1.3 13 .3-5.4.3-4.3.3 11.3.3-3.9.3 7 .3-5.6.3.6.3 1.1.3-3.9.4-4 .3 11.6.3-9.4.3 5.5.3 10.2.3-8.7.3 10.9.3-13 .3-1.8.3 6.8.3-10.8.4-9.7.3 1.2.3-1.7.3-6.2.3 18.9.3-15.8.3 4.4.3-4.1.3 9.4.3 13.3.3 0 .3-1.2.4-2 .3 6.6.3 6.4.3-24.9.3 2.1.3-4.2.3 23.1.3-9.3.3-8.5.3 15.7.3-7.6.3-.2.4 2 .3-3.8.3 3.9.3-8.4.3-.5.3-5.7.3 13 .3-1.6.3-8.4.3 10.2.3 2.6.3 2.7.4-22.8.3 3.9.3 1.6.3 8.9.3-12.7.3 9.9.3 7.3.3-.8.3-7.8.3 7.1.3-8.7.4 3.3.3 7.6.3-13.5.3 2.7.3-5.1.3 7.8.3 1.8.3-7.2.3-6.2.3-1.5.3 11.1.3-13.4.4 9 .3 2.4.3-11.1.3-.9.3 20.1.3-19.7.3 8.2.3-5.9.3 8.6.3-5 .3 19.3.3-15.5.4 18.9.3-17 .3 11.5.3-14.3.3 7.4.3-3.7.3-1.1.3 11.5.3.9.3-5.3.3.3.3-2.3.4-8.4.3 2.7.3 1.1.3-2.6.3-9.5.3-6.1.3 22.3.3-9.6.3 6.5.3-15.2.3 11.5.4-3.4.3 6.3.3 13.6.3-11.2.3 15.4.3.7.3-6.3.3 6.9.3-12.9.3 3.8.3 2.8.3-9.6.4-6.8.3.4.3 7.7.3-2.4.3 6.2.3 6.3.3-21.6.3-7 .3 21.6.3-8.2.3-6.9.3 15 .4-9.5.3 3.4.3-4.9.3 19.5.3-18.2.3 6.7.3 2.8.3 1.2.3-5.9.3 5.6.3 8.6.3-11.7.4 14 .3-2.1.3-18 .3 14.3.3-7.1.3-2.2.3 4.6.3-3.4.3-9.4.3 4.8.3 9 .3 4.5.4 4.7.3-20.7.3 21.6.3-15.2.3.4.3 6.8.3-11.8.3 6.4.3-10.7.3-2.8.3 14.7.4 13.7.3-1.2.3-.7.3-2.3.3-5.5.3-12.1.3 6.7.3-7.5.3 2.7.3-8.4.3 2.9.3 13.8.4-24.4.3 16.5.3-2.6.3 2.6.3-6.9.3 22.4.3-5.3.3 8 .3-1.2.3-6.4.3-.5.3-.3.4 7.2.3-2.4.3-.4.3-16.9.3 16.4.3-20.1.3 15.2.3 12 .3-6.6.3-2.8.3-19.2.3 9.9.4-4.5.3 4.6.3 4 .3 30.7.3-25.7.3 13.1.3 1.7.3-25.7.3 7.6.3-3.9.3-2.4.4 1.9.3-2.7.3 7.8.3.8.3 2.8.3-2.7.3-5.6.3-7 .3-1.7.3 12.5.3 11.6.3-3.3.4-16 .3-.5.3 8.3.3-10.8.3 9.4.3-6.3.3 13.1.3-.7.3-15.8.3 13.1.3 8.8.3-1.5.4-7.2.3-16.4.3 4.7.3 13.2.3 2.2.3-8.8.3 7 .3 11.7.3-13.6.3-.2.3.7.3 2.5.4-.5.3-10.5.3 15.4.3-16 .3 9.6.3-2.1.3 8.1.3-2.4.3 17.8.3-20.6.3 1.6.4 3.1.3-13.5.3 8.5.3 1 .3-12.9.3 7.9.3-3.8.3 20.9.3-14.8.3 5.1.3 3.7.3-14.8.4 8.2.3 2.2.3-17.2.3 11.9.3 7.2.3-9.3.3-10.5.3 14.9.3.9.3-3.7.3-2.1.3-9.9.4 9.5.3 2.3.3-4.6.3 13.1.3-4.6.3 14.7.3-18.2.3-4.2.3 10.2.3-1.2.3-13.2.3-7.4.4 20.1.3 1.5.3 2.9.3-3.2.3 3.2.3 8.2.3-5.4.3-17.6.3 9.5.3-4.4.3-.1.3 5.9.4-5.1.3-6.3.3 13.3.3-8.4.3 2.4.3-5.3.3-.4.3 10.9.3-5.2.3 11.1.3 4 .4-19.6.3 4.9.3 6.6.3-1.8.3-7.5.3-4 .3 13.6.3-1 .3-22.6.3 14.5.3.9.3-7.2.4 13.7.3 1.7.3-4.3.3-3.4.3-.4.3-3.9.3 1.3.3 7.2.3 2 .3-.5.3-17.6.3 8.6.4.2.3 6.2.3 8.5.3-3.7.3-.1.3-2.6.3-4.7.3-10.6.3 1.9.3 4.9.3-.1.3 18.8.4-20.8.3 12.4.3-3.7.3-.7.3-20 .3 4.4.3-14.7.3 15.8.3 3 .3 7.5.3 12.3.4-6.6.3-8.1.3 8.9.3-16.1.3 1 .3 8.1.3-11.9.3 11 .3 19.2.3-17.8.3-5.3.3 12.1.4 4.7.3-8.4.3 5.7.3-11 .3 7.4.3 1.6.3-4.3.3-11.2.3 17.1.3.4.3-7.1.3-19.2.4 27 .3-2.2.3 6.4.3-15.5.3 6.4.3 1.1.3 5.8.3-1.2.3-6.6.3-8.4.3.1.3-6.3.4 2.8.3 5 .3 7.8.3-6.8.3 1.5.3-11.5.3 9.9.3-8 .3 27.1.3-14.7.3.1.4-13.7.3 19.2.3-23.5.3-5.4.3 25.1.3 2.8.3-19.5.3 4.1.3 6.4.3-1.3.3-2.7.3 3.5.4-4.7.3 3.7.3 16.4.3-16.5.3-10 .3 3.2.3-5 .3 2.4.3 13.7.3 1 .3 3.7.3-13.7.4 19.5.3-.9.3 3.4.3-17.8.3 4.2.3-4.7.3-12 .3 10.8.3-11 .3-1.2.3 7.5.3 1.8.4-2.2.3 4.8.3 16.4.3-.6.3-6.2.3-9 .3-17 .3 10.8.3 4 .3 13.4.3-7.2.4 5.4.3-6.5.3 3.9.3 1.6.3-19.2.3 4.8.3-.3.3 3.1.3 8.2.3-17 .3 21.5.3-2.4.4-18.5.3 4.4.3 6.8.3 12 .3-18.9.3 16.3.3 5.2.3-8.1.3 12.1.3 3.7.3-21.4.3 2.2.4 7.3.3-10.8.3 2.4.3-9 .3 1.8.3 4.4.3-.6.3 5.4.3 9.8.3-15.7.3 8.4.3.9.4-4 .3-.5.3 11.3.3-23.7.3 11.4.3-6.3.3 6.1.3-1.5.3 12.4.3-10.9.3-7.3.4 8.5.3 2.8.3-1.3.3 8.8.3-6 .3-9.4.3 10.6.3-11 .3 6.4.3-6.2.3-.2.3 3.8.4 5.9.3-11 .3 8.8.3-5.1.3 8.7.3-18.9.3 13.3.3-7 .3-.1.3-2.9.3-13 .3 15.6.4-4.9.3 3.7.3 5.1.3-12.3.3 5.4.3 8.8.3-10.5.3 4.4.3-12.8.3.3.3-.4.3 8.1.4-7.3.3 12.9.3-3.4.3 5.5.3.4.3-.2.3-1.3.3-.7.3-5.9.3-3 .3-7.6.3 8.4.4 15.5.3-24.7.3 4.7.3 21 .3-2.6.3-9.5.3-4.4.3 2.7.3 5 .3-11.1.3 7.3.4 3.3.3-.4.3-18.7.3 13.4.3-2.9.3 17.6.3-14.9.3 13.3.3-8 .3-.6.3.6.3-5.3.4 7.4.3 5.7.3-13.5.3 23.7.3-19.7.3 2.5.3-.6.3 11.5.3-21.9.3 9.2.3-.3.3 12.3.4-11.9.3 5.2.3 3.9.3-11.3.3 10.6.3-1.2.3 2.8.3-10.6.3 1.4.3-.5.3-2 .3-2.1.4-9.8.3 11 .3-7.7.3 3.2.3 9.2.3 3.5.3-8 .3-3.2.3-3 .3 9.7.3-6.6.4 7.4.3 2.3.3 6.7.3-6.5.3-2.1.3-9.4.3 5.8.3-4.2.3-8.8.3 12.2.3-7.7.3 4.9.4 5.9.3 1.8.3-3.8.3-1.3.3 9.4.3-27.3.3 14.3.3 19 .3-8.6.3-14.6.3 4.5.3 3.6.4 14.7.3-5.4.3-3.5.3-7.3.3-1.2.3-6 .3 15.5.3-6.5.3.8.3-4.9.3 7.1.3-7 .4-6.1.3 10.3.3-4 .3 9.5.3-16.1.3 15.7.3-22.4.3 4.3.3-.6.3-.7.3 12.9.4-7.6.3 0 .3 9.7.3-25 .3 13.8.3 5.2.3 3.4.3-6.3.3-7.4.3 5.4.3 8 .3-.5.4 1.5.3-8.5.3 2.5.3 9.3.3-3 .3 7.5.3-6.2.3-4.6.3.4.3-4 .3 15.7.3-2.8.4-1 .3-8.6.3 18.7.3-12.7.3-5.2.3 1.1.3-2.8.3 1.3.3 5.6.3 13.5.3-19.1.3-6.1.4 13.2.3 5.1.3 8.5.3 1.7.3-10.9.3 2.6.3 8.2.3 14.3.3-4.2.3-10 .3-9.2.3 5.6.4 6 .3-8.6.3-2.1.3 3.3.3 4.4.3-10.2.3 9.6.3 1 .3 3.6.3 16 .3-31.1.4-.9.3 16 .3-1.9.3 12.3.3-2.9.3-1 .3-3.9.3-8.7.3-3.2.3 9.2.3 8.6.3-4.7.4-2 .3 7.6.3 3.9.3-19.3.3.4.3-2.1.3 10 .3 12.7.3-9.3.3 7.8.3.3.3-4.6.4 3.1.3-4.5.3-12.1.3 7.3.3 4.2.3 19.4.3-32.4.3-1.4.3 20 .3-15.7.3 9.2.3-4.6.4-1.2.3 2.5.3 3.4.3-2.9.3 2.5.3-9.2.3 5.2.3-7.3.3 14.3.3-13.9.3 5 .4 4.7.3 24.1.3-30.9.3-.7.3-5.1.3 14 .3-4.1.3 9.2.3 1.8.3 2.6.3-13.3.3-2.1.4 3.3.3-8.3.3 17.7.3-8.1.3 2.7.3-4.9.3-12.7.3 7.8.3 12.4.3-10.3.3 7.1.3 1.7.4-14.8.3 22.6.3-10.5.3 8 .3-4.6.3 10.3.3-21.3.3 1.4.3 4.6.3-3.3.3 3 .3 2.5.4-12.6.3 3.5.3-25.5.3 18.6.3 18.3.3-11.4" fill="none" stroke="#383838" stroke-width="1.5" stroke-linejoin="round" clip-path="url(#cF)"/>
<path d="M835.1 1481.1l.3-1.1.3-19 .3 16 .3 7.4.3 6.4.4-8.6.3 9 .3-5.4.3-3 .3-1.9.3.7.3 8.1.3-4.2.3 6.1.3-10.8.3-2 .3-1.9.4 10.1.3-21.5.3 17.9.3-2.6.3-.4.3 15.2.3-10.8.3 8.4.3-2.1.3-7.9.3 3 .3 12.7.4 5.4.3-6.1.3-2.8.3 8.6.3-8.5.3 7.1.3-2.7.3 10.5.3-25.9.3 15.3.3 3.8.3-.2.4 4.1.3 1.2.3 3.3.3-10.9.3 6.6.3.2.3 7.2.3-4 .3-10.2.3-2.2.3 25.8.4-19.5.3-3.3.3 8.3.3-.9.3 2.3.3 12.1.3 2.3.3-14.2.3 2.7.3 5.5.3 14.7.3-15.4.4 3.1.3 4 .3-22.1.3 32.9.3-18.6.3 8.5.3-11.9.3.4.3 11.2.3 15.3.3-14.3.3 16 .4 10.2.3-22.8.3 5.1.3 12.1.3 10.5.3-16.6.3 6.7.3-.2.3-12.9.3 19.9.3-3.2.3 6.3.4 3 .3-15.1.3 3.6.3-5 .3.8.3 2.6.3 7 .3-2.2.3 1.5.3 2.4.3 12 .4-1.7.3 5.3.3-10.4.3-3 .3 4.4.3-4.9.3 5.8.3 6 .3-3.7.3-2.2.3-1.9.3.1.4 11.1.3-17.2.3-.2.3-5.2.3 17.9.3-2.4.3-20.1.3 1.8.3 6.9.3 0 .3 11 .3 1.3.4-4.4.3 17.4.3-5.5.3-10.6.3 9.4.3-3 .3-3.3.3 4.5.3 6.5.3 12.9.3-10.9.3 7.5.4-2.8.3 4.4.3 6.6.3-12 .3 3 .3-7.8.3-4.2.3 5.6.3-1.5.3 10.5.3-24.4.3 15.7.4 8.2.3-20.2.3 25.3.3-5.2.3.6.3 1.4.3 2.4.3 6.3.3 5.9.3-1.1.3-7.5.4 2.6.3-.2.3 11 .3-21.7.3 5.5.3 7 .3-6.3.3 21.5.3-20 .3 2.3.3-17 .3 15.9.4-1.6.3 12.7.3-13.6.3 4.7.3 2 .3-11.8.3 9.7.3 3.9.3-7.2.3 7.9.3 6.9.3 4.8.4-6 .3 4.3.3-1.9.3-8.3.3-7.9.3 21.6.3-6 .3 4.7.3-3.7.3 5.7.3-11.2.3 3 .4-4 .3 8.2.3 6 .3-6.5.3-3.2.3-4.4.3-13.1.3 16.6.3-5.8.3 13.5.3 5.3.4-14 .3-9 .3 9.9.3 7.8.3-8.1.3-.8.3-4.1.3 3.7.3 5.1.3 4.8.3-11.7.3 3.8.4 2.5.3 14.8.3-16.5.3 13.3.3-7 .3-5.1.3-9.8.3 19 .3-11.3.3-3.5.3 13 .3-8.8.4 6.9.3 5.5.3-5.8.3-8.2.3 13.7.3-2.7.3 6.5.3-1.3.3-3.5.3-10 .3 7 .3-2.4.4 4.8.3-.5.3 16.3.3-11.4.3 8.7.3-12.4.3 4.5.3 19.3.3-6.8.3-6.7.3 1.8.4-11.8.3 15.6.3-12.6.3 8.5.3 4.6.3-20.4.3-1.1.3 3.7.3 7.7.3 3.9.3-17.5.3 15.5.4.6.3-2.3.3 1.5.3 17.3.3 3.3.3-22.5.3 4.7.3 3.3.3 3.4.3 4.5.3-4.1.3 2 .4-6.8.3-1.9.3-.5.3 7.1.3-10.7.3 10.1.3-5.1.3-6.3.3 4.9.3 7.6.3-10.7.3-1.1.4 8.7.3 11.4.3-14.7.3 25 .3-13.6.3-15.3.3-8.7.3 6.4.3 13.1.3-17.5.3 13.9.3-8.1.4 18.7.3-10.1.3 0 .3-12.3.3 17.3.3-21.4.3 18.9.3 2.4.3-.6.3-23.8.3 22.3.4-9.2.3 8.8.3-.4.3 7.1.3-5.6.3 12.2.3-23 .3 5.7.3-8.2.3 14.7.3-13.7.3 17.1.4-21.5.3 19.6.3-14.6.3-5.1.3 16.1.3 2.4.3 2.9.3-7.8.3-9.7.3 10.8.3-9.4.3-2.8.4 3.7.3 9 .3-11.1.3 7.8.3-17.9.3 14 .3-5.2.3-.3.3-6.2.3 14.1.3 10.2.3-14.3.4 7.7.3 6.8.3 5.8.3-10.8.3.6.3-6.1.3-3 .3-3.2.3 1.8.3-10.9.3-2.1.4 18.8.3-10.6.3 7 .3 2 .3 3.5.3-10.3.3 10.2.3-14.2.3-1.4.3 4.7.3 13.8.3 6.7.4-19.2.3 1.6.3-3.4.3 8.4.3 5.7.3-1 .3 4.6.3-13.6.3-3.7.3 6.4.3 8.7.3 8.6.4-3.3.3-8.4.3-.9.3-1.5.3-4.1.3-9.2.3 11.2.3-2 .3-2.4.3.1.3-4.8.3 7.8.4 13.3.3 9.5.3-6.8.3 3.2.3-14 .3-7.1.3.4.3 5.2.3 17.8.3-8.7.3 2.7.4 7.1.3-6.2.3-8.6.3 8.4.3-13.3.3 4.9.3 5 .3 10.5.3-3.2.3-14.9.3 1.8.3-.8.4-.7.3 6 .3-4.3.3 12.5.3-20.3.3 13.4.3-.3.3 0 .3-13.5.3 8.9.3 5.5.3-1.9.4-12.4.3-9.8.3 17.9.3 6.5.3.8.3 1.6.3-6.8.3-20.7.3 18.2.3-5.3.3 13.6.3 9.5.4-14.8.3-6 .3.3.3 7.8.3-11.4.3 8 .3 5 .3-2.8.3-2.5.3-6.1.3 8.2.4-.1.3 19.4.3-15.7.3-13.1.3 7.7.3 5.8.3-1.6.3-9.1.3 6.6.3-1.3.3-7.9.3 16.2.4-4.9.3-4.8.3-3.8.3-3.3.3 9 .3-1.6.3 8.8.3-7.3.3 9.7.3 6.2.3-18.1.3 3.4.4-7.5.3-.5.3 5.6.3 2.1.3-2.6.3 1.2.3 24 .3-16.7.3.2.3 9.9.3-12.6.3 1.8.4.8.3-5.1.3 10.3.3 10.4.3-24.8.3 6.3.3-9.3.3 5.1.3-2 .3 14 .3-4 .4-6.1.3 13.1.3-6.5.3 5.3.3 5.4.3-8 .3.3.3-1.3.3-12.5.3 18.6.3-.6.3-.3.4-1.7.3-23.2.3 13.2.3 2.2.3-5.7.3-.9.3 14.4.3-3.3.3 2.1.3-2.2.3-3.4.3 1.6.4 3.7.3-2.8.3-.9.3 2.9.3 5.3.3 2.5.3-19.9.3 3.3.3 2.1.3 9.2.3 7.2.3-.1.4.5.3-18.6.3 8.3.3 4.8.3-10.9.3 16.8.3-10.6.3 10.7.3-3.3.3-3.2.3-.1.3-5.7.4 2.8.3-1.6.3-5 .3 5.4.3-4.9.3 14.7.3-9.7.3 6.1.3-4.3.3 6.9.3-10.8.4-1.4.3 7.7.3-16.8.3 12.3.3-11.5.3 12.9.3-4.2.3-3 .3 5.2.3 12.2.3-11.3.3 4.2.4.8.3 16.4.3-2.6.3-20.5.3 9.2.3 9.9.3-23 .3 13.9.3-14.8.3-4.9.3 31 .3-10.7.4-.8.3 8.9.3-11.5.3-4.5.3 6.6.3 2.7.3-15.6.3 12.3.3 3.2.3 10 .3-13.3.3-5.7.4 16.4.3-18.3.3 1.2.3 7.2.3-2.4.3-2.7.3 10.1.3-5.8.3 11.7.3-18.1.3-.4.4 3.5.3-4.1.3 6.9.3.2.3-5.3.3 9.3.3.1.3-13.3.3 8.1.3-6.4.3 1 .3 10.3.4-12.6.3 10.5.3.8.3-14.7.3 16.1.3-24.2.3 25.5.3-7.3.3 13.3.3-.3.3-3.8.3-10.9.4-4.2.3 10.8.3-6.9.3-3 .3 13.4.3-.4.3-13.9.3 14 .3-3.7.3-4.2.3-5 .3 6.5.4-15.6.3-1.4.3 6.9.3-3.5.3-.9.3 8.6.3-3.4.3.9.3 6.7.3-6.5.3-.3.4 2.2.3 6.4.3-5.7.3 3.8.3-11 .3-2.4.3 17.5.3-12.5.3-3.3.3 5.9.3 4.3.3.8.4-1.7.3-2.6.3 9.5.3-27.9.3 23.7.3 1.4.3-10.9.3 3.4.3-3.7.3 5.1.3-7.1.3 3.6.4 1.5.3.6.3-4.9.3 7.5.3 16.4.3-22.6.3 8 .3 3.8.3-.5.3-2.5.3-3.5.3-11.3.4-.4.3 6.1.3 9.1.3-4.9.3 6.6.3 9.9.3-18.9.3 5.2.3-2.9.3-17.2.3 6.9.3 16.4.4-4.5.3-5.1.3 2 .3-15.4.3 14.1.3-25.5.3 11.7.3 28.9.3-20.1.3-13 .3 16.2.4 8.3.3-11.4.3 3.9.3-1.3.3 14 .3 13.5.3-12.8.3 10.5.3-7.2.3-5.5.3 5.8.3-2.6.4-8 .3-10.1.3 5.1.3.7.3 9.9.3-19.7.3 18.2.3-10.3.3-1.5.3-2.4.3-8.4.3 13.9.4-12.6.3 20.1.3-16 .3 5.5.3-3.2.3 14.4.3-7.9.3-14.3.3 11.4.3 6.1.3 8.8.3-12.2.4 10.8.3 4.6.3-18.7.3.7.3 4.3.3-3.6.3-1.2.3 6.1.3-5 .3-20.2.3 10.7.4 4.1.3 8.1.3 12.4.3-4.4.3 9.6.3-19 .3-.7.3 9.7.3-21.5.3 3.8.3 3.2.3 8.9.4-12 .3 9.9.3-3.1.3-6.4.3-2.9.3-2.8.3 9.7.3-5.2.3 5.3.3-4.9.3 2 .3 5.9.4 11.7.3-6.9.3-12.9.3 6.5.3 6.2.3 7.4.3-6.8.3 3.7.3 2.9.3-9.2.3 24.4.3-21.1.4.6.3-10.6.3 3.6.3 6.5.3 3.9.3 16 .3-15.5.3-20.1.3 11.3.3-1.5.3 1.1.4-.5.3 16.7.3-16.7.3 4.3.3.1.3 3 .3-2.8.3.7.3-1.1.3-4.5.3 19.3.3-14.7.4 1.4.3-2.3.3 6 .3-9.1.3-3.6.3 6.3.3-4.6.3 7 .3-4.9.3 4 .3 1.4.3-4.7.4-4.3.3 14.4.3 9.7.3-7.6.3-6.5.3-9 .3 9.5.3-2.9.3-7.3.3-1.3.3 16.7.3 1.3.4 1.7.3-.2.3-1.5.3-13.2.3-7 .3 11.4.3-8.1.3 15.3.3-19.2.3 17.6.3 11.2.4-13.7.3 4.7.3-20.4.3.1.3-15.2.3 20.1.3.9.3 9.4.3-4.1.3 5.5.3-11.4.3 17 .4-10.2.3 19.7.3-14.9.3-5.2.3-3.8.3 14.6.3-5.3.3 4.4.3-11.9.3 11.3.3 7.4.3-18.8.4-4.2.3 11.3.3-9.2.3 3.5.3-9.5.3 11.9.3 14.9.3-23.3.3 1.2.3 10.2.3-10.5.3 3.2.4-.7.3 6.2.3 3.1.3-9.7.3 1.5.3-2 .3 21.4.3-14.1.3-17.5.3 10.3.3-2.6.4 12 .3 4.1.3-5.1.3 2.6.3 2.1.3-14 .3 8.9.3 3.1.3-21.9.3 4.7.3 15.5.3-20.6.4-2.6.3 14.5.3-1.8.3 2 .3 5.6.3 11.7.3-15.8.3 7 .3-11 .3 18.1.3-4.2.3 11.4.4-14 .3 5.9.3 5.9.3-12.2.3 3.9.3-14.4.3 10.6.3-.2.3 4.2.3 1.1.3-11.6.3-1.8.4-2.4.3.9.3.1.3 14.7.3-14.5.3-.1.3 28.3.3-15.8.3-8.3.3.1.3 7.2.3-5 .4-1.9.3 7.7.3-15.7.3 9.6.3 5.8.3-10.5.3 17.3.3 3 .3-.6.3-4.4.3 15.2.4-18.1.3-8.3.3 9 .3-7.3.3-5 .3-1.6.3 23.9.3-13.8.3.5.3.7.3-7 .3 8.7.4-.8.3-4.7.3 3.9.3-7.8.3 6.5.3-.8.3 1.3.3-4.2.3 0 .3-7.8.3 22.4.3 1.5.4-11 .3-2.8.3 4.4.3 3.3.3-6.9.3.8.3-5.9.3-9.9.3 11 .3 1.3.3 6.3.3-9.9.4-4 .3 19.5.3-6.3.3 20.7.3-24.2.3 21.3.3-2.3.3-3.8.3-5.4.3 10.3.3-9.3.4 6.9.3 1.6.3-6.4.3-2.8.3.2.3-2.3.3 2.1.3-1.5.3 1.8.3 5.5.3.9.3-11.7.4 8.1.3-11.6.3-16.2.3 21.8.3-2.8.3-3.8.3 2.2.3-16.5.3 12.9.3 9.3.3-1 .3-17 .4 16.5.3-11.6.3 19.3.3-11.4.3 15.6.3-2.1.3-5.7.3 13.6.3-17.4.3-9 .3-1.3.3-4.2.4 8.9.3 7.7.3-1 .3-1.3.3 11 .3-19.6.3 16.5.3-20.3.3 7.9.3-1 .3 4.2.4 2.4.3-6.5.3-3.9.3 23.3.3-11 .3 4.4.3-7.3.3-.8.3 5.7.3-2.7.3-4.1.3 7.5.4-5.6.3-10.7.3 23.6.3-4.1.3 8.3.3-8.5.3-13.3.3 7 .3-13.5.3 17.9.3-7.3.3 1 .4-5.8.3 3.6.3-5 .3 9.1.3-3.6.3 6.8.3-15.5.3 2.4.3 11.5.3-2 .3 1 .3 6.1.4 9.2.3-27.9.3 6.3.3 2.3.3 20.1.3-16.7.3 6.6.3-13.9.3 12.9.3-8.1.3.8.3 9.1.4-7 .3-5.4.3.6.3 11.5.3-12.4.3-1 .3 2.9.3-5.8.3 1.3.3 3.8.3 2.3.4 23.8.3-20.2.3-2.5.3-5 .3-2.7.3 14.7.3.9.3-1.6.3 7.4.3-15.8.3-9.8.3 16.6.4-6.1.3-2.6.3 1.1.3 7.1.3 2.1.3-.6.3-1.1.3-1.3.3 3.5.3-12.3.3-3.1.3-14.3.4 36.3.3-8.4.3-11.7.3 8.5.3-3.1.3-1.7.3.1.3 2.3.3-2 .3-1.2.3-6.7.3-14.6.4 12.9.3 9.1.3 14.3.3-18.3.3-3.8.3 2.1.3 11 .3-12.4.3 8.9.3 5.1.3-8.8.4-1.1.3 9.8.3.3.3 5.6.3-15.4.3 10.3.3-3.3.3-8.6.3 9.5.3 7.4.3-21.2.3 11.1.4 15.5.3-29.5.3 10.9.3 1.5.3 2.7.3-7.4.3 10.7.3-2.4.3-15.9.3 8.6.3-6.5.3 4.3.4.6.3-4.6.3 5 .3 1.4.3-8.2.3.2.3 3.4.3 7 .3-10.8.3-15 .3 17.4.3 6 .4 10.7.3-7.1.3-12 .3-2.1.3 13.9.3-.8.3-14.3.3-4.4.3 21.9.3-22.5.3-6.3.4 10.9.3-4.6.3 11 .3-1.9.3-5.7.3 9.4.3-5.5.3 5.6.3-8.3.3 5.4.3 1.6.3 2.8.4-3.1.3-15.3.3 8 .3 8 .3 3.3.3-6.5.3.2.3-5.2.3 18.1.3 1.2.3 6.2.3-26.7.4 10.1.3-7.1.3 11.4.3-10.8.3 4.9.3.4.3-.3.3 3.2.3-18.9.3 12.4.3 6.3.3-6.7.4-.4.3-18.7.3 13.8.3-3.6.3 30.3.3-21.6.3-1.7.3 8.9.3-.9.3-7 .3-2.6.4-3.5.3-4.7.3 9.8.3-12 .3 5.1.3-3.3.3 2.6.3-13.2.3 14.5.3 4.1.3 1.5.3 6.4.4-4.5.3-1.6.3-5.9.3 3.4.3-4.1.3 19.2.3-16.3.3 10.8.3-8.4.3 5.5.3-1 .3-8.4.4-.4.3-2.2.3-14.8.3 23.1.3 6.7.3-8.7.3 3.9.3-7.3.3-1.4.3 5.7.3 3.8.3-7.4.4-12 .3 15.9.3.2.3 6.8.3-14.7.3 16 .3-18.8.3-3.1.3 9.7.3 11.5.3-8.2.4-11 .3 8.9.3-7.4.3 0 .3 1.6.3 15.2.3 3.2.3-7.5.3-14.9.3-6.1.3 16.5.3-7.5.4 3.6.3-4.9.3 13.8.3 2.2.3-14.2.3 3.8.3-12.4.3 23.6.3-12.3.3 4.4.3.4.3-1.4.4 2.7.3.7.3 2.1.3-10.9.3-4.2.3 14.5.3-8.1.3 1.3.3 13.5.3-1.5.3 2.7.3-15 .4 4.3.3-1.8.3-9.2.3 3 .3-8.5.3 16.3.3 5.8.3-4.7.3-11.8.3 8.2.3-4.1.3 2.9.4-16.4.3 16.7.3-12.2.3 3.7.3 9 .3 5.2.3-4 .3 2.9.3-1.3.3-2.5.3.1.4-1.2.3 9.9.3-.2.3-5.1.3-6.6.3 6.7.3-13.7.3 7.9.3 1 .3 6.6.3-5.7.3 7.5.4-13.6.3-4.4.3-1.1.3 14.1.3-11.6.3 4.4.3-5.4.3 14.8.3 3.6.3-13.1.3 1.5.3 3.8.4 9 .3-9.6.3-2.9.3-12.9.3 8.2.3-1.3.3 4.2.3-6 .3.3.3 5.1.3 12.6.3-22 .4-1.8.3 20 .3-6.2.3-3.9.3-.1.3-2.8.3 18.2.3.4.3-6.2.3 1.1.3-9.1.4 4.8.3-2 .3 2.9.3-14.2.3 12.3.3 11.5.3-11.9.3 12 .3-5.1.3 2.4.3-7.8.3-3.9.4 10.9.3-22.5.3.1.3-.2.3 4.3.3-5.2.3 7.6.3 8.9.3-3.2.3-11.2.3 2 .3 3.2.4 7.6.3-13.8.3 1.5.3-3.3.3 5.6.3 8.9.3-12.5.3-.3.3 9.3.3-6.3.3-9.3.3.9.4-1.4.3 5.5.3-5.1.3 5.5.3 28.6.3-27.9.3 2.5.3 5.3.3-3.7.3-1.7.3-7.1.4 9.7.3-7.7.3 6.9.3-9.3.3-4.1.3-1.4.3 5.9.3 3.5.3-7.6.3 8.5.3 2.9.3-7.7.4-3.2.3-8.2.3 16.5.3-6.1.3-2.8.3-8.3.3 8.1.3 1.5.3 1.1.3 6.3.3 9.9.3-18.9.4-1.3.3 19.6.3-7.9.3-7.5.3 4 .3-12.5.3 8.5.3-5.5.3-.5.3 12.7.3-.2.3 9.9.4-21.1.3-.1.3 10.4.3-10.7.3 15 .3-1.9.3-11.9.3 18.6.3-15.4.3 1.5.3 8.9.3 5.6.4 3.6.3-20 .3 21.4.3-9.4.3 8.4.3-3.8.3-6.6.3-2 .3 1.2.3-10.4.3.9.4-8.3.3 11.8.3 10.8.3-11 .3 13.1.3-2.4.3 0 .3-7.7.3 3.8.3 5.2.3-7 .3 4.6.4 11.5.3-22.1.3 18.9.3-9.8.3 6.1.3-12.5.3 1.8.3.4.3 8.9.3-1 .3-.2.3 3.3.4 8.3.3-15.8.3 16.8.3 3.3.3-4.2.3-12.7.3 1 .3-1.8.3 6.1.3 7.4.3 12.6.3-17.7.4-5.4.3-2.3.3 1 .3 4.8.3-.2.3-7.2.3-12.1.3 11.5.3 1.4.3 9 .3 1 .4-9.8.3-4.9.3.7.3 1 .3 8.5.3 1.1.3-8.1.3 2.7.3 14.9.3-8.3.3-3.4.3-9.6.4 22.9.3-34.6.3 13.5.3.5.3-7.7.3 1.7.3-1.1.3 10.9.3 2 .3-4.8.3 9.3.3 7.4.4-18.3.3-2.2.3-8.5.3 12.8.3-7.4.3 12.7.3-2 .3-2.9.3 14.3.3-11.4.3 4.4.3-4.5.4-1.3.3 11.6.3-4.9.3 1.6.3-13.7.3-6.9.3 7.7.3 9 .3 5.1.3 5.7.3-1.6.4-5.4.3-11.1.3 4.5.3 6.2.3-5.4.3-10.8.3-7.8.3-.9.3 6.8.3-5.8.3 9.6.3.5.4-1.8.3 3.5.3-5.1.3-7.3.3 21.3.3-15.8.3-2.7.3 3.9.3-5.4.3 15.5.3 8.4.3-2 .4 4.6.3-19 .3 7.1.3-16.4.3 13.7.3-6.4.3 3.1.3-2.8.3 8.7.3-15.9.3-4 .3 3.9.4 5.9.3-8.8.3-2.4.3 10.5.3-.1.3 4 .3-5.5.3-.9.3.1.3 1.3.3 1.5.4 5.5.3 5 .3 3.6.3-19.1.3-.2.3 3.1.3-3.7.3 2.5.3 5.4.3-4.9.3 14.2.3-12.5.4 8.8.3-2.2.3-1 .3-3.4.3-8.9.3 7.9.3 4.8.3 8.3.3 3.3.3-1.5.3 2 .3-.4.4-4.2.3 3.8.3 13.9.3-21 .3 14.9.3-12.8.3 2.5.3 7.9.3-8.2.3 3.8.3-14.5.3 4.1.4 9.2.3-9.7.3 12.4.3-4.4.3-7.2.3.6.3 3.5.3.3.3 13.8.3-1.8.3-14.5.4 16.8.3-17.4.3 15 .3-10.5.3-8.1.3 5.4.3 20.8.3-17.9.3-1 .3.3.3 12.2.3-3.5.4 3.8.3-.7.3-22 .3 21.8.3.1.3-5.8.3 13.4.3-4.2.3 9.2.3-15.5.3-22.6.3 18.1.4 6.8.3-3.3.3 3.7.3 1.9.3 1 .3-2.4.3-3.8.3 4.8.3-12.5.3 4.5.3 10.7.3 9 .4-9.2.3-8.5.3 10.8.3 1.8.3 5.5.3-1 .3-1.6.3-6.8.3-2.3.3 9.4.3-3.4.3 3 .4-7.2.3-8.8.3 14.7.3 10.5.3-10.4.3-7.3.3-2.3.3-1.6.3.8.3-4.1.3 11.4.4-5.7.3-12.1.3 10.9.3 2 .3 3.8.3 8.4.3-27.2.3 12.5.3 8.8.3 1.5.3-4.3.3 2 .4-14 .3 20.2.3-.7.3-14 .3-1.1.3 15.1.3-1.1.3 4 .3-9.1.3-10.1.3 25.8.3-29.5.4 14.1.3 3.2.3 1.5.3-.9.3 4.2.3-9.3.3 13 .3 1.4.3-11.6.3 13.7.3-11 .3-5.9.4 1.8.3 12.4.3-10.7.3-5.1.3 10 .3 9.7.3-7.1.3 15.2.3-18.7.3-1.9.3 10.8.4-6.4.3 15 .3-14.8.3-1.2.3 4.6.3-12.1.3 13.2.3-5.9.3 2.1.3 7.2.3-6.3.3 1.4.4-2 .3 3.2.3-12.9.3 8.9.3-9 .3 12.1.3-8.4.3.3.3 12 .3-9.1.3.2.3 5.6.4 5.4.3-10.9.3 5.9.3.4.3 10.3.3-15.7.3-5.5.3 4.6.3-6.8.3 5.9.3 4.2.3-10.3.4 19.3.3 10.9.3-29.2.3 24 .3-4.5.3-12.4.3-.9.3-11.1.3-3.6.3 9.4.3-1.3.4-2.3.3 7.7.3 4.1.3 2.3.3-13.5.3.8.3 18.4.3-5.7.3-7.8.3 10.5.3-5.3.3-11.7.4-1.4.3 15.6.3-13.4.3-8.6.3 25.4.3-1.5.3 2 .3-14 .3 7.6.3-15.7.3 3.5.3-5.7.4 9.3.3-18.3.3 29.2.3-16.4.3 1.7.3-3.6.3 14.3.3-14.2.3-7.9.3 5.5.3 2.8.3 0 .4 4.6.3-14.7.3 12.3.3-10.2.3-5.7.3 27.3.3-17.5.3-14.5.3 7.6.3-.5.3-4.9.3 14.8.4 4.8.3-7.5.3-1.4.3-7.3.3 12.6.3-15.2.3 4.3.3 15.6.3-6.4.3-5.6.3 1.6.4-2.5.3-3.1.3 4.2.3-1.8.3-2.3.3 3.6.3 2.2.3 14.8.3 7.3.3-16.4.3 1.3.3-4.7.4-.9.3-10.4.3 7.1.3-8.4.3.7.3 5.8.3-4.8.3.3.3 2.8.3 10.2.3 2.1.3-10 .4.4.3-8.1.3 13.7.3-1.8.3-1.8.3-2.1.3-5.2.3-5.2.3 9.8.3 1.6.3.6.3 13.5.4-10 .3 12 .3 7.8.3-17.9.3 12.3.3-16.4.3 6 .3 1.9.3 2.7.3-1.5.3-2 .4 2.3.3-7.3.3 7 .3-4.7.3 13.6.3-13.7.3 9.8.3.3.3-10.1.3.4.3-5 .3 15.1.4-6.9.3 13.3.3-12.2.3 9.9.3-5.2.3-3.5.3 13 .3-17.4.3 5.2.3 2.2.3 8.5.3-15.7.4 5.6.3 1.2.3-8.1.3 18.7.3-14 .3 13.5.3.6.3-13.7.3 4.2.3.1.3-13.1.3 3 .4 3.7.3 2.1.3-2.1.3 2.1.3 11.6.3 1.6" fill="none" stroke="#f0302e" stroke-width="1.5" stroke-linejoin="round" clip-path="url(#cF)"/>
<path d="M835.1 1499.6l.3 7.9.3-5.3.3 2.8.3-9.2.3 3.1.4 4.1.3-6.5.3 11.1.3-8.4.3-.1.3 17.8.3-5.3.3-8.2.3.1.3 3.4.3 8.1.3 2 .4-17.7.3 16.5.3-5.8.3-15 .3 17.4.3-3 .3.1.3-6.3.3 5.1.3 13.3.3.5.3-1.7.4 1.2.3 8.8.3-18 .3 10.9.3 1.8.3-11.2.3 4.5.3 15.4.3-12.1.3 9.4.3-7.8.3.5.4 9.7.3-9.2.3 10.5.3-13.6.3 10.4.3-1.8.3 26.2.3-15.8.3-17.3.3 7.9.3 3.2.4 13.8.3-23.6.3 4.5.3 9.5.3-16.4.3-3.2.3 4.9.3 2.8.3 2.7.3 19.6.3-6 .3 3 .4-7.6.3-2 .3-6.8.3 8.7.3 12.1.3-23.6.3 6.6.3 14.1.3-3.8.3-1.8.3-3.3.3 0 .4-.1.3 9.7.3-24.9.3 18.3.3-2.1.3 5.4.3 13.3.3-16.9.3 6.3.3-7.3.3 5.7.3-18.8.4 15.4.3 10.8.3-8.1.3-2.7.3-1.9.3-3.7.3-.5.3-3 .3 1.8.3-13.4.3 6.9.4 1.3.3 6 .3-10.3.3 16.6.3 19 .3-2.2.3-7.1.3 1.8.3-3.3.3-8.8.3 2 .3 3 .4-5.1.3 3.7.3 1.4.3-13.9.3 11.9.3 6.7.3-7.3.3-23 .3 16.9.3-10.8.3 8.5.3 8.7.4-12.2.3.2.3-4.3.3 18.4.3 1.7.3-16.7.3 13.2.3 3.2.3-4.5.3-4.3.3-7.1.3 6.3.4-13.9.3 20.5.3-9.2.3-3.5.3 6.5.3-13.5.3-4.8.3 20.3.3 1.8.3-8.8.3-1.4.3 10.7.4 7.3.3-12.4.3 8.4.3-1.6.3-3.3.3-1.6.3 6.5.3-1.5.3-18 .3 7.2.3.2.4-8.9.3 5.8.3 8.4.3 15.2.3-18.9.3 9.8.3.5.3 6.8.3-11.6.3 7.2.3-3 .3-11.7.4 3.8.3-.1.3-8 .3 23.5.3-9.6.3 5.9.3-2 .3-15.1.3 8.3.3 11.7.3-1 .3 5.2.4-16.8.3 19.7.3-6.8.3-21.2.3 6.7.3 12.2.3 7.4.3-10.8.3-4.3.3 12.4.3-1.1.3-10.9.4.7.3 2.7.3 6.4.3 7.5.3-2.3.3 12.1.3-16.9.3 9.7.3-8.8.3-4.1.3 9.4.4-6.7.3 3 .3 4.3.3-1.3.3 4.4.3-5 .3-2.2.3 1.3.3-3.5.3-9 .3 7.5.3-12.6.4 10.4.3-1 .3 4.3.3-6.1.3 4.6.3-8.9.3 16.2.3-12.5.3 8.1.3-9.4.3 22.8.3-11 .4-2.9.3 11 .3-2.1.3-9.2.3 13.7.3-6 .3 10.3.3-14.1.3 7.8.3-2.1.3-10 .3-1 .4 17 .3-.8.3-6.9.3 19.6.3-16.9.3-14 .3 9.9.3-1.2.3 2.7.3.1.3 6.1.4-3.2.3-1.3.3 15 .3-21.5.3 9.8.3 7.1.3 6.5.3-14.2.3-6.7.3 11.2.3 4.4.3-8.1.4 7.5.3-11.3.3 18.6.3-2.5.3-5.7.3 1.2.3 4.3.3 6.4.3-16.9.3 9.9.3 5.7.3-12.5.4-1.8.3 8.6.3 2.6.3-11.8.3 3.2.3 2.4.3-1.9.3-6.2.3 6.9.3 1.3.3.3.3.4.4-13.9.3 11.5.3 7.4.3 5 .3-8.3.3-2.8.3 6.5.3 8.8.3.7.3-8.9.3-11.4.3 8.3.4-11.5.3 6.6.3 11.3.3-9.8.3 9.6.3-3 .3-5.3.3 1 .3.5.3 5.7.3 4.1.4-3.4.3 8 .3-4.8.3 5.2.3-2.4.3-12.2.3 15.4.3 6.3.3-9.7.3-4.8.3 18.1.3-7.7.4 3.1.3-3.9.3 19.3.3-10.6.3 1 .3-6.5.3 11.7.3.7.3-11.8.3 24.1.3-14.9.3 5.4.4 7.9.3-22 .3 20 .3 2 .3.2.3-7.5.3 12.1.3.3.3-6.6.3 4.9.3 6.8.3-5.4.4-17.2.3 1 .3-9.1.3 13.9.3-8 .3 10.1.3-8.7.3 3.3.3-8.2.3-4.3.3 5.8.4 1.7.3 1.3.3-5.3.3 10.9.3 13 .3-10.3.3-1.7.3-2.2.3-5 .3 6.7.3-3.9.3.4.4-4.4.3 22.4.3-22.9.3 10.6.3-17 .3 11.4.3 6.1.3-5.2.3 3.8.3 3.6.3-2.2.3-3.4.4 6.9.3-.6.3-8.5.3 11.4.3 1 .3 4.8.3-8.5.3 3.2.3-2.1.3-1.8.3 2 .3-4.6.4-8 .3 16.8.3-12.3.3 16 .3-22.2.3 23.4.3-5.8.3 1.2.3-8.6.3 8 .3-2 .4-7.2.3.3.3-4.2.3-6.3.3 11.4.3-25.9.3 17.4.3 2.6.3 6.1.3-.6.3-17.7.3 19.6.4 7 .3-9.3.3-2.6.3 5.2.3-2.5.3-1.4.3 2.4.3-2.1.3.5.3 7.4.3-5.1.3 9 .4-16.1.3 18.7.3-10 .3-1.4.3-1.4.3-3.3.3-8.5.3.7.3-.1.3 11 .3-8.3.3 9.7.4 3.6.3 7.4.3-8.8.3-5.3.3-17.6.3 25.9.3-1 .3-15.3.3 13.7.3-1.5.3-3.9.4-3.5.3 7.1.3 15.4.3 1.2.3-14.3.3-3.5.3 4.7.3.7.3 2.5.3-1.4.3-1.8.3 3.1.4-12.6.3 5.9.3-5.3.3 3.6.3 10.3.3-3.6.3-5.8.3-10.4.3 4.6.3 2 .3 5 .3-3.7.4 14.1.3 7.3.3.6.3-1.8.3 3.6.3-9.9.3-1.6.3-7 .3-9.6.3 14.4.3-10.7.3 12.7.4 1.7.3-7.5.3-10.3.3 21.4.3-5.8.3 6 .3-8.8.3-9.8.3 4.2.3 11.3.3-7 .4 14.1.3-8.8.3 2.6.3 13.2.3-22.5.3 3.6.3 8.6.3-14.7.3-.5.3 3.4.3-7.9.3 19.8.4-17.6.3 3.1.3 5.3.3 8.2.3-5.8.3-9.2.3.4.3 3.8.3 1.7.3-3 .3-5.5.3-1.5.4 15.6.3.6.3 3 .3 10 .3-.1.3-7.9.3 7.1.3-5.2.3 12.8.3-23.2.3 7.1.3-3.5.4-13.5.3 16.6.3 6 .3.9.3-10 .3 4.5.3-16.7.3 6.3.3 5.2.3 9.7.3 1.1.3-3.4.4-8.5.3 14.8.3-10.9.3-5 .3 4.6.3 5.9.3-15.6.3 9.3.3-5.2.3-11.7.3 8.6.4-4.5.3-2 .3 14.7.3-2.9.3 6.1.3-2.1.3-2 .3 9.6.3-8.9.3 8.6.3 10.5.3-13.7.4 5 .3 3.5.3-6 .3-2.8.3 4.2.3 6.4.3-9.5.3-10.8.3.2.3 10.7.3 3.5.3-1.1.4-7.2.3 14.2.3 6.8.3-15.7.3 1.8.3 13.4.3-11.1.3-16.1.3 6.1.3 6 .3 7.2.3-2.8.4-14.1.3 15.2.3-9.6.3 4.3.3-2.7.3 18.6.3-7.3.3-15.3.3 3.9.3-6.6.3 14.1.4-15.1.3 5.7.3 13.3.3-8.6.3 10.6.3-12 .3.4.3-6.6.3-3.2.3 22.2.3-7.1.3 13.5.4 4.4.3-9 .3-6 .3-6.6.3 1.6.3-5.9.3-5.8.3 3 .3.3.3 19.1.3-9.9.3 6.2.4-.6.3 5.3.3-3.8.3-5.8.3 19.3.3-19.6.3-2.2.3 11.7.3 1.3.3-10.2.3 5.6.3 13.8.4-13.7.3-.6.3.6.3-5 .3 12.7.3-1.5.3-.9.3-5.6.3-6.2.3-6.1.3 18.9.4-13.2.3 12 .3-16.8.3 13.3.3-1.2.3-10 .3 10.7.3-9.9.3 7.6.3 3.3.3-1.8.3 5.6.4-3.1.3-9.9.3 13.4.3-18.9.3 18.2.3-.1.3 10.1.3-15.5.3 6.3.3 6.2.3-3.6.3 1.4.4 8.8.3-10.3.3-1.4.3 8.3.3-2 .3-6.2.3-8.1.3-3.8.3 5.9.3-7.3.3 7.6.3-6.2.4 10.3.3-3.1.3 2.2.3 7.6.3-4.9.3-2 .3 7 .3-5.9.3 3.5.3-6.4.3 6.1.3 4 .4-5.5.3 12 .3-12.6.3 6 .3-4.9.3 3.7.3-5.2.3 13.1.3-12.5.3-8.3.3 14 .4-3.9.3-6.3.3 12 .3-3.2.3-5.6.3 14.4.3-11.8.3-.6.3 1.4.3 4.1.3 2.5.3-8.1.4 12.3.3-.4.3-11.3.3 16.5.3-17.4.3 4.7.3-9.2.3 6.5.3 14.1.3-18.3.3 1.7.3 1.7.4 14.3.3-14.7.3 9.9.3-13.2.3-.9.3 5.9.3-8.8.3 19.2.3-9 .3-4.1.3 8.5.3-7.9.4-2 .3 9.4.3 3.6.3 4.9.3-9.8.3 11.8.3-13.8.3 9.3.3 4 .3-7.9.3 7.2.4-2.5.3-1.9.3 2.9.3-9.3.3 2.1.3-.1.3 16.5.3-6.4.3-9.2.3 1.5.3 18.4.3-11.9.4-.5.3-5.3.3-.8.3 1.9.3-9.2.3 7 .3-15.3.3 13.6.3 2.6.3-2.9.3-2.1.3 10 .4-8.8.3 3.9.3 9 .3-14.6.3-6.7.3 14.1.3-7.7.3 16.8.3-18.2.3 23.5.3-13.4.3 8.9.4.6.3-2.7.3-12.3.3-5.2.3 7.7.3-3.2.3-11.1.3.8.3 14.8.3 4.3.3 1.1.4-15.6.3-3.5.3 12.6.3-1.6.3 1.3.3-15.5.3 13.9.3-13 .3 7.5.3-1.5.3 2.5.3-18.9.4 30.5.3-13.5.3-21.4.3 18.4.3-.7.3 8.2.3-10.1.3-1.3.3-4.1.3 13.5.3-9.3.3 3.6.4-1.9.3-6.2.3 18 .3-.3.3-9.9.3 9.4.3-6.7.3-15.4.3 6.9.3 10.9.3-1.5.3-5 .4-5.9.3 13.7.3-6 .3-15.4.3 5.7.3-2.2.3 11.6.3-6.2.3 2.1.3 10 .3-4.4.4-12 .3-5 .3 13.8.3.6.3 6.9.3-8.1.3-6.6.3-.1.3-21.2.3 15.1.3-.6.3 4.2.4 10.9.3 2.5.3 1.9.3-13.9.3 1 .3-3.9.3-10.3.3 9.8.3 17.6.3-5.4.3-7.8.3 13.7.4-6.8.3-7.6.3 1.8.3 2.5.3 5.9.3-14.6.3 2.4.3-.4.3 11.1.3-8.8.3-.1.3-11.1.4 28 .3-5 .3-3.4.3.9.3 3.9.3-10.4.3-2.3.3 14.9.3-18.9.3 7.7.3-2.1.4-2.8.3-3.4.3-8.9.3 9.9.3-5.6.3-3.7.3 13.3.3-6.1.3-3.8.3 6.1.3-6.8.3 20.9.4-8.2.3-2.1.3-12.9.3 6.4.3 11.1.3-17.3.3 14 .3-4.2.3-10.8.3 11.2.3-1.1.3-6.7.4 2.3.3 1.9.3 19.4.3-16.1.3-2.8.3-6 .3 9.4.3-8.1.3 15.8.3-5 .3 10.2.3-5.4.4 7.7.3.2.3-23.4.3 5 .3-5.5.3 11.8.3 2.9.3-8.2.3 14.3.3-7.4.3-4.8.3 12.2.4 2.2.3-11.5.3-.4.3-13.2.3.1.3 2.4.3 5 .3 7.7.3 2.5.3-7.5.3-18.3.4 23.6.3-6.8.3-8.1.3 16.5.3-3.5.3-.2.3 10.9.3-17 .3-3.2.3 15.3.3-2.8.3-.8.4 9.3.3-2.9.3-20.8.3 5.3.3-4.5.3-12.4.3 9.8.3 1.4.3 4.4.3-5.9.3 20.5.3-23.6.4 7.2.3 5 .3 2.5.3.2.3-4.9.3 4.2.3-5 .3 5.1.3-6.3.3-7.8.3 7.2.3 8.2.4 2.2.3 4.5.3-5.5.3-3.6.3 2.3.3 10.6.3-15.8.3 2 .3-3.1.3-5 .3 25.6.4-15.6.3 3.7.3-5 .3 8.7.3-4.9.3-11.4.3 14.9.3-11.6.3 3.3.3-10.4.3 8.7.3-1.6.4-.8.3 1.8.3 18.2.3-1.7.3-18.1.3 12.7.3-1.2.3.9.3 2.3.3-16.3.3-.2.3-5.2.4 4.1.3 20.1.3.1.3-8 .3 7.4.3-2.7.3 3.6.3-5.8.3-10.5.3 16 .3-12.6.3-3.9.4 3.2.3 11.8.3-8.5.3 8.9.3-18.1.3 28.9.3-21.1.3 9.3.3-2.6.3-.7.3 3.3.4 4.5.3-7.6.3-.7.3 4.1.3-14.9.3-.8.3 9.5.3 3.3.3 9.2.3-4.9.3-8.2.3-5.8.4 16.2.3 4.2.3-15.6.3 20.9.3-1.9.3-14.7.3-.6.3-4.8.3 2.1.3-.9.3.2.3 9 .4-2 .3-.5.3-5.3.3 5.1.3 10.1.3 2.1.3-11.4.3 6.8.3-4.6.3-7.5.3 11.9.3-2.7.4 1.5.3-8.6.3-3.3.3 13.1.3-.9.3-2.1.3 3.8.3-10.2.3 15.1.3-2.3.3-20 .3 20.6.4 3.4.3-5.6.3-9.6.3-2.5.3 11.2.3 10 .3-20.3.3 5 .3 9.9.3-6.9.3 1 .4 2.3.3 2.7.3-5.3.3-1.3.3-6.2.3-1.7.3 2.6.3 13 .3-21.7.3 20.6.3-8.6.3-10.4.4 27 .3-12.2.3 1 .3-12.7.3 17.5.3-4.6.3-19.4.3 16.2.3-9.6.3 12.6.3-8.4.3 11.2.4-6.9.3 3.9.3 6.5.3-3.8.3 9.2.3-.1.3-17.1.3 7.5.3 11.4.3-14.9.3-10 .3 17.8.4-.4.3.6.3-2.4.3 9 .3-.4.3 4.8.3-8.1.3-3.4.3-16.5.3 19.7.3 2.8.4-7.7.3-1.8.3-1.9.3 8 .3-15.2.3 6.6.3 3 .3-.1.3 10.2.3-1.9.3-.3.3-10.6.4-8.4.3 10.1.3-1.5.3 1.7.3-4.7.3 9.2.3-5.9.3 18.6.3-6 .3-9.1.3-.9.3-.8.4 15.8.3-11.9.3-7.9.3 8.3.3-8.4.3-.5.3 11.5.3 4.4.3-12.4.3 10.4.3-9.4.3-1.5.4-2.5.3-.7.3-1.5.3 2.1.3 12.9.3-8.1.3-4.2.3-13 .3 19.9.3 8.7.3-20.7.4 16.9.3-9.5.3 4.3.3 6.3.3 11.1.3-13.2.3-6.8.3 16 .3-1 .3 12.2.3-9.3.3.3.4-14.9.3-2.9.3-.1.3 7.6.3 4.6.3-6.5.3-7.7.3 4.6.3-7.9.3 14.2.3 2.5.3-7.5.4-13.1.3 6.7.3 2.6.3 0 .3-7.7.3 5.3.3 11.6.3-2.3.3-1 .3-2.2.3-5.2.3 5.3.4 13 .3-18.9.3 10.9.3-15.7.3.3.3 12.4.3 8.1.3-3.7.3-17 .3 5.1.3-1.1.4 11.3.3-10 .3.4.3 9.1.3-3.5.3 9.3.3-9.3.3.4.3 10.5.3-8.5.3 15.4.3-15.5.4-9.3.3 6.9.3-7.9.3 1.3.3-4.3.3 6.1.3 1.5.3-10.4.3-1.1.3 7.8.3-1.1.3 11 .4-18.8.3 15.8.3-3.1.3 16.7.3-4.3.3-3.1.3-13.7.3 4.7.3 8.5.3-8.8.3 4.9.3-6.5.4 11 .3-4.6.3-18.8.3 22 .3-18.3.3.1.3-6.4.3 9.6.3.8.3-1.9.3 9.7.4 2.9.3 6.9.3-18.7.3 15.5.3 1.6.3 1.3.3-16.1.3 6.4.3-10.1.3 5.1.3-8.3.3 11.8.4 3.2.3-1.7.3-6.5.3 2.7.3-9.7.3-1.3.3 26.7.3-22.1.3 5.4.3-4.2.3 3.6.3-4.5.4-1.9.3 1 .3-2.5.3 1.7.3 4 .3 7.3.3-9.6.3 12.2.3.6.3-5.3.3 7.2.3-10.2.4-4.9.3 3.3.3-4.8.3-.7.3 6.2.3-1.3.3-3.4.3-1.9.3 1.1.3 10.1.3-19.8.3 10.2.4 3.2.3 16.5.3.8.3-9.4.3 2.5.3-11.3.3-.4.3 1 .3 17.5.3-16.7.3.6.4 13.2.3-19.6.3 4.6.3-.9.3 14.7.3-1.1.3 3.6.3-2.5.3-2.7.3 6.8.3.8.3-6.4.4.7.3.2.3-.3.3-1 .3-5.6.3 8.2.3 8.1.3 2.5.3 2.4.3-2.8.3.3.3-8.1.4-4.3.3 3.7.3-1.3.3 3.2.3 9.7.3-17.3.3 2.5.3 5.7.3-7.5.3 11.2.3 3 .3-19.6.4 6 .3 12.6.3-.6.3 6.3.3-9.3.3.6.3.8.3 6 .3 1.4.3-2.7.3-2.5.4 3.1.3 12.1.3-9.7.3.6.3 6.3.3-19.1.3 6.9.3-4.3.3 18.3.3-15.4.3-7.1.3 7.5.4.9.3-7.2.3 14.3.3-15.1.3 10.6.3 10.6.3-9 .3-10.9.3 4.5.3-4.2.3 8.9.3-9.7.4 13.2.3-4.1.3 3.8.3-7.3.3 12.8.3-1.4.3-15.9.3 2.1.3-5.3.3 10 .3-8.1.3 2.4.4 2.5.3 4.6.3-5.3.3 14.3.3-9.4.3-9.1.3 4.9.3-8.6.3-4.1.3 8.7.3 4.3.4 9 .3-1 .3-4.2.3 6.3.3-8.7.3 6.5.3-7.3.3 7.3.3-.6.3-15.9.3 6.1.3 17.4.4-18.1.3-2.9.3-1.3.3-4.7.3 4.6.3 2.7.3-3.1.3 7.1.3 4.2.3-3.8.3 4.3.3 10.9.4-26.8.3 11.2.3 10.8.3 6.8.3-15.5.3 3.3.3-6 .3 9.5.3 6.9.3-4.6.3-11.7.3 8.9.4.9.3-6 .3-2.8.3 10.5.3-.1.3 1.5.3-11.4.3 2.3.3-9.3.3 7.5.3 3.9.3 7.4.4-.9.3-3.6.3-12.6.3-.7.3-.5.3 8.1.3 7.7.3 1.9.3 8.3.3-8.1.3 4.8.4-1.1.3-16.6.3 11.9.3-24.8.3 10.2.3-.5.3 9.3.3-9.3.3 1.3.3 6.4.3 6.5.3-15.6.4-8.4.3 12 .3 11.4.3-1.7.3.3.3 9.8.3 1 .3-8.1.3-7.3.3 11.4.3 5.5.3-16.8.4 18.4.3-14.6.3 11.5.3 6.7.3 3.8.3-22.3.3-11.3.3 5.6.3 12 .3-4.8.3-3.4.3 8.5.4-6.8.3 4.7.3 5 .3-10.7.3-8.6.3 27.7.3-25.8.3-4.1.3 7.4.3-1.1.3 8.6.4-7.6.3-1.4.3 8.3.3-6.9.3 7.3.3 1.9.3-10.4.3.3.3 10.4.3-11.3.3-.4.3 12.6.4-12.4.3 17.4.3-10.3.3 5.6.3-2.4.3 2 .3-12.7.3 4.9.3 1.5.3-11.5.3 35.1.3-33.8.4 1.6.3 4.7.3 2.9.3-6.6.3-12.5.3 11.3.3 4 .3 11.1.3-5.4.3 16.1.3-3.3.3-2.3.4-11.5.3 13.5.3-13.4.3-2.4.3 1.8.3-16.3.3 9.2.3 18.5.3-4.7.3-16.7.3 15.7.4-3.5.3 3.2.3 1 .3.8.3-1.1.3 8.4.3-6.6.3 4.7.3-7.4.3-10.6.3 15.6.3-17.3.4.7.3 2.9.3 15.1.3-17.8.3-6.6.3 4.4.3 22.5.3-13.9.3-4.9.3-.1.3 1.8.3 9.3.4-21.7.3 14.3.3-9.1.3 13.9.3 10.8.3-8.9.3 9.9.3 6.1.3-1.7.3-4.5.3-13.8.3 5.4.4-1.8.3-5.8.3 24.7.3-13.7.3-5.9.3 2.6.3-3.5.3 6.4.3-1.6.3 7.9.3-1.6.4-5.4.3-1.9.3 10 .3.8.3-12.1.3 7.1.3 2.4.3-7.9.3-4.2.3-.8.3 10.4.3 4.8.4-4.6.3-6.1.3 8.3.3-13.2.3 3.1.3 5.4.3-9.3.3 10.1.3-17.7.3-.6.3 11.4.3-17.7.4 12.2.3 15.8.3-7.2.3-13.7.3 15.7.3-6.1.3 8.8.3-18.5.3 9.2.3 12.7.3-4.9.3-6 .4 13.2.3-10.4.3-.7.3-6.8.3-14.3.3 8.4.3 1.6.3 16.7.3 6.7.3 4 .3-13.4.4.3.3-3.7.3-12.7.3 4.8.3-2 .3 5.5.3 13.4.3-5.7.3-.1.3 6.5.3-2.9.3 7.3.4 2.2.3-18 .3 11.5.3 1.2.3-.2.3 5.8.3-4.1.3.7.3 8.3.3-2.7.3-2.4.3-8.3.4 3.2.3 14.7.3-.3.3-10.2.3 4.4.3-11.3.3-.5.3 13.8.3-11.1.3 16.8.3 4.2.3-3.7.4 2 .3-8.9.3-3.1.3-13.3.3 2.8.3 4.9.3-6.9.3-15.4.3 7.3.3-6.1.3 3.3.3 14.6.4-1.6.3 9.5.3-3.2.3-9.5.3 9.4.3-2.7.3-3.3.3-8.2.3 4.8.3-1 .3 5.3.4 1 .3 7.3.3-10.5.3-3.1.3-8.2.3 9.6.3-5.3.3 1.7.3 10.3.3 10.9.3-7.5.3-5 .4-9.8.3-18.3.3 3.7.3 2.2.3 8.2.3 15 .3-9 .3-9.1.3 8.6.3-6.6.3-16.1.3 7.9.4-6.2.3 11.8.3-1.1.3 16.4.3-8.5.3-14.4.3 4.4.3.3.3 7.5.3-10.8.3 2.7.3-6.6.4 16.9.3.2.3-16.3.3 20.7.3-13.4.3-6 .3 4.3.3 2.9.3-7.5.3-1.6.3 12.1.4 5.8.3-1.6.3 1.9.3-25.8.3 28 .3 0 .3-19.8.3 2.4.3.4.3 3.7.3-5.3.3 5.6.4-.5.3 4.5.3-10.7.3 17.1.3-19 .3 10 .3 1.3.3-11.2.3 10.3.3-2.5.3-5.1.3.9.4 11.9.3-13.8.3 4.8.3-1.1.3-7.9.3 1.5.3-12.4.3 26.5.3-14.3.3 5.1.3.9.3-11.2.4 11.5.3-11.7.3-1.4.3-1.6.3 6 .3.6.3-10.6.3 15.2.3-11.7.3 5.3.3 12.5.4-13.7.3 5.3.3-8.4.3 9.9.3 1.4.3 6.7.3 11.8.3-28.5.3 9.7.3 10.3.3-5.3.3-5.7.4-6.9.3 18 .3 12.7.3-24.4.3-15 .3 14.8.3 7.8.3 10.7.3-7.8.3-11.4.3-5 .3 17.3.4 4.7.3 3.3.3-6 .3-5.7.3-16.3.3 13 .3 10 .3-11.9.3 1.1.3-6.4.3 20.9.3-12.4.4-7.1.3-4.2.3 5 .3 12.4.3-4.2.3 5.7.3-7.5.3 2.2.3-4.8.3 7.2.3-7.5.3-1.3.4 5.3.3-14.1.3 9.9.3-1.7.3 18 .3 2.8.3-2.6.3-17.5.3-.6.3 5.9.3-1.1.4 9.7.3 14.5.3-19 .3-11.1.3 1.6.3-5 .3 10.5.3 7.6.3-8.6.3-7.9.3 19.2.3-20.7.4 18.2.3-8.8.3 2.7.3 20 .3-7.6.3-8.9.3-1.8.3-10 .3-.1.3 9 .3 2.8.3-5.5.4-4.7.3-2.7.3 6.1.3-6.6.3 16.5.3-12.9.3-3.2.3 4.1.3 4.9.3-2.3.3 7.1.3 10.1.4-20.8.3-1.4.3-.7.3 16.3.3-4.8.3 0 .3 15.9.3-5.9.3-2.1.3 2.6.3 2.4.4-17.5.3 12.3.3-11.5.3 16.4.3-10.8.3 11 .3-16.5.3 8.4.3-4.8.3-1.2.3-11.5.3 5.6.4 10.3.3-7.3.3-4.6.3 9.6.3-8 .3 14.1.3-11.2.3 6 .3-10.3.3 5.8.3-4.2.3.5.4 21 .3-11.3.3 9.2.3-9.2.3-2 .3 11.5.3 3.3.3-18.4.3 24.2.3-6.4.3-7.6.3-9.3.4-1.2.3 10.9.3-8.5.3-1.4.3 11.9.3-16.7" fill="none" stroke="#3d78ea" stroke-width="1.5" stroke-linejoin="round" clip-path="url(#cF)"/>
<g stroke="#000" stroke-width="2" fill="#000"><line x1="835.10" y1="1791.00" x2="835.10" y2="1801.00"/>
<text stroke="none" transform="translate(835.10,1823.60) scale(0.93,1)" text-anchor="middle" font-size="23.5">0</text>
<line x1="896.80" y1="1791.00" x2="896.80" y2="1796.00"/>
<line x1="958.50" y1="1791.00" x2="958.50" y2="1801.00"/>
<text stroke="none" transform="translate(958.50,1823.60) scale(0.93,1)" text-anchor="middle" font-size="23.5">20</text>
<line x1="1020.20" y1="1791.00" x2="1020.20" y2="1796.00"/>
<line x1="1081.90" y1="1791.00" x2="1081.90" y2="1801.00"/>
<text stroke="none" transform="translate(1081.90,1823.60) scale(0.93,1)" text-anchor="middle" font-size="23.5">40</text>
<line x1="1143.60" y1="1791.00" x2="1143.60" y2="1796.00"/>
<line x1="1205.30" y1="1791.00" x2="1205.30" y2="1801.00"/>
<text stroke="none" transform="translate(1205.30,1823.60) scale(0.93,1)" text-anchor="middle" font-size="23.5">60</text>
<line x1="1267.00" y1="1791.00" x2="1267.00" y2="1796.00"/>
<line x1="1328.70" y1="1791.00" x2="1328.70" y2="1801.00"/>
<text stroke="none" transform="translate(1328.70,1823.60) scale(0.93,1)" text-anchor="middle" font-size="23.5">80</text>
<line x1="1390.40" y1="1791.00" x2="1390.40" y2="1796.00"/>
<line x1="1452.10" y1="1791.00" x2="1452.10" y2="1801.00"/>
<text stroke="none" transform="translate(1452.10,1823.60) scale(0.93,1)" text-anchor="middle" font-size="23.5">100</text>
<line x1="825.10" y1="1791.00" x2="835.10" y2="1791.00"/>
<text stroke="none" transform="translate(818.50,1797.90) scale(0.93,1)" text-anchor="end" font-size="23.5">200</text>
<line x1="830.10" y1="1707.97" x2="835.10" y2="1707.97"/>
<line x1="825.10" y1="1624.93" x2="835.10" y2="1624.93"/>
<text stroke="none" transform="translate(818.50,1631.83) scale(0.93,1)" text-anchor="end" font-size="23.5">250</text>
<line x1="830.10" y1="1541.90" x2="835.10" y2="1541.90"/>
<line x1="825.10" y1="1458.87" x2="835.10" y2="1458.87"/>
<text stroke="none" transform="translate(818.50,1465.77) scale(0.93,1)" text-anchor="end" font-size="23.5">300</text>
<line x1="830.10" y1="1375.83" x2="835.10" y2="1375.83"/>
<line x1="825.10" y1="1292.80" x2="835.10" y2="1292.80"/>
<text stroke="none" transform="translate(818.50,1299.70) scale(0.93,1)" text-anchor="end" font-size="23.5">350</text>
<rect x="835.10" y="1292.80" width="617.00" height="498.20" fill="none"/>
<text stroke="none" transform="translate(1143.60,1864.30) scale(0.945,1)" text-anchor="middle" font-size="27.5">Time (ns)</text>
<text stroke="none" transform="translate(775.50,1541.90) rotate(-90)" text-anchor="middle" font-size="26">Hydrophobic SASA/nm<tspan font-size="18.5" dy="-10">2</tspan></text></g>
<line x1="1312.5" y1="1312.00" x2="1355.3" y2="1312.00" stroke="#383838" stroke-width="1.6" opacity="0.8"/>
<text x="1360.1" y="1318.20" font-size="18.7">AGHDDFP</text>
<line x1="1312.5" y1="1335.40" x2="1355.3" y2="1335.40" stroke="#f0302e" stroke-width="1.6" opacity="0.8"/>
<text x="1360.1" y="1341.60" font-size="18.7">GYDTF</text>
<line x1="1312.5" y1="1358.80" x2="1355.3" y2="1358.80" stroke="#3d78ea" stroke-width="1.6" opacity="0.8"/>
<text x="1360.1" y="1365.00" font-size="18.7">NGYDMR</text>
<text transform="translate(828.5,1276.0) scale(0.9,1)" font-size="29.5">F</text>
<path d="M84.5 2052.8l.3 2.2.3-.6.3 2.6.3-3.4.3-8.3.4 0 .3 1 .3 27.6.3-15.8.3.1.3-1.7.3-2.4.3 16.6.3 14.9.3-2.3.3-6.8.3-1.2.4 4 .3-18 .3 17.3.3-4.1.3-6.5.3 17.8.3-12.1.3-2.4.3 16.9.3-.8.3.6.3-9.6.4-1.8.3 26.8.3-13.5.3 5.1.3-25.1.3 5 .3 1.9.3 16 .3-7.6.3.7.3 18.2.3-7.1.4-6.2.3 11.9.3-16.9.3 19.2.3-33.4.3 31.2.3-8.5.3 25 .3-9.2.3 29.3.3-20.1.4 3.7.3 14.7.3 6.1.3-32.6.3 16.3.3 2.8.3-28.4.3 29 .3-28.2.3 35.8.3-4.8.3 2.7.4-16.5.3 19 .3-17.9.3 4.6.3.8.3 10.8.3-34 .3 8.5.3 20.9.3 17.8.3-18.6.3-1.8.4 7.3.3-5 .3 11 .3 1 .3 3.2.3-3.4.3-5.2.3-1.8.3 3.9.3.1.3 3.2.3-3.5.4-1.9.3-8.2.3 3 .3-3.7.3 23.7.3-2.8.3-7.5.3-9.4.3-2.7.3-4 .3 7.3.4 23.5.3 2.8.3-9.3.3-21.3.3 14.2.3 15.4.3 15.8.3-43.6.3 14.5.3-6.6.3-.9.3 16 .4-10.7.3 18.7.3-42.3.3 39.7.3 7.2.3-12.1.3-3 .3 9.8.3-38.4.3 8.9.3 16.9.3 12.6.4-11.3.3 7.5.3-7.8.3 4.6.3 2.2.3 15.9.3 8.3.3-1.4.3-26.2.3 5.3.3 3.9.3 3.9.4-2.5.3 5.3.3 6.1.3 4.5.3-18.1.3-7.4.3 18.4.3.3.3-9.9.3 13.3.3-9.5.3-7.9.4-5 .3 28.1.3-3.5.3-30.7.3 24.2.3-18.6.3 25.6.3-6.6.3.2.3 4.8.3-1.6.4-21.6.3 23.6.3-13.7.3 18.6.3 3.9.3-7.7.3 1.3.3-6.7.3 0 .3-1.3.3 10.7.3-27.3.4 18.2.3 1.6.3-12.2.3 7.3.3 5.9.3 13.7.3-19.6.3.3.3 13.9.3-1.2.3 9.5.3-17 .4 7.7.3-16.8.3 22.5.3 3.2.3-4.8.3-34.8.3 4.1.3 15.4.3 3.7.3-22.6.3 19.3.3-6.5.4-1 .3 1.9.3-.4.3-2.9.3 10.9.3 17.7.3-.8.3-31.7.3 26.6.3 17.6.3-33.2.4 12.4.3-8.6.3 5.6.3 8.1.3-9 .3-18.7.3 26.5.3-20.3.3 8 .3 27.6.3-19 .3 16.5.4-2.2.3-28.5.3 37 .3-10.7.3 7.1.3-2.2.3-19.3.3 19 .3-14.8.3 22.4.3-13.2.3 3.3.4-15.3.3 5 .3 13.8.3-12.7.3-8.2.3-1 .3 6.7.3-6.2.3-2.4.3-6.8.3 14.4.3 9.1.4-12.1.3 7.2.3-4.3.3-1.1.3 4.1.3 7.2.3-13.8.3 8.6.3 5.3.3-18.7.3-9.6.4 24 .3 4.2.3 1.7.3-25.5.3 19.9.3-6.6.3 3.5.3 7.7.3.4.3-2 .3 19.2.3-10.1.4-21.3.3 4.2.3 9.4.3-5.9.3-5.3.3-6.6.3-5.5.3 12.5.3 9.2.3 11.9.3-10.4.3-2.7.4-.8.3-9.4.3 10.3.3-9.2.3 16.1.3-19.5.3 8.9.3-18.9.3 24.1.3-13 .3 14.6.3-20.1.4 43.5.3-25.1.3 20 .3-17.2.3-12.8.3 3.2.3 16.1.3-8.2.3 10.8.3-14.2.3-.9.3-3.2.4-3.5.3-15.5.3 23.4.3-.3.3-11.5.3 7.2.3 11.1.3.2.3-16.4.3-9.4.3 22.2.4 5.2.3-16 .3 2.4.3-11.7.3 17.6.3-44.1.3 52.2.3-14.5.3 18.8.3-25.4.3-16.9.3 22 .4-17.4.3 6.3.3-11.5.3 9.2.3-3.5.3 21.1.3-10.3.3-14.7.3 6.7.3 17.4.3-6.7.3-16.1.4-13.1.3 17.8.3 16.1.3-17.3.3-7.6.3 11.4.3-5.9.3 17.6.3-30.2.3 14 .3 11.7.3 8.5.4-28.8.3 26.7.3-8.1.3 14.7.3.6.3-3.1.3-4.4.3 14 .3 3.4.3-2.9.3-25.7.4 16.8.3 3.2.3 9.1.3 2.9.3-5.9.3.6.3-.2.3 3.7.3 15.3.3-17.2.3 4.4.3-23.4.4 26.4.3-2.8.3-13.6.3 10.1.3-15.7.3 16.4.3-11.8.3 3.5.3 11.9.3-14.2.3 14.4.3-3.5.4 19.5.3-24 .3 15.6.3-29.1.3 23.2.3-10.8.3 15.8.3-13.8.3-9.3.3 22.3.3 6.5.3-1.7.4-11.7.3-6.1.3 13.1.3-9.4.3-10.5.3 10.8.3 1.2.3-.7.3-1 .3 22.3.3-34.9.4 10.8.3 3.4.3-1.4.3-4.1.3-9.3.3 6.5.3 8.8.3-5.2.3 19.7.3-3.9.3-18.6.3 27.1.4-11.3.3 6.5.3-7.8.3-23 .3 18.1.3-23.8.3 20.6.3 5.1.3-.2.3 4.5.3 6.6.3-19.9.4 7.9.3-.5.3-22.4.3 32.1.3 0 .3 14.4.3-19 .3 1.7.3-7.8.3-14 .3 15.9.3-5.5.4 10.4.3-13.6.3 6.7.3 14.3.3-1.4.3-19.2.3 32 .3-12 .3-10.9.3-6.2.3 6.9.4-6.4.3-5.8.3 26.8.3 6.2.3-23.4.3 20.9.3 8 .3-11.3.3-17.3.3-20.6.3 16.5.3 3.8.4 24.7.3 4 .3-17.5.3 33 .3-28.4.3 5.6.3-22.8.3 10.1.3-4.6.3-5.4.3 20.9.3-15.2.4-1.8.3 8.4.3 4 .3.2.3-13 .3 2.5.3 20.2.3-16.9.3-.3.3 13.4.3-1.5.3.9.4-18.2.3.1.3 24.7.3-30.2.3-.1.3 10.7.3-5.3.3-.3.3 2.5.3-5.8.3 15.7.4-29.2.3 31.9.3-20.4.3 24.8.3 3.4.3-27.1.3 7.7.3 13.3.3 1 .3-27.3.3 27 .3-8.7.4 26.8.3-30.9.3-2.5.3 15.2.3-11.4.3-16 .3 21.3.3 8.3.3 1 .3 2.3.3-.4.3-19 .4 13.9.3-6.4.3 12.3.3-4.9.3-7.5.3.7.3-7.9.3 16.1.3-14 .3 1.7.3 3.6.3-1.1.4 20.4.3-7.9.3-7.9.3 40.8.3-43.3.3-4.7.3-15.5.3 16.5.3 21.9.3-13.8.3 2.9.3-21.7.4-5.2.3 28.1.3-8.6.3 1.1.3 0 .3-.3.3-17.2.3-1.2.3 14.5.3 17.8.3-11.1.4 12.5.3-6.9.3 25.7.3 3 .3-22.2.3 14.3.3-11.9.3 4.3.3-20.6.3 1.5.3-1.5.3-.5.4.8.3-2.8.3 12.4.3 5.4.3 8.1.3-4.2.3-18.7.3 30.3.3-33.1.3 16 .3.6.3 5 .4-.2.3-12.5.3-17.4.3 10.3.3 33.6.3-24.5.3 12.4.3-9.6.3 26.4.3-34.1.3 8.7.3 2.7.4-9 .3-9.8.3 22.6.3-4.5.3.7.3 7.8.3 11.8.3-15.2.3-.3.3 19.5.3-26.4.4 5.5.3 5.2.3-5.3.3-17.4.3-9.5.3 23.7.3-13.3.3 1 .3.6.3 3.6.3 13.1.3-8.1.4-2.5.3-7.6.3-16.8.3 18.7.3-.3.3 19.3.3 10.6.3-19.7.3-3.5.3 23.3.3-33.7.3 1.4.4-1.4.3 23.4.3-16.7.3 3.6.3-5.8.3-7.5.3 18.7.3-8.2.3 31.8.3-44.8.3 28.6.3-17.7.4.4.3-6.7.3 34.7.3-36.5.3.9.3 6 .3 18.8.3-4.9.3 8 .3-22.1.3 15.6.4 7.6.3-2.7.3-5.2.3-19.7.3 17.4.3-13.6.3 6.1.3 15.2.3-2.2.3-11.7.3-7.8.3-11.8.4 11.5.3 32.4.3-20.6.3 25.3.3-24.4.3 7.3.3-15 .3 11.4.3-10.9.3-6 .3 10.1.3 1.6.4 7.3.3 8.2.3 2.1.3-29.8.3-7.4.3 4.6.3 27.5.3-25.5.3 14.5.3-22.2.3-22 .3 35.8.4-3.7.3-1.9.3 9.3.3-2.5.3-9.6.3-2 .3 15.6.3 5.6.3-6.8.3-2.2.3 2.7.3-13.4.4-11.3.3 3.4.3 20.7.3 3.1.3-3.7.3 13 .3 2 .3 7.2.3-25.9.3 14.4.3-6.4.4 6.9.3-6.4.3 4.7.3 2.9.3-5.3.3-13.6.3 4.5.3-4.9.3 16.2.3-14.9.3-15.6.3 19.2.4 12.5.3-17 .3 1.2.3-1.8.3-5.6.3-4.7.3 33 .3-21.3.3-6.5.3 20 .3-5 .3-1 .4 1.4.3 1.4.3-21.4.3 18.4.3-12.9.3 3.5.3 7 .3-8 .3 8.2.3-1.4.3 6.8.3-8.4.4-9 .3 10.7.3-8.5.3 5.5.3 23.4.3-19.9.3 3.7.3-5.1.3 6.9.3-6 .3 7 .4 8.4.3-9.9.3 18.3.3 12.6.3-5.1.3 4.5.3-22.5.3-9.4.3-8.9.3 11.3.3 2.9.3 15.1.4 14.1.3-11.9.3-3 .3-23.1.3 17.1.3-17.4.3 17.9.3-19.3.3-2.5.3 18.8.3-6.9.3-13 .4 2.8.3 16.6.3-8.9.3-12.3.3 19.7.3.6.3-20.6.3 23.9.3-13.2.3.5.3-14.1.3-3.4.4 13.5.3-19.4.3 2.8.3-1 .3 33.2.3-21.6.3 19.4.3 11.1.3-8 .3-2.7.3-6.7.4-15.8.3 16.2.3-13.5.3-13.9.3 24.1.3 10.7.3-18.8.3-9.8.3 39.5.3-9.9.3 3.7.3-6.8.4-2.4.3-6.6.3-2.7.3 4.2.3 11 .3-1.3.3-16 .3-6 .3 8.6.3-2.7.3 38.4.3-18.9.4 26.4.3-33.7.3 28.3.3-38.8.3 21.9.3 3.5.3-7.2.3 8.7.3-8.1.3-.5.3-6.7.3 17.1.4-8.5.3-11.5.3 16.3.3-15.3.3 18.7.3 3.6.3-18.6.3 11.3.3 11.1.3-7.2.3-6.3.4-7.5.3 13.4.3-12.8.3 3.6.3-.6.3-24.5.3 25.3.3 1.7.3-7.1.3 17.8.3 2 .3-3.4.4-11.8.3-6.2.3 4.3.3 14 .3-9.4.3-5.5.3 15.6.3-16.5.3 22.6.3-22.8.3 7.3.3 1.3.4 3.3.3-.5.3 16 .3-3.9.3-5.7.3.1.3-14.8.3 13.7.3-25.5.3 3 .3 1.7.3 14.4.4 13.4.3-6.6.3 24.8.3-25.7.3 10.8.3-5.4.3-10.5.3 14.1.3-20 .3 6.3.3-.4.4-4.3.3 25.9.3-8.6.3-10.7.3 44 .3-28.3.3-13.3.3 3.9.3 8 .3 7.3.3 15.9.3-17.6.4-14.3.3-22.3.3 9 .3 20.7.3-4.8.3 10.1.3 15.9.3-33 .3 6.9.3 11.9.3-9.5.3 12.1.4-15.5.3-12.7.3.7.3 3.8.3 24.2.3-32.2.3-8.8.3 24.4.3-11.3.3 18.1.3-1 .3-30.6.4 24.8.3-15.8.3 0 .3-10.1.3 21.5.3 10 .3-17.5.3 6.2.3 8.1.3-23.2.3 19 .3-15.5.4 11.7.3-1.7.3.3.3.2.3 20.3.3 1.2.3-26.3.3 2.4.3-6.3.3 3.4.3.4.4-1.3.3 4 .3-2.8.3 21.1.3 2.6.3 17.3.3-13 .3 2 .3-13.1.3-14.6.3 1.3.3 11.9.4 6.1.3-10.5.3 4.4.3.1.3-4.8.3 18.7.3-15.3.3 29.4.3-2.2.3-22.3.3-10.3.3 3.3.4-6.8.3-3.9.3 13.9.3-.5.3-11.9.3 17.3.3-4.3.3-4.9.3-2.9.3-12.2.3 4.3.3 2.6.4 1.3.3 11 .3.6.3-20.4.3 16.3.3 9.1.3-27.7.3 18.5.3.8.3-15.2.3 10.6.4-15.2.3 16.6.3-4.3.3 9.4.3-12.6.3-14.7.3 7.6.3 6.9.3 11.6.3 27.8.3-27.3.3-.6.4 18.2.3-47.4.3 4.6.3 16.9.3 2.8.3 2 .3 2.5.3 15.9.3-33 .3 19.7.3-7.7.3.1.4 16.9.3-20.1.3-9.1.3 25.5.3-17.5.3 18.4.3-28.5.3 14.2.3 11.9.3-13.3.3-19.6.3 14.9.4-1.9.3 16.1.3-4.1.3 8.4.3 5.1.3.9.3 7.5.3-38.6.3 16.4.3 7.2.3 9.7.4 1.1.3-26.3.3 25.5.3 1.7.3-6.3.3-1.3.3-10.1.3 8.9.3-4.5.3-5.1.3 2.9.3 14.2.4-21.2.3 5.9.3 7.5.3-11.5.3-4.5.3-3.6.3 18.6.3-20.1.3 5.8.3 12.6.3 2.9.3-17.7.4 1.5.3 25.8.3-.7.3.6.3-21.1.3 16.1.3-10.8.3-1.7.3.2.3 10.9.3 4.9.3 4.6.4-10.8.3-12.2.3 8.1.3-6 .3 8.6.3 13.6.3-22.8.3 8.9.3-7.7.3-9.2.3 5.4.3 11.1.4 8 .3-11.1.3-6.5.3-9.2.3 43.7.3-29.4.3 31.9.3-18.8.3-2.7.3 2.4.3 15.7.4-14.3.3 4.2.3-22.8.3 8.8.3 2 .3-21.6.3 16.3.3-1.1.3-20.7.3 21.2.3-6.3.3 6.2.4 2.5.3-9.4.3 8.3.3-6.4.3 28.7.3-28.6.3-13.9.3 12.3.3 7.7.3 23.3.3-26.6.3-11.6.4 23.4.3-28.2.3 21.6.3-10 .3-7.4.3 6.7.3 21.4.3-2 .3-21.1.3 11.3.3 13.2.3-18.6.4 6 .3-1.1.3 11.7.3-21.9.3 7.3.3 25.2.3-11.8.3-5.1.3-9.3.3 1.6.3 2.4.4 3.7.3 17.2.3-14 .3-9.6.3 9.8.3-19.2.3 8.4.3-1.1.3 2.7.3 23.1.3-13.1.3 5.1.4-26.9.3 2.5.3-2.1.3 9.9.3 4 .3 17.2.3-17.9.3-5.8.3 1.7.3 1.3.3 5.1.3 15.7.4-10.4.3 17.4.3-17.2.3-2 .3-15.3.3 9.1.3-18.2.3 23.8.3-10 .3 4.9.3 15.8.3-22 .4 1.4.3 7.7.3 9.8.3-24 .3-4.1.3 9.2.3 23.5.3-15.2.3 17.5.3-9.9.3-14 .4-6.1.3 6.1.3 8.5.3-1.4.3 11.3.3-5.2.3-3.3.3-2.6.3 11.7.3-29 .3 8.2.3-9.8.4 20.6.3-.1.3-19.5.3 7.4.3 6.8.3-2 .3 12.8.3-17.4.3 9.8.3 17.1.3-30.8.3 2.9.4 7.7.3 6.8.3-12.6.3 6 .3 8.3.3.5.3 4.4.3-13.2.3 17.1.3-36.9.3 4.3.3 13.4.4 29.1.3-31.6.3-2.6.3 6 .3 2.7.3-3.1.3-26.6.3 9.3.3 15.4.3 9.9.3 11.7.4-3 .3-28.9.3 27 .3-9.1.3-27.8.3 6.5.3 12.1.3-17.8.3 3.4.3 28.9.3-15.4.3 6.4.4-6.6.3.6.3-11.8.3 17.5.3-10 .3-9.5.3 19.8.3 2.3.3-4.2.3-3.4.3 23.4.3-34.2.4 16 .3.5.3-9.1.3-1.9.3 10.2.3-8.7.3 22 .3-3.1.3-10.1.3 11 .3 1.1.3-.3.4-3.6.3-36.7.3 13.3.3 19.6.3 3.6.3-.8.3-11.6.3 7.5.3-30.9.3 3 .3 23 .4-14.7.3-2.8.3 4.4.3 1.5.3 3.8.3 6 .3-1.7.3-.6.3-2.4.3-7.6.3 14.4.3-22 .4 18.4.3-3.3.3 31.6.3-33.8.3 10 .3 8.6.3 2.4.3 5.1.3-26.4.3 28.4.3-11.3.3-37.4.4 21.6.3 4.2.3-6 .3-1.4.3 23.2.3-28 .3 9.4.3-2 .3-14.4.3 17.1.3-15.7.3 9.2.4-2.4.3 17.7.3-7.2.3-20.7.3 9 .3 19.5.3-6.4.3 1.2.3-.1.3.5.3-16.9.3 18.8.4-18.3.3-11.3.3 17.5.3-8.9.3 23.8.3-7.6.3-12.1.3 8.9.3-4.1.3-1.7.3 16 .4-20.4.3 13.5.3-10.7.3 24.2.3-40.5.3 39.5.3-6.6.3-7.5.3-8.3.3-6.4.3 10.3.3-4.5.4-6.2.3 17.4.3-.4.3-13.7.3 6.5.3 1.3.3 2.5.3-6.8.3 21.8.3-5.5.3-13.3.3-1 .4 13.3.3-26.8.3 20.1.3 4.3.3 5.1.3 6 .3-23.5.3-5.5.3 9.2.3 7.1.3-14.6.3 8.4.4 19.2.3-32.8.3 17.1.3 14.3.3-19.7.3 2.5.3 20.5.3-7 .3-6.4.3 8.6.3 12.3.4-17.8.3-2.4.3 1.6.3 17.6.3-4.9.3-10.8.3-1.6.3 9.7.3-19.6.3 11 .3 8.5.3-7.4.4 5 .3 4 .3 23.3.3-48.6.3 4.9.3 18.9.3-18 .3 12.8.3-1.9.3.7.3 5.3.3-1.8.4-13.8.3 10 .3-22.1.3.2.3 21 .3 2.6.3-22.5.3 22.7.3 6.1.3-25.2.3 30.9.3 3.7.4-33 .3-2.2.3 21.6.3-.6.3-8.9.3-2.9.3-12.1.3 9 .3-1.7.3 20.7.3-14.6.4-10.6.3 14.4.3-17.4.3 20.7.3-1.1.3-13.6.3 23.7.3-20.8.3-.8.3-3 .3 1.5.3 5.3.4-4.1.3 29.5.3 3 .3-6.7.3-6.7.3 22.4.3-11.5.3 4.8.3-13.6.3-10.8.3 20.4.3-9.5.4 14.5.3-19.3.3 5.2.3-.2.3 1.2.3 14.9.3-36.3.3 12.7.3 2.6.3-13.3.3 3.4.3-3.7.4 8.9.3 9.2.3 28.8.3-34.1.3 5.5.3-.8.3-4.5.3-5.6.3-2.4.3 3.1.3.9.3-7.8.4 10.4.3 7.5.3-8.4.3 4.3.3-.8.3-5.1.3 8.7.3.5.3-2.1.3-4.7.3-1.6.4 19.7.3-2.4.3 2.7.3-9.4.3 1.9.3-1.4.3-4.6.3 17.9.3-23.1.3-15 .3 13.1.3 10.3.4-16 .3-5.3.3 30.8.3 5.6.3-29 .3 2.6.3 13.7.3 26.8.3-11.8.3-32.8.3 5.5.3 7.1.4-23.7.3 20.3.3 2.8.3 2.3.3-15 .3 3.4.3 13.8.3-18.9.3 8.9.3 5.8.3-7.8.3.8.4.8.3 7.9.3-26.9.3 22.1.3-11.3.3 4.8.3-1.7.3 16 .3 14 .3-32.9.3 7 .4-7 .3 23.5.3-1.4.3-17 .3-8.1.3 3.1.3-4.3.3-2.3.3 10.4.3 19.3.3-30.6.3 21.6.4-4.2.3-16.3.3 1.7.3 8 .3-13.2.3.1.3 9.3.3-6.3.3 9 .3 6.3.3.7.3 2.3.4-6.2.3-.3.3 9.2.3-15.3.3 16.2.3-10.6.3 12.9.3 2.4.3-6.1.3-23.6.3 21.8.3 2.2.4-5.4.3-10.3.3 10.5.3 3.5.3-33.3.3 20.3.3-4.1.3 7.9.3-13.7.3-.6.3 20.7.4 5.2.3-31.7.3 2.5.3 7 .3 8.9.3-4.4.3-10.9.3 8.7.3 23.6.3-43.1.3 18.2.3 2.1.4-4.3.3-4.9.3 7.6.3 9.5.3 4.6.3-17.8.3-9.9.3 16.2.3-31 .3 43.5.3-6.3.3-4.1.4 13.1.3 6.1.3-21.5.3 10.4.3-9.3.3 12.1.3-15.5.3.6.3 2.7.3-5.8.3-3 .3 18.2.4-14.7.3-14.5.3 30 .3 3.2.3-27.8.3 4.3.3-2.1.3 17.5.3-15.5.3 14.1.3-10.4.4 23.6.3-15.7.3 1.6.3 25.5.3-1.3.3-15.2.3 4.6.3-13.9.3-2.4.3 12.1.3-17.9.3 3.4.4 11.5.3-13.1.3-5.8.3 10.1.3.4.3-2 .3 7.2.3-8 .3-19 .3 41.3.3-9.1.3-25.1.4 10 .3 16.5.3-10.1.3 15 .3-25.1.3 7.9.3 17.1.3-10.8.3-3.4.3-13.1.3 17.7.3 6 .4 12.5.3-32.7.3 15.1.3 17.9.3-12.7.3 13.5.3-4.2.3-10.4.3-13 .3 3.5.3-6.7.3 17.1.4 2.9.3-23.6.3 2.6.3-4 .3 21.3.3-33.3.3 29.5.3-4.2.3 8.9.3-20.1.3 12.1.4 34.4.3-31.7.3 6.4.3-2.6.3 11.8.3-20.3.3 9.3.3 20.1.3-7.9.3-16.7.3 1.6.3.2.4 4.6.3-13.8.3 7.5.3-3.7.3-.2.3-2.8.3-23.9.3 2.7.3 1.5.3 16.3.3-19.5.3 10.9.4 13.4.3-14.6.3-4.6.3 1.8.3 32.6.3-26.6.3 20 .3-8.7.3 1.4.3 5.7.3-23.6.3 22.3.4 3.8.3-10.8.3 2.7.3-9.8.3-2.7.3-1.6.3 20 .3-20.3.3 5.5.3 7.9.3 7.9.4-38.8.3 16.3.3-7.5.3 6.1.3 10.2.3 12.7.3 8 .3-23 .3-1.7.3 8.2.3 14.1.3-7.5.4 8.8.3 5 .3-4 .3 13.6.3-12.2.3-16.5.3-14.9.3-6.6.3 7.5.3 11.5.3-25.9.3 26.6.4-3.7.3-4.2.3-1.1.3-3.2.3 2.4.3-14.3.3 20.9.3-25.2.3 32.6.3-41.3.3 37.9.3-11.4.4 2.1.3 2.9.3-13 .3-10.4.3 20.7.3-13.8.3 4 .3 8.4.3-22.2.3 11.1.3 31.7.4-25.2.3-4 .3-9.1.3 16.6.3-1.4.3-1.3.3-2.3.3-2.7.3-13.2.3 14.3.3 1.5.3-9.1.4-4.3.3 34.2.3-5.3.3-1.3.3 5.3.3-1.5.3-8.1.3 4 .3-25 .3 2.9.3-8 .3 36.5.4-26.6.3 30.8.3-9.9.3-22.4.3 15.8.3-3.6.3 10.1.3 4.7.3 1.4.3-11.9.3-11.6.3 2.9.4-12.2.3 5.1.3 10.4.3 11.8.3-.6.3 2 .3-3 .3-10.4.3-13.7.3-.3.3 4.4.4 17.1.3-10.9.3 16.5.3-16 .3-15.4.3 28.4.3-10.1.3-10.5.3 4 .3 1.1.3 24.9.3-5 .4-18.8.3-5.5.3-8.5.3 4 .3 17.7.3-9.9.3 11 .3-1.7.3 9.8.3-9.7.3 7.3.3-6.1.4-7.9.3-3.7.3-.2.3 32.4.3-16.3.3-6.9.3 7.2.3 7.3.3.9.3-29.6.3 4.7.3 31.8.4-16.3.3-26.1.3 17.3.3 12.8.3-4.3.3.5.3 22.4.3-35.1.3 34.2.3-14.5.3-8.5.3 17.8.4-25.4.3 28.1.3 7.2.3-16.4.3-6 .3 21.5.3-7.1.3-17.2.3-20.4.3 25.9.3-14.5.4 21.9.3-16.1.3 13.1.3-8.8.3 18.9.3-25.1.3-5.7.3 15.7.3 5 .3-7 .3 25.5.3-10.4.4 15.4.3-10.6.3 2.5.3 12.4.3-34.8.3 16.8.3-2.9.3 6.4.3 17.8.3-16.3.3-10.7.3-9.9.4 9.1.3-11.8.3 11 .3 14 .3-8.2.3-4.3.3 32.9.3-20 .3 12.8.3-32.8.3 6.5.3 1.9.4 23.2.3-39.7.3 4.6.3 20.6.3-4.8.3 11.7.3-11.5.3 20.8.3 5.2.3-23.4.3 10.8.4-12.8.3-5.7.3 23.2.3 1.8.3-25.1.3 27.4.3-24.6.3 5.8.3 8 .3-2.6.3 5.4.3 8.3.4-15.6.3-10 .3-12 .3 32 .3-43.6.3 16.5.3 15.8.3-14.1.3 3.7.3-9.1.3-9 .3 28.1.4-11.6.3-2.8.3 13.4.3-20.2.3 18.1.3-15.6.3 2.8.3 17.5.3-29.3.3 24.6.3 14.9.3-10.8.4 2.5.3 0 .3-5.8.3-14 .3 4.1.3 13.9" fill="none" stroke="#383838" stroke-width="1.5" stroke-linejoin="round" clip-path="url(#cG)"/>
<path d="M84.5 2071.9l.3-23.3.3 13.5.3-22.7.3 3.8.3 34.3.4-19.2.3 36 .3-25 .3 22.7.3-18.8.3 10.8.3-13.6.3-18.7.3 10.1.3 10.1.3 30.1.3-27 .4-9 .3 14.5.3 13.7.3-24.9.3 11.1.3-29.3.3 33.2.3 11.1.3 18.5.3-14.1.3.2.3.4.4-5.7.3-10.7.3-16 .3 24.8.3 1.3.3-5.2.3 1.7.3 23.7.3-23 .3-4.5.3 18 .3-3 .4 2.2.3-11.9.3 6.7.3-4.9.3-5.7.3 16.9.3 3.6.3 2.8.3-16.2.3-7.3.3-16.5.4 28.3.3-23.5.3 6.8.3-3.6.3 4 .3 13.3.3-13.3.3 16 .3 15.2.3 3.8.3-25.3.3 23.7.4 6.2.3-17.1.3 10.9.3 3.3.3-.3.3 6.3.3-16.6.3 6.6.3 13.6.3 8.7.3-13.4.3 2.3.4 6.2.3-.4.3-6.9.3-5.4.3 22 .3-12.1.3 25.5.3 3.6.3-2.7.3-3.8.3-7.2.3 3.5.4 16.9.3 1.9.3-21.3.3 19.9.3 4.6.3 19.3.3-11 .3-2.3.3-18.5.3 2 .3 16.5.4-11.3.3-10.9.3-.7.3 14.7.3 5.9.3-3.2.3 1 .3-3.6.3-7.2.3 3.4.3 22.9.3-2.3.4 2.7.3-12.3.3 1.5.3-15 .3 3.6.3 32.8.3-17.3.3 12.5.3-17.6.3 11.3.3 5.9.3-.9.4-13.1.3 7.8.3 25.9.3-6.5.3-10.4.3 5.9.3-8.8.3-5.1.3.5.3-15.5.3-7.8.3.8.4 19 .3.7.3.4.3-16.3.3 27.1.3-10.2.3 18.6.3-18.3.3 20.8.3 5.3.3-28.3.3-6.7.4 29.1.3-27.1.3 6.6.3 9.5.3.9.3-16.1.3 29.9.3-27 .3 5.8.3-4.2.3 25.9.4-18.2.3 12.9.3-1.2.3 1.3.3-25.7.3-2.6.3 31.2.3-2.9.3 7.7.3-7.3.3-24.1.3 18.2.4-1.4.3 1.2.3-2.4.3-.1.3-3.8.3 1.6.3 10 .3 8.3.3-7.2.3 1 .3-12.9.3-13.7.4 17.7.3 18.1.3-25.5.3 28.5.3-17.8.3 2.9.3 21.8.3-6 .3-15.2.3 9 .3-8.2.3-11.7.4 20.5.3 7.2.3-7.2.3-12.6.3-15.7.3 26.9.3-16.7.3 18 .3.3.3 15.3.3-9 .4 7.8.3 1.9.3-.8.3-7.7.3-9 .3 19.6.3-11.7.3 7 .3 2.4.3-27.1.3 36.7.3 13.2.4-47.1.3-1.3.3 2.2.3-1.2.3 8 .3-6.6.3-2.5.3 9.9.3-13.3.3-23.5.3 12 .3-5.4.4 17.5.3 9.5.3-3.8.3 20.6.3-10.6.3 5.7.3 17.1.3-28.9.3 15.1.3 4 .3-6.4.3-12.7.4 14 .3-19.6.3 10.5.3-24.3.3 14.9.3-18.5.3 38.4.3.2.3-11.5.3-14.3.3 11.3.4-10.9.3 29.2.3-36.4.3 38.4.3-40.3.3-18 .3 22.8.3 26.4.3-10.2.3-12.2.3 23.1.3 13.6.4 12.1.3-32.1.3-1.2.3.5.3-9.5.3 9.2.3 6.1.3-14 .3 19.5.3-24.4.3-14.8.3 20 .4 3 .3 16 .3-2.6.3-7.7.3 3.3.3 1.9.3-3.7.3 2.3.3 9.8.3 14.6.3-46.2.3 10.5.4-6.6.3 14.5.3 3.3.3-31.7.3 32.6.3-28.5.3 18.7.3-26.2.3 19.2.3 4 .3 7.6.3-3 .4-15.9.3-2.4.3-2 .3 33.8.3-33.1.3 24.3.3-9.7.3-23.8.3 35.7.3-21.1.3 9.1.4-8.8.3 11.4.3-13.5.3 18.1.3 12.2.3-23 .3-3.4.3 4.9.3-2.4.3 14.7.3 10 .3-8.9.4-29.8.3 29.5.3-22.4.3-10.6.3 10.7.3 18.9.3-14.9.3 1.6.3-25.4.3 35.8.3 15.3.3-17.1.4-21.2.3 25.9.3-11.2.3 27.4.3-39.2.3 17 .3-8.6.3-10 .3 5.8.3-5 .3 3.6.3 16.7.4-6.3.3 2.2.3 25.3.3-19.7.3-3.4.3 5.1.3-32 .3 36.2.3-1.1.3-2.3.3-9.7.4 6.8.3 10.4.3-6.3.3-26.8.3 26.4.3-.2.3 4.5.3 11.9.3-4.7.3-18.8.3 11.5.3 11.6.4-26.5.3 5.3.3-5.1.3 3 .3 7.5.3 17.9.3-5.4.3-14.3.3 14.6.3 12.6.3 11.5.3-17.9.4-9.5.3 15.1.3-2.5.3 2.3.3 9.4.3-9.9.3 13.4.3-34 .3 20.7.3-3.1.3 1.8.3 2.4.4-7.7.3-12.1.3-4.9.3 16.3.3 7.3.3 11 .3 8.9.3-18.8.3-18.6.3 15.2.3-.8.4-23.1.3 14.2.3 1.9.3 21.8.3-11.7.3.6.3-6.3.3-11.2.3 14.6.3-7.2.3 9.8.3-5.4.4 13.5.3-15.8.3-15.3.3 18.6.3-20.6.3 4.7.3 15.5.3 2.6.3-7.2.3 13.7.3 11.3.3-30.6.4 2.2.3 16.4.3-34.7.3-1.9.3 20.2.3 24 .3-18.3.3 10.8.3 0 .3-2.1.3-25.5.3 10.8.4 12.9.3-15.4.3-8.9.3 28.1.3-15.2.3 5.1.3 6.5.3-25.8.3 5.4.3.2.3 4.4.4 23.8.3-35.5.3.7.3 27.5.3-10.4.3 24.3.3-11.8.3-8.7.3 1.8.3 2.6.3-27 .3 20.8.4-7.3.3-5 .3 8.8.3-13.8.3 30 .3-11.2.3 7.6.3-6 .3-29.6.3 10.7.3-14.3.3 20.2.4 15.9.3 8.9.3-22.4.3 7.2.3-3.7.3 11.1.3 10 .3-21.4.3 17.6.3-7.7.3-8.9.3 21.5.4 10.5.3-24 .3 1.6.3-19 .3 7.8.3-10.7.3-4.5.3 21.8.3 15.8.3-24.8.3 30.1.4-26.1.3 4.2.3 13.8.3-30.2.3 28.9.3-12.3.3 28 .3.4.3 12.3.3-31.5.3 1.1.3 19.3.4 6.9.3-33.6.3-18 .3 6.4.3 29.4.3-3 .3-7.3.3-9.8.3-1 .3-.6.3 2.1.3 12.7.4 10.9.3-5.1.3-4.4.3-8.7.3 1.7.3 5.7.3-7.2.3-1.6.3 11.3.3 13.5.3-19.7.3-22.7.4 33.8.3-9.1.3-22.2.3.7.3 20 .3 5.6.3-14.2.3 6.3.3 8.8.3-2.9.3 6.5.3-8.5.4-4.6.3 13.4.3-12.9.3 16.1.3-7.6.3-7.2.3 16 .3-19.3.3-13.6.3-4.4.3 12.4.4 19.3.3-8.5.3-7 .3 6.2.3-11.7.3 14.2.3 11.1.3-6 .3-21.7.3 30.8.3-20.3.3 14.9.4-31.1.3 15.2.3.2.3-11.8.3 9.6.3 2.7.3-7.5.3 21.1.3-21.5.3 15.4.3 19.4.3-13.6.4-11 .3-4.3.3 6.2.3-8.9.3-13.9.3 27.2.3-30.5.3 3.7.3 7.7.3-2.1.3-13.9.3 3 .4 28.8.3-11.7.3-19.2.3-2.8.3 28.5.3 25.5.3-11.7.3-6.9.3-18.3.3 23.7.3-21.6.4.2.3-2.2.3-2.7.3-16.1.3 24.7.3-20.9.3 22.2.3-5.8.3 4.4.3 20.4.3 4.9.3-16 .4 2.2.3 5.2.3-.1.3-12.3.3 12.8.3 3.6.3-16.1.3-.2.3-5.2.3 8.7.3-7.4.3 18.4.4-26.8.3 3.9.3 28.8.3-10.4.3 2 .3-30.2.3 10.4.3 5.8.3-11.1.3 21.1.3 5 .3 4.5.4-9.2.3 4.6.3 1.2.3-19.4.3 13.8.3-2.4.3-13.8.3 1.5.3 21.1.3-19.1.3 12.1.4 8 .3 4.6.3-4 .3-5.9.3-17 .3 9.1.3-6.3.3 7.4.3-31.3.3 38.6.3-3.8.3-6.3.4 14.2.3-11.4.3 10.2.3-30.4.3 16.4.3 13.6.3 3.4.3-44.8.3 46.1.3 4.8.3-21.7.3.3.4 15.2.3-22.9.3 10.1.3-5.5.3 1.6.3 20.4.3-18 .3 24.7.3-30.8.3 18.8.3-16.9.3 17.1.4-4.5.3-18.9.3-.1.3-.9.3 21.2.3-6.3.3-2.7.3 13.6.3-6.2.3-15.6.3 22.4.3-.8.4 3.3.3-28.3.3 15.8.3-20.4.3-5.1.3 7.7.3 28.5.3-17.5.3 26.4.3-45.3.3 25.6.4 4.5.3-4.6.3 3 .3 6.3.3.6.3-13.7.3-1.6.3.4.3-1.6.3-6.7.3 6 .3-25.6.4 17.4.3 5.3.3 8.5.3-16.1.3 21.8.3.6.3-14.5.3 12.5.3 1.7.3-3.2.3-2.2.3-11.7.4 12.5.3 1.5.3-1.5.3-4.3.3-1.2.3 8.4.3-2 .3 8.3.3 3.5.3-16 .3 17.8.3-5.1.4-3.7.3 18.1.3-26.9.3 11.1.3-2.7.3-16.6.3 18.4.3-4.3.3 7.7.3-.8.3 6.9.4 13.8.3-28.5.3 19 .3-4.5.3-8.6.3 8.4.3-2.8.3-9.9.3 6.7.3 6.1.3 3.1.3-14.7.4 11.4.3-29.7.3 19.9.3 8.4.3-6.4.3 24.2.3.6.3-18.5.3 6.6.3-10.8.3-2.6.3 1.6.4-.7.3 21.9.3-11.8.3 10.1.3 1.4.3-6.7.3 1.7.3-24.8.3 37.7.3-22.5.3 7.6.3 2.3.4-16 .3-12.3.3 14.8.3-.9.3 2.1.3 17.3.3-31.9.3 3.6.3 24.5.3-19.2.3-20.5.4 13.2.3 11.6.3-12.5.3-8.6.3 23.8.3 4.9.3-8.4.3-12.1.3 14 .3.5.3-21.7.3 28 .4-18 .3 18.2.3-19.4.3-10.2.3 4 .3 1.1.3 7.1.3-4.7.3 14.1.3-33.8.3 24.7.3-3.4.4 9.4.3-5.9.3-9.9.3 17.1.3-7.9.3-2.8.3 11.8.3 17.9.3-22.5.3.7.3-8 .3 3.3.4-11.3.3 3.2.3 13 .3-14.3.3 2 .3 13 .3-11.2.3 5.8.3-1.4.3 27 .3-32.9.4-3.6.3-2.8.3 20.2.3-2.7.3-23 .3 19.2.3-.5.3-9.7.3 15.6.3-32.9.3 18.6.3 17.7.4-20.5.3 7.1.3 26.1.3-5.1.3-21.9.3 18.2.3-33.1.3 5.8.3.1.3 11.3.3 5.7.3-5.6.4 7.5.3 20 .3-20.1.3 9.8.3-18.8.3-3.9.3-3.2.3 4.1.3 21.5.3-16.3.3 7.2.3-7.8.4 10.7.3-17.6.3 5 .3 7.4.3-2 .3-5.4.3-1.7.3 2.2.3.6.3 11.5.3-3.9.4-19.8.3 17.3.3 5.8.3-2.1.3-30.4.3 30.2.3-7.6.3.3.3 20.5.3 5.7.3-.5.3-34.5.4 23 .3 6.9.3-7 .3-4.9.3-17.1.3.5.3-10.7.3 40.7.3-39.6.3 40.8.3 3.6.3-30.6.4 21 .3-7.5.3-2.8.3-10.2.3-4.5.3 13.6.3 1.7.3-10.6.3-4.7.3 10.3.3 2.5.3 1.2.4-22 .3 19.5.3-6.9.3 4.2.3 4.1.3 1.6.3-20.6.3 28.7.3-8.4.3 10.2.3-4.5.3 12 .4-16.6.3-3.1.3 17.9.3-27.5.3-.8.3-1.1.3 2.7.3 12.1.3 15.3.3-6.7.3 14 .4-29 .3 6.4.3 7.1.3-19.3.3 5.3.3-16.2.3.5.3-3.7.3 22.4.3 1.5.3-16.9.3-1.1.4 17.4.3 4.7.3-8.6.3 11.4.3-10.1.3-22.9.3 25.9.3 11.2.3-18.6.3 4.8.3-10.3.3 12.2.4-7.7.3.3.3 16.5.3 15.7.3-33.7.3 2.8.3 13 .3-27.4.3 15.3.3 2.2.3-3 .3-3.9.4-4.2.3 6.8.3-22.9.3 21.1.3 25.2.3-8.7.3-19.9.3 12.4.3 9.9.3-10.8.3 22.2.4-32.5.3 14.2.3 19.6.3-29.2.3.8.3 9.1.3 19.1.3-15.7.3 18.3.3-27.6.3-4.8.3 9 .4-3.1.3 15.5.3 16.1.3-52.1.3 8.3.3 5.1.3 6.3.3.8.3-1.7.3 27 .3-13.6.3-20.4.4 24.4.3-11.7.3 16.8.3-19.7.3-16.3.3 27 .3-9.5.3 1.2.3 22.6.3-32.6.3 13.5.3-13.9.4 11.1.3 14.9.3-1.2.3-18.9.3 18.4.3 12.2.3-36.3.3 6.4.3-2.5.3-3.2.3 13.8.4-5.6.3-13.7.3-1.1.3 7.1.3 21.3.3-9.3.3 8.5.3 4.7.3.1.3-11 .3 18.2.3-27.1.4 7 .3 12 .3-6 .3-.5.3 6.4.3-6 .3 2.1.3-2.6.3 25.3.3-28.8.3 22.9.3-3.5.4-6.7.3-12.6.3 17.2.3-26.3.3 5.3.3-12.3.3 23.9.3 6.1.3.1.3-2.3.3-9.7.3-4.5.4 8.5.3-1.6.3-1.8.3-5.9.3 3 .3-.5.3 29.2.3-15.9.3-14.1.3-3.5.3 28.1.3-39.4.4 9.2.3 5.6.3-10 .3-9.1.3 6 .3 8.3.3-.9.3 17.8.3-6.4.3 9.4.3 8.4.4-1.6.3-25.1.3 8.9.3.4.3-1.6.3-10.3.3 4.9.3 11.6.3 9.2.3-4.8.3 11.1.3-26.3.4-10.1.3 11.1.3 9.3.3-7.9.3 10.7.3-11 .3 28.7.3-25.7.3 4.4.3-7.9.3-5 .3 18.8.4 8 .3-8.6.3-15.1.3 2.6.3 5.6.3-8.4.3.7.3 9.3.3-18.4.3 15.6.3-27.9.3 20.1.4-.6.3-8.7.3 22.3.3 6.9.3-16.2.3-12.8.3 9.8.3 4.2.3 13.4.3-23.7.3 12.2.4-12.1.3 14.1.3-12.9.3 6 .3-3 .3 7.8.3 22.8.3-24.5.3 30.4.3-21.6.3-2.4.3-3 .4.1.3 17.1.3-15 .3 12.5.3-31.5.3 10.3.3-.7.3-1.2.3-2.5.3-.6.3 8.8.3-3 .4.7.3-.6.3-9.2.3-3 .3 6.2.3 1.7.3 7.7.3-2.7.3-11.3.3-1.9.3-.4.3 3.4.4 22.5.3-5 .3-26.2.3 9.9.3 12.6.3 11.6.3-27.3.3 6.8.3-30.7.3 33.1.3 10.2.4-12.5.3 8.8.3-5.9.3 5.7.3-9.3.3.3.3-11.6.3 24.6.3 3.7.3-27.9.3 33.5.3-19.9.4 2 .3.6.3-10.6.3 20.8.3-24.5.3 22.1.3 16.6.3-16.2.3-18.9.3 12.9.3-4.8.3-9.9.4 12.4.3-17.8.3 3.5.3 18.4.3-.8.3-15.1.3 15.9.3-14.5.3-2.4.3-13.3.3 29.9.3 6.6.4-27.2.3 2.7.3 33.5.3-9 .3 13.6.3-.6.3 11.6.3-22.6.3-27.7.3-5.5.3 14.5.4 12.2.3-16.8.3-4.8.3 27.4.3-11.1.3-12 .3 1.4.3 7.4.3-16.7.3 17.3.3 13.4.3-27.7.4-1.7.3 17.6.3-9.7.3 5.3.3-25.2.3 28.5.3 7.1.3-25.7.3 38.2.3-.1.3-.8.3-29 .4.8.3-1.9.3 8.3.3 4.6.3-3.1.3-5.3.3 4.9.3-11.7.3 22.5.3-1.5.3-12.8.3 9.3.4-16.1.3 23 .3 11.5.3-21.8.3 1.3.3.6.3-10.9.3 4.5.3 8.9.3-30 .3 34.9.4 2.5.3-21.7.3-7.1.3 22.4.3-29.3.3-8.8.3 9.7.3-10.6.3 17.2.3 30.7.3 2 .3-9.5.4-2.6.3-25.9.3-9.8.3 23.9.3-22 .3 20.5.3-23.9.3 9.7.3 22.3.3-1 .3 6.8.3.4.4-7.4.3-10.3.3.9.3-15.6.3 2 .3-.2.3-.3.3-3.8.3 1.6.3 8.6.3-6.3.3 19.9.4-29.6.3 4.7.3 5.8.3-4.5.3 11.3.3-16.9.3 13.1.3-10.4.3 13.4.3-4.8.3 17.6.3-19.8.4.3.3 6.5.3-19.1.3 17.2.3 7 .3.2.3-17.6.3 32.4.3-43.7.3 9.7.3 12.1.4-3.1.3-1.6.3 6.4.3-14.3.3 19.3.3 5.5.3-4.2.3-23.8.3 1.1.3 14.2.3 15.8.3-21.6.4-5.3.3 4.5.3-4.7.3-3.7.3 25.8.3-19.3.3 21.6.3-19.5.3 18.5.3 9.8.3-2.1.3-10.3.4 6.2.3 7.2.3-27 .3 10.8.3 7.6.3-25.9.3-8.1.3 12.5.3 10.5.3 8.4.3-8.2.3-27.4.4 28.9.3 8.5.3-41.4.3 26.6.3-10.2.3 10.1.3-5.8.3-4 .3 10.9.3-1 .3-9 .4 18.3.3-12.3.3 9.1.3 2.8.3-9.3.3-7.8.3 8.2.3 3 .3-5.9.3 17.9.3-29.5.3 13.6.4 15.7.3 14.4.3-24.1.3-5.3.3 7.8.3 13.9.3-24.8.3-14.6.3 44.6.3-2.7.3-17.1.3-23.5.4 7.9.3-.9.3-29.8.3 30.9.3 11.9.3-8.8.3-13 .3 17.1.3 10.9.3 3 .3-11.5.3-4.9.4 15.8.3-17.4.3.7.3 13.6.3-10.2.3-1.1.3-6 .3 6.6.3 19.7.3-28.9.3 11.2.4-16.1.3.7.3-8.9.3 6.8.3-4.3.3 8.4.3 4 .3-15.4.3 3.8.3-6 .3 9 .3-5.2.4-3.9.3 6 .3 19.7.3-26.9.3 15.2.3 18.8.3-5 .3-10.5.3 15.7.3-3.9.3-8.2.3-13.7.4-.2.3-1 .3 4.2.3-17.7.3 4.2.3 21.4.3 22 .3-24.7.3.8.3 6 .3 14.7.3-9.1.4-10.5.3 13.1.3-26.2.3 14.9.3 5.9.3-23.2.3 15 .3 31.3.3-13.2.3-7.7.3.6.3-9.4.4 1 .3-18.6.3 33.6.3-7.3.3-6.7.3 2.9.3-16.2.3 18.7.3-4.5.3 4.7.3 6 .4 7.6.3-7.6.3-5.3.3-4.5.3 9.6.3 1.4.3-7.2.3 5.5.3-1.6.3-17 .3 33.2.3-25.3.4 4.4.3 22.3.3-28.9.3 15.8.3-3.7.3-19.4.3 25.8.3 2.1.3-.6.3-16.4.3-14.8.3.6.4 1.5.3 6.9.3 11.9.3 3.3.3-12.7.3 12.6.3-3.8.3 18.5.3-.9.3-13.2.3-17 .3 7.6.4 11.7.3-24.2.3 29.3.3-14.2.3-12.1.3-10.4.3 17.1.3 13.3.3 4.1.3-12.8.3 18.2.4-1.4.3-10 .3 9.3.3-20.4.3 30.7.3-15.1.3-14.5.3-12.4.3 28.4.3-16.4.3 18.9.3-14.9.4-.6.3 2.4.3.2.3 4.1.3 17.2.3-29.2.3 16.4.3-1.5.3 19.5.3-32.6.3 7.6.3 2.9.4-2 .3-7.6.3.6.3 28.1.3-28.1.3-7.4.3 19.9.3-2.1.3 4.1.3-4.5.3 8 .3 2.5.4-3.5.3 2.5.3-4.9.3 1.9.3-14.9.3 21 .3-15.8.3-2.6.3-10.1.3 18.1.3-10.5.4-3 .3-8.4.3 6.3.3-15 .3 20.2.3 2.4.3 2.8.3-22.7.3 16.6.3-5.1.3-7.2.3 23.6.4-4.2.3 6 .3-.6.3 0 .3-17.5.3 26.9.3-.5.3 16.7.3-26.6.3 10.7.3-9.4.3-13.6.4 22.5.3 1.4.3-12.1.3 14.9.3-10.2.3-27.2.3 19.6.3 6.5.3-14.4.3 21.8.3-7.4.3-3.3.4.7.3 11.4.3-.5.3-4.4.3 8.1.3-11.2.3-15.5.3-13.4.3 27.1.3-16.2.3 2.9.4-11.1.3 4.7.3 8.7.3 8 .3 10.7.3 3.2.3-10.8.3-13.6.3 12.4.3 7.4.3-10.3.3 7.6.4.5.3-11.7.3-8.1.3 18.6.3-1.8.3 4.1.3-14.6.3-2.6.3 6.7.3-14.2.3 3.2.3.7.4 10.4.3-5.7.3-13.8.3 12.6.3.2.3 20.4.3 6.6.3-28.3.3 8.1.3-14.3.3 6.7.3-1.8.4 14 .3-7.1.3-4.5.3 11.2.3-4.3.3 3.3.3-9.8.3 21.9.3-13.4.3 11 .3-16.1.3 9 .4-3.5.3-10.5.3 6.2.3 29.1.3-31.3.3 23.5.3-20.6.3 1.7.3-2.1.3 11.3.3-22.9.4 35 .3 3.3.3-16.8.3 3.3.3-7 .3-4.7.3 11.3.3 19.2.3-23.3.3-.3.3 11.1.3-7.3.4-5.8.3 8.9.3 4.4.3-21.8.3 18.1.3 5.8.3 11.2.3-15.9.3-15.8.3 13.6.3-1.6.3 28.8.4-9.6.3-23.5.3.5.3 22.8.3-34 .3 10.1.3 3.9.3 24.4.3-14.2.3-7 .3 6.2.3 12 .4 1.2.3-24.1.3 3.7.3 8.9.3-5.3.3-5.7.3 12.7.3 8.6.3-35.2.3 32 .3-16.6.4 47.5.3-47.3.3 3.4.3 15.4.3-18.1.3-2.7.3 11.7.3-6.5.3-5.8.3-3.5.3 11.5.3-5.1.4 10.6.3-8 .3 9.4.3-8.3.3-3.2.3 41.4.3-25.6.3-7.6.3 19.1.3-35 .3 12.3.3-22.8.4-3.9.3 43.3.3.2.3-15.6.3 20.5.3-7.9.3 4.5.3-24.9.3 4.2.3 16 .3.4.3-9.8.4 17 .3-13.9.3 8.3.3-2 .3-13 .3 12.8.3-16.2.3-13.3.3 14.7.3 16.3.3-34.2.4 40.3.3-14 .3-3.5.3 1.3.3 2 .3-10.1.3 22 .3-.5.3-8.4.3-12.7.3 0 .3 2.6.4 6.2.3-.1.3-21 .3 4.9.3 22 .3-10 .3 1.7.3 14.3.3-20.2.3-4 .3 16.6.3-22 .4 7.3.3-1.6.3 6.7.3 2 .3 6.3.3-5 .3-4.1.3 7.7.3-29.1.3 26.6.3 4.9.3-8.9.4 2.6.3 3.5.3-31.4.3 37.1.3-4.5.3-10.7.3-20.5.3-3.8.3 18.4.3 19.7.3-22.3.4-.9.3 3.2.3 2.6.3-21.7.3 1.6.3-2.7.3 24.3.3 15.5.3-11.6.3 1.1.3-15.2.3 16.6.4-24.5.3 13.7.3 1.1.3 7.9.3 9.1.3-18 .3-18 .3 27 .3-24.6.3 25.5.3-3.6.3-34.7.4 9.7.3 13.7.3-7.5.3 13.3.3-1.8.3 12.8.3-16.1.3-26.8.3 26.8.3-11 .3.6.3 7.5.4 1.3.3 3 .3-19.1.3 29.4.3-13.8.3-2.8.3-13.6.3 9.6.3-1.2.3 19.2.3-17.3.3 2 .4-11.4.3-.1.3.6.3-10.3.3 25 .3 11 .3-26.6.3 5.2.3-15.3.3-.1.3 4.9.4 24.5.3-7 .3-1.7.3-10.6.3 14.5.3 19.4.3-20.9.3-12.5.3 26.9.3-2.2.3-6.8.3 7.9.4 25.4.3-32.8.3.4.3-4.5.3 4 .3-5 .3 3.9.3-6.9.3 21.4.3-3.5.3-4.6.3-14.4.4 11.8.3 17.9.3-21.1.3-1 .3 1.2.3-14.6.3 23.1.3.3.3-.2.3-1 .3 14.9.3.6.4.9.3-8.3.3-1.2.3 7.4.3-2.7.3-13.8.3 1.4.3-10.9.3 12.2.3 21.1.3-26.4.4 2.3.3 24.5.3 2.5.3-4.6.3-21.6.3 12.1.3-32.9.3 18.9.3-11.5.3 25.9.3-11 .3-3.7.4 25 .3-17.9.3 15.3.3-14.2.3-2.9.3 10.8.3-.3.3 1.7.3-28.4.3 21.3.3-11 .3 20 .4-14.8.3 8.6.3 3.6.3 4.2.3-11.8.3-19.9.3 8 .3 16 .3.5.3-25.6.3 5.5.3-1 .4 14.7.3-.5.3-1.5.3-9.5.3-2.7.3-22.4" fill="none" stroke="#f0302e" stroke-width="1.5" stroke-linejoin="round" clip-path="url(#cG)"/>
<path d="M84.5 2071.4l.3 7.6.3-7.1.3 24.7.3-12.5.3-4.4.4 13.9.3-1.4.3-14.7.3-1.7.3 22.3.3-17 .3-2.1.3-22.8.3 29 .3 4 .3 15.9.3.1.4 2.9.3-21.7.3 10.4.3 6.7.3-30 .3 13.5.3 7 .3-6.3.3 22.8.3-10.3.3 4.8.3 16.7.4-14.8.3-11.8.3 3.4.3.1.3-15.4.3 8.4.3 6.6.3 5.4.3-6.3.3 20.4.3-.3.3-.9.4-2.1.3 6 .3-2.1.3-13.1.3 20.8.3-3.2.3-3.7.3-15.4.3 16.2.3-.2.3 11.2.4-1.8.3-15.7.3-3.4.3 42.9.3-17 .3 4 .3-9.1.3 12.9.3-16.1.3 6.4.3 6.1.3-5.4.4-5 .3-11.9.3 5.9.3 25.7.3-32.7.3 5.7.3-1.5.3 4.3.3-5.5.3-2.8.3 14.7.3-30.2.4 27.2.3 16.7.3-17.9.3 2 .3 11.3.3-19.5.3 9.6.3 3.3.3 3.7.3-1.8.3 5.1.3-15.1.4-10.8.3 15.2.3 1.3.3 16 .3-28.6.3 38.4.3 1 .3-.8.3-22.5.3 9 .3 7.7.4-30.5.3 0 .3-4 .3 1.4.3 34.4.3-23.5.3 26.2.3-25.5.3 5.2.3-8.9.3-.6.3-6.4.4 17.5.3 16.1.3-5 .3 7.4.3-23.7.3 15.8.3 6.3.3 6.4.3-15 .3 5.7.3-16.7.3-19.6.4 29.8.3-21.3.3-1.9.3 4 .3 12.8.3-14.6.3 19.6.3-4.1.3-29.6.3 14.5.3-10.6.3 16.6.4-.5.3.5.3 12.2.3-24.4.3 4.2.3-23 .3 18.2.3 6.4.3 3 .3-12.8.3 5.6.3 2.9.4-.5.3 2.8.3 3.4.3-8.7.3-24.5.3 16.7.3 26.4.3-40.4.3 4 .3-9 .3 1.4.4 32.2.3-19.5.3-2.2.3-3.4.3 11.5.3 12.6.3-4.5.3 7.2.3-11.8.3 6 .3-15.4.3 13.3.4 15 .3-21 .3 10.5.3-5.2.3 1.2.3 9.3.3-1.4.3 3.3.3 9.7.3-14.8.3 5.1.3-6.4.4 7.4.3 10 .3-3.6.3 11.9.3-14.4.3-9.2.3 7 .3-2.9.3 17.5.3 17.2.3-6.8.3-24.2.4 1.4.3 4.5.3 12 .3-21.4.3 21.1.3-8.6.3-.8.3 2.4.3-.6.3.6.3 8.6.4-2.2.3-12.8.3 14.2.3-8.8.3-2 .3-22.4.3 12 .3-16.2.3 21.2.3-7.2.3 2.6.3 10.7.4-30.3.3 10.2.3 16.6.3-2.4.3-16.2.3 12.1.3 3.2.3 4 .3-2 .3-1.8.3 10.7.3-11.4.4 17.1.3-10.8.3 0 .3-10.2.3 20.9.3-7.2.3-.2.3 9.8.3.3.3-16.4.3-16 .3 21.8.4-10.9.3-.1.3-6.9.3 28.7.3 1.7.3-7.2.3 5.6.3 4.7.3-6.2.3 4.7.3 23.6.4-24 .3 22.2.3-24.4.3-7.7.3 10.8.3-2.9.3 10.3.3-12.5.3-27.1.3 23 .3-2 .3-6.9.4 18.1.3-.1.3-7.4.3-13.7.3 5.7.3 14 .3-4.5.3 10.3.3-11.3.3-21.3.3 23.4.3 23.8.4-20 .3-12.8.3-4.3.3-5.4.3 15.1.3-8.1.3 12.9.3-2.5.3-16.7.3 13.5.3 1 .3-3.3.4-10.6.3 18 .3 2.9.3 10.5.3-24.6.3-13.7.3-7.1.3 6.6.3 20.7.3 6.9.3 19.1.3-18.4.4 18.8.3-12.8.3-21.4.3 18 .3 11.3.3-13.8.3-12.1.3 8.8.3 6.6.3 4.3.3-8.9.4 17.8.3-4.3.3 2.9.3 22.6.3-23.5.3-8.5.3 33 .3-14.8.3 3.2.3 15.8.3-18.6.3 36.6.4-31.2.3 4.5.3 12.9.3-9.7.3-13.5.3 25.8.3-4.6.3 9.1.3-19.3.3 8.1.3 15.7.3-1.5.4-12.3.3 1.1.3-22.8.3 18.3.3-19.6.3 19.5.3 15.5.3 4.4.3-22 .3 3.9.3 6 .3-28.8.4 21.8.3-8.4.3-10.5.3 12.3.3 7.8.3-1.2.3 10.9.3-4.9.3-9.2.3 15 .3-11 .4-11.6.3 20.6.3 23.4.3-12.2.3-13.4.3 7.7.3-13.4.3 19.1.3.7.3-8.4.3-18.4.3 15.3.4-10 .3 20.8.3-5.1.3 5.3.3 7.1.3 8.7.3-34.5.3-8.4.3 22.9.3-10.8.3-11.2.3 14.8.4-21.7.3 21.6.3-12.3.3-12.8.3-14.2.3 13.6.3 1.1.3-16.9.3 36.3.3 1.9.3-20 .3 10.7.4 5.9.3-2.6.3-3.9.3-6.2.3 16.9.3-.2.3 9 .3-22.5.3 11.2.3 15.8.3-25.7.4-4.1.3 19.3.3-23.3.3 20.6.3-7.5.3-1.4.3-7.4.3 3.4.3-4.3.3-6.6.3 26 .3-13.9.4 10.8.3 7.4.3-.2.3-37.4.3 15.8.3-5.4.3-14 .3-6.4.3 25.3.3-4.6.3 24 .3-37.8.4 10.9.3-2.9.3 6.9.3 18.4.3-.1.3-15.2.3 2.1.3-23 .3 9.6.3 14.4.3-10.2.3 12.9.4-10.6.3.2.3 32.6.3-26.6.3 18.8.3-31 .3 10.8.3 11.9.3.1.3-7.5.3 8.2.4 6.6.3-5.5.3-1.6.3-11.2.3-2 .3-3.7.3 11.6.3 3.2.3-1.8.3 5.2.3 2.7.3 4.8.4 2.1.3-42.8.3 38.7.3-11.1.3-18.3.3-2.6.3 21.2.3-20.1.3 13.7.3-4.6.3-12.4.3 9.1.4-7.4.3 8.8.3 9.1.3 4.1.3-3.3.3 20.4.3-21.1.3 14.6.3-3.5.3-5.5.3 3.2.3-11.4.4-14.3.3 7.7.3 5.8.3 16.8.3-3.8.3-24.1.3 2.8.3 6.2.3 7.1.3 22.7.3-37.4.4 27.2.3-6.6.3 12.1.3-2.2.3 3.5.3-5.6.3 16.9.3-12 .3-17.5.3 18.7.3-24.8.3 6.8.4-5.2.3.7.3-3.3.3 3.5.3 14.2.3 6.2.3-9.5.3 10.5.3-8 .3-28.1.3 6.3.3 15 .4 16.3.3-21.7.3-9.2.3-1.4.3 13 .3-19.7.3 20 .3 25.7.3-16.1.3 11.5.3-20.5.3 7 .4-22.7.3-4.1.3 22.6.3-14.3.3.3.3 2.7.3 4.5.3-13.4.3 35 .3 9.4.3-1.3.3-18.2.4-7.9.3 6.9.3-14.6.3 10.9.3-5.1.3 23.3.3-24.8.3 7 .3-2.9.3 1.5.3 18.7.4-5.2.3 13.3.3-21.8.3 20.4.3-16.5.3 3.9.3-7.3.3 6.1.3-3.9.3 16.7.3-6.1.3 3.3.4-5.5.3-24.5.3 21.9.3-18.1.3.8.3 17 .3-13.1.3 16.4.3-5.9.3-11.5.3-1.6.3 25.4.4 26.2.3-25.6.3 12 .3-8.1.3-17.5.3-19.6.3 29.2.3-29.5.3 11.2.3-19.2.3 19.4.3 16 .4-22.9.3 22.9.3-4.9.3 4.1.3 2.5.3-10.1.3-13 .3-7 .3-.1.3-5.8.3-4.7.4 15.4.3-10.3.3 5.2.3 1.1.3 18.3.3-17.9.3 25.7.3 9.3.3-18.6.3 3.1.3 4.4.3-10.8.4 7.3.3-10.5.3 7.8.3-3.3.3-8.4.3-4.2.3 29.7.3-7.1.3-9.2.3 7 .3-1.6.3-14.1.4-.5.3 4.1.3 12.7.3 27.3.3-35.7.3 21.2.3-30.1.3 13.9.3-3.2.3 15.3.3-31.8.3 13.8.4-8.4.3 25.1.3-22.6.3 12.1.3-12.5.3-14.4.3.6.3 26.7.3-19 .3 1.4.3-5.6.4-15.7.3 23.8.3 13.3.3-3.3.3-.3.3-1.8.3-17.4.3 9.8.3 5.9.3-4.9.3 22.9.3-8.4.4-23 .3 15.4.3 5.1.3-18 .3 15.5.3-14.5.3 20.3.3-11.8.3-13.3.3 24.9.3-17.1.3 26 .4-37.9.3 16.7.3 4.8.3-20.3.3 15.4.3-2 .3 13.1.3-13.2.3 8.5.3 10.8.3-3.3.3-10.4.4 19.7.3-26 .3 4.8.3-6.7.3 21.9.3-32.3.3 12 .3 18.9.3-8.3.3 5 .3 8.9.3-8.2.4-3.2.3 8.3.3-3.9.3-2 .3-23.4.3 14.7.3 11.2.3-20.1.3-.3.3-7.9.3 6.8.4-12.1.3 38.5.3-25.5.3 19.1.3-16.6.3 8.6.3-12.1.3 4.9.3 27.2.3-33.4.3 10.2.3-15.3.4 21.4.3-8.6.3 19.9.3-13.2.3 6.7.3 16.5.3-23.7.3-7.6.3 9.4.3 14.9.3 2.7.3-10.5.4-14.9.3 6.1.3-7 .3 6.3.3 15 .3-1.8.3 17.4.3-8.5.3-9.3.3 5.5.3 0 .3-11 .4.2.3-10.4.3 16.4.3 24 .3-18.2.3-2 .3-1.9.3-12.6.3 16.5.3 15.4.3-11.3.4-11.6.3 13.4.3-21 .3-.4.3 5.6.3-7.3.3 4 .3.3.3 7.1.3-5.7.3 2.9.3 12.2.4-12.8.3 8.1.3 8.7.3 1.8.3-22.7.3-16.1.3 29.1.3 17.5.3-20.2.3 6.2.3 1.4.3-4.8.4 27.6.3-26.5.3-2.8.3 5.1.3-26.6.3 23 .3-.1.3 10.2.3-5.6.3-29.8.3 29.2.3-3.9.4-9.4.3 9.6.3 25.5.3-15.5.3 16.1.3-15.2.3-6.5.3 22.6.3-13.4.3 9.9.3-21.2.4 3.7.3-.3.3-14.7.3 4.2.3-4.9.3 17.2.3-1.5.3-16 .3 19.7.3-1.8.3.6.3 4.2.4-22.2.3 6.1.3-1.3.3-2.1.3 24.2.3-17.3.3 14.8.3-2.2.3-28.8.3-3.1.3 20.2.3-16.9.4 20.5.3-6.8.3-15.6.3 8.6.3 6.6.3-10 .3 3.9.3-9.2.3 18 .3-11.4.3-3.7.3 6 .4-.4.3-10.6.3 5.4.3 12.8.3-22.4.3 17.1.3-4.1.3-11.2.3 8.4.3 6.4.3 22.7.4-23.4.3-2.2.3 9.7.3.1.3-30.1.3 31.1.3-31.4.3 12.1.3-8.2.3-7.6.3 1.1.3 24 .4-21.5.3 4.9.3-13.5.3 15.4.3 15.6.3 1.8.3-13.8.3 3.7.3 11.8.3-30.3.3 15.8.3 2.2.4 31.2.3-15.2.3 1.1.3-6.5.3-18 .3 9.4.3 6.6.3 11.3.3-19.7.3-10.1.3-6.8.3 34 .4-15.6.3 11.7.3-6.1.3-14.7.3 15.1.3 14.7.3-12.7.3-3.2.3 11.4.3.6.3 1.4.4-29.2.3 37.7.3-13.7.3-10.3.3 9.1.3 10.8.3-21.6.3 24.4.3-14.8.3 1.5.3-25.5.3 28.2.4-2.8.3 3.9.3 8.5.3 2.7.3-19.8.3-1.2.3 11.3.3 8.5.3-18.5.3 29.7.3-29.6.3 5.1.4-8.4.3 9.4.3 4 .3 4.4.3-26 .3 11.4.3 13.4.3 4.3.3-3.3.3-8.5.3-7.1.3 21.7.4-3.8.3-1.3.3 3.9.3-3.4.3-12.1.3 24 .3-25.9.3-17 .3 9.5.3-16.9.3 7.1.3 10.4.4 28.8.3 3.5.3-3.9.3-14 .3-1.5.3-19.5.3 1.5.3 11.1.3 16.3.3 1.5.3 1.8.4-2.4.3-4.1.3-3.9.3-1.5.3 11.2.3-7.6.3-.2.3 4.8.3 3.6.3-8 .3-2.1.3-1.6.4 7.1.3-16.1.3 20.8.3-13.6.3.4.3 12.6.3 11.3.3 11.7.3-17 .3-13.9.3 11.2.3-6.3.4-20.2.3 20.2.3.1.3-3.5.3 2.6.3 4.6.3-7.7.3-2.7.3-12.1.3 36.2.3-8 .3 5.5.4-21.3.3 17.2.3-11.9.3-37 .3 43.7.3-29 .3 18.3.3 12 .3-8 .3 16.1.3-7.6.4 18.6.3-30.5.3 27.5.3-24.7.3 6 .3-2.7.3-9.1.3-9.2.3 14.7.3-3.4.3.5.3 5.5.4-4.3.3 14.1.3-7.1.3-1.9.3 23.3.3-21.4.3.3.3-21 .3 6.2.3 12.2.3 10.5.3-3.2.4 1.5.3 3 .3-20.3.3 7.1.3 3.3.3 6.3.3 5.5.3-6.3.3 11.9.3-35 .3 24.6.3-10.4.4 5.1.3 5.2.3 6.7.3 7.8.3-29.1.3-3.4.3 1.5.3 4.9.3-10.9.3 30.6.3-.9.4-26.8.3 6.1.3 10 .3 8.4.3-11 .3 14.5.3.8.3-.3.3-6.8.3 8.2.3 2.2.3-30.8.4 12.5.3 8 .3 3.1.3-21.2.3-3 .3-17 .3 43.2.3 11.5.3-35.2.3 17.6.3 1.9.3 16 .4 4.2.3-24.7.3-4.8.3 10.3.3-14.2.3-6 .3 14.8.3-5.9.3 11.4.3-1.2.3-13.2.3 26.7.4-2.9.3-21.5.3 14 .3 16.9.3-31.9.3-6.9.3 23.7.3-10.9.3 10.4.3 3.7.3-20.6.3 26.5.4-3.5.3 6.9.3-13 .3-.4.3 9.4.3-23.6.3 3.1.3-9.8.3 17.8.3-4 .3 7.7.4-11.5.3 5.3.3.5.3-13.7.3 21.9.3 9.7.3-18.8.3 24.6.3-11.1.3-4.6.3-2.4.3 3.2.4.7.3-11.6.3-11.3.3-3.5.3 25 .3 8.1.3 1.2.3-2.9.3-1.8.3 5.3.3-38.5.3 17.3.4 17.4.3-17.4.3 5.7.3-.7.3-2.1.3.6.3-16.1.3-2.2.3 10.6.3 7.2.3 9.7.3 16.5.4-3.5.3-11.6.3-.4.3-1.7.3-6.3.3 15.1.3-11.2.3-1.3.3 5.5.3 2.3.3-7.5.4 1.6.3 6.1.3-2.9.3-1.1.3-6.3.3-.2.3 1 .3-13.3.3-10.3.3 23.1.3-18.1.3 19.7.4-5.7.3-1.3.3 3.4.3-12.8.3 20.7.3-7.4.3 12.3.3-7.2.3-5 .3 23.6.3-24.1.3.9.4 19.3.3 5.5.3-15 .3 5.4.3-14.1.3 6.8.3-3.4.3 5.7.3 15.2.3-37.2.3 18.8.3 15.9.4 2.2.3-32.4.3 43.8.3-51 .3 18.9.3-9.2.3 19.4.3-15.8.3 33 .3-4.6.3-19.8.4 4.7.3 9.3.3-8.3.3-.7.3 2.9.3 12.3.3-9.8.3-10.3.3 6.7.3 13.7.3-35.9.3 9.8.4 13.6.3 10.3.3-5.1.3-10.6.3-16.4.3 9 .3 29.7.3-24.6.3 1.1.3 2.9.3-.1.3-4.2.4 7.8.3 6.1.3-7.7.3-.2.3 7.2.3-5.7.3-14.5.3 9.3.3-6.3.3 17.9.3-11.9.3-.5.4 20.1.3-6.8.3.2.3 10.8.3-41.4.3 14.9.3 1 .3 19 .3-18.3.3-15.7.3 17 .4-12.5.3 2.8.3 19.3.3-8.5.3-.1.3-11.2.3 23.9.3-13.6.3-10.4.3 17.7.3-7.5.3 8.9.4-10.3.3 5.4.3-2.8.3 15.6.3-1.5.3-3.9.3-13.1.3 16.4.3 5.3.3-7.9.3 7.5.3-7 .4-24.5.3.9.3 3.4.3 24.5.3-24.4.3 3.3.3 26.1.3-30.3.3 22 .3-2.4.3-8.1.3-.7.4 7.4.3-2.4.3-3.9.3 5.3.3-13.5.3 14.3.3-16.1.3 14.6.3-7.9.3 14.4.3-5.6.4 14.8.3-3.3.3-2.7.3-24.2.3 10.9.3-8.6.3-9.3.3 7.4.3-8.2.3 16.6.3.4.3 23.7.4-39.1.3 18.1.3-11 .3 19 .3-13.7.3 5.6.3-12.9.3 8.9.3-4.5.3 5.9.3 2.1.3-18.7.4 30 .3 4.5.3-24.7.3-3.3.3 4.3.3 12.2.3-4.9.3 9.2.3-14.6.3 10.9.3 5 .3 2.9.4-30.5.3 37.8.3-21.1.3 1.6.3 3.8.3 1.4.3 5.6.3-2.9.3-11.3.3-3.1.3 9.1.3 6.2.4-5.1.3-1.1.3-4 .3-1.8.3-1.9.3 15.2.3-11.6.3-4.7.3 14.3.3-13.9.3 1 .4 5.9.3.6.3-17.7.3 2.4.3 27.4.3-22.4.3 17.4.3-9.5.3 8.4.3-13.2.3 24.2.3-20 .4 6.2.3 18.2.3-18.2.3 21.7.3-22.5.3.3.3-4.4.3 12.8.3 6 .3 20.8.3 9.7.3-30.8.4 2.6.3 7.5.3-9.1.3-6.6.3 5.2.3-1.1.3 7.9.3-15.6.3 21.8.3-10 .3 16.8.3-7 .4-10.1.3-11.7.3 20.4.3 6.9.3-9.4.3-9.9.3 19.6.3-22.4.3-14.7.3 27.7.3-26 .4 3.1.3-9.6.3-3.9.3 15.4.3 6.5.3 5.6.3 8.6.3-20.8.3 7.6.3 1.3.3-1.4.3-12.7.4-13.2.3 3.8.3 14 .3-2.2.3-.1.3-31.9.3 34.4.3 17.7.3-23.9.3 10.1.3 9.1.3-11.5.4.1.3-5.7.3 14 .3-12.2.3 5 .3-8.4.3 15.4.3-11.8.3-5.6.3 14.7.3-8.4.3 8 .4 11.6.3-8.7.3 12.6.3-13.3.3-18 .3 20.5.3 18.6.3-25.4.3-1 .3-8.4.3-14.5.4 10.9.3 6.6.3 7.4.3 4.9.3-9.8.3-4 .3 9 .3-13.8.3 5 .3 14 .3-5.8.3-5.2.4 6.9.3-8.4.3-13.1.3 15.4.3 1.9.3 7.9.3-14.2.3 14 .3-4.7.3 4.1.3-4 .3-12.9.4 21.9.3 9.9.3.7.3-18.6.3 10.5.3 5.3.3-21.5.3 6.1.3 5.9.3-16.6.3 5.9.3-17.9.4 18.8.3-24.5.3 27.3.3 5.6.3 12.9.3-26.6.3-10.7.3 14.3.3-5.1.3 3.4.3 2 .3-15.9.4 5.3.3 12.8.3 12.7.3-10.7.3-16.5.3 10.7.3-16.5.3 30.7.3 13.5.3-39.4.3 28.8.4-9 .3 3.6.3-13.6.3 38.7.3-19.3.3-2.1.3-3.9.3-12.6.3 13 .3.4.3-.9.3 20.4.4-14.7.3.9.3-21.9.3 6.5.3 6.6.3-2.5.3-2.9.3-3.7.3-18.8.3 8.1.3 23.1.3-7.7.4 1.9.3-6 .3 16.4.3-10.1.3-15.2.3 20.2.3 13.2.3-13.5.3 8.8.3-5.9.3 17.3.3-5 .4-8.7.3-.2.3 26.9.3-31.9.3-17.4.3 26.9.3-2.4.3-8.8.3 3.4.3-6.8.3 6.8.4 17.2.3-.4.3-20.7.3 10.9.3-4.6.3-21 .3 5.1.3 8.4.3 8.9.3-7.8.3 22.1.3-1.1.4-8.4.3 3.9.3 17.7.3-22.2.3-14.8.3 13.5.3-3.7.3 5.2.3-31.1.3 5 .3-1.2.3 23.8.4 15.4.3 6.1.3.8.3-31 .3 27.6.3-16.1.3-15.8.3 33.4.3-9 .3-35.7.3 5.4.3-1.6.4 9.9.3 7.6.3-2.9.3 3 .3 8 .3-20 .3-9.2.3 1 .3 1.4.3 5.4.3.4.4 22.6.3-15.5.3 4.9.3 26 .3-3.6.3-13.4.3 13.5.3-28.5.3 5 .3-3.5.3 21 .3-24.8.4-3.9.3 2.6.3-12.5.3 27.6.3 17.5.3-35.7.3 21.3.3 8.9.3-11.2.3 16.7.3-33.5.3 1.8.4 13.5.3.8.3-6.7.3-13.4.3 6.8.3-6 .3 19.8.3-14.9.3 14.7.3-14.7.3 16.6.3 1.1.4 24.1.3-14.4.3-9.4.3-13.7.3 11 .3-6.1.3-5.1.3 22.8.3-.6.3-5 .3-10.4.4-5.1.3 4.6.3 7.3.3 4 .3-3.9.3-4.5.3 13.3.3-9.5.3-14.7.3 3.1.3-10.9.3 10.5.4 2.1.3 17.3.3-3.5.3-16.9.3 12.7.3-25.5.3 37.2.3-20.5.3 37.3.3-35.2.3 13.3.3-3.5.4 9.8.3-4.1.3-7.1.3 11.6.3 4.4.3-18.4.3 13.4.3 4.6.3-27.4.3-3.3.3 17.1.3-16.2.4 22.4.3-1.7.3 11 .3-32.7.3 4.4.3 8 .3 18.5.3-4 .3-11.8.3-16.6.3 14.1.3-.1.4 6.5.3-9.9.3-20.3.3 11.5.3-3.3.3 22.1.3 4.5.3-3.8.3-21.3.3 16.5.3-10.3.4-.6.3 15.6.3 12.7.3-21.7.3-14.6.3 3.2.3-2.5.3 8.8.3 17.4.3.7.3-15.7.3 9.2.4-7.2.3-7.6.3-3.3.3 3 .3 22.2.3-13.1.3 5.8.3-10.3.3-1 .3 10.4.3-4.1.3 6.7.4-3.7.3 4.9.3-29.4.3 34.2.3-5.4.3 8.8.3 3.8.3-.7.3-19 .3 6.4.3 6.3.3 22.7.4-22.4.3-6.6.3 3.8.3 6.8.3 10.2.3-13.2.3 6.8.3-4.2.3-17 .3 14.8.3 4 .4-14.6.3 5.2.3 10.9.3-4.4.3-8.9.3-8.3.3-9.1.3-.5.3 19.9.3-.7.3 24.7.3-23 .4 16.6.3-3.3.3-4.8.3-3.3.3 18.6.3-25.1.3 4.5.3-3.7.3-5 .3-2.4.3-13.5.3 24.8.4-10.9.3 17.2.3-25.6.3 8.4.3 3 .3-5.1.3 8.7.3-22.1.3 20.3.3-2.8.3 13.8.3-7.6.4-15.3.3 8.7.3-11.4.3 2.2.3-18.5.3 12.6.3-8 .3 12.3.3 14.6.3 2.8.3-7.4.4 14.3.3-11.9.3 6.1.3 2.1.3 4.3.3-35.7.3 6.9.3 6 .3-4.3.3 7 .3 9.3.3 10.4.4-27 .3-.5.3-3 .3-1.6.3 9.6.3 7.2.3 6.8.3-9.8.3-30.9.3 26.1.3 11.9.3-20.1.4-11.9.3 21.1.3 3.1.3 1.5.3-6.2.3-9.8.3 25.2.3-11.6.3 1.3.3 1.9.3-2.7.3-3.4.4 16 .3-12.8.3 14.6.3-7.1.3-33.4.3 19.8.3 12.1.3-21.9.3 27.5.3-32.9.3 11 .4 28.4.3-19.2.3 9.1.3-11.3.3 15.6.3-3.7.3 5.4.3-28.6.3.1.3-1.9.3 8.7.3.4.4-4.4.3-11.9.3 25.9.3-22.6.3 22.3.3-30.3.3 28.7.3-20.5.3-12.6.3 11.8.3-1 .3.1.4 6.7.3-10.8.3 14.6.3 8.4.3-11.8.3 25.4.3-1.5.3-24.1.3-22.8.3 12.2.3 34.6.3-13.5.4-1.3.3-2.7.3-8.5.3 4.5.3 6.6.3-8.3.3 32.5.3-27 .3-16.5.3 11.7.3 1.4.3-13.2.4 12.4.3 11.6.3-33.2.3 10.6.3 3.6.3 25 .3-11.9.3-8.7.3 10.9.3 9.4.3 14.1.4-9.1.3-21.5.3 22 .3-6.9.3 7 .3 5.6.3-18.1.3 1.1.3 8.2.3-.9.3 2.4.3-23.9.4 20.7.3-34.2.3 23.7.3-21 .3 20.7.3-9.6.3 16.9.3-6.4.3 10.2.3-26.1.3 13.9.3 16.9.4-7.4.3-13.5.3 3.6.3-5.2.3 18.3.3-17.1.3-1.5.3 22.9.3-14.4.3 5.3.3-5.8.3-13.7.4 33.3.3-24 .3 2.8.3-20.9.3 5.8.3-8.8.3 9.2.3-3.8.3 14.7.3-26.1.3 18 .4 2.3.3.1.3 5.2.3 4.3.3 17.4.3-18.5.3 4.4.3-20 .3 28.9.3-1.9.3-14 .3-20.9.4 2.9.3 12.4.3.2.3-6.2.3 11.2.3-12.9.3 24.9.3-12.7.3-16.3.3 12.6.3 13.2.3-23.4.4 14.7.3 2.8.3 5.8.3-21.9.3 8.5.3-4.4.3 4.3.3 4.6.3.6.3 10.3.3-7.6.3-12.1.4-8.5.3 9.9.3 10.5.3 6.8.3-11.6.3 15" fill="none" stroke="#3d78ea" stroke-width="1.5" stroke-linejoin="round" clip-path="url(#cG)"/>
<g stroke="#000" stroke-width="2" fill="#000"><line x1="84.50" y1="2418.20" x2="84.50" y2="2428.20"/>
<text stroke="none" transform="translate(84.50,2450.80) scale(0.93,1)" text-anchor="middle" font-size="23.5">0</text>
<line x1="146.20" y1="2418.20" x2="146.20" y2="2423.20"/>
<line x1="207.90" y1="2418.20" x2="207.90" y2="2428.20"/>
<text stroke="none" transform="translate(207.90,2450.80) scale(0.93,1)" text-anchor="middle" font-size="23.5">20</text>
<line x1="269.60" y1="2418.20" x2="269.60" y2="2423.20"/>
<line x1="331.30" y1="2418.20" x2="331.30" y2="2428.20"/>
<text stroke="none" transform="translate(331.30,2450.80) scale(0.93,1)" text-anchor="middle" font-size="23.5">40</text>
<line x1="393.00" y1="2418.20" x2="393.00" y2="2423.20"/>
<line x1="454.70" y1="2418.20" x2="454.70" y2="2428.20"/>
<text stroke="none" transform="translate(454.70,2450.80) scale(0.93,1)" text-anchor="middle" font-size="23.5">60</text>
<line x1="516.40" y1="2418.20" x2="516.40" y2="2423.20"/>
<line x1="578.10" y1="2418.20" x2="578.10" y2="2428.20"/>
<text stroke="none" transform="translate(578.10,2450.80) scale(0.93,1)" text-anchor="middle" font-size="23.5">80</text>
<line x1="639.80" y1="2418.20" x2="639.80" y2="2423.20"/>
<line x1="701.50" y1="2418.20" x2="701.50" y2="2428.20"/>
<text stroke="none" transform="translate(701.50,2450.80) scale(0.93,1)" text-anchor="middle" font-size="23.5">100</text>
<line x1="74.50" y1="2418.20" x2="84.50" y2="2418.20"/>
<text stroke="none" transform="translate(67.90,2425.10) scale(0.93,1)" text-anchor="end" font-size="23.5">120</text>
<line x1="79.50" y1="2368.38" x2="84.50" y2="2368.38"/>
<line x1="74.50" y1="2318.56" x2="84.50" y2="2318.56"/>
<text stroke="none" transform="translate(67.90,2325.46) scale(0.93,1)" text-anchor="end" font-size="23.5">140</text>
<line x1="79.50" y1="2268.74" x2="84.50" y2="2268.74"/>
<line x1="74.50" y1="2218.92" x2="84.50" y2="2218.92"/>
<text stroke="none" transform="translate(67.90,2225.82) scale(0.93,1)" text-anchor="end" font-size="23.5">160</text>
<line x1="79.50" y1="2169.10" x2="84.50" y2="2169.10"/>
<line x1="74.50" y1="2119.28" x2="84.50" y2="2119.28"/>
<text stroke="none" transform="translate(67.90,2126.18) scale(0.93,1)" text-anchor="end" font-size="23.5">180</text>
<line x1="79.50" y1="2069.46" x2="84.50" y2="2069.46"/>
<line x1="74.50" y1="2019.64" x2="84.50" y2="2019.64"/>
<text stroke="none" transform="translate(67.90,2026.54) scale(0.93,1)" text-anchor="end" font-size="23.5">200</text>
<line x1="79.50" y1="1969.82" x2="84.50" y2="1969.82"/>
<line x1="74.50" y1="1920.00" x2="84.50" y2="1920.00"/>
<text stroke="none" transform="translate(67.90,1926.90) scale(0.93,1)" text-anchor="end" font-size="23.5">220</text>
<rect x="84.50" y="1920.00" width="617.00" height="498.20" fill="none"/>
<text stroke="none" transform="translate(393.00,2491.50) scale(0.945,1)" text-anchor="middle" font-size="27.5">Time (ns)</text>
<text stroke="none" transform="translate(24.90,2169.10) rotate(-90)" text-anchor="middle" font-size="26">Hydrophilic SASA/nm<tspan font-size="18.5" dy="-10">2</tspan></text></g>
<line x1="563.7" y1="1936.60" x2="606.8" y2="1936.60" stroke="#383838" stroke-width="1.6" opacity="0.8"/>
<text x="611.3000000000001" y="1942.80" font-size="18.7">AGHDDFP</text>
<line x1="563.7" y1="1960.00" x2="606.8" y2="1960.00" stroke="#f0302e" stroke-width="1.6" opacity="0.8"/>
<text x="611.3000000000001" y="1966.20" font-size="18.7">GYDTF</text>
<line x1="563.7" y1="1983.40" x2="606.8" y2="1983.40" stroke="#3d78ea" stroke-width="1.6" opacity="0.8"/>
<text x="611.3000000000001" y="1989.60" font-size="18.7">NGYDMR</text>
<text transform="translate(72.6,1903.3) scale(0.9,1)" font-size="29.5">G</text>
</svg></body></html>
